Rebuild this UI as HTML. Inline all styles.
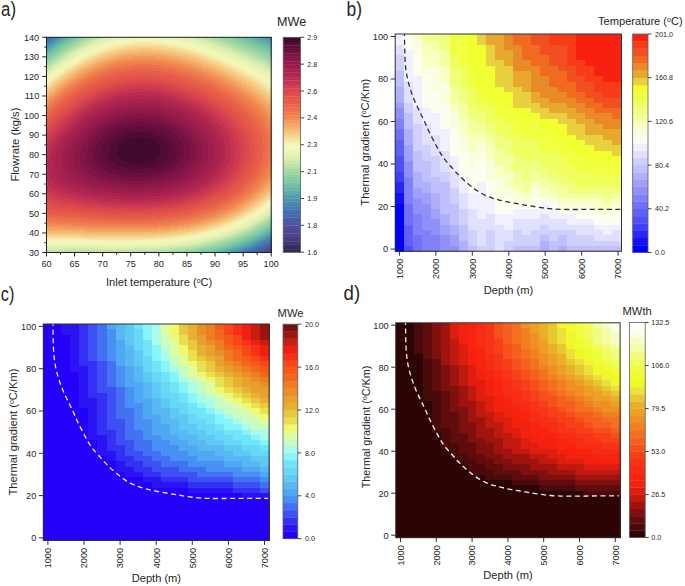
<!DOCTYPE html>
<html><head><meta charset="utf-8"><style>
html,body{margin:0;padding:0;background:#fff;width:685px;height:586px;overflow:hidden;}
</style></head><body>
<svg width="685" height="586" viewBox="0 0 685 586" style="position:absolute;left:0;top:0" font-family='"Liberation Sans", sans-serif' fill="#262626">
<rect x="0" y="0" width="685" height="586" fill="#ffffff"/>
<defs><clipPath id="clipB"><rect x="395.2" y="34.0" width="226.30" height="217.20"/></clipPath><clipPath id="clipC"><rect x="43.3" y="324.0" width="225.80" height="216.40"/></clipPath><clipPath id="clipD"><rect x="395.7" y="322.8" width="224.40" height="214.90"/></clipPath></defs>
<g shape-rendering="crispEdges"><path fill="#473b7e" d="M271.0 251.3h0.5v1.3h-0.5zM270.0 252.3h1.5v0.5h-1.5z"/>
<path fill="#4a4187" d="M270.0 250.3h1.5v1.3h-1.5zM268.0 251.3h3.3v1.3h-3.3zM267.0 252.3h3.3v0.5h-3.3z"/>
<path fill="#4c4690" d="M271.0 248.3h0.5v1.3h-0.5zM269.0 249.3h2.5v1.3h-2.5zM267.0 250.3h3.3v1.3h-3.3zM265.0 251.3h3.3v1.3h-3.3zM263.5 252.3h3.8v0.5h-3.8z"/>
<path fill="#4e4b98" d="M270.0 247.3h1.5v1.3h-1.5zM268.0 248.3h3.3v1.3h-3.3zM266.0 249.3h3.3v1.3h-3.3zM264.0 250.3h3.3v1.3h-3.3zM262.0 251.3h3.3v1.3h-3.3zM260.5 252.3h3.3v0.5h-3.3z"/>
<path fill="#5050a0" d="M271.0 245.3h0.5v1.3h-0.5zM269.0 246.3h2.5v1.3h-2.5zM267.0 247.3h3.3v1.3h-3.3zM265.0 248.3h3.3v1.3h-3.3zM263.0 249.3h3.3v1.3h-3.3zM260.5 250.3h3.8v1.3h-3.8zM258.5 251.3h3.8v1.3h-3.8zM257.0 252.3h3.8v0.5h-3.8z"/>
<path fill="#4c58a4" d="M270.0 244.3h1.5v1.3h-1.5zM268.0 245.3h3.3v1.3h-3.3zM266.0 246.3h3.3v1.3h-3.3zM264.0 247.3h3.3v1.3h-3.3zM261.5 248.3h3.8v1.3h-3.8zM259.5 249.3h3.8v1.3h-3.8zM257.5 250.3h3.3v1.3h-3.3zM255.0 251.3h3.8v1.3h-3.8zM253.5 252.3h3.8v0.5h-3.8z"/>
<path fill="#4860a8" d="M46.5 37.3h0.8v1.3h-0.8zM270.5 242.3h1.0v1.3h-1.0zM269.0 243.3h2.5v1.3h-2.5zM267.0 244.3h3.3v1.3h-3.3zM265.0 245.3h3.3v1.3h-3.3zM262.5 246.3h3.8v1.3h-3.8zM260.5 247.3h3.8v1.3h-3.8zM258.5 248.3h3.3v1.3h-3.3zM256.0 249.3h3.8v1.3h-3.8zM253.5 250.3h4.3v1.3h-4.3zM251.5 251.3h3.8v1.3h-3.8zM250.0 252.3h3.8v0.5h-3.8z"/>
<path fill="#4469ac" d="M47.0 37.3h2.8v1.3h-2.8zM46.5 38.3h2.3v1.3h-2.3zM46.5 39.3h0.8v1.3h-0.8zM269.5 241.3h2.0v1.3h-2.0zM267.5 242.3h3.3v1.3h-3.3zM265.5 243.3h3.8v1.3h-3.8zM263.5 244.3h3.8v1.3h-3.8zM261.5 245.3h3.8v1.3h-3.8zM259.5 246.3h3.3v1.3h-3.3zM257.0 247.3h3.8v1.3h-3.8zM255.0 248.3h3.8v1.3h-3.8zM252.5 249.3h3.8v1.3h-3.8zM250.0 250.3h3.8v1.3h-3.8zM247.5 251.3h4.3v1.3h-4.3zM246.0 252.3h4.3v0.5h-4.3z"/>
<path fill="#4071b0" d="M49.5 37.3h2.8v1.3h-2.8zM48.5 38.3h2.8v1.3h-2.8zM47.0 39.3h2.8v1.3h-2.8zM46.5 40.3h2.3v1.3h-2.3zM46.5 41.3h0.8v1.3h-0.8zM270.0 239.3h1.5v1.3h-1.5zM268.5 240.3h3.0v1.3h-3.0zM266.5 241.3h3.3v1.3h-3.3zM264.5 242.3h3.3v1.3h-3.3zM262.5 243.3h3.3v1.3h-3.3zM260.0 244.3h3.8v1.3h-3.8zM258.0 245.3h3.8v1.3h-3.8zM256.0 246.3h3.8v1.3h-3.8zM253.5 247.3h3.8v1.3h-3.8zM251.0 248.3h4.3v1.3h-4.3zM248.5 249.3h4.3v1.3h-4.3zM246.0 250.3h4.3v1.3h-4.3zM243.5 251.3h4.3v1.3h-4.3zM242.0 252.3h4.3v0.5h-4.3z"/>
<path fill="#447cb0" d="M52.0 37.3h3.3v1.3h-3.3zM51.0 38.3h2.8v1.3h-2.8zM49.5 39.3h2.8v1.3h-2.8zM48.5 40.3h2.8v1.3h-2.8zM47.0 41.3h2.8v1.3h-2.8zM46.5 42.3h2.3v1.3h-2.3zM46.5 43.3h0.8v1.3h-0.8zM270.5 237.3h1.0v1.3h-1.0zM269.0 238.3h2.5v1.3h-2.5zM267.0 239.3h3.3v1.3h-3.3zM265.0 240.3h3.8v1.3h-3.8zM263.0 241.3h3.8v1.3h-3.8zM261.0 242.3h3.8v1.3h-3.8zM259.0 243.3h3.8v1.3h-3.8zM256.5 244.3h3.8v1.3h-3.8zM254.5 245.3h3.8v1.3h-3.8zM252.0 246.3h4.3v1.3h-4.3zM250.0 247.3h3.8v1.3h-3.8zM247.5 248.3h3.8v1.3h-3.8zM244.5 249.3h4.3v1.3h-4.3zM242.0 250.3h4.3v1.3h-4.3zM239.0 251.3h4.8v1.3h-4.8zM237.5 252.3h4.8v0.5h-4.8z"/>
<path fill="#4787b0" d="M55.0 37.3h3.3v1.3h-3.3zM270.5 37.3h1.0v1.3h-1.0zM53.5 38.3h3.3v1.3h-3.3zM52.0 39.3h3.3v1.3h-3.3zM51.0 40.3h2.8v1.3h-2.8zM49.5 41.3h2.8v1.3h-2.8zM48.5 42.3h2.8v1.3h-2.8zM47.0 43.3h2.8v1.3h-2.8zM46.5 44.3h2.3v1.3h-2.3zM46.5 45.3h0.8v1.3h-0.8zM271.0 235.3h0.5v1.3h-0.5zM269.5 236.3h2.0v1.3h-2.0zM267.5 237.3h3.3v1.3h-3.3zM265.5 238.3h3.8v1.3h-3.8zM263.5 239.3h3.8v1.3h-3.8zM261.5 240.3h3.8v1.3h-3.8zM259.5 241.3h3.8v1.3h-3.8zM257.5 242.3h3.8v1.3h-3.8zM255.5 243.3h3.8v1.3h-3.8zM253.0 244.3h3.8v1.3h-3.8zM251.0 245.3h3.8v1.3h-3.8zM248.5 246.3h3.8v1.3h-3.8zM246.0 247.3h4.3v1.3h-4.3zM243.0 248.3h4.8v1.3h-4.8zM240.5 249.3h4.3v1.3h-4.3zM237.5 250.3h4.8v1.3h-4.8zM234.5 251.3h4.8v1.3h-4.8zM233.0 252.3h4.8v0.5h-4.8z"/>
<path fill="#4a92b0" d="M58.0 37.3h2.8v1.3h-2.8zM264.5 37.3h6.3v1.3h-6.3zM56.5 38.3h2.8v1.3h-2.8zM267.0 38.3h4.5v1.3h-4.5zM55.0 39.3h3.3v1.3h-3.3zM269.5 39.3h2.0v1.3h-2.0zM53.5 40.3h3.3v1.3h-3.3zM52.0 41.3h3.3v1.3h-3.3zM51.0 42.3h2.8v1.3h-2.8zM49.5 43.3h3.3v1.3h-3.3zM48.5 44.3h2.8v1.3h-2.8zM47.0 45.3h2.8v1.3h-2.8zM46.5 46.3h2.3v1.3h-2.3zM46.5 47.3h0.8v1.3h-0.8zM270.0 234.3h1.5v1.3h-1.5zM268.0 235.3h3.3v1.3h-3.3zM266.0 236.3h3.8v1.3h-3.8zM264.5 237.3h3.3v1.3h-3.3zM262.5 238.3h3.3v1.3h-3.3zM260.5 239.3h3.3v1.3h-3.3zM258.5 240.3h3.3v1.3h-3.3zM256.0 241.3h3.8v1.3h-3.8zM254.0 242.3h3.8v1.3h-3.8zM251.5 243.3h4.3v1.3h-4.3zM249.5 244.3h3.8v1.3h-3.8zM247.0 245.3h4.3v1.3h-4.3zM244.5 246.3h4.3v1.3h-4.3zM241.5 247.3h4.8v1.3h-4.8zM239.0 248.3h4.3v1.3h-4.3zM236.0 249.3h4.8v1.3h-4.8zM233.0 250.3h4.8v1.3h-4.8zM230.0 251.3h4.8v1.3h-4.8zM228.0 252.3h5.3v0.5h-5.3z"/>
<path fill="#519eae" d="M60.5 37.3h3.3v1.3h-3.3zM258.5 37.3h6.3v1.3h-6.3zM59.0 38.3h3.3v1.3h-3.3zM261.0 38.3h6.3v1.3h-6.3zM58.0 39.3h2.8v1.3h-2.8zM263.0 39.3h6.8v1.3h-6.8zM56.5 40.3h3.3v1.3h-3.3zM265.5 40.3h6.0v1.3h-6.0zM55.0 41.3h3.3v1.3h-3.3zM268.0 41.3h3.5v1.3h-3.5zM53.5 42.3h3.3v1.3h-3.3zM270.5 42.3h1.0v1.3h-1.0zM52.5 43.3h2.8v1.3h-2.8zM51.0 44.3h2.8v1.3h-2.8zM49.5 45.3h3.3v1.3h-3.3zM48.5 46.3h2.8v1.3h-2.8zM47.0 47.3h3.3v1.3h-3.3zM46.5 48.3h2.3v1.3h-2.3zM46.5 49.3h0.8v1.3h-0.8zM270.0 232.3h1.5v1.3h-1.5zM268.5 233.3h3.0v1.3h-3.0zM266.5 234.3h3.8v1.3h-3.8zM265.0 235.3h3.3v1.3h-3.3zM263.0 236.3h3.3v1.3h-3.3zM261.0 237.3h3.8v1.3h-3.8zM259.0 238.3h3.8v1.3h-3.8zM257.0 239.3h3.8v1.3h-3.8zM254.5 240.3h4.3v1.3h-4.3zM252.5 241.3h3.8v1.3h-3.8zM250.0 242.3h4.3v1.3h-4.3zM248.0 243.3h3.8v1.3h-3.8zM245.5 244.3h4.3v1.3h-4.3zM242.5 245.3h4.8v1.3h-4.8zM240.0 246.3h4.8v1.3h-4.8zM237.5 247.3h4.3v1.3h-4.3zM234.5 248.3h4.8v1.3h-4.8zM231.5 249.3h4.8v1.3h-4.8zM228.0 250.3h5.3v1.3h-5.3zM224.5 251.3h5.8v1.3h-5.8zM222.5 252.3h5.8v0.5h-5.8z"/>
<path fill="#5ba9ab" d="M63.5 37.3h3.8v1.3h-3.8zM252.0 37.3h6.8v1.3h-6.8zM62.0 38.3h3.8v1.3h-3.8zM254.5 38.3h6.8v1.3h-6.8zM60.5 39.3h3.8v1.3h-3.8zM257.0 39.3h6.3v1.3h-6.3zM59.5 40.3h3.3v1.3h-3.3zM259.5 40.3h6.3v1.3h-6.3zM58.0 41.3h3.3v1.3h-3.3zM262.0 41.3h6.3v1.3h-6.3zM56.5 42.3h3.3v1.3h-3.3zM264.5 42.3h6.3v1.3h-6.3zM55.0 43.3h3.3v1.3h-3.3zM267.0 43.3h4.5v1.3h-4.5zM53.5 44.3h3.3v1.3h-3.3zM269.0 44.3h2.5v1.3h-2.5zM52.5 45.3h2.8v1.3h-2.8zM51.0 46.3h3.3v1.3h-3.3zM50.0 47.3h2.8v1.3h-2.8zM48.5 48.3h2.8v1.3h-2.8zM47.0 49.3h3.3v1.3h-3.3zM46.5 50.3h2.3v1.3h-2.3zM46.5 51.3h1.3v1.3h-1.3zM270.5 230.3h1.0v1.3h-1.0zM269.0 231.3h2.5v1.3h-2.5zM267.0 232.3h3.3v1.3h-3.3zM265.0 233.3h3.8v1.3h-3.8zM263.5 234.3h3.3v1.3h-3.3zM261.5 235.3h3.8v1.3h-3.8zM259.5 236.3h3.8v1.3h-3.8zM257.5 237.3h3.8v1.3h-3.8zM255.5 238.3h3.8v1.3h-3.8zM253.0 239.3h4.3v1.3h-4.3zM251.0 240.3h3.8v1.3h-3.8zM248.5 241.3h4.3v1.3h-4.3zM246.0 242.3h4.3v1.3h-4.3zM243.5 243.3h4.8v1.3h-4.8zM241.0 244.3h4.8v1.3h-4.8zM238.5 245.3h4.3v1.3h-4.3zM235.5 246.3h4.8v1.3h-4.8zM232.5 247.3h5.3v1.3h-5.3zM229.5 248.3h5.3v1.3h-5.3zM226.0 249.3h5.8v1.3h-5.8zM223.0 250.3h5.3v1.3h-5.3zM219.0 251.3h5.8v1.3h-5.8zM216.5 252.3h6.3v0.5h-6.3z"/>
<path fill="#65b4a8" d="M67.0 37.3h3.3v1.3h-3.3zM246.0 37.3h6.3v1.3h-6.3zM65.5 38.3h3.3v1.3h-3.3zM248.5 38.3h6.3v1.3h-6.3zM64.0 39.3h3.3v1.3h-3.3zM251.0 39.3h6.3v1.3h-6.3zM62.5 40.3h3.3v1.3h-3.3zM253.5 40.3h6.3v1.3h-6.3zM61.0 41.3h3.3v1.3h-3.3zM256.0 41.3h6.3v1.3h-6.3zM59.5 42.3h3.3v1.3h-3.3zM258.5 42.3h6.3v1.3h-6.3zM58.0 43.3h3.3v1.3h-3.3zM260.5 43.3h6.8v1.3h-6.8zM56.5 44.3h3.3v1.3h-3.3zM263.0 44.3h6.3v1.3h-6.3zM55.0 45.3h3.3v1.3h-3.3zM265.5 45.3h6.0v1.3h-6.0zM54.0 46.3h2.8v1.3h-2.8zM267.5 46.3h4.0v1.3h-4.0zM52.5 47.3h3.3v1.3h-3.3zM270.0 47.3h1.5v1.3h-1.5zM51.0 48.3h3.3v1.3h-3.3zM50.0 49.3h2.8v1.3h-2.8zM48.5 50.3h3.3v1.3h-3.3zM47.5 51.3h2.8v1.3h-2.8zM46.5 52.3h2.8v1.3h-2.8zM46.5 53.3h1.3v1.3h-1.3zM270.5 228.3h1.0v1.3h-1.0zM269.0 229.3h2.5v1.3h-2.5zM267.5 230.3h3.3v1.3h-3.3zM265.5 231.3h3.8v1.3h-3.8zM263.5 232.3h3.8v1.3h-3.8zM262.0 233.3h3.3v1.3h-3.3zM260.0 234.3h3.8v1.3h-3.8zM258.0 235.3h3.8v1.3h-3.8zM256.0 236.3h3.8v1.3h-3.8zM253.5 237.3h4.3v1.3h-4.3zM251.5 238.3h4.3v1.3h-4.3zM249.5 239.3h3.8v1.3h-3.8zM247.0 240.3h4.3v1.3h-4.3zM244.5 241.3h4.3v1.3h-4.3zM242.0 242.3h4.3v1.3h-4.3zM239.5 243.3h4.3v1.3h-4.3zM236.5 244.3h4.8v1.3h-4.8zM234.0 245.3h4.8v1.3h-4.8zM231.0 246.3h4.8v1.3h-4.8zM227.5 247.3h5.3v1.3h-5.3zM224.5 248.3h5.3v1.3h-5.3zM220.5 249.3h5.8v1.3h-5.8zM217.0 250.3h6.3v1.3h-6.3zM213.0 251.3h6.3v1.3h-6.3zM210.0 252.3h6.8v0.5h-6.8z"/>
<path fill="#6fbfa4" d="M70.0 37.3h3.8v1.3h-3.8zM240.0 37.3h6.3v1.3h-6.3zM68.5 38.3h3.8v1.3h-3.8zM242.5 38.3h6.3v1.3h-6.3zM67.0 39.3h3.8v1.3h-3.8zM245.0 39.3h6.3v1.3h-6.3zM65.5 40.3h3.3v1.3h-3.3zM247.5 40.3h6.3v1.3h-6.3zM64.0 41.3h3.3v1.3h-3.3zM250.0 41.3h6.3v1.3h-6.3zM62.5 42.3h3.3v1.3h-3.3zM252.5 42.3h6.3v1.3h-6.3zM61.0 43.3h3.3v1.3h-3.3zM254.5 43.3h6.3v1.3h-6.3zM59.5 44.3h3.3v1.3h-3.3zM257.0 44.3h6.3v1.3h-6.3zM58.0 45.3h3.3v1.3h-3.3zM259.5 45.3h6.3v1.3h-6.3zM56.5 46.3h3.3v1.3h-3.3zM261.5 46.3h6.3v1.3h-6.3zM55.5 47.3h3.3v1.3h-3.3zM264.0 47.3h6.3v1.3h-6.3zM54.0 48.3h3.3v1.3h-3.3zM266.5 48.3h5.0v1.3h-5.0zM52.5 49.3h3.3v1.3h-3.3zM268.5 49.3h3.0v1.3h-3.0zM51.5 50.3h2.8v1.3h-2.8zM270.5 50.3h1.0v1.3h-1.0zM50.0 51.3h3.3v1.3h-3.3zM49.0 52.3h2.8v1.3h-2.8zM47.5 53.3h3.3v1.3h-3.3zM46.5 54.3h2.8v1.3h-2.8zM46.5 55.3h1.3v1.3h-1.3zM271.0 226.3h0.5v1.3h-0.5zM269.0 227.3h2.5v1.3h-2.5zM267.5 228.3h3.3v1.3h-3.3zM265.5 229.3h3.8v1.3h-3.8zM264.0 230.3h3.8v1.3h-3.8zM262.0 231.3h3.8v1.3h-3.8zM260.0 232.3h3.8v1.3h-3.8zM258.5 233.3h3.8v1.3h-3.8zM256.5 234.3h3.8v1.3h-3.8zM254.0 235.3h4.3v1.3h-4.3zM252.0 236.3h4.3v1.3h-4.3zM250.0 237.3h3.8v1.3h-3.8zM247.5 238.3h4.3v1.3h-4.3zM245.0 239.3h4.8v1.3h-4.8zM243.0 240.3h4.3v1.3h-4.3zM240.0 241.3h4.8v1.3h-4.8zM237.5 242.3h4.8v1.3h-4.8zM235.0 243.3h4.8v1.3h-4.8zM232.0 244.3h4.8v1.3h-4.8zM229.0 245.3h5.3v1.3h-5.3zM225.5 246.3h5.8v1.3h-5.8zM222.0 247.3h5.8v1.3h-5.8zM218.5 248.3h6.3v1.3h-6.3zM214.5 249.3h6.3v1.3h-6.3zM210.5 250.3h6.8v1.3h-6.8zM206.0 251.3h7.3v1.3h-7.3zM203.0 252.3h7.3v0.5h-7.3z"/>
<path fill="#7bc6a4" d="M73.5 37.3h4.3v1.3h-4.3zM233.5 37.3h6.8v1.3h-6.8zM72.0 38.3h3.8v1.3h-3.8zM236.0 38.3h6.8v1.3h-6.8zM70.5 39.3h3.8v1.3h-3.8zM238.5 39.3h6.8v1.3h-6.8zM68.5 40.3h3.8v1.3h-3.8zM241.0 40.3h6.8v1.3h-6.8zM67.0 41.3h3.8v1.3h-3.8zM243.5 41.3h6.8v1.3h-6.8zM65.5 42.3h3.8v1.3h-3.8zM246.0 42.3h6.8v1.3h-6.8zM64.0 43.3h3.8v1.3h-3.8zM248.5 43.3h6.3v1.3h-6.3zM62.5 44.3h3.8v1.3h-3.8zM251.0 44.3h6.3v1.3h-6.3zM61.0 45.3h3.8v1.3h-3.8zM253.5 45.3h6.3v1.3h-6.3zM59.5 46.3h3.8v1.3h-3.8zM255.5 46.3h6.3v1.3h-6.3zM58.5 47.3h3.3v1.3h-3.3zM258.0 47.3h6.3v1.3h-6.3zM57.0 48.3h3.3v1.3h-3.3zM260.5 48.3h6.3v1.3h-6.3zM55.5 49.3h3.3v1.3h-3.3zM262.5 49.3h6.3v1.3h-6.3zM54.0 50.3h3.3v1.3h-3.3zM265.0 50.3h5.8v1.3h-5.8zM53.0 51.3h3.3v1.3h-3.3zM267.0 51.3h4.5v1.3h-4.5zM51.5 52.3h3.3v1.3h-3.3zM269.0 52.3h2.5v1.3h-2.5zM50.5 53.3h2.8v1.3h-2.8zM49.0 54.3h3.3v1.3h-3.3zM47.5 55.3h3.3v1.3h-3.3zM46.5 56.3h2.8v1.3h-2.8zM46.5 57.3h1.8v1.3h-1.8zM271.0 224.3h0.5v1.3h-0.5zM269.0 225.3h2.5v1.3h-2.5zM267.5 226.3h3.8v1.3h-3.8zM266.0 227.3h3.3v1.3h-3.3zM264.0 228.3h3.8v1.3h-3.8zM262.5 229.3h3.3v1.3h-3.3zM260.5 230.3h3.8v1.3h-3.8zM258.5 231.3h3.8v1.3h-3.8zM256.5 232.3h3.8v1.3h-3.8zM254.5 233.3h4.3v1.3h-4.3zM252.5 234.3h4.3v1.3h-4.3zM250.5 235.3h3.8v1.3h-3.8zM248.0 236.3h4.3v1.3h-4.3zM246.0 237.3h4.3v1.3h-4.3zM243.5 238.3h4.3v1.3h-4.3zM241.0 239.3h4.3v1.3h-4.3zM238.5 240.3h4.8v1.3h-4.8zM235.5 241.3h4.8v1.3h-4.8zM233.0 242.3h4.8v1.3h-4.8zM230.0 243.3h5.3v1.3h-5.3zM227.0 244.3h5.3v1.3h-5.3zM223.5 245.3h5.8v1.3h-5.8zM220.0 246.3h5.8v1.3h-5.8zM216.5 247.3h5.8v1.3h-5.8zM212.0 248.3h6.8v1.3h-6.8zM208.0 249.3h6.8v1.3h-6.8zM203.0 250.3h7.8v1.3h-7.8zM198.0 251.3h8.3v1.3h-8.3zM194.5 252.3h8.8v0.5h-8.8z"/>
<path fill="#87cca4" d="M77.5 37.3h3.8v1.3h-3.8zM227.0 37.3h6.8v1.3h-6.8zM75.5 38.3h4.3v1.3h-4.3zM230.0 38.3h6.3v1.3h-6.3zM74.0 39.3h3.8v1.3h-3.8zM232.5 39.3h6.3v1.3h-6.3zM72.0 40.3h4.3v1.3h-4.3zM235.0 40.3h6.3v1.3h-6.3zM70.5 41.3h3.8v1.3h-3.8zM237.5 41.3h6.3v1.3h-6.3zM69.0 42.3h3.8v1.3h-3.8zM240.0 42.3h6.3v1.3h-6.3zM67.5 43.3h3.8v1.3h-3.8zM242.5 43.3h6.3v1.3h-6.3zM66.0 44.3h3.3v1.3h-3.3zM245.0 44.3h6.3v1.3h-6.3zM64.5 45.3h3.3v1.3h-3.3zM247.5 45.3h6.3v1.3h-6.3zM63.0 46.3h3.3v1.3h-3.3zM249.5 46.3h6.3v1.3h-6.3zM61.5 47.3h3.3v1.3h-3.3zM252.0 47.3h6.3v1.3h-6.3zM60.0 48.3h3.3v1.3h-3.3zM254.5 48.3h6.3v1.3h-6.3zM58.5 49.3h3.3v1.3h-3.3zM256.5 49.3h6.3v1.3h-6.3zM57.0 50.3h3.3v1.3h-3.3zM259.0 50.3h6.3v1.3h-6.3zM56.0 51.3h3.3v1.3h-3.3zM261.0 51.3h6.3v1.3h-6.3zM54.5 52.3h3.3v1.3h-3.3zM263.0 52.3h6.3v1.3h-6.3zM53.0 53.3h3.3v1.3h-3.3zM265.5 53.3h6.0v1.3h-6.0zM52.0 54.3h2.8v1.3h-2.8zM267.5 54.3h4.0v1.3h-4.0zM50.5 55.3h3.3v1.3h-3.3zM269.5 55.3h2.0v1.3h-2.0zM49.0 56.3h3.3v1.3h-3.3zM48.0 57.3h3.3v1.3h-3.3zM46.5 58.3h3.3v1.3h-3.3zM46.5 59.3h1.8v1.3h-1.8zM46.5 60.3h0.8v1.3h-0.8zM271.0 222.3h0.5v1.3h-0.5zM269.0 223.3h2.5v1.3h-2.5zM267.5 224.3h3.8v1.3h-3.8zM266.0 225.3h3.3v1.3h-3.3zM264.0 226.3h3.8v1.3h-3.8zM262.5 227.3h3.8v1.3h-3.8zM260.5 228.3h3.8v1.3h-3.8zM259.0 229.3h3.8v1.3h-3.8zM257.0 230.3h3.8v1.3h-3.8zM255.0 231.3h3.8v1.3h-3.8zM253.0 232.3h3.8v1.3h-3.8zM251.0 233.3h3.8v1.3h-3.8zM248.5 234.3h4.3v1.3h-4.3zM246.5 235.3h4.3v1.3h-4.3zM244.0 236.3h4.3v1.3h-4.3zM241.5 237.3h4.8v1.3h-4.8zM239.0 238.3h4.8v1.3h-4.8zM236.5 239.3h4.8v1.3h-4.8zM234.0 240.3h4.8v1.3h-4.8zM231.0 241.3h4.8v1.3h-4.8zM228.0 242.3h5.3v1.3h-5.3zM224.5 243.3h5.8v1.3h-5.8zM221.5 244.3h5.8v1.3h-5.8zM217.5 245.3h6.3v1.3h-6.3zM214.0 246.3h6.3v1.3h-6.3zM209.5 247.3h7.3v1.3h-7.3zM205.0 248.3h7.3v1.3h-7.3zM200.0 249.3h8.3v1.3h-8.3zM194.5 250.3h8.8v1.3h-8.8zM188.0 251.3h10.3v1.3h-10.3zM184.0 252.3h10.8v0.5h-10.8z"/>
<path fill="#94d2a4" d="M81.0 37.3h4.8v1.3h-4.8zM220.5 37.3h6.8v1.3h-6.8zM79.5 38.3h4.3v1.3h-4.3zM223.0 38.3h7.3v1.3h-7.3zM77.5 39.3h4.3v1.3h-4.3zM226.0 39.3h6.8v1.3h-6.8zM76.0 40.3h3.8v1.3h-3.8zM228.5 40.3h6.8v1.3h-6.8zM74.0 41.3h4.3v1.3h-4.3zM231.0 41.3h6.8v1.3h-6.8zM72.5 42.3h3.8v1.3h-3.8zM233.5 42.3h6.8v1.3h-6.8zM71.0 43.3h3.8v1.3h-3.8zM236.0 43.3h6.8v1.3h-6.8zM69.0 44.3h3.8v1.3h-3.8zM238.5 44.3h6.8v1.3h-6.8zM67.5 45.3h3.8v1.3h-3.8zM241.0 45.3h6.8v1.3h-6.8zM66.0 46.3h3.8v1.3h-3.8zM243.5 46.3h6.3v1.3h-6.3zM64.5 47.3h3.8v1.3h-3.8zM246.0 47.3h6.3v1.3h-6.3zM63.0 48.3h3.8v1.3h-3.8zM248.0 48.3h6.8v1.3h-6.8zM61.5 49.3h3.8v1.3h-3.8zM250.5 49.3h6.3v1.3h-6.3zM60.0 50.3h3.8v1.3h-3.8zM253.0 50.3h6.3v1.3h-6.3zM59.0 51.3h3.3v1.3h-3.3zM255.0 51.3h6.3v1.3h-6.3zM57.5 52.3h3.3v1.3h-3.3zM257.0 52.3h6.3v1.3h-6.3zM56.0 53.3h3.3v1.3h-3.3zM259.5 53.3h6.3v1.3h-6.3zM54.5 54.3h3.3v1.3h-3.3zM261.5 54.3h6.3v1.3h-6.3zM53.5 55.3h3.3v1.3h-3.3zM263.5 55.3h6.3v1.3h-6.3zM52.0 56.3h3.3v1.3h-3.3zM266.0 56.3h5.5v1.3h-5.5zM51.0 57.3h2.8v1.3h-2.8zM268.0 57.3h3.5v1.3h-3.5zM49.5 58.3h3.3v1.3h-3.3zM270.0 58.3h1.5v1.3h-1.5zM48.0 59.3h3.3v1.3h-3.3zM47.0 60.3h3.3v1.3h-3.3zM46.5 61.3h2.3v1.3h-2.3zM46.5 62.3h1.3v1.3h-1.3zM270.5 220.3h1.0v1.3h-1.0zM269.0 221.3h2.5v1.3h-2.5zM267.5 222.3h3.8v1.3h-3.8zM266.0 223.3h3.3v1.3h-3.3zM264.0 224.3h3.8v1.3h-3.8zM262.5 225.3h3.8v1.3h-3.8zM260.5 226.3h3.8v1.3h-3.8zM259.0 227.3h3.8v1.3h-3.8zM257.0 228.3h3.8v1.3h-3.8zM255.0 229.3h4.3v1.3h-4.3zM253.0 230.3h4.3v1.3h-4.3zM251.0 231.3h4.3v1.3h-4.3zM249.0 232.3h4.3v1.3h-4.3zM247.0 233.3h4.3v1.3h-4.3zM244.5 234.3h4.3v1.3h-4.3zM242.0 235.3h4.8v1.3h-4.8zM239.5 236.3h4.8v1.3h-4.8zM237.0 237.3h4.8v1.3h-4.8zM234.5 238.3h4.8v1.3h-4.8zM231.5 239.3h5.3v1.3h-5.3zM229.0 240.3h5.3v1.3h-5.3zM225.5 241.3h5.8v1.3h-5.8zM222.5 242.3h5.8v1.3h-5.8zM219.0 243.3h5.8v1.3h-5.8zM215.0 244.3h6.8v1.3h-6.8zM211.0 245.3h6.8v1.3h-6.8zM207.0 246.3h7.3v1.3h-7.3zM202.0 247.3h7.8v1.3h-7.8zM197.0 248.3h8.3v1.3h-8.3zM191.0 249.3h9.3v1.3h-9.3zM184.0 250.3h10.8v1.3h-10.8zM175.5 251.3h12.8v1.3h-12.8zM169.5 252.3h14.8v0.5h-14.8z"/>
<path fill="#a0d8a4" d="M85.5 37.3h4.8v1.3h-4.8zM213.5 37.3h7.3v1.3h-7.3zM83.5 38.3h4.3v1.3h-4.3zM216.5 38.3h6.8v1.3h-6.8zM81.5 39.3h4.3v1.3h-4.3zM219.0 39.3h7.3v1.3h-7.3zM79.5 40.3h4.3v1.3h-4.3zM222.0 40.3h6.8v1.3h-6.8zM78.0 41.3h4.3v1.3h-4.3zM224.5 41.3h6.8v1.3h-6.8zM76.0 42.3h4.3v1.3h-4.3zM227.5 42.3h6.3v1.3h-6.3zM74.5 43.3h3.8v1.3h-3.8zM230.0 43.3h6.3v1.3h-6.3zM72.5 44.3h4.3v1.3h-4.3zM232.5 44.3h6.3v1.3h-6.3zM71.0 45.3h3.8v1.3h-3.8zM235.0 45.3h6.3v1.3h-6.3zM69.5 46.3h3.8v1.3h-3.8zM237.5 46.3h6.3v1.3h-6.3zM68.0 47.3h3.8v1.3h-3.8zM239.5 47.3h6.8v1.3h-6.8zM66.5 48.3h3.8v1.3h-3.8zM242.0 48.3h6.3v1.3h-6.3zM65.0 49.3h3.8v1.3h-3.8zM244.5 49.3h6.3v1.3h-6.3zM63.5 50.3h3.3v1.3h-3.3zM246.5 50.3h6.8v1.3h-6.8zM62.0 51.3h3.3v1.3h-3.3zM249.0 51.3h6.3v1.3h-6.3zM60.5 52.3h3.8v1.3h-3.8zM251.0 52.3h6.3v1.3h-6.3zM59.0 53.3h3.8v1.3h-3.8zM253.5 53.3h6.3v1.3h-6.3zM57.5 54.3h3.8v1.3h-3.8zM255.5 54.3h6.3v1.3h-6.3zM56.5 55.3h3.3v1.3h-3.3zM258.0 55.3h5.8v1.3h-5.8zM55.0 56.3h3.3v1.3h-3.3zM260.0 56.3h6.3v1.3h-6.3zM53.5 57.3h3.3v1.3h-3.3zM262.0 57.3h6.3v1.3h-6.3zM52.5 58.3h3.3v1.3h-3.3zM264.0 58.3h6.3v1.3h-6.3zM51.0 59.3h3.3v1.3h-3.3zM266.0 59.3h5.5v1.3h-5.5zM50.0 60.3h3.3v1.3h-3.3zM268.0 60.3h3.5v1.3h-3.5zM48.5 61.3h3.3v1.3h-3.3zM270.0 61.3h1.5v1.3h-1.5zM47.5 62.3h2.8v1.3h-2.8zM46.5 63.3h2.8v1.3h-2.8zM46.5 64.3h1.3v1.3h-1.3zM270.5 218.3h1.0v1.3h-1.0zM269.0 219.3h2.5v1.3h-2.5zM267.5 220.3h3.3v1.3h-3.3zM265.5 221.3h3.8v1.3h-3.8zM264.0 222.3h3.8v1.3h-3.8zM262.5 223.3h3.8v1.3h-3.8zM260.5 224.3h3.8v1.3h-3.8zM259.0 225.3h3.8v1.3h-3.8zM257.0 226.3h3.8v1.3h-3.8zM255.0 227.3h4.3v1.3h-4.3zM253.5 228.3h3.8v1.3h-3.8zM251.5 229.3h3.8v1.3h-3.8zM249.0 230.3h4.3v1.3h-4.3zM247.0 231.3h4.3v1.3h-4.3zM245.0 232.3h4.3v1.3h-4.3zM242.5 233.3h4.8v1.3h-4.8zM240.0 234.3h4.8v1.3h-4.8zM237.5 235.3h4.8v1.3h-4.8zM235.0 236.3h4.8v1.3h-4.8zM232.5 237.3h4.8v1.3h-4.8zM229.5 238.3h5.3v1.3h-5.3zM226.5 239.3h5.3v1.3h-5.3zM223.5 240.3h5.8v1.3h-5.8zM220.0 241.3h5.8v1.3h-5.8zM216.5 242.3h6.3v1.3h-6.3zM212.5 243.3h6.8v1.3h-6.8zM208.5 244.3h6.8v1.3h-6.8zM204.0 245.3h7.3v1.3h-7.3zM199.0 246.3h8.3v1.3h-8.3zM193.5 247.3h8.8v1.3h-8.8zM187.0 248.3h10.3v1.3h-10.3zM179.5 249.3h11.8v1.3h-11.8zM170.0 250.3h14.3v1.3h-14.3zM156.5 251.3h19.3v1.3h-19.3zM143.0 252.3h26.8v0.5h-26.8z"/>
<path fill="#b0dea7" d="M90.0 37.3h5.3v1.3h-5.3zM206.0 37.3h7.8v1.3h-7.8zM87.5 38.3h5.3v1.3h-5.3zM209.5 38.3h7.3v1.3h-7.3zM85.5 39.3h5.3v1.3h-5.3zM212.5 39.3h6.8v1.3h-6.8zM83.5 40.3h4.8v1.3h-4.8zM215.0 40.3h7.3v1.3h-7.3zM82.0 41.3h4.3v1.3h-4.3zM218.0 41.3h6.8v1.3h-6.8zM80.0 42.3h4.3v1.3h-4.3zM220.5 42.3h7.3v1.3h-7.3zM78.0 43.3h4.3v1.3h-4.3zM223.5 43.3h6.8v1.3h-6.8zM76.5 44.3h4.3v1.3h-4.3zM226.0 44.3h6.8v1.3h-6.8zM74.5 45.3h4.3v1.3h-4.3zM228.5 45.3h6.8v1.3h-6.8zM73.0 46.3h4.3v1.3h-4.3zM231.0 46.3h6.8v1.3h-6.8zM71.5 47.3h3.8v1.3h-3.8zM233.5 47.3h6.3v1.3h-6.3zM70.0 48.3h3.8v1.3h-3.8zM236.0 48.3h6.3v1.3h-6.3zM68.5 49.3h3.8v1.3h-3.8zM238.0 49.3h6.8v1.3h-6.8zM66.5 50.3h3.8v1.3h-3.8zM240.5 50.3h6.3v1.3h-6.3zM65.0 51.3h3.8v1.3h-3.8zM243.0 51.3h6.3v1.3h-6.3zM64.0 52.3h3.3v1.3h-3.3zM245.0 52.3h6.3v1.3h-6.3zM62.5 53.3h3.3v1.3h-3.3zM247.5 53.3h6.3v1.3h-6.3zM61.0 54.3h3.3v1.3h-3.3zM249.5 54.3h6.3v1.3h-6.3zM59.5 55.3h3.3v1.3h-3.3zM252.0 55.3h6.3v1.3h-6.3zM58.0 56.3h3.8v1.3h-3.8zM254.0 56.3h6.3v1.3h-6.3zM56.5 57.3h3.8v1.3h-3.8zM256.0 57.3h6.3v1.3h-6.3zM55.5 58.3h3.3v1.3h-3.3zM258.0 58.3h6.3v1.3h-6.3zM54.0 59.3h3.3v1.3h-3.3zM260.0 59.3h6.3v1.3h-6.3zM53.0 60.3h3.3v1.3h-3.3zM262.5 60.3h5.8v1.3h-5.8zM51.5 61.3h3.3v1.3h-3.3zM264.5 61.3h5.8v1.3h-5.8zM50.0 62.3h3.3v1.3h-3.3zM266.0 62.3h5.5v1.3h-5.5zM49.0 63.3h3.3v1.3h-3.3zM268.0 63.3h3.5v1.3h-3.5zM47.5 64.3h3.3v1.3h-3.3zM270.0 64.3h1.5v1.3h-1.5zM46.5 65.3h3.3v1.3h-3.3zM46.5 66.3h1.8v1.3h-1.8zM46.5 67.3h0.8v1.3h-0.8zM270.0 216.3h1.5v1.3h-1.5zM268.5 217.3h3.0v1.3h-3.0zM267.0 218.3h3.8v1.3h-3.8zM265.5 219.3h3.8v1.3h-3.8zM264.0 220.3h3.8v1.3h-3.8zM262.5 221.3h3.3v1.3h-3.3zM260.5 222.3h3.8v1.3h-3.8zM259.0 223.3h3.8v1.3h-3.8zM257.0 224.3h3.8v1.3h-3.8zM255.0 225.3h4.3v1.3h-4.3zM253.5 226.3h3.8v1.3h-3.8zM251.5 227.3h3.8v1.3h-3.8zM249.5 228.3h4.3v1.3h-4.3zM247.0 229.3h4.8v1.3h-4.8zM245.0 230.3h4.3v1.3h-4.3zM243.0 231.3h4.3v1.3h-4.3zM240.5 232.3h4.8v1.3h-4.8zM238.0 233.3h4.8v1.3h-4.8zM235.5 234.3h4.8v1.3h-4.8zM233.0 235.3h4.8v1.3h-4.8zM230.0 236.3h5.3v1.3h-5.3zM227.5 237.3h5.3v1.3h-5.3zM224.0 238.3h5.8v1.3h-5.8zM221.0 239.3h5.8v1.3h-5.8zM217.5 240.3h6.3v1.3h-6.3zM214.0 241.3h6.3v1.3h-6.3zM210.0 242.3h6.8v1.3h-6.8zM205.5 243.3h7.3v1.3h-7.3zM201.0 244.3h7.8v1.3h-7.8zM195.5 245.3h8.8v1.3h-8.8zM189.5 246.3h9.8v1.3h-9.8zM182.5 247.3h11.3v1.3h-11.3zM174.0 248.3h13.3v1.3h-13.3zM162.5 249.3h17.3v1.3h-17.3zM143.0 250.3h27.3v1.3h-27.3zM47.0 251.3h109.8v1.3h-109.8zM46.5 252.3h96.8v0.5h-96.8z"/>
<path fill="#c1e4aa" d="M95.0 37.3h5.8v1.3h-5.8zM198.5 37.3h7.8v1.3h-7.8zM92.5 38.3h5.8v1.3h-5.8zM201.5 38.3h8.3v1.3h-8.3zM90.5 39.3h5.3v1.3h-5.3zM205.0 39.3h7.8v1.3h-7.8zM88.0 40.3h5.3v1.3h-5.3zM208.0 40.3h7.3v1.3h-7.3zM86.0 41.3h5.3v1.3h-5.3zM211.0 41.3h7.3v1.3h-7.3zM84.0 42.3h4.8v1.3h-4.8zM213.5 42.3h7.3v1.3h-7.3zM82.0 43.3h4.8v1.3h-4.8zM216.5 43.3h7.3v1.3h-7.3zM80.5 44.3h4.3v1.3h-4.3zM219.0 44.3h7.3v1.3h-7.3zM78.5 45.3h4.3v1.3h-4.3zM222.0 45.3h6.8v1.3h-6.8zM77.0 46.3h4.3v1.3h-4.3zM224.5 46.3h6.8v1.3h-6.8zM75.0 47.3h4.3v1.3h-4.3zM227.0 47.3h6.8v1.3h-6.8zM73.5 48.3h4.3v1.3h-4.3zM229.5 48.3h6.8v1.3h-6.8zM72.0 49.3h3.8v1.3h-3.8zM232.0 49.3h6.3v1.3h-6.3zM70.0 50.3h4.3v1.3h-4.3zM234.5 50.3h6.3v1.3h-6.3zM68.5 51.3h4.3v1.3h-4.3zM236.5 51.3h6.8v1.3h-6.8zM67.0 52.3h3.8v1.3h-3.8zM239.0 52.3h6.3v1.3h-6.3zM65.5 53.3h3.8v1.3h-3.8zM241.5 53.3h6.3v1.3h-6.3zM64.0 54.3h3.8v1.3h-3.8zM243.5 54.3h6.3v1.3h-6.3zM62.5 55.3h3.8v1.3h-3.8zM246.0 55.3h6.3v1.3h-6.3zM61.5 56.3h3.3v1.3h-3.3zM248.0 56.3h6.3v1.3h-6.3zM60.0 57.3h3.3v1.3h-3.3zM250.0 57.3h6.3v1.3h-6.3zM58.5 58.3h3.3v1.3h-3.3zM252.0 58.3h6.3v1.3h-6.3zM57.0 59.3h3.8v1.3h-3.8zM254.5 59.3h5.8v1.3h-5.8zM56.0 60.3h3.3v1.3h-3.3zM256.5 60.3h6.3v1.3h-6.3zM54.5 61.3h3.3v1.3h-3.3zM258.5 61.3h6.3v1.3h-6.3zM53.0 62.3h3.8v1.3h-3.8zM260.5 62.3h5.8v1.3h-5.8zM52.0 63.3h3.3v1.3h-3.3zM262.5 63.3h5.8v1.3h-5.8zM50.5 64.3h3.3v1.3h-3.3zM264.5 64.3h5.8v1.3h-5.8zM49.5 65.3h3.3v1.3h-3.3zM266.0 65.3h5.5v1.3h-5.5zM48.0 66.3h3.3v1.3h-3.3zM268.0 66.3h3.5v1.3h-3.5zM47.0 67.3h3.3v1.3h-3.3zM270.0 67.3h1.5v1.3h-1.5zM46.5 68.3h2.3v1.3h-2.3zM46.5 69.3h1.3v1.3h-1.3zM271.0 213.3h0.5v1.3h-0.5zM269.5 214.3h2.0v1.3h-2.0zM268.0 215.3h3.5v1.3h-3.5zM266.5 216.3h3.8v1.3h-3.8zM265.0 217.3h3.8v1.3h-3.8zM263.5 218.3h3.8v1.3h-3.8zM262.0 219.3h3.8v1.3h-3.8zM260.5 220.3h3.8v1.3h-3.8zM258.5 221.3h4.3v1.3h-4.3zM257.0 222.3h3.8v1.3h-3.8zM255.0 223.3h4.3v1.3h-4.3zM253.5 224.3h3.8v1.3h-3.8zM251.5 225.3h3.8v1.3h-3.8zM249.5 226.3h4.3v1.3h-4.3zM247.5 227.3h4.3v1.3h-4.3zM245.0 228.3h4.8v1.3h-4.8zM243.0 229.3h4.3v1.3h-4.3zM241.0 230.3h4.3v1.3h-4.3zM238.5 231.3h4.8v1.3h-4.8zM236.0 232.3h4.8v1.3h-4.8zM233.5 233.3h4.8v1.3h-4.8zM230.5 234.3h5.3v1.3h-5.3zM228.0 235.3h5.3v1.3h-5.3zM225.0 236.3h5.3v1.3h-5.3zM221.5 237.3h6.3v1.3h-6.3zM218.5 238.3h5.8v1.3h-5.8zM215.0 239.3h6.3v1.3h-6.3zM211.0 240.3h6.8v1.3h-6.8zM207.0 241.3h7.3v1.3h-7.3zM202.5 242.3h7.8v1.3h-7.8zM197.5 243.3h8.3v1.3h-8.3zM191.5 244.3h9.8v1.3h-9.8zM185.0 245.3h10.8v1.3h-10.8zM177.5 246.3h12.3v1.3h-12.3zM167.5 247.3h15.3v1.3h-15.3zM152.5 248.3h21.8v1.3h-21.8zM53.0 249.3h109.8v1.3h-109.8zM46.5 250.3h96.8v1.3h-96.8zM46.5 251.3h0.8v1.3h-0.8z"/>
<path fill="#d1eaad" d="M100.5 37.3h6.8v1.3h-6.8zM189.5 37.3h9.3v1.3h-9.3zM98.0 38.3h6.3v1.3h-6.3zM193.5 38.3h8.3v1.3h-8.3zM95.5 39.3h5.8v1.3h-5.8zM197.0 39.3h8.3v1.3h-8.3zM93.0 40.3h5.8v1.3h-5.8zM200.0 40.3h8.3v1.3h-8.3zM91.0 41.3h5.3v1.3h-5.3zM203.5 41.3h7.8v1.3h-7.8zM88.5 42.3h5.3v1.3h-5.3zM206.5 42.3h7.3v1.3h-7.3zM86.5 43.3h5.3v1.3h-5.3zM209.5 43.3h7.3v1.3h-7.3zM84.5 44.3h4.8v1.3h-4.8zM212.5 44.3h6.8v1.3h-6.8zM82.5 45.3h4.8v1.3h-4.8zM215.0 45.3h7.3v1.3h-7.3zM81.0 46.3h4.3v1.3h-4.3zM218.0 46.3h6.8v1.3h-6.8zM79.0 47.3h4.8v1.3h-4.8zM220.5 47.3h6.8v1.3h-6.8zM77.5 48.3h4.3v1.3h-4.3zM223.0 48.3h6.8v1.3h-6.8zM75.5 49.3h4.3v1.3h-4.3zM225.5 49.3h6.8v1.3h-6.8zM74.0 50.3h4.3v1.3h-4.3zM228.0 50.3h6.8v1.3h-6.8zM72.5 51.3h3.8v1.3h-3.8zM230.5 51.3h6.3v1.3h-6.3zM70.5 52.3h4.3v1.3h-4.3zM233.0 52.3h6.3v1.3h-6.3zM69.0 53.3h4.3v1.3h-4.3zM235.0 53.3h6.8v1.3h-6.8zM67.5 54.3h3.8v1.3h-3.8zM237.5 54.3h6.3v1.3h-6.3zM66.0 55.3h3.8v1.3h-3.8zM239.5 55.3h6.8v1.3h-6.8zM64.5 56.3h3.8v1.3h-3.8zM242.0 56.3h6.3v1.3h-6.3zM63.0 57.3h3.8v1.3h-3.8zM244.0 57.3h6.3v1.3h-6.3zM61.5 58.3h3.8v1.3h-3.8zM246.0 58.3h6.3v1.3h-6.3zM60.5 59.3h3.3v1.3h-3.3zM248.5 59.3h6.3v1.3h-6.3zM59.0 60.3h3.3v1.3h-3.3zM250.5 60.3h6.3v1.3h-6.3zM57.5 61.3h3.8v1.3h-3.8zM252.5 61.3h6.3v1.3h-6.3zM56.5 62.3h3.3v1.3h-3.3zM254.5 62.3h6.3v1.3h-6.3zM55.0 63.3h3.3v1.3h-3.3zM256.5 63.3h6.3v1.3h-6.3zM53.5 64.3h3.8v1.3h-3.8zM258.5 64.3h6.3v1.3h-6.3zM52.5 65.3h3.3v1.3h-3.3zM260.5 65.3h5.8v1.3h-5.8zM51.0 66.3h3.3v1.3h-3.3zM262.5 66.3h5.8v1.3h-5.8zM50.0 67.3h3.3v1.3h-3.3zM264.0 67.3h6.3v1.3h-6.3zM48.5 68.3h3.3v1.3h-3.3zM266.0 68.3h5.5v1.3h-5.5zM47.5 69.3h3.3v1.3h-3.3zM268.0 69.3h3.5v1.3h-3.5zM46.5 70.3h2.8v1.3h-2.8zM269.5 70.3h2.0v1.3h-2.0zM46.5 71.3h1.8v1.3h-1.8zM270.5 211.3h1.0v1.3h-1.0zM269.0 212.3h2.5v1.3h-2.5zM267.5 213.3h3.8v1.3h-3.8zM266.5 214.3h3.3v1.3h-3.3zM265.0 215.3h3.3v1.3h-3.3zM263.0 216.3h3.8v1.3h-3.8zM261.5 217.3h3.8v1.3h-3.8zM260.0 218.3h3.8v1.3h-3.8zM258.5 219.3h3.8v1.3h-3.8zM256.5 220.3h4.3v1.3h-4.3zM255.0 221.3h3.8v1.3h-3.8zM253.0 222.3h4.3v1.3h-4.3zM251.0 223.3h4.3v1.3h-4.3zM249.5 224.3h4.3v1.3h-4.3zM247.5 225.3h4.3v1.3h-4.3zM245.0 226.3h4.8v1.3h-4.8zM243.0 227.3h4.8v1.3h-4.8zM241.0 228.3h4.3v1.3h-4.3zM238.5 229.3h4.8v1.3h-4.8zM236.0 230.3h5.3v1.3h-5.3zM233.5 231.3h5.3v1.3h-5.3zM231.0 232.3h5.3v1.3h-5.3zM228.5 233.3h5.3v1.3h-5.3zM225.5 234.3h5.3v1.3h-5.3zM222.5 235.3h5.8v1.3h-5.8zM219.0 236.3h6.3v1.3h-6.3zM215.5 237.3h6.3v1.3h-6.3zM212.0 238.3h6.8v1.3h-6.8zM208.0 239.3h7.3v1.3h-7.3zM203.5 240.3h7.8v1.3h-7.8zM199.0 241.3h8.3v1.3h-8.3zM193.5 242.3h9.3v1.3h-9.3zM187.5 243.3h10.3v1.3h-10.3zM180.0 244.3h11.8v1.3h-11.8zM171.0 245.3h14.3v1.3h-14.3zM159.0 246.3h18.8v1.3h-18.8zM63.0 247.3h31.8v1.3h-31.8zM132.5 247.3h35.3v1.3h-35.3zM46.5 248.3h106.3v1.3h-106.3zM46.5 249.3h6.8v1.3h-6.8z"/>
<path fill="#e1f0b0" d="M107.0 37.3h8.3v1.3h-8.3zM179.5 37.3h10.3v1.3h-10.3zM104.0 38.3h7.3v1.3h-7.3zM184.0 38.3h9.8v1.3h-9.8zM101.0 39.3h7.3v1.3h-7.3zM188.0 39.3h9.3v1.3h-9.3zM98.5 40.3h6.3v1.3h-6.3zM192.0 40.3h8.3v1.3h-8.3zM96.0 41.3h6.3v1.3h-6.3zM195.5 41.3h8.3v1.3h-8.3zM93.5 42.3h5.8v1.3h-5.8zM198.5 42.3h8.3v1.3h-8.3zM91.5 43.3h5.3v1.3h-5.3zM202.0 43.3h7.8v1.3h-7.8zM89.0 44.3h5.8v1.3h-5.8zM205.0 44.3h7.8v1.3h-7.8zM87.0 45.3h5.3v1.3h-5.3zM208.0 45.3h7.3v1.3h-7.3zM85.0 46.3h5.3v1.3h-5.3zM210.5 46.3h7.8v1.3h-7.8zM83.5 47.3h4.8v1.3h-4.8zM213.5 47.3h7.3v1.3h-7.3zM81.5 48.3h4.8v1.3h-4.8zM216.0 48.3h7.3v1.3h-7.3zM79.5 49.3h4.8v1.3h-4.8zM219.0 49.3h6.8v1.3h-6.8zM78.0 50.3h4.3v1.3h-4.3zM221.5 50.3h6.8v1.3h-6.8zM76.0 51.3h4.3v1.3h-4.3zM224.0 51.3h6.8v1.3h-6.8zM74.5 52.3h4.3v1.3h-4.3zM226.5 52.3h6.8v1.3h-6.8zM73.0 53.3h3.8v1.3h-3.8zM228.5 53.3h6.8v1.3h-6.8zM71.0 54.3h4.3v1.3h-4.3zM231.0 54.3h6.8v1.3h-6.8zM69.5 55.3h4.3v1.3h-4.3zM233.5 55.3h6.3v1.3h-6.3zM68.0 56.3h4.3v1.3h-4.3zM235.5 56.3h6.8v1.3h-6.8zM66.5 57.3h3.8v1.3h-3.8zM238.0 57.3h6.3v1.3h-6.3zM65.0 58.3h3.8v1.3h-3.8zM240.0 58.3h6.3v1.3h-6.3zM63.5 59.3h3.8v1.3h-3.8zM242.5 59.3h6.3v1.3h-6.3zM62.0 60.3h3.8v1.3h-3.8zM244.5 60.3h6.3v1.3h-6.3zM61.0 61.3h3.3v1.3h-3.3zM246.5 61.3h6.3v1.3h-6.3zM59.5 62.3h3.8v1.3h-3.8zM248.5 62.3h6.3v1.3h-6.3zM58.0 63.3h3.8v1.3h-3.8zM250.5 63.3h6.3v1.3h-6.3zM57.0 64.3h3.3v1.3h-3.3zM252.5 64.3h6.3v1.3h-6.3zM55.5 65.3h3.3v1.3h-3.3zM254.5 65.3h6.3v1.3h-6.3zM54.0 66.3h3.8v1.3h-3.8zM256.5 66.3h6.3v1.3h-6.3zM53.0 67.3h3.3v1.3h-3.3zM258.5 67.3h5.8v1.3h-5.8zM51.5 68.3h3.3v1.3h-3.3zM260.5 68.3h5.8v1.3h-5.8zM50.5 69.3h3.3v1.3h-3.3zM262.0 69.3h6.3v1.3h-6.3zM49.0 70.3h3.3v1.3h-3.3zM264.0 70.3h5.8v1.3h-5.8zM48.0 71.3h3.3v1.3h-3.3zM266.0 71.3h5.5v1.3h-5.5zM46.5 72.3h3.3v1.3h-3.3zM267.5 72.3h4.0v1.3h-4.0zM46.5 73.3h2.3v1.3h-2.3zM269.5 73.3h2.0v1.3h-2.0zM46.5 74.3h0.8v1.3h-0.8zM271.0 74.3h0.5v1.3h-0.5zM271.0 208.3h0.5v1.3h-0.5zM270.0 209.3h1.5v1.3h-1.5zM268.5 210.3h3.0v1.3h-3.0zM267.0 211.3h3.8v1.3h-3.8zM265.5 212.3h3.8v1.3h-3.8zM264.5 213.3h3.3v1.3h-3.3zM263.0 214.3h3.8v1.3h-3.8zM261.0 215.3h4.3v1.3h-4.3zM259.5 216.3h3.8v1.3h-3.8zM258.0 217.3h3.8v1.3h-3.8zM256.5 218.3h3.8v1.3h-3.8zM254.5 219.3h4.3v1.3h-4.3zM253.0 220.3h3.8v1.3h-3.8zM251.0 221.3h4.3v1.3h-4.3zM249.0 222.3h4.3v1.3h-4.3zM247.0 223.3h4.3v1.3h-4.3zM245.0 224.3h4.8v1.3h-4.8zM243.0 225.3h4.8v1.3h-4.8zM241.0 226.3h4.3v1.3h-4.3zM238.5 227.3h4.8v1.3h-4.8zM236.5 228.3h4.8v1.3h-4.8zM234.0 229.3h4.8v1.3h-4.8zM231.5 230.3h4.8v1.3h-4.8zM228.5 231.3h5.3v1.3h-5.3zM226.0 232.3h5.3v1.3h-5.3zM223.0 233.3h5.8v1.3h-5.8zM219.5 234.3h6.3v1.3h-6.3zM216.5 235.3h6.3v1.3h-6.3zM212.5 236.3h6.8v1.3h-6.8zM209.0 237.3h6.8v1.3h-6.8zM204.5 238.3h7.8v1.3h-7.8zM200.0 239.3h8.3v1.3h-8.3zM195.0 240.3h8.8v1.3h-8.8zM189.0 241.3h10.3v1.3h-10.3zM182.5 242.3h11.3v1.3h-11.3zM174.5 243.3h13.3v1.3h-13.3zM163.5 244.3h16.8v1.3h-16.8zM145.5 245.3h25.8v1.3h-25.8zM46.5 246.3h112.8v1.3h-112.8zM46.5 247.3h16.8v1.3h-16.8zM94.5 247.3h38.3v1.3h-38.3z"/>
<path fill="#e7f2b4" d="M115.0 37.3h11.8v1.3h-11.8zM166.0 37.3h13.8v1.3h-13.8zM111.0 38.3h10.3v1.3h-10.3zM172.5 38.3h11.8v1.3h-11.8zM108.0 39.3h8.3v1.3h-8.3zM177.5 39.3h10.8v1.3h-10.8zM104.5 40.3h8.3v1.3h-8.3zM182.0 40.3h10.3v1.3h-10.3zM102.0 41.3h7.3v1.3h-7.3zM186.0 41.3h9.8v1.3h-9.8zM99.0 42.3h6.8v1.3h-6.8zM190.0 42.3h8.8v1.3h-8.8zM96.5 43.3h6.8v1.3h-6.8zM193.5 43.3h8.8v1.3h-8.8zM94.5 44.3h5.8v1.3h-5.8zM197.0 44.3h8.3v1.3h-8.3zM92.0 45.3h5.8v1.3h-5.8zM200.0 45.3h8.3v1.3h-8.3zM90.0 46.3h5.3v1.3h-5.3zM203.5 46.3h7.3v1.3h-7.3zM88.0 47.3h5.3v1.3h-5.3zM206.0 47.3h7.8v1.3h-7.8zM86.0 48.3h4.8v1.3h-4.8zM209.0 48.3h7.3v1.3h-7.3zM84.0 49.3h4.8v1.3h-4.8zM212.0 49.3h7.3v1.3h-7.3zM82.0 50.3h4.8v1.3h-4.8zM214.5 50.3h7.3v1.3h-7.3zM80.0 51.3h4.8v1.3h-4.8zM217.0 51.3h7.3v1.3h-7.3zM78.5 52.3h4.3v1.3h-4.3zM219.5 52.3h7.3v1.3h-7.3zM76.5 53.3h4.8v1.3h-4.8zM222.0 53.3h6.8v1.3h-6.8zM75.0 54.3h4.3v1.3h-4.3zM224.5 54.3h6.8v1.3h-6.8zM73.5 55.3h4.3v1.3h-4.3zM227.0 55.3h6.8v1.3h-6.8zM72.0 56.3h3.8v1.3h-3.8zM229.5 56.3h6.3v1.3h-6.3zM70.0 57.3h4.3v1.3h-4.3zM231.5 57.3h6.8v1.3h-6.8zM68.5 58.3h4.3v1.3h-4.3zM234.0 58.3h6.3v1.3h-6.3zM67.0 59.3h4.3v1.3h-4.3zM236.0 59.3h6.8v1.3h-6.8zM65.5 60.3h4.3v1.3h-4.3zM238.5 60.3h6.3v1.3h-6.3zM64.0 61.3h4.3v1.3h-4.3zM240.5 61.3h6.3v1.3h-6.3zM63.0 62.3h3.8v1.3h-3.8zM242.5 62.3h6.3v1.3h-6.3zM61.5 63.3h3.8v1.3h-3.8zM244.5 63.3h6.3v1.3h-6.3zM60.0 64.3h3.8v1.3h-3.8zM246.5 64.3h6.3v1.3h-6.3zM58.5 65.3h3.8v1.3h-3.8zM248.5 65.3h6.3v1.3h-6.3zM57.5 66.3h3.3v1.3h-3.3zM250.5 66.3h6.3v1.3h-6.3zM56.0 67.3h3.8v1.3h-3.8zM252.5 67.3h6.3v1.3h-6.3zM54.5 68.3h3.8v1.3h-3.8zM254.5 68.3h6.3v1.3h-6.3zM53.5 69.3h3.3v1.3h-3.3zM256.5 69.3h5.8v1.3h-5.8zM52.0 70.3h3.8v1.3h-3.8zM258.0 70.3h6.3v1.3h-6.3zM51.0 71.3h3.3v1.3h-3.3zM260.0 71.3h6.3v1.3h-6.3zM49.5 72.3h3.3v1.3h-3.3zM262.0 72.3h5.8v1.3h-5.8zM48.5 73.3h3.3v1.3h-3.3zM263.5 73.3h6.3v1.3h-6.3zM47.0 74.3h3.3v1.3h-3.3zM265.5 74.3h5.8v1.3h-5.8zM46.5 75.3h2.8v1.3h-2.8zM267.0 75.3h4.5v1.3h-4.5zM46.5 76.3h1.8v1.3h-1.8zM268.5 76.3h3.0v1.3h-3.0zM270.5 77.3h1.0v1.3h-1.0zM270.5 206.3h1.0v1.3h-1.0zM269.0 207.3h2.5v1.3h-2.5zM268.0 208.3h3.3v1.3h-3.3zM266.5 209.3h3.8v1.3h-3.8zM265.0 210.3h3.8v1.3h-3.8zM263.5 211.3h3.8v1.3h-3.8zM262.0 212.3h3.8v1.3h-3.8zM260.5 213.3h4.3v1.3h-4.3zM259.0 214.3h4.3v1.3h-4.3zM257.5 215.3h3.8v1.3h-3.8zM256.0 216.3h3.8v1.3h-3.8zM254.0 217.3h4.3v1.3h-4.3zM252.5 218.3h4.3v1.3h-4.3zM250.5 219.3h4.3v1.3h-4.3zM249.0 220.3h4.3v1.3h-4.3zM247.0 221.3h4.3v1.3h-4.3zM245.0 222.3h4.3v1.3h-4.3zM243.0 223.3h4.3v1.3h-4.3zM241.0 224.3h4.3v1.3h-4.3zM238.5 225.3h4.8v1.3h-4.8zM236.5 226.3h4.8v1.3h-4.8zM234.0 227.3h4.8v1.3h-4.8zM231.5 228.3h5.3v1.3h-5.3zM229.0 229.3h5.3v1.3h-5.3zM226.0 230.3h5.8v1.3h-5.8zM223.0 231.3h5.8v1.3h-5.8zM220.0 232.3h6.3v1.3h-6.3zM217.0 233.3h6.3v1.3h-6.3zM213.5 234.3h6.3v1.3h-6.3zM209.5 235.3h7.3v1.3h-7.3zM205.5 236.3h7.3v1.3h-7.3zM201.0 237.3h8.3v1.3h-8.3zM196.5 238.3h8.3v1.3h-8.3zM191.0 239.3h9.3v1.3h-9.3zM184.5 240.3h10.8v1.3h-10.8zM177.0 241.3h12.3v1.3h-12.3zM167.0 242.3h15.8v1.3h-15.8zM152.5 243.3h22.3v1.3h-22.3zM46.5 244.3h117.3v1.3h-117.3zM46.5 245.3h99.3v1.3h-99.3z"/>
<path fill="#edf5b7" d="M126.5 37.3h39.8v1.3h-39.8zM121.0 38.3h20.8v1.3h-20.8zM149.5 38.3h23.3v1.3h-23.3zM116.0 39.3h13.3v1.3h-13.3zM163.0 39.3h14.8v1.3h-14.8zM112.5 40.3h10.3v1.3h-10.3zM170.0 40.3h12.3v1.3h-12.3zM109.0 41.3h8.8v1.3h-8.8zM175.5 41.3h10.8v1.3h-10.8zM105.5 42.3h8.3v1.3h-8.3zM180.0 42.3h10.3v1.3h-10.3zM103.0 43.3h7.3v1.3h-7.3zM184.5 43.3h9.3v1.3h-9.3zM100.0 44.3h6.8v1.3h-6.8zM188.0 44.3h9.3v1.3h-9.3zM97.5 45.3h6.8v1.3h-6.8zM192.0 45.3h8.3v1.3h-8.3zM95.0 46.3h6.3v1.3h-6.3zM195.0 46.3h8.8v1.3h-8.8zM93.0 47.3h5.8v1.3h-5.8zM198.5 47.3h7.8v1.3h-7.8zM90.5 48.3h5.8v1.3h-5.8zM201.5 48.3h7.8v1.3h-7.8zM88.5 49.3h5.3v1.3h-5.3zM204.5 49.3h7.8v1.3h-7.8zM86.5 50.3h5.3v1.3h-5.3zM207.5 50.3h7.3v1.3h-7.3zM84.5 51.3h5.3v1.3h-5.3zM210.0 51.3h7.3v1.3h-7.3zM82.5 52.3h5.3v1.3h-5.3zM213.0 52.3h6.8v1.3h-6.8zM81.0 53.3h4.8v1.3h-4.8zM215.5 53.3h6.8v1.3h-6.8zM79.0 54.3h4.8v1.3h-4.8zM218.0 54.3h6.8v1.3h-6.8zM77.5 55.3h4.3v1.3h-4.3zM220.5 55.3h6.8v1.3h-6.8zM75.5 56.3h4.8v1.3h-4.8zM223.0 56.3h6.8v1.3h-6.8zM74.0 57.3h4.3v1.3h-4.3zM225.5 57.3h6.3v1.3h-6.3zM72.5 58.3h4.3v1.3h-4.3zM227.5 58.3h6.8v1.3h-6.8zM71.0 59.3h3.8v1.3h-3.8zM230.0 59.3h6.3v1.3h-6.3zM69.5 60.3h3.8v1.3h-3.8zM232.0 60.3h6.8v1.3h-6.8zM68.0 61.3h3.8v1.3h-3.8zM234.5 61.3h6.3v1.3h-6.3zM66.5 62.3h3.8v1.3h-3.8zM236.5 62.3h6.3v1.3h-6.3zM65.0 63.3h3.8v1.3h-3.8zM238.5 63.3h6.3v1.3h-6.3zM63.5 64.3h3.8v1.3h-3.8zM240.5 64.3h6.3v1.3h-6.3zM62.0 65.3h3.8v1.3h-3.8zM242.5 65.3h6.3v1.3h-6.3zM60.5 66.3h3.8v1.3h-3.8zM244.5 66.3h6.3v1.3h-6.3zM59.5 67.3h3.3v1.3h-3.3zM246.5 67.3h6.3v1.3h-6.3zM58.0 68.3h3.8v1.3h-3.8zM248.5 68.3h6.3v1.3h-6.3zM56.5 69.3h3.8v1.3h-3.8zM250.5 69.3h6.3v1.3h-6.3zM55.5 70.3h3.3v1.3h-3.3zM252.5 70.3h5.8v1.3h-5.8zM54.0 71.3h3.3v1.3h-3.3zM254.5 71.3h5.8v1.3h-5.8zM52.5 72.3h3.8v1.3h-3.8zM256.0 72.3h6.3v1.3h-6.3zM51.5 73.3h3.3v1.3h-3.3zM258.0 73.3h5.8v1.3h-5.8zM50.0 74.3h3.8v1.3h-3.8zM259.5 74.3h6.3v1.3h-6.3zM49.0 75.3h3.3v1.3h-3.3zM261.5 75.3h5.8v1.3h-5.8zM48.0 76.3h3.3v1.3h-3.3zM263.0 76.3h5.8v1.3h-5.8zM46.5 77.3h3.3v1.3h-3.3zM265.0 77.3h5.8v1.3h-5.8zM46.5 78.3h2.3v1.3h-2.3zM266.5 78.3h5.0v1.3h-5.0zM46.5 79.3h0.8v1.3h-0.8zM268.0 79.3h3.5v1.3h-3.5zM269.5 80.3h2.0v1.3h-2.0zM271.0 81.3h0.5v1.3h-0.5zM271.0 203.3h0.5v1.3h-0.5zM269.5 204.3h2.0v1.3h-2.0zM268.5 205.3h3.0v1.3h-3.0zM267.0 206.3h3.8v1.3h-3.8zM265.5 207.3h3.8v1.3h-3.8zM264.5 208.3h3.8v1.3h-3.8zM263.0 209.3h3.8v1.3h-3.8zM261.5 210.3h3.8v1.3h-3.8zM260.0 211.3h3.8v1.3h-3.8zM258.5 212.3h3.8v1.3h-3.8zM257.0 213.3h3.8v1.3h-3.8zM255.5 214.3h3.8v1.3h-3.8zM253.5 215.3h4.3v1.3h-4.3zM252.0 216.3h4.3v1.3h-4.3zM250.5 217.3h3.8v1.3h-3.8zM248.5 218.3h4.3v1.3h-4.3zM246.5 219.3h4.3v1.3h-4.3zM244.5 220.3h4.8v1.3h-4.8zM242.5 221.3h4.8v1.3h-4.8zM240.5 222.3h4.8v1.3h-4.8zM238.5 223.3h4.8v1.3h-4.8zM236.0 224.3h5.3v1.3h-5.3zM234.0 225.3h4.8v1.3h-4.8zM231.5 226.3h5.3v1.3h-5.3zM229.0 227.3h5.3v1.3h-5.3zM226.0 228.3h5.8v1.3h-5.8zM223.5 229.3h5.8v1.3h-5.8zM220.5 230.3h5.8v1.3h-5.8zM217.0 231.3h6.3v1.3h-6.3zM214.0 232.3h6.3v1.3h-6.3zM210.0 233.3h7.3v1.3h-7.3zM206.5 234.3h7.3v1.3h-7.3zM202.0 235.3h7.8v1.3h-7.8zM197.5 236.3h8.3v1.3h-8.3zM192.0 237.3h9.3v1.3h-9.3zM186.0 238.3h10.8v1.3h-10.8zM179.0 239.3h12.3v1.3h-12.3zM170.0 240.3h14.8v1.3h-14.8zM157.5 241.3h19.8v1.3h-19.8zM46.5 242.3h120.8v1.3h-120.8zM46.5 243.3h106.3v1.3h-106.3z"/>
<path fill="#f3f7ba" d="M141.5 38.3h8.3v1.3h-8.3zM129.0 39.3h34.3v1.3h-34.3zM122.5 40.3h47.8v1.3h-47.8zM117.5 41.3h14.8v1.3h-14.8zM159.0 41.3h16.8v1.3h-16.8zM113.5 42.3h11.3v1.3h-11.3zM167.0 42.3h13.3v1.3h-13.3zM110.0 43.3h9.8v1.3h-9.8zM173.0 43.3h11.8v1.3h-11.8zM106.5 44.3h8.8v1.3h-8.8zM178.0 44.3h10.3v1.3h-10.3zM104.0 45.3h7.8v1.3h-7.8zM182.0 45.3h10.3v1.3h-10.3zM101.0 46.3h7.3v1.3h-7.3zM186.0 46.3h9.3v1.3h-9.3zM98.5 47.3h6.8v1.3h-6.8zM190.0 47.3h8.8v1.3h-8.8zM96.0 48.3h6.3v1.3h-6.3zM193.5 48.3h8.3v1.3h-8.3zM93.5 49.3h6.3v1.3h-6.3zM196.5 49.3h8.3v1.3h-8.3zM91.5 50.3h5.8v1.3h-5.8zM199.5 50.3h8.3v1.3h-8.3zM89.5 51.3h5.3v1.3h-5.3zM202.5 51.3h7.8v1.3h-7.8zM87.5 52.3h5.3v1.3h-5.3zM205.5 52.3h7.8v1.3h-7.8zM85.5 53.3h4.8v1.3h-4.8zM208.5 53.3h7.3v1.3h-7.3zM83.5 54.3h4.8v1.3h-4.8zM211.0 54.3h7.3v1.3h-7.3zM81.5 55.3h4.8v1.3h-4.8zM213.5 55.3h7.3v1.3h-7.3zM80.0 56.3h4.3v1.3h-4.3zM216.0 56.3h7.3v1.3h-7.3zM78.0 57.3h4.8v1.3h-4.8zM218.5 57.3h7.3v1.3h-7.3zM76.5 58.3h4.3v1.3h-4.3zM221.0 58.3h6.8v1.3h-6.8zM74.5 59.3h4.8v1.3h-4.8zM223.5 59.3h6.8v1.3h-6.8zM73.0 60.3h4.3v1.3h-4.3zM225.5 60.3h6.8v1.3h-6.8zM71.5 61.3h4.3v1.3h-4.3zM228.0 61.3h6.8v1.3h-6.8zM70.0 62.3h4.3v1.3h-4.3zM230.0 62.3h6.8v1.3h-6.8zM68.5 63.3h3.8v1.3h-3.8zM232.5 63.3h6.3v1.3h-6.3zM67.0 64.3h3.8v1.3h-3.8zM234.5 64.3h6.3v1.3h-6.3zM65.5 65.3h3.8v1.3h-3.8zM236.5 65.3h6.3v1.3h-6.3zM64.0 66.3h3.8v1.3h-3.8zM238.5 66.3h6.3v1.3h-6.3zM62.5 67.3h3.8v1.3h-3.8zM240.5 67.3h6.3v1.3h-6.3zM61.5 68.3h3.8v1.3h-3.8zM242.5 68.3h6.3v1.3h-6.3zM60.0 69.3h3.8v1.3h-3.8zM244.5 69.3h6.3v1.3h-6.3zM58.5 70.3h3.8v1.3h-3.8zM246.5 70.3h6.3v1.3h-6.3zM57.0 71.3h3.8v1.3h-3.8zM248.5 71.3h6.3v1.3h-6.3zM56.0 72.3h3.8v1.3h-3.8zM250.5 72.3h5.8v1.3h-5.8zM54.5 73.3h3.8v1.3h-3.8zM252.0 73.3h6.3v1.3h-6.3zM53.5 74.3h3.3v1.3h-3.3zM254.0 74.3h5.8v1.3h-5.8zM52.0 75.3h3.8v1.3h-3.8zM255.5 75.3h6.3v1.3h-6.3zM51.0 76.3h3.3v1.3h-3.3zM257.5 76.3h5.8v1.3h-5.8zM49.5 77.3h3.8v1.3h-3.8zM259.0 77.3h6.3v1.3h-6.3zM48.5 78.3h3.3v1.3h-3.3zM261.0 78.3h5.8v1.3h-5.8zM47.0 79.3h3.8v1.3h-3.8zM262.5 79.3h5.8v1.3h-5.8zM46.5 80.3h2.8v1.3h-2.8zM264.0 80.3h5.8v1.3h-5.8zM46.5 81.3h1.8v1.3h-1.8zM265.5 81.3h5.8v1.3h-5.8zM267.0 82.3h4.5v1.3h-4.5zM268.5 83.3h3.0v1.3h-3.0zM270.0 84.3h1.5v1.3h-1.5zM271.0 200.3h0.5v1.3h-0.5zM270.0 201.3h1.5v1.3h-1.5zM268.5 202.3h3.0v1.3h-3.0zM267.5 203.3h3.8v1.3h-3.8zM266.0 204.3h3.8v1.3h-3.8zM265.0 205.3h3.8v1.3h-3.8zM263.5 206.3h3.8v1.3h-3.8zM262.0 207.3h3.8v1.3h-3.8zM260.5 208.3h4.3v1.3h-4.3zM259.5 209.3h3.8v1.3h-3.8zM258.0 210.3h3.8v1.3h-3.8zM256.5 211.3h3.8v1.3h-3.8zM254.5 212.3h4.3v1.3h-4.3zM253.0 213.3h4.3v1.3h-4.3zM251.5 214.3h4.3v1.3h-4.3zM249.5 215.3h4.3v1.3h-4.3zM248.0 216.3h4.3v1.3h-4.3zM246.0 217.3h4.8v1.3h-4.8zM244.0 218.3h4.8v1.3h-4.8zM242.5 219.3h4.3v1.3h-4.3zM240.0 220.3h4.8v1.3h-4.8zM238.0 221.3h4.8v1.3h-4.8zM236.0 222.3h4.8v1.3h-4.8zM233.5 223.3h5.3v1.3h-5.3zM231.0 224.3h5.3v1.3h-5.3zM228.5 225.3h5.8v1.3h-5.8zM226.0 226.3h5.8v1.3h-5.8zM223.5 227.3h5.8v1.3h-5.8zM220.5 228.3h5.8v1.3h-5.8zM217.5 229.3h6.3v1.3h-6.3zM214.0 230.3h6.8v1.3h-6.8zM210.5 231.3h6.8v1.3h-6.8zM207.0 232.3h7.3v1.3h-7.3zM202.5 233.3h7.8v1.3h-7.8zM198.0 234.3h8.8v1.3h-8.8zM193.0 235.3h9.3v1.3h-9.3zM187.5 236.3h10.3v1.3h-10.3zM180.5 237.3h11.8v1.3h-11.8zM172.5 238.3h13.8v1.3h-13.8zM161.0 239.3h18.3v1.3h-18.3zM46.5 240.3h51.3v1.3h-51.3zM141.0 240.3h29.3v1.3h-29.3zM46.5 241.3h111.3v1.3h-111.3z"/>
<path fill="#f6f1b3" d="M132.0 41.3h27.3v1.3h-27.3zM124.5 42.3h42.8v1.3h-42.8zM119.5 43.3h17.8v1.3h-17.8zM153.0 43.3h20.3v1.3h-20.3zM115.0 44.3h12.8v1.3h-12.8zM163.5 44.3h14.8v1.3h-14.8zM111.5 45.3h10.3v1.3h-10.3zM170.0 45.3h12.3v1.3h-12.3zM108.0 46.3h8.8v1.3h-8.8zM175.0 46.3h11.3v1.3h-11.3zM105.0 47.3h8.3v1.3h-8.3zM180.0 47.3h10.3v1.3h-10.3zM102.0 48.3h7.8v1.3h-7.8zM184.0 48.3h9.8v1.3h-9.8zM99.5 49.3h6.8v1.3h-6.8zM187.5 49.3h9.3v1.3h-9.3zM97.0 50.3h6.3v1.3h-6.3zM191.0 50.3h8.8v1.3h-8.8zM94.5 51.3h6.3v1.3h-6.3zM194.5 51.3h8.3v1.3h-8.3zM92.5 52.3h5.8v1.3h-5.8zM197.5 52.3h8.3v1.3h-8.3zM90.0 53.3h5.8v1.3h-5.8zM200.5 53.3h8.3v1.3h-8.3zM88.0 54.3h5.8v1.3h-5.8zM203.5 54.3h7.8v1.3h-7.8zM86.0 55.3h5.3v1.3h-5.3zM206.5 55.3h7.3v1.3h-7.3zM84.0 56.3h5.3v1.3h-5.3zM209.0 56.3h7.3v1.3h-7.3zM82.5 57.3h4.8v1.3h-4.8zM211.5 57.3h7.3v1.3h-7.3zM80.5 58.3h4.8v1.3h-4.8zM214.0 58.3h7.3v1.3h-7.3zM79.0 59.3h4.3v1.3h-4.3zM216.5 59.3h7.3v1.3h-7.3zM77.0 60.3h4.8v1.3h-4.8zM219.0 60.3h6.8v1.3h-6.8zM75.5 61.3h4.3v1.3h-4.3zM221.5 61.3h6.8v1.3h-6.8zM74.0 62.3h4.3v1.3h-4.3zM224.0 62.3h6.3v1.3h-6.3zM72.0 63.3h4.8v1.3h-4.8zM226.0 63.3h6.8v1.3h-6.8zM70.5 64.3h4.3v1.3h-4.3zM228.0 64.3h6.8v1.3h-6.8zM69.0 65.3h4.3v1.3h-4.3zM230.5 65.3h6.3v1.3h-6.3zM67.5 66.3h4.3v1.3h-4.3zM232.5 66.3h6.3v1.3h-6.3zM66.0 67.3h4.3v1.3h-4.3zM234.5 67.3h6.3v1.3h-6.3zM65.0 68.3h3.8v1.3h-3.8zM236.5 68.3h6.3v1.3h-6.3zM63.5 69.3h3.8v1.3h-3.8zM238.5 69.3h6.3v1.3h-6.3zM62.0 70.3h3.8v1.3h-3.8zM240.5 70.3h6.3v1.3h-6.3zM60.5 71.3h3.8v1.3h-3.8zM242.5 71.3h6.3v1.3h-6.3zM59.5 72.3h3.8v1.3h-3.8zM244.5 72.3h6.3v1.3h-6.3zM58.0 73.3h3.8v1.3h-3.8zM246.5 73.3h5.8v1.3h-5.8zM56.5 74.3h3.8v1.3h-3.8zM248.0 74.3h6.3v1.3h-6.3zM55.5 75.3h3.3v1.3h-3.3zM250.0 75.3h5.8v1.3h-5.8zM54.0 76.3h3.8v1.3h-3.8zM251.5 76.3h6.3v1.3h-6.3zM53.0 77.3h3.3v1.3h-3.3zM253.5 77.3h5.8v1.3h-5.8zM51.5 78.3h3.8v1.3h-3.8zM255.0 78.3h6.3v1.3h-6.3zM50.5 79.3h3.3v1.3h-3.3zM257.0 79.3h5.8v1.3h-5.8zM49.0 80.3h3.8v1.3h-3.8zM258.5 80.3h5.8v1.3h-5.8zM48.0 81.3h3.3v1.3h-3.3zM260.0 81.3h5.8v1.3h-5.8zM46.5 82.3h3.8v1.3h-3.8zM261.5 82.3h5.8v1.3h-5.8zM46.5 83.3h2.3v1.3h-2.3zM263.0 83.3h5.8v1.3h-5.8zM46.5 84.3h1.3v1.3h-1.3zM264.5 84.3h5.8v1.3h-5.8zM266.0 85.3h5.5v1.3h-5.5zM267.5 86.3h4.0v1.3h-4.0zM269.0 87.3h2.5v1.3h-2.5zM270.5 88.3h1.0v1.3h-1.0zM271.0 197.3h0.5v1.3h-0.5zM270.0 198.3h1.5v1.3h-1.5zM268.5 199.3h3.0v1.3h-3.0zM267.5 200.3h3.8v1.3h-3.8zM266.5 201.3h3.8v1.3h-3.8zM265.0 202.3h3.8v1.3h-3.8zM264.0 203.3h3.8v1.3h-3.8zM262.5 204.3h3.8v1.3h-3.8zM261.0 205.3h4.3v1.3h-4.3zM260.0 206.3h3.8v1.3h-3.8zM258.5 207.3h3.8v1.3h-3.8zM257.0 208.3h3.8v1.3h-3.8zM255.5 209.3h4.3v1.3h-4.3zM254.0 210.3h4.3v1.3h-4.3zM252.5 211.3h4.3v1.3h-4.3zM250.5 212.3h4.3v1.3h-4.3zM249.0 213.3h4.3v1.3h-4.3zM247.5 214.3h4.3v1.3h-4.3zM245.5 215.3h4.3v1.3h-4.3zM243.5 216.3h4.8v1.3h-4.8zM242.0 217.3h4.3v1.3h-4.3zM240.0 218.3h4.3v1.3h-4.3zM237.5 219.3h5.3v1.3h-5.3zM235.5 220.3h4.8v1.3h-4.8zM233.5 221.3h4.8v1.3h-4.8zM231.0 222.3h5.3v1.3h-5.3zM228.5 223.3h5.3v1.3h-5.3zM226.0 224.3h5.3v1.3h-5.3zM223.5 225.3h5.3v1.3h-5.3zM220.5 226.3h5.8v1.3h-5.8zM217.5 227.3h6.3v1.3h-6.3zM214.0 228.3h6.8v1.3h-6.8zM211.0 229.3h6.8v1.3h-6.8zM207.0 230.3h7.3v1.3h-7.3zM203.0 231.3h7.8v1.3h-7.8zM198.5 232.3h8.8v1.3h-8.8zM194.0 233.3h8.8v1.3h-8.8zM188.5 234.3h9.8v1.3h-9.8zM182.0 235.3h11.3v1.3h-11.3zM174.0 236.3h13.8v1.3h-13.8zM164.0 237.3h16.8v1.3h-16.8zM46.5 238.3h42.3v1.3h-42.3zM147.5 238.3h25.3v1.3h-25.3zM46.5 239.3h114.8v1.3h-114.8zM97.5 240.3h43.8v1.3h-43.8z"/>
<path fill="#f6e2a1" d="M137.0 43.3h16.3v1.3h-16.3zM127.5 44.3h36.3v1.3h-36.3zM121.5 45.3h48.8v1.3h-48.8zM116.5 46.3h14.8v1.3h-14.8zM159.0 46.3h16.3v1.3h-16.3zM113.0 47.3h11.3v1.3h-11.3zM166.5 47.3h13.8v1.3h-13.8zM109.5 48.3h9.3v1.3h-9.3zM172.5 48.3h11.8v1.3h-11.8zM106.0 49.3h8.8v1.3h-8.8zM177.5 49.3h10.3v1.3h-10.3zM103.0 50.3h8.3v1.3h-8.3zM181.5 50.3h9.8v1.3h-9.8zM100.5 51.3h7.3v1.3h-7.3zM185.5 51.3h9.3v1.3h-9.3zM98.0 52.3h6.8v1.3h-6.8zM189.0 52.3h8.8v1.3h-8.8zM95.5 53.3h6.8v1.3h-6.8zM192.5 53.3h8.3v1.3h-8.3zM93.5 54.3h5.8v1.3h-5.8zM195.5 54.3h8.3v1.3h-8.3zM91.0 55.3h5.8v1.3h-5.8zM198.5 55.3h8.3v1.3h-8.3zM89.0 56.3h5.8v1.3h-5.8zM201.5 56.3h7.8v1.3h-7.8zM87.0 57.3h5.3v1.3h-5.3zM204.5 57.3h7.3v1.3h-7.3zM85.0 58.3h5.3v1.3h-5.3zM207.0 58.3h7.3v1.3h-7.3zM83.0 59.3h5.3v1.3h-5.3zM209.5 59.3h7.3v1.3h-7.3zM81.5 60.3h4.8v1.3h-4.8zM212.0 60.3h7.3v1.3h-7.3zM79.5 61.3h4.8v1.3h-4.8zM214.5 61.3h7.3v1.3h-7.3zM78.0 62.3h4.8v1.3h-4.8zM217.0 62.3h7.3v1.3h-7.3zM76.5 63.3h4.3v1.3h-4.3zM219.5 63.3h6.8v1.3h-6.8zM74.5 64.3h4.8v1.3h-4.8zM221.5 64.3h6.8v1.3h-6.8zM73.0 65.3h4.3v1.3h-4.3zM224.0 65.3h6.8v1.3h-6.8zM71.5 66.3h4.3v1.3h-4.3zM226.0 66.3h6.8v1.3h-6.8zM70.0 67.3h4.3v1.3h-4.3zM228.5 67.3h6.3v1.3h-6.3zM68.5 68.3h4.3v1.3h-4.3zM230.5 68.3h6.3v1.3h-6.3zM67.0 69.3h4.3v1.3h-4.3zM232.5 69.3h6.3v1.3h-6.3zM65.5 70.3h4.3v1.3h-4.3zM234.5 70.3h6.3v1.3h-6.3zM64.0 71.3h4.3v1.3h-4.3zM236.5 71.3h6.3v1.3h-6.3zM63.0 72.3h3.8v1.3h-3.8zM238.5 72.3h6.3v1.3h-6.3zM61.5 73.3h3.8v1.3h-3.8zM240.5 73.3h6.3v1.3h-6.3zM60.0 74.3h3.8v1.3h-3.8zM242.0 74.3h6.3v1.3h-6.3zM58.5 75.3h3.8v1.3h-3.8zM244.0 75.3h6.3v1.3h-6.3zM57.5 76.3h3.8v1.3h-3.8zM246.0 76.3h5.8v1.3h-5.8zM56.0 77.3h3.8v1.3h-3.8zM247.5 77.3h6.3v1.3h-6.3zM55.0 78.3h3.8v1.3h-3.8zM249.5 78.3h5.8v1.3h-5.8zM53.5 79.3h3.8v1.3h-3.8zM251.0 79.3h6.3v1.3h-6.3zM52.5 80.3h3.3v1.3h-3.3zM253.0 80.3h5.8v1.3h-5.8zM51.0 81.3h3.8v1.3h-3.8zM254.5 81.3h5.8v1.3h-5.8zM50.0 82.3h3.3v1.3h-3.3zM256.0 82.3h5.8v1.3h-5.8zM48.5 83.3h3.8v1.3h-3.8zM257.5 83.3h5.8v1.3h-5.8zM47.5 84.3h3.3v1.3h-3.3zM259.0 84.3h5.8v1.3h-5.8zM46.5 85.3h3.3v1.3h-3.3zM260.5 85.3h5.8v1.3h-5.8zM46.5 86.3h2.3v1.3h-2.3zM262.0 86.3h5.8v1.3h-5.8zM46.5 87.3h0.8v1.3h-0.8zM263.5 87.3h5.8v1.3h-5.8zM265.0 88.3h5.8v1.3h-5.8zM266.5 89.3h5.0v1.3h-5.0zM268.0 90.3h3.5v1.3h-3.5zM269.0 91.3h2.5v1.3h-2.5zM270.5 92.3h1.0v1.3h-1.0zM270.5 194.3h1.0v1.3h-1.0zM269.5 195.3h2.0v1.3h-2.0zM268.5 196.3h3.0v1.3h-3.0zM267.5 197.3h3.8v1.3h-3.8zM266.5 198.3h3.8v1.3h-3.8zM265.0 199.3h3.8v1.3h-3.8zM264.0 200.3h3.8v1.3h-3.8zM262.5 201.3h4.3v1.3h-4.3zM261.5 202.3h3.8v1.3h-3.8zM260.0 203.3h4.3v1.3h-4.3zM259.0 204.3h3.8v1.3h-3.8zM257.5 205.3h3.8v1.3h-3.8zM256.0 206.3h4.3v1.3h-4.3zM254.5 207.3h4.3v1.3h-4.3zM253.0 208.3h4.3v1.3h-4.3zM251.5 209.3h4.3v1.3h-4.3zM250.0 210.3h4.3v1.3h-4.3zM248.5 211.3h4.3v1.3h-4.3zM246.5 212.3h4.3v1.3h-4.3zM245.0 213.3h4.3v1.3h-4.3zM243.0 214.3h4.8v1.3h-4.8zM241.0 215.3h4.8v1.3h-4.8zM239.0 216.3h4.8v1.3h-4.8zM237.0 217.3h5.3v1.3h-5.3zM235.0 218.3h5.3v1.3h-5.3zM233.0 219.3h4.8v1.3h-4.8zM230.5 220.3h5.3v1.3h-5.3zM228.0 221.3h5.8v1.3h-5.8zM225.5 222.3h5.8v1.3h-5.8zM223.0 223.3h5.8v1.3h-5.8zM220.0 224.3h6.3v1.3h-6.3zM217.5 225.3h6.3v1.3h-6.3zM214.0 226.3h6.8v1.3h-6.8zM211.0 227.3h6.8v1.3h-6.8zM207.0 228.3h7.3v1.3h-7.3zM203.5 229.3h7.8v1.3h-7.8zM199.0 230.3h8.3v1.3h-8.3zM194.5 231.3h8.8v1.3h-8.8zM189.0 232.3h9.8v1.3h-9.8zM183.0 233.3h11.3v1.3h-11.3zM175.5 234.3h13.3v1.3h-13.3zM166.0 235.3h16.3v1.3h-16.3zM46.5 236.3h37.8v1.3h-37.8zM151.5 236.3h22.8v1.3h-22.8zM46.5 237.3h117.8v1.3h-117.8zM88.5 238.3h59.3v1.3h-59.3z"/>
<path fill="#f6d490" d="M131.0 46.3h28.3v1.3h-28.3zM124.0 47.3h42.8v1.3h-42.8zM118.5 48.3h18.3v1.3h-18.3zM152.5 48.3h20.3v1.3h-20.3zM114.5 49.3h12.8v1.3h-12.8zM163.0 49.3h14.8v1.3h-14.8zM111.0 50.3h10.3v1.3h-10.3zM169.0 50.3h12.8v1.3h-12.8zM107.5 51.3h9.3v1.3h-9.3zM174.5 51.3h11.3v1.3h-11.3zM104.5 52.3h8.3v1.3h-8.3zM179.0 52.3h10.3v1.3h-10.3zM102.0 53.3h7.3v1.3h-7.3zM183.0 53.3h9.8v1.3h-9.8zM99.0 54.3h7.3v1.3h-7.3zM186.5 54.3h9.3v1.3h-9.3zM96.5 55.3h6.8v1.3h-6.8zM190.0 55.3h8.8v1.3h-8.8zM94.5 56.3h6.3v1.3h-6.3zM193.5 56.3h8.3v1.3h-8.3zM92.0 57.3h6.3v1.3h-6.3zM196.5 57.3h8.3v1.3h-8.3zM90.0 58.3h5.8v1.3h-5.8zM199.5 58.3h7.8v1.3h-7.8zM88.0 59.3h5.8v1.3h-5.8zM202.0 59.3h7.8v1.3h-7.8zM86.0 60.3h5.3v1.3h-5.3zM205.0 60.3h7.3v1.3h-7.3zM84.0 61.3h5.3v1.3h-5.3zM207.5 61.3h7.3v1.3h-7.3zM82.5 62.3h4.8v1.3h-4.8zM210.0 62.3h7.3v1.3h-7.3zM80.5 63.3h4.8v1.3h-4.8zM212.5 63.3h7.3v1.3h-7.3zM79.0 64.3h4.8v1.3h-4.8zM215.0 64.3h6.8v1.3h-6.8zM77.0 65.3h4.8v1.3h-4.8zM217.5 65.3h6.8v1.3h-6.8zM75.5 66.3h4.8v1.3h-4.8zM219.5 66.3h6.8v1.3h-6.8zM74.0 67.3h4.3v1.3h-4.3zM222.0 67.3h6.8v1.3h-6.8zM72.5 68.3h4.3v1.3h-4.3zM224.0 68.3h6.8v1.3h-6.8zM71.0 69.3h4.3v1.3h-4.3zM226.0 69.3h6.8v1.3h-6.8zM69.5 70.3h4.3v1.3h-4.3zM228.5 70.3h6.3v1.3h-6.3zM68.0 71.3h4.3v1.3h-4.3zM230.5 71.3h6.3v1.3h-6.3zM66.5 72.3h4.3v1.3h-4.3zM232.5 72.3h6.3v1.3h-6.3zM65.0 73.3h4.3v1.3h-4.3zM234.5 73.3h6.3v1.3h-6.3zM63.5 74.3h4.3v1.3h-4.3zM236.0 74.3h6.3v1.3h-6.3zM62.0 75.3h4.3v1.3h-4.3zM238.0 75.3h6.3v1.3h-6.3zM61.0 76.3h3.8v1.3h-3.8zM240.0 76.3h6.3v1.3h-6.3zM59.5 77.3h3.8v1.3h-3.8zM242.0 77.3h5.8v1.3h-5.8zM58.5 78.3h3.8v1.3h-3.8zM243.5 78.3h6.3v1.3h-6.3zM57.0 79.3h3.8v1.3h-3.8zM245.5 79.3h5.8v1.3h-5.8zM55.5 80.3h3.8v1.3h-3.8zM247.0 80.3h6.3v1.3h-6.3zM54.5 81.3h3.8v1.3h-3.8zM248.5 81.3h6.3v1.3h-6.3zM53.0 82.3h3.8v1.3h-3.8zM250.5 82.3h5.8v1.3h-5.8zM52.0 83.3h3.8v1.3h-3.8zM252.0 83.3h5.8v1.3h-5.8zM50.5 84.3h3.8v1.3h-3.8zM253.5 84.3h5.8v1.3h-5.8zM49.5 85.3h3.8v1.3h-3.8zM255.0 85.3h5.8v1.3h-5.8zM48.5 86.3h3.3v1.3h-3.3zM256.5 86.3h5.8v1.3h-5.8zM47.0 87.3h3.8v1.3h-3.8zM258.0 87.3h5.8v1.3h-5.8zM46.5 88.3h2.8v1.3h-2.8zM259.5 88.3h5.8v1.3h-5.8zM46.5 89.3h1.8v1.3h-1.8zM261.0 89.3h5.8v1.3h-5.8zM46.5 90.3h0.8v1.3h-0.8zM262.5 90.3h5.8v1.3h-5.8zM264.0 91.3h5.3v1.3h-5.3zM265.0 92.3h5.8v1.3h-5.8zM266.5 93.3h5.0v1.3h-5.0zM267.5 94.3h4.0v1.3h-4.0zM269.0 95.3h2.5v1.3h-2.5zM270.0 96.3h1.5v1.3h-1.5zM270.5 191.3h1.0v1.3h-1.0zM269.5 192.3h2.0v1.3h-2.0zM268.5 193.3h3.0v1.3h-3.0zM267.0 194.3h3.8v1.3h-3.8zM266.0 195.3h3.8v1.3h-3.8zM265.0 196.3h3.8v1.3h-3.8zM264.0 197.3h3.8v1.3h-3.8zM262.5 198.3h4.3v1.3h-4.3zM261.5 199.3h3.8v1.3h-3.8zM260.5 200.3h3.8v1.3h-3.8zM259.0 201.3h3.8v1.3h-3.8zM257.5 202.3h4.3v1.3h-4.3zM256.5 203.3h3.8v1.3h-3.8zM255.0 204.3h4.3v1.3h-4.3zM253.5 205.3h4.3v1.3h-4.3zM252.0 206.3h4.3v1.3h-4.3zM250.5 207.3h4.3v1.3h-4.3zM249.0 208.3h4.3v1.3h-4.3zM247.5 209.3h4.3v1.3h-4.3zM245.5 210.3h4.8v1.3h-4.8zM244.0 211.3h4.8v1.3h-4.8zM242.0 212.3h4.8v1.3h-4.8zM240.5 213.3h4.8v1.3h-4.8zM238.5 214.3h4.8v1.3h-4.8zM236.5 215.3h4.8v1.3h-4.8zM234.5 216.3h4.8v1.3h-4.8zM232.5 217.3h4.8v1.3h-4.8zM230.0 218.3h5.3v1.3h-5.3zM227.5 219.3h5.8v1.3h-5.8zM225.0 220.3h5.8v1.3h-5.8zM222.5 221.3h5.8v1.3h-5.8zM220.0 222.3h5.8v1.3h-5.8zM217.0 223.3h6.3v1.3h-6.3zM214.0 224.3h6.3v1.3h-6.3zM210.5 225.3h7.3v1.3h-7.3zM207.0 226.3h7.3v1.3h-7.3zM203.5 227.3h7.8v1.3h-7.8zM199.0 228.3h8.3v1.3h-8.3zM194.5 229.3h9.3v1.3h-9.3zM189.5 230.3h9.8v1.3h-9.8zM183.5 231.3h11.3v1.3h-11.3zM176.5 232.3h12.8v1.3h-12.8zM167.5 233.3h15.8v1.3h-15.8zM46.5 234.3h35.8v1.3h-35.8zM154.5 234.3h21.3v1.3h-21.3zM46.5 235.3h119.8v1.3h-119.8zM84.0 236.3h67.8v1.3h-67.8z"/>
<path fill="#f6c57e" d="M136.5 48.3h16.3v1.3h-16.3zM127.0 49.3h36.3v1.3h-36.3zM121.0 50.3h48.3v1.3h-48.3zM116.5 51.3h14.8v1.3h-14.8zM158.0 51.3h16.8v1.3h-16.8zM112.5 52.3h11.8v1.3h-11.8zM165.5 52.3h13.8v1.3h-13.8zM109.0 53.3h10.3v1.3h-10.3zM171.0 53.3h12.3v1.3h-12.3zM106.0 54.3h8.8v1.3h-8.8zM176.0 54.3h10.8v1.3h-10.8zM103.0 55.3h8.3v1.3h-8.3zM180.0 55.3h10.3v1.3h-10.3zM100.5 56.3h7.3v1.3h-7.3zM184.0 56.3h9.8v1.3h-9.8zM98.0 57.3h6.8v1.3h-6.8zM187.5 57.3h9.3v1.3h-9.3zM95.5 58.3h6.8v1.3h-6.8zM191.0 58.3h8.8v1.3h-8.8zM93.5 59.3h6.3v1.3h-6.3zM194.0 59.3h8.3v1.3h-8.3zM91.0 60.3h6.3v1.3h-6.3zM197.0 60.3h8.3v1.3h-8.3zM89.0 61.3h5.8v1.3h-5.8zM200.0 61.3h7.8v1.3h-7.8zM87.0 62.3h5.8v1.3h-5.8zM202.5 62.3h7.8v1.3h-7.8zM85.0 63.3h5.8v1.3h-5.8zM205.5 63.3h7.3v1.3h-7.3zM83.5 64.3h5.3v1.3h-5.3zM208.0 64.3h7.3v1.3h-7.3zM81.5 65.3h5.3v1.3h-5.3zM210.5 65.3h7.3v1.3h-7.3zM80.0 66.3h4.8v1.3h-4.8zM213.0 66.3h6.8v1.3h-6.8zM78.0 67.3h4.8v1.3h-4.8zM215.0 67.3h7.3v1.3h-7.3zM76.5 68.3h4.8v1.3h-4.8zM217.5 68.3h6.8v1.3h-6.8zM75.0 69.3h4.3v1.3h-4.3zM219.5 69.3h6.8v1.3h-6.8zM73.5 70.3h4.3v1.3h-4.3zM222.0 70.3h6.8v1.3h-6.8zM72.0 71.3h4.3v1.3h-4.3zM224.0 71.3h6.8v1.3h-6.8zM70.5 72.3h4.3v1.3h-4.3zM226.0 72.3h6.8v1.3h-6.8zM69.0 73.3h4.3v1.3h-4.3zM228.0 73.3h6.8v1.3h-6.8zM67.5 74.3h4.3v1.3h-4.3zM230.0 74.3h6.3v1.3h-6.3zM66.0 75.3h4.3v1.3h-4.3zM232.0 75.3h6.3v1.3h-6.3zM64.5 76.3h4.3v1.3h-4.3zM234.0 76.3h6.3v1.3h-6.3zM63.0 77.3h4.3v1.3h-4.3zM236.0 77.3h6.3v1.3h-6.3zM62.0 78.3h3.8v1.3h-3.8zM237.5 78.3h6.3v1.3h-6.3zM60.5 79.3h3.8v1.3h-3.8zM239.5 79.3h6.3v1.3h-6.3zM59.0 80.3h4.3v1.3h-4.3zM241.0 80.3h6.3v1.3h-6.3zM58.0 81.3h3.8v1.3h-3.8zM243.0 81.3h5.8v1.3h-5.8zM56.5 82.3h3.8v1.3h-3.8zM244.5 82.3h6.3v1.3h-6.3zM55.5 83.3h3.8v1.3h-3.8zM246.5 83.3h5.8v1.3h-5.8zM54.0 84.3h3.8v1.3h-3.8zM248.0 84.3h5.8v1.3h-5.8zM53.0 85.3h3.8v1.3h-3.8zM249.5 85.3h5.8v1.3h-5.8zM51.5 86.3h3.8v1.3h-3.8zM251.0 86.3h5.8v1.3h-5.8zM50.5 87.3h3.8v1.3h-3.8zM252.5 87.3h5.8v1.3h-5.8zM49.0 88.3h3.8v1.3h-3.8zM254.0 88.3h5.8v1.3h-5.8zM48.0 89.3h3.8v1.3h-3.8zM255.5 89.3h5.8v1.3h-5.8zM47.0 90.3h3.3v1.3h-3.3zM257.0 90.3h5.8v1.3h-5.8zM46.5 91.3h2.8v1.3h-2.8zM258.5 91.3h5.8v1.3h-5.8zM46.5 92.3h1.8v1.3h-1.8zM260.0 92.3h5.3v1.3h-5.3zM261.0 93.3h5.8v1.3h-5.8zM262.5 94.3h5.3v1.3h-5.3zM263.5 95.3h5.8v1.3h-5.8zM265.0 96.3h5.3v1.3h-5.3zM266.0 97.3h5.5v1.3h-5.5zM267.5 98.3h4.0v1.3h-4.0zM268.5 99.3h3.0v1.3h-3.0zM269.5 100.3h2.0v1.3h-2.0zM270.5 101.3h1.0v1.3h-1.0zM270.5 187.3h1.0v1.3h-1.0zM269.5 188.3h2.0v1.3h-2.0zM268.5 189.3h3.0v1.3h-3.0zM267.5 190.3h4.0v1.3h-4.0zM266.5 191.3h4.3v1.3h-4.3zM265.5 192.3h4.3v1.3h-4.3zM264.5 193.3h4.3v1.3h-4.3zM263.5 194.3h3.8v1.3h-3.8zM262.5 195.3h3.8v1.3h-3.8zM261.5 196.3h3.8v1.3h-3.8zM260.0 197.3h4.3v1.3h-4.3zM259.0 198.3h3.8v1.3h-3.8zM257.5 199.3h4.3v1.3h-4.3zM256.5 200.3h4.3v1.3h-4.3zM255.0 201.3h4.3v1.3h-4.3zM254.0 202.3h3.8v1.3h-3.8zM252.5 203.3h4.3v1.3h-4.3zM251.0 204.3h4.3v1.3h-4.3zM249.5 205.3h4.3v1.3h-4.3zM248.0 206.3h4.3v1.3h-4.3zM246.5 207.3h4.3v1.3h-4.3zM244.5 208.3h4.8v1.3h-4.8zM243.0 209.3h4.8v1.3h-4.8zM241.5 210.3h4.3v1.3h-4.3zM239.5 211.3h4.8v1.3h-4.8zM237.5 212.3h4.8v1.3h-4.8zM235.5 213.3h5.3v1.3h-5.3zM233.5 214.3h5.3v1.3h-5.3zM231.5 215.3h5.3v1.3h-5.3zM229.5 216.3h5.3v1.3h-5.3zM227.0 217.3h5.8v1.3h-5.8zM224.5 218.3h5.8v1.3h-5.8zM222.0 219.3h5.8v1.3h-5.8zM219.5 220.3h5.8v1.3h-5.8zM216.5 221.3h6.3v1.3h-6.3zM213.5 222.3h6.8v1.3h-6.8zM210.5 223.3h6.8v1.3h-6.8zM207.0 224.3h7.3v1.3h-7.3zM203.0 225.3h7.8v1.3h-7.8zM199.0 226.3h8.3v1.3h-8.3zM194.5 227.3h9.3v1.3h-9.3zM189.5 228.3h9.8v1.3h-9.8zM184.0 229.3h10.8v1.3h-10.8zM177.0 230.3h12.8v1.3h-12.8zM168.5 231.3h15.3v1.3h-15.3zM46.5 232.3h35.8v1.3h-35.8zM156.5 232.3h20.3v1.3h-20.3zM46.5 233.3h121.3v1.3h-121.3zM82.0 234.3h72.8v1.3h-72.8z"/>
<path fill="#f5b772" d="M131.0 51.3h27.3v1.3h-27.3zM124.0 52.3h41.8v1.3h-41.8zM119.0 53.3h19.8v1.3h-19.8zM149.5 53.3h21.8v1.3h-21.8zM114.5 54.3h13.3v1.3h-13.3zM161.0 54.3h15.3v1.3h-15.3zM111.0 55.3h10.8v1.3h-10.8zM167.5 55.3h12.8v1.3h-12.8zM107.5 56.3h9.8v1.3h-9.8zM173.0 56.3h11.3v1.3h-11.3zM104.5 57.3h8.8v1.3h-8.8zM177.5 57.3h10.3v1.3h-10.3zM102.0 58.3h7.8v1.3h-7.8zM181.5 58.3h9.8v1.3h-9.8zM99.5 59.3h7.3v1.3h-7.3zM185.0 59.3h9.3v1.3h-9.3zM97.0 60.3h6.8v1.3h-6.8zM188.5 60.3h8.8v1.3h-8.8zM94.5 61.3h6.8v1.3h-6.8zM191.5 61.3h8.8v1.3h-8.8zM92.5 62.3h6.3v1.3h-6.3zM194.5 62.3h8.3v1.3h-8.3zM90.5 63.3h5.8v1.3h-5.8zM197.5 63.3h8.3v1.3h-8.3zM88.5 64.3h5.8v1.3h-5.8zM200.5 64.3h7.8v1.3h-7.8zM86.5 65.3h5.3v1.3h-5.3zM203.0 65.3h7.8v1.3h-7.8zM84.5 66.3h5.3v1.3h-5.3zM205.5 66.3h7.8v1.3h-7.8zM82.5 67.3h5.3v1.3h-5.3zM208.0 67.3h7.3v1.3h-7.3zM81.0 68.3h4.8v1.3h-4.8zM210.5 68.3h7.3v1.3h-7.3zM79.0 69.3h5.3v1.3h-5.3zM213.0 69.3h6.8v1.3h-6.8zM77.5 70.3h4.8v1.3h-4.8zM215.0 70.3h7.3v1.3h-7.3zM76.0 71.3h4.8v1.3h-4.8zM217.5 71.3h6.8v1.3h-6.8zM74.5 72.3h4.3v1.3h-4.3zM219.5 72.3h6.8v1.3h-6.8zM73.0 73.3h4.3v1.3h-4.3zM221.5 73.3h6.8v1.3h-6.8zM71.5 74.3h4.3v1.3h-4.3zM223.5 74.3h6.8v1.3h-6.8zM70.0 75.3h4.3v1.3h-4.3zM225.5 75.3h6.8v1.3h-6.8zM68.5 76.3h4.3v1.3h-4.3zM227.5 76.3h6.8v1.3h-6.8zM67.0 77.3h4.3v1.3h-4.3zM229.5 77.3h6.8v1.3h-6.8zM65.5 78.3h4.3v1.3h-4.3zM231.5 78.3h6.3v1.3h-6.3zM64.0 79.3h4.3v1.3h-4.3zM233.5 79.3h6.3v1.3h-6.3zM63.0 80.3h3.8v1.3h-3.8zM235.5 80.3h5.8v1.3h-5.8zM61.5 81.3h3.8v1.3h-3.8zM237.0 81.3h6.3v1.3h-6.3zM60.0 82.3h4.3v1.3h-4.3zM239.0 82.3h5.8v1.3h-5.8zM59.0 83.3h3.8v1.3h-3.8zM240.5 83.3h6.3v1.3h-6.3zM57.5 84.3h3.8v1.3h-3.8zM242.0 84.3h6.3v1.3h-6.3zM56.5 85.3h3.8v1.3h-3.8zM244.0 85.3h5.8v1.3h-5.8zM55.0 86.3h3.8v1.3h-3.8zM245.5 86.3h5.8v1.3h-5.8zM54.0 87.3h3.8v1.3h-3.8zM247.0 87.3h5.8v1.3h-5.8zM52.5 88.3h3.8v1.3h-3.8zM248.5 88.3h5.8v1.3h-5.8zM51.5 89.3h3.8v1.3h-3.8zM250.0 89.3h5.8v1.3h-5.8zM50.0 90.3h3.8v1.3h-3.8zM251.5 90.3h5.8v1.3h-5.8zM49.0 91.3h3.8v1.3h-3.8zM253.0 91.3h5.8v1.3h-5.8zM48.0 92.3h3.3v1.3h-3.3zM254.5 92.3h5.8v1.3h-5.8zM46.5 93.3h3.8v1.3h-3.8zM255.5 93.3h5.8v1.3h-5.8zM46.5 94.3h2.8v1.3h-2.8zM257.0 94.3h5.8v1.3h-5.8zM46.5 95.3h1.3v1.3h-1.3zM258.5 95.3h5.3v1.3h-5.3zM259.5 96.3h5.8v1.3h-5.8zM261.0 97.3h5.3v1.3h-5.3zM262.0 98.3h5.8v1.3h-5.8zM263.5 99.3h5.3v1.3h-5.3zM264.5 100.3h5.3v1.3h-5.3zM265.5 101.3h5.3v1.3h-5.3zM266.5 102.3h5.0v1.3h-5.0zM267.5 103.3h4.0v1.3h-4.0zM268.5 104.3h3.0v1.3h-3.0zM269.5 105.3h2.0v1.3h-2.0zM270.5 106.3h1.0v1.3h-1.0zM271.0 182.3h0.5v1.3h-0.5zM270.5 183.3h1.0v1.3h-1.0zM269.5 184.3h2.0v1.3h-2.0zM268.5 185.3h3.0v1.3h-3.0zM268.0 186.3h3.5v1.3h-3.5zM267.0 187.3h3.8v1.3h-3.8zM266.0 188.3h3.8v1.3h-3.8zM265.0 189.3h3.8v1.3h-3.8zM264.0 190.3h3.8v1.3h-3.8zM263.0 191.3h3.8v1.3h-3.8zM262.0 192.3h3.8v1.3h-3.8zM261.0 193.3h3.8v1.3h-3.8zM260.0 194.3h3.8v1.3h-3.8zM258.5 195.3h4.3v1.3h-4.3zM257.5 196.3h4.3v1.3h-4.3zM256.5 197.3h3.8v1.3h-3.8zM255.0 198.3h4.3v1.3h-4.3zM254.0 199.3h3.8v1.3h-3.8zM252.5 200.3h4.3v1.3h-4.3zM251.0 201.3h4.3v1.3h-4.3zM249.5 202.3h4.8v1.3h-4.8zM248.5 203.3h4.3v1.3h-4.3zM247.0 204.3h4.3v1.3h-4.3zM245.0 205.3h4.8v1.3h-4.8zM243.5 206.3h4.8v1.3h-4.8zM242.0 207.3h4.8v1.3h-4.8zM240.5 208.3h4.3v1.3h-4.3zM238.5 209.3h4.8v1.3h-4.8zM236.5 210.3h5.3v1.3h-5.3zM235.0 211.3h4.8v1.3h-4.8zM233.0 212.3h4.8v1.3h-4.8zM230.5 213.3h5.3v1.3h-5.3zM228.5 214.3h5.3v1.3h-5.3zM226.5 215.3h5.3v1.3h-5.3zM224.0 216.3h5.8v1.3h-5.8zM221.5 217.3h5.8v1.3h-5.8zM219.0 218.3h5.8v1.3h-5.8zM216.0 219.3h6.3v1.3h-6.3zM213.0 220.3h6.8v1.3h-6.8zM210.0 221.3h6.8v1.3h-6.8zM206.5 222.3h7.3v1.3h-7.3zM203.0 223.3h7.8v1.3h-7.8zM199.0 224.3h8.3v1.3h-8.3zM194.5 225.3h8.8v1.3h-8.8zM189.5 226.3h9.8v1.3h-9.8zM184.0 227.3h10.8v1.3h-10.8zM177.5 228.3h12.3v1.3h-12.3zM169.0 229.3h15.3v1.3h-15.3zM46.5 230.3h37.3v1.3h-37.3zM157.5 230.3h19.8v1.3h-19.8zM46.5 231.3h122.3v1.3h-122.3zM82.0 232.3h74.8v1.3h-74.8z"/>
<path fill="#f3a867" d="M138.5 53.3h11.3v1.3h-11.3zM127.5 54.3h33.8v1.3h-33.8zM121.5 55.3h46.3v1.3h-46.3zM117.0 56.3h16.3v1.3h-16.3zM155.0 56.3h18.3v1.3h-18.3zM113.0 57.3h12.3v1.3h-12.3zM163.5 57.3h14.3v1.3h-14.3zM109.5 58.3h10.3v1.3h-10.3zM169.0 58.3h12.8v1.3h-12.8zM106.5 59.3h9.3v1.3h-9.3zM174.0 59.3h11.3v1.3h-11.3zM103.5 60.3h8.3v1.3h-8.3zM178.5 60.3h10.3v1.3h-10.3zM101.0 61.3h7.8v1.3h-7.8zM182.0 61.3h9.8v1.3h-9.8zM98.5 62.3h7.3v1.3h-7.3zM185.5 62.3h9.3v1.3h-9.3zM96.0 63.3h6.8v1.3h-6.8zM189.0 63.3h8.8v1.3h-8.8zM94.0 64.3h6.3v1.3h-6.3zM192.0 64.3h8.8v1.3h-8.8zM91.5 65.3h6.3v1.3h-6.3zM195.0 65.3h8.3v1.3h-8.3zM89.5 66.3h6.3v1.3h-6.3zM198.0 66.3h7.8v1.3h-7.8zM87.5 67.3h5.8v1.3h-5.8zM200.5 67.3h7.8v1.3h-7.8zM85.5 68.3h5.8v1.3h-5.8zM203.0 68.3h7.8v1.3h-7.8zM84.0 69.3h5.3v1.3h-5.3zM205.5 69.3h7.8v1.3h-7.8zM82.0 70.3h5.3v1.3h-5.3zM208.0 70.3h7.3v1.3h-7.3zM80.5 71.3h4.8v1.3h-4.8zM210.5 71.3h7.3v1.3h-7.3zM78.5 72.3h5.3v1.3h-5.3zM212.5 72.3h7.3v1.3h-7.3zM77.0 73.3h4.8v1.3h-4.8zM215.0 73.3h6.8v1.3h-6.8zM75.5 74.3h4.8v1.3h-4.8zM217.0 74.3h6.8v1.3h-6.8zM74.0 75.3h4.8v1.3h-4.8zM219.5 75.3h6.3v1.3h-6.3zM72.5 76.3h4.3v1.3h-4.3zM221.5 76.3h6.3v1.3h-6.3zM71.0 77.3h4.3v1.3h-4.3zM223.5 77.3h6.3v1.3h-6.3zM69.5 78.3h4.3v1.3h-4.3zM225.5 78.3h6.3v1.3h-6.3zM68.0 79.3h4.3v1.3h-4.3zM227.0 79.3h6.8v1.3h-6.8zM66.5 80.3h4.3v1.3h-4.3zM229.0 80.3h6.8v1.3h-6.8zM65.0 81.3h4.3v1.3h-4.3zM231.0 81.3h6.3v1.3h-6.3zM64.0 82.3h3.8v1.3h-3.8zM233.0 82.3h6.3v1.3h-6.3zM62.5 83.3h4.3v1.3h-4.3zM234.5 83.3h6.3v1.3h-6.3zM61.0 84.3h4.3v1.3h-4.3zM236.5 84.3h5.8v1.3h-5.8zM60.0 85.3h3.8v1.3h-3.8zM238.0 85.3h6.3v1.3h-6.3zM58.5 86.3h4.3v1.3h-4.3zM239.5 86.3h6.3v1.3h-6.3zM57.5 87.3h3.8v1.3h-3.8zM241.0 87.3h6.3v1.3h-6.3zM56.0 88.3h3.8v1.3h-3.8zM243.0 88.3h5.8v1.3h-5.8zM55.0 89.3h3.8v1.3h-3.8zM244.5 89.3h5.8v1.3h-5.8zM53.5 90.3h3.8v1.3h-3.8zM246.0 90.3h5.8v1.3h-5.8zM52.5 91.3h3.8v1.3h-3.8zM247.5 91.3h5.8v1.3h-5.8zM51.0 92.3h3.8v1.3h-3.8zM249.0 92.3h5.8v1.3h-5.8zM50.0 93.3h3.8v1.3h-3.8zM250.0 93.3h5.8v1.3h-5.8zM49.0 94.3h3.8v1.3h-3.8zM251.5 94.3h5.8v1.3h-5.8zM47.5 95.3h3.8v1.3h-3.8zM253.0 95.3h5.8v1.3h-5.8zM46.5 96.3h3.8v1.3h-3.8zM254.5 96.3h5.3v1.3h-5.3zM46.5 97.3h2.8v1.3h-2.8zM255.5 97.3h5.8v1.3h-5.8zM46.5 98.3h1.3v1.3h-1.3zM257.0 98.3h5.3v1.3h-5.3zM258.0 99.3h5.8v1.3h-5.8zM259.0 100.3h5.8v1.3h-5.8zM260.5 101.3h5.3v1.3h-5.3zM261.5 102.3h5.3v1.3h-5.3zM262.5 103.3h5.3v1.3h-5.3zM263.5 104.3h5.3v1.3h-5.3zM264.5 105.3h5.3v1.3h-5.3zM265.5 106.3h5.3v1.3h-5.3zM266.5 107.3h5.0v1.3h-5.0zM267.5 108.3h4.0v1.3h-4.0zM268.5 109.3h3.0v1.3h-3.0zM269.5 110.3h2.0v1.3h-2.0zM270.0 111.3h1.5v1.3h-1.5zM271.0 112.3h0.5v1.3h-0.5zM270.5 178.3h1.0v1.3h-1.0zM270.0 179.3h1.5v1.3h-1.5zM269.0 180.3h2.5v1.3h-2.5zM268.5 181.3h3.0v1.3h-3.0zM267.5 182.3h3.8v1.3h-3.8zM267.0 183.3h3.8v1.3h-3.8zM266.0 184.3h3.8v1.3h-3.8zM265.0 185.3h3.8v1.3h-3.8zM264.0 186.3h4.3v1.3h-4.3zM263.5 187.3h3.8v1.3h-3.8zM262.5 188.3h3.8v1.3h-3.8zM261.5 189.3h3.8v1.3h-3.8zM260.5 190.3h3.8v1.3h-3.8zM259.5 191.3h3.8v1.3h-3.8zM258.0 192.3h4.3v1.3h-4.3zM257.0 193.3h4.3v1.3h-4.3zM256.0 194.3h4.3v1.3h-4.3zM255.0 195.3h3.8v1.3h-3.8zM253.5 196.3h4.3v1.3h-4.3zM252.5 197.3h4.3v1.3h-4.3zM251.0 198.3h4.3v1.3h-4.3zM249.5 199.3h4.8v1.3h-4.8zM248.5 200.3h4.3v1.3h-4.3zM247.0 201.3h4.3v1.3h-4.3zM245.5 202.3h4.3v1.3h-4.3zM244.0 203.3h4.8v1.3h-4.8zM242.5 204.3h4.8v1.3h-4.8zM241.0 205.3h4.3v1.3h-4.3zM239.0 206.3h4.8v1.3h-4.8zM237.5 207.3h4.8v1.3h-4.8zM235.5 208.3h5.3v1.3h-5.3zM233.5 209.3h5.3v1.3h-5.3zM231.5 210.3h5.3v1.3h-5.3zM229.5 211.3h5.8v1.3h-5.8zM227.5 212.3h5.8v1.3h-5.8zM225.5 213.3h5.3v1.3h-5.3zM223.0 214.3h5.8v1.3h-5.8zM220.5 215.3h6.3v1.3h-6.3zM218.0 216.3h6.3v1.3h-6.3zM215.5 217.3h6.3v1.3h-6.3zM212.5 218.3h6.8v1.3h-6.8zM209.5 219.3h6.8v1.3h-6.8zM206.0 220.3h7.3v1.3h-7.3zM202.5 221.3h7.8v1.3h-7.8zM198.5 222.3h8.3v1.3h-8.3zM194.0 223.3h9.3v1.3h-9.3zM189.5 224.3h9.8v1.3h-9.8zM184.0 225.3h10.8v1.3h-10.8zM177.5 226.3h12.3v1.3h-12.3zM46.5 227.3h12.8v1.3h-12.8zM169.0 227.3h15.3v1.3h-15.3zM46.5 228.3h39.8v1.3h-39.8zM158.0 228.3h19.8v1.3h-19.8zM46.5 229.3h122.8v1.3h-122.8zM83.5 230.3h74.3v1.3h-74.3z"/>
<path fill="#f2995b" d="M133.0 56.3h22.3v1.3h-22.3zM125.0 57.3h38.8v1.3h-38.8zM119.5 58.3h49.8v1.3h-49.8zM115.5 59.3h14.8v1.3h-14.8zM157.5 59.3h16.8v1.3h-16.8zM111.5 60.3h11.8v1.3h-11.8zM165.0 60.3h13.8v1.3h-13.8zM108.5 61.3h9.8v1.3h-9.8zM170.5 61.3h11.8v1.3h-11.8zM105.5 62.3h8.8v1.3h-8.8zM175.0 62.3h10.8v1.3h-10.8zM102.5 63.3h8.3v1.3h-8.3zM179.0 63.3h10.3v1.3h-10.3zM100.0 64.3h7.8v1.3h-7.8zM182.5 64.3h9.8v1.3h-9.8zM97.5 65.3h7.3v1.3h-7.3zM186.0 65.3h9.3v1.3h-9.3zM95.5 66.3h6.8v1.3h-6.8zM189.5 66.3h8.8v1.3h-8.8zM93.0 67.3h6.8v1.3h-6.8zM192.5 67.3h8.3v1.3h-8.3zM91.0 68.3h6.3v1.3h-6.3zM195.0 68.3h8.3v1.3h-8.3zM89.0 69.3h5.8v1.3h-5.8zM198.0 69.3h7.8v1.3h-7.8zM87.0 70.3h5.8v1.3h-5.8zM200.5 70.3h7.8v1.3h-7.8zM85.0 71.3h5.8v1.3h-5.8zM203.0 71.3h7.8v1.3h-7.8zM83.5 72.3h5.3v1.3h-5.3zM205.5 72.3h7.3v1.3h-7.3zM81.5 73.3h5.3v1.3h-5.3zM208.0 73.3h7.3v1.3h-7.3zM80.0 74.3h5.3v1.3h-5.3zM210.0 74.3h7.3v1.3h-7.3zM78.5 75.3h4.8v1.3h-4.8zM212.5 75.3h7.3v1.3h-7.3zM76.5 76.3h5.3v1.3h-5.3zM214.5 76.3h7.3v1.3h-7.3zM75.0 77.3h4.8v1.3h-4.8zM217.0 77.3h6.8v1.3h-6.8zM73.5 78.3h4.8v1.3h-4.8zM219.0 78.3h6.8v1.3h-6.8zM72.0 79.3h4.8v1.3h-4.8zM221.0 79.3h6.3v1.3h-6.3zM70.5 80.3h4.8v1.3h-4.8zM223.0 80.3h6.3v1.3h-6.3zM69.0 81.3h4.8v1.3h-4.8zM224.5 81.3h6.8v1.3h-6.8zM67.5 82.3h4.8v1.3h-4.8zM226.5 82.3h6.8v1.3h-6.8zM66.5 83.3h4.3v1.3h-4.3zM228.5 83.3h6.3v1.3h-6.3zM65.0 84.3h4.3v1.3h-4.3zM230.0 84.3h6.8v1.3h-6.8zM63.5 85.3h4.3v1.3h-4.3zM232.0 85.3h6.3v1.3h-6.3zM62.5 86.3h3.8v1.3h-3.8zM233.5 86.3h6.3v1.3h-6.3zM61.0 87.3h4.3v1.3h-4.3zM235.5 87.3h5.8v1.3h-5.8zM59.5 88.3h4.3v1.3h-4.3zM237.0 88.3h6.3v1.3h-6.3zM58.5 89.3h3.8v1.3h-3.8zM238.5 89.3h6.3v1.3h-6.3zM57.0 90.3h4.3v1.3h-4.3zM240.0 90.3h6.3v1.3h-6.3zM56.0 91.3h3.8v1.3h-3.8zM241.5 91.3h6.3v1.3h-6.3zM54.5 92.3h4.3v1.3h-4.3zM243.0 92.3h6.3v1.3h-6.3zM53.5 93.3h3.8v1.3h-3.8zM244.5 93.3h5.8v1.3h-5.8zM52.5 94.3h3.8v1.3h-3.8zM246.0 94.3h5.8v1.3h-5.8zM51.0 95.3h3.8v1.3h-3.8zM247.5 95.3h5.8v1.3h-5.8zM50.0 96.3h3.8v1.3h-3.8zM249.0 96.3h5.8v1.3h-5.8zM49.0 97.3h3.8v1.3h-3.8zM250.0 97.3h5.8v1.3h-5.8zM47.5 98.3h3.8v1.3h-3.8zM251.5 98.3h5.8v1.3h-5.8zM46.5 99.3h3.8v1.3h-3.8zM252.5 99.3h5.8v1.3h-5.8zM46.5 100.3h2.8v1.3h-2.8zM254.0 100.3h5.3v1.3h-5.3zM46.5 101.3h1.8v1.3h-1.8zM255.0 101.3h5.8v1.3h-5.8zM256.5 102.3h5.3v1.3h-5.3zM257.5 103.3h5.3v1.3h-5.3zM258.5 104.3h5.3v1.3h-5.3zM259.5 105.3h5.3v1.3h-5.3zM260.5 106.3h5.3v1.3h-5.3zM261.5 107.3h5.3v1.3h-5.3zM262.5 108.3h5.3v1.3h-5.3zM263.5 109.3h5.3v1.3h-5.3zM264.5 110.3h5.3v1.3h-5.3zM265.5 111.3h4.8v1.3h-4.8zM266.0 112.3h5.3v1.3h-5.3zM267.0 113.3h4.5v1.3h-4.5zM268.0 114.3h3.5v1.3h-3.5zM268.5 115.3h3.0v1.3h-3.0zM269.5 116.3h2.0v1.3h-2.0zM270.0 117.3h1.5v1.3h-1.5zM270.5 118.3h1.0v1.3h-1.0zM271.0 172.3h0.5v1.3h-0.5zM270.5 173.3h1.0v1.3h-1.0zM269.5 174.3h2.0v1.3h-2.0zM269.0 175.3h2.5v1.3h-2.5zM268.5 176.3h3.0v1.3h-3.0zM267.5 177.3h4.0v1.3h-4.0zM267.0 178.3h3.8v1.3h-3.8zM266.5 179.3h3.8v1.3h-3.8zM265.5 180.3h3.8v1.3h-3.8zM264.5 181.3h4.3v1.3h-4.3zM264.0 182.3h3.8v1.3h-3.8zM263.0 183.3h4.3v1.3h-4.3zM262.0 184.3h4.3v1.3h-4.3zM261.5 185.3h3.8v1.3h-3.8zM260.5 186.3h3.8v1.3h-3.8zM259.5 187.3h4.3v1.3h-4.3zM258.5 188.3h4.3v1.3h-4.3zM257.5 189.3h4.3v1.3h-4.3zM256.5 190.3h4.3v1.3h-4.3zM255.5 191.3h4.3v1.3h-4.3zM254.0 192.3h4.3v1.3h-4.3zM253.0 193.3h4.3v1.3h-4.3zM252.0 194.3h4.3v1.3h-4.3zM250.5 195.3h4.8v1.3h-4.8zM249.5 196.3h4.3v1.3h-4.3zM248.0 197.3h4.8v1.3h-4.8zM247.0 198.3h4.3v1.3h-4.3zM245.5 199.3h4.3v1.3h-4.3zM244.0 200.3h4.8v1.3h-4.8zM242.5 201.3h4.8v1.3h-4.8zM241.0 202.3h4.8v1.3h-4.8zM239.5 203.3h4.8v1.3h-4.8zM238.0 204.3h4.8v1.3h-4.8zM236.0 205.3h5.3v1.3h-5.3zM234.5 206.3h4.8v1.3h-4.8zM232.5 207.3h5.3v1.3h-5.3zM230.5 208.3h5.3v1.3h-5.3zM228.5 209.3h5.3v1.3h-5.3zM226.5 210.3h5.3v1.3h-5.3zM224.5 211.3h5.3v1.3h-5.3zM222.0 212.3h5.8v1.3h-5.8zM219.5 213.3h6.3v1.3h-6.3zM217.0 214.3h6.3v1.3h-6.3zM214.5 215.3h6.3v1.3h-6.3zM211.5 216.3h6.8v1.3h-6.8zM208.5 217.3h7.3v1.3h-7.3zM205.0 218.3h7.8v1.3h-7.8zM201.5 219.3h8.3v1.3h-8.3zM197.5 220.3h8.8v1.3h-8.8zM193.5 221.3h9.3v1.3h-9.3zM188.5 222.3h10.3v1.3h-10.3zM183.5 223.3h10.8v1.3h-10.8zM177.0 224.3h12.8v1.3h-12.8zM46.5 225.3h20.3v1.3h-20.3zM169.0 225.3h15.3v1.3h-15.3zM46.5 226.3h42.8v1.3h-42.8zM158.0 226.3h19.8v1.3h-19.8zM59.0 227.3h110.3v1.3h-110.3zM86.0 228.3h72.3v1.3h-72.3z"/>
<path fill="#f08a50" d="M130.0 59.3h27.8v1.3h-27.8zM123.0 60.3h42.3v1.3h-42.3zM118.0 61.3h21.3v1.3h-21.3zM147.5 61.3h23.3v1.3h-23.3zM114.0 62.3h13.8v1.3h-13.8zM159.5 62.3h15.8v1.3h-15.8zM110.5 63.3h11.3v1.3h-11.3zM166.0 63.3h13.3v1.3h-13.3zM107.5 64.3h9.8v1.3h-9.8zM171.0 64.3h11.8v1.3h-11.8zM104.5 65.3h8.8v1.3h-8.8zM175.5 65.3h10.8v1.3h-10.8zM102.0 66.3h7.8v1.3h-7.8zM179.5 66.3h10.3v1.3h-10.3zM99.5 67.3h7.3v1.3h-7.3zM183.0 67.3h9.8v1.3h-9.8zM97.0 68.3h7.3v1.3h-7.3zM186.5 68.3h8.8v1.3h-8.8zM94.5 69.3h6.8v1.3h-6.8zM189.5 69.3h8.8v1.3h-8.8zM92.5 70.3h6.3v1.3h-6.3zM192.5 70.3h8.3v1.3h-8.3zM90.5 71.3h6.3v1.3h-6.3zM195.0 71.3h8.3v1.3h-8.3zM88.5 72.3h5.8v1.3h-5.8zM198.0 72.3h7.8v1.3h-7.8zM86.5 73.3h5.8v1.3h-5.8zM200.5 73.3h7.8v1.3h-7.8zM85.0 74.3h5.3v1.3h-5.3zM203.0 74.3h7.3v1.3h-7.3zM83.0 75.3h5.3v1.3h-5.3zM205.5 75.3h7.3v1.3h-7.3zM81.5 76.3h5.3v1.3h-5.3zM207.5 76.3h7.3v1.3h-7.3zM79.5 77.3h5.3v1.3h-5.3zM210.0 77.3h7.3v1.3h-7.3zM78.0 78.3h4.8v1.3h-4.8zM212.0 78.3h7.3v1.3h-7.3zM76.5 79.3h4.8v1.3h-4.8zM214.0 79.3h7.3v1.3h-7.3zM75.0 80.3h4.8v1.3h-4.8zM216.0 80.3h7.3v1.3h-7.3zM73.5 81.3h4.8v1.3h-4.8zM218.5 81.3h6.3v1.3h-6.3zM72.0 82.3h4.3v1.3h-4.3zM220.0 82.3h6.8v1.3h-6.8zM70.5 83.3h4.3v1.3h-4.3zM222.0 83.3h6.8v1.3h-6.8zM69.0 84.3h4.3v1.3h-4.3zM224.0 84.3h6.3v1.3h-6.3zM67.5 85.3h4.3v1.3h-4.3zM226.0 85.3h6.3v1.3h-6.3zM66.0 86.3h4.8v1.3h-4.8zM227.5 86.3h6.3v1.3h-6.3zM65.0 87.3h4.3v1.3h-4.3zM229.5 87.3h6.3v1.3h-6.3zM63.5 88.3h4.3v1.3h-4.3zM231.0 88.3h6.3v1.3h-6.3zM62.0 89.3h4.3v1.3h-4.3zM232.5 89.3h6.3v1.3h-6.3zM61.0 90.3h4.3v1.3h-4.3zM234.5 90.3h5.8v1.3h-5.8zM59.5 91.3h4.3v1.3h-4.3zM236.0 91.3h5.8v1.3h-5.8zM58.5 92.3h3.8v1.3h-3.8zM237.5 92.3h5.8v1.3h-5.8zM57.0 93.3h4.3v1.3h-4.3zM239.0 93.3h5.8v1.3h-5.8zM56.0 94.3h3.8v1.3h-3.8zM240.5 94.3h5.8v1.3h-5.8zM54.5 95.3h4.3v1.3h-4.3zM242.0 95.3h5.8v1.3h-5.8zM53.5 96.3h3.8v1.3h-3.8zM243.5 96.3h5.8v1.3h-5.8zM52.5 97.3h3.8v1.3h-3.8zM244.5 97.3h5.8v1.3h-5.8zM51.0 98.3h4.3v1.3h-4.3zM246.0 98.3h5.8v1.3h-5.8zM50.0 99.3h3.8v1.3h-3.8zM247.5 99.3h5.3v1.3h-5.3zM49.0 100.3h3.8v1.3h-3.8zM248.5 100.3h5.8v1.3h-5.8zM48.0 101.3h3.8v1.3h-3.8zM250.0 101.3h5.3v1.3h-5.3zM46.5 102.3h3.8v1.3h-3.8zM251.0 102.3h5.8v1.3h-5.8zM46.5 103.3h2.8v1.3h-2.8zM252.0 103.3h5.8v1.3h-5.8zM46.5 104.3h1.8v1.3h-1.8zM253.5 104.3h5.3v1.3h-5.3zM46.5 105.3h0.8v1.3h-0.8zM254.5 105.3h5.3v1.3h-5.3zM255.5 106.3h5.3v1.3h-5.3zM256.5 107.3h5.3v1.3h-5.3zM257.5 108.3h5.3v1.3h-5.3zM258.5 109.3h5.3v1.3h-5.3zM259.5 110.3h5.3v1.3h-5.3zM260.5 111.3h5.3v1.3h-5.3zM261.5 112.3h4.8v1.3h-4.8zM262.0 113.3h5.3v1.3h-5.3zM263.0 114.3h5.3v1.3h-5.3zM264.0 115.3h4.8v1.3h-4.8zM264.5 116.3h5.3v1.3h-5.3zM265.5 117.3h4.8v1.3h-4.8zM266.0 118.3h4.8v1.3h-4.8zM266.5 119.3h5.0v1.3h-5.0zM267.5 120.3h4.0v1.3h-4.0zM268.0 121.3h3.5v1.3h-3.5zM268.5 122.3h3.0v1.3h-3.0zM269.0 123.3h2.5v1.3h-2.5zM269.5 124.3h2.0v1.3h-2.0zM270.0 125.3h1.5v1.3h-1.5zM270.5 126.3h1.0v1.3h-1.0zM271.0 127.3h0.5v1.3h-0.5zM271.0 164.3h0.5v1.3h-0.5zM271.0 165.3h0.5v1.3h-0.5zM270.5 166.3h1.0v1.3h-1.0zM270.0 167.3h1.5v1.3h-1.5zM269.5 168.3h2.0v1.3h-2.0zM269.0 169.3h2.5v1.3h-2.5zM268.5 170.3h3.0v1.3h-3.0zM268.0 171.3h3.5v1.3h-3.5zM267.0 172.3h4.3v1.3h-4.3zM266.5 173.3h4.3v1.3h-4.3zM266.0 174.3h3.8v1.3h-3.8zM265.5 175.3h3.8v1.3h-3.8zM264.5 176.3h4.3v1.3h-4.3zM264.0 177.3h3.8v1.3h-3.8zM263.0 178.3h4.3v1.3h-4.3zM262.5 179.3h4.3v1.3h-4.3zM261.5 180.3h4.3v1.3h-4.3zM261.0 181.3h3.8v1.3h-3.8zM260.0 182.3h4.3v1.3h-4.3zM259.0 183.3h4.3v1.3h-4.3zM258.5 184.3h3.8v1.3h-3.8zM257.5 185.3h4.3v1.3h-4.3zM256.5 186.3h4.3v1.3h-4.3zM255.5 187.3h4.3v1.3h-4.3zM254.5 188.3h4.3v1.3h-4.3zM253.5 189.3h4.3v1.3h-4.3zM252.5 190.3h4.3v1.3h-4.3zM251.5 191.3h4.3v1.3h-4.3zM250.0 192.3h4.3v1.3h-4.3zM249.0 193.3h4.3v1.3h-4.3zM247.5 194.3h4.8v1.3h-4.8zM246.5 195.3h4.3v1.3h-4.3zM245.0 196.3h4.8v1.3h-4.8zM244.0 197.3h4.3v1.3h-4.3zM242.5 198.3h4.8v1.3h-4.8zM241.0 199.3h4.8v1.3h-4.8zM239.5 200.3h4.8v1.3h-4.8zM238.0 201.3h4.8v1.3h-4.8zM236.5 202.3h4.8v1.3h-4.8zM234.5 203.3h5.3v1.3h-5.3zM233.0 204.3h5.3v1.3h-5.3zM231.0 205.3h5.3v1.3h-5.3zM229.0 206.3h5.8v1.3h-5.8zM227.5 207.3h5.3v1.3h-5.3zM225.0 208.3h5.8v1.3h-5.8zM223.0 209.3h5.8v1.3h-5.8zM221.0 210.3h5.8v1.3h-5.8zM218.5 211.3h6.3v1.3h-6.3zM216.0 212.3h6.3v1.3h-6.3zM213.5 213.3h6.3v1.3h-6.3zM210.5 214.3h6.8v1.3h-6.8zM207.5 215.3h7.3v1.3h-7.3zM204.0 216.3h7.8v1.3h-7.8zM200.5 217.3h8.3v1.3h-8.3zM197.0 218.3h8.3v1.3h-8.3zM192.5 219.3h9.3v1.3h-9.3zM188.0 220.3h9.8v1.3h-9.8zM182.5 221.3h11.3v1.3h-11.3zM46.5 222.3h7.3v1.3h-7.3zM176.0 222.3h12.8v1.3h-12.8zM46.5 223.3h26.8v1.3h-26.8zM168.5 223.3h15.3v1.3h-15.3zM46.5 224.3h46.8v1.3h-46.8zM157.5 224.3h19.8v1.3h-19.8zM66.5 225.3h102.8v1.3h-102.8zM89.0 226.3h69.3v1.3h-69.3z"/>
<path fill="#ee7f4e" d="M139.0 61.3h8.8v1.3h-8.8zM127.5 62.3h32.3v1.3h-32.3zM121.5 63.3h44.8v1.3h-44.8zM117.0 64.3h18.3v1.3h-18.3zM151.5 64.3h19.8v1.3h-19.8zM113.0 65.3h13.3v1.3h-13.3zM161.0 65.3h14.8v1.3h-14.8zM109.5 66.3h11.3v1.3h-11.3zM167.0 66.3h12.8v1.3h-12.8zM106.5 67.3h9.8v1.3h-9.8zM171.5 67.3h11.8v1.3h-11.8zM104.0 68.3h8.8v1.3h-8.8zM176.0 68.3h10.8v1.3h-10.8zM101.0 69.3h8.3v1.3h-8.3zM179.5 69.3h10.3v1.3h-10.3zM98.5 70.3h7.8v1.3h-7.8zM183.0 70.3h9.8v1.3h-9.8zM96.5 71.3h6.8v1.3h-6.8zM186.5 71.3h8.8v1.3h-8.8zM94.0 72.3h6.8v1.3h-6.8zM189.5 72.3h8.8v1.3h-8.8zM92.0 73.3h6.8v1.3h-6.8zM192.5 73.3h8.3v1.3h-8.3zM90.0 74.3h6.3v1.3h-6.3zM195.0 74.3h8.3v1.3h-8.3zM88.0 75.3h6.3v1.3h-6.3zM197.5 75.3h8.3v1.3h-8.3zM86.5 76.3h5.8v1.3h-5.8zM200.0 76.3h7.8v1.3h-7.8zM84.5 77.3h5.8v1.3h-5.8zM202.5 77.3h7.8v1.3h-7.8zM82.5 78.3h5.8v1.3h-5.8zM205.0 78.3h7.3v1.3h-7.3zM81.0 79.3h5.3v1.3h-5.3zM207.0 79.3h7.3v1.3h-7.3zM79.5 80.3h5.3v1.3h-5.3zM209.5 80.3h6.8v1.3h-6.8zM78.0 81.3h4.8v1.3h-4.8zM211.5 81.3h7.3v1.3h-7.3zM76.0 82.3h5.3v1.3h-5.3zM213.5 82.3h6.8v1.3h-6.8zM74.5 83.3h4.8v1.3h-4.8zM215.5 83.3h6.8v1.3h-6.8zM73.0 84.3h4.8v1.3h-4.8zM217.5 84.3h6.8v1.3h-6.8zM71.5 85.3h4.8v1.3h-4.8zM219.5 85.3h6.8v1.3h-6.8zM70.5 86.3h4.3v1.3h-4.3zM221.5 86.3h6.3v1.3h-6.3zM69.0 87.3h4.3v1.3h-4.3zM223.0 87.3h6.8v1.3h-6.8zM67.5 88.3h4.3v1.3h-4.3zM225.0 88.3h6.3v1.3h-6.3zM66.0 89.3h4.8v1.3h-4.8zM226.5 89.3h6.3v1.3h-6.3zM65.0 90.3h4.3v1.3h-4.3zM228.5 90.3h6.3v1.3h-6.3zM63.5 91.3h4.3v1.3h-4.3zM230.0 91.3h6.3v1.3h-6.3zM62.0 92.3h4.3v1.3h-4.3zM231.5 92.3h6.3v1.3h-6.3zM61.0 93.3h4.3v1.3h-4.3zM233.0 93.3h6.3v1.3h-6.3zM59.5 94.3h4.3v1.3h-4.3zM234.5 94.3h6.3v1.3h-6.3zM58.5 95.3h4.3v1.3h-4.3zM236.0 95.3h6.3v1.3h-6.3zM57.0 96.3h4.3v1.3h-4.3zM237.5 96.3h6.3v1.3h-6.3zM56.0 97.3h4.3v1.3h-4.3zM239.0 97.3h5.8v1.3h-5.8zM55.0 98.3h3.8v1.3h-3.8zM240.5 98.3h5.8v1.3h-5.8zM53.5 99.3h4.3v1.3h-4.3zM242.0 99.3h5.8v1.3h-5.8zM52.5 100.3h3.8v1.3h-3.8zM243.0 100.3h5.8v1.3h-5.8zM51.5 101.3h3.8v1.3h-3.8zM244.5 101.3h5.8v1.3h-5.8zM50.0 102.3h4.3v1.3h-4.3zM245.5 102.3h5.8v1.3h-5.8zM49.0 103.3h3.8v1.3h-3.8zM247.0 103.3h5.3v1.3h-5.3zM48.0 104.3h3.8v1.3h-3.8zM248.0 104.3h5.8v1.3h-5.8zM47.0 105.3h3.8v1.3h-3.8zM249.0 105.3h5.8v1.3h-5.8zM46.5 106.3h3.3v1.3h-3.3zM250.5 106.3h5.3v1.3h-5.3zM46.5 107.3h1.8v1.3h-1.8zM251.5 107.3h5.3v1.3h-5.3zM46.5 108.3h0.8v1.3h-0.8zM252.5 108.3h5.3v1.3h-5.3zM253.5 109.3h5.3v1.3h-5.3zM254.5 110.3h5.3v1.3h-5.3zM255.5 111.3h5.3v1.3h-5.3zM256.5 112.3h5.3v1.3h-5.3zM257.0 113.3h5.3v1.3h-5.3zM258.0 114.3h5.3v1.3h-5.3zM259.0 115.3h5.3v1.3h-5.3zM259.5 116.3h5.3v1.3h-5.3zM260.5 117.3h5.3v1.3h-5.3zM261.5 118.3h4.8v1.3h-4.8zM262.0 119.3h4.8v1.3h-4.8zM262.5 120.3h5.3v1.3h-5.3zM263.5 121.3h4.8v1.3h-4.8zM264.0 122.3h4.8v1.3h-4.8zM264.5 123.3h4.8v1.3h-4.8zM265.0 124.3h4.8v1.3h-4.8zM265.5 125.3h4.8v1.3h-4.8zM266.0 126.3h4.8v1.3h-4.8zM266.5 127.3h4.8v1.3h-4.8zM267.0 128.3h4.5v1.3h-4.5zM267.5 129.3h4.0v1.3h-4.0zM268.0 130.3h3.5v1.3h-3.5zM268.5 131.3h3.0v1.3h-3.0zM268.5 132.3h3.0v1.3h-3.0zM269.0 133.3h2.5v1.3h-2.5zM269.5 134.3h2.0v1.3h-2.0zM269.5 135.3h2.0v1.3h-2.0zM270.0 136.3h1.5v1.3h-1.5zM270.0 137.3h1.5v1.3h-1.5zM270.5 138.3h1.0v1.3h-1.0zM270.5 139.3h1.0v1.3h-1.0zM270.5 140.3h1.0v1.3h-1.0zM270.5 141.3h1.0v1.3h-1.0zM271.0 142.3h0.5v1.3h-0.5zM271.0 143.3h0.5v1.3h-0.5zM271.0 144.3h0.5v1.3h-0.5zM271.0 145.3h0.5v1.3h-0.5zM271.0 146.3h0.5v1.3h-0.5zM271.0 147.3h0.5v1.3h-0.5zM271.0 148.3h0.5v1.3h-0.5zM271.0 149.3h0.5v1.3h-0.5zM271.0 150.3h0.5v1.3h-0.5zM270.5 151.3h1.0v1.3h-1.0zM270.5 152.3h1.0v1.3h-1.0zM270.5 153.3h1.0v1.3h-1.0zM270.5 154.3h1.0v1.3h-1.0zM270.0 155.3h1.5v1.3h-1.5zM270.0 156.3h1.5v1.3h-1.5zM269.5 157.3h2.0v1.3h-2.0zM269.5 158.3h2.0v1.3h-2.0zM269.0 159.3h2.5v1.3h-2.5zM269.0 160.3h2.5v1.3h-2.5zM268.5 161.3h3.0v1.3h-3.0zM268.0 162.3h3.5v1.3h-3.5zM267.5 163.3h4.0v1.3h-4.0zM267.5 164.3h3.8v1.3h-3.8zM267.0 165.3h4.3v1.3h-4.3zM266.5 166.3h4.3v1.3h-4.3zM266.0 167.3h4.3v1.3h-4.3zM265.5 168.3h4.3v1.3h-4.3zM265.0 169.3h4.3v1.3h-4.3zM264.5 170.3h4.3v1.3h-4.3zM264.0 171.3h4.3v1.3h-4.3zM263.5 172.3h3.8v1.3h-3.8zM262.5 173.3h4.3v1.3h-4.3zM262.0 174.3h4.3v1.3h-4.3zM261.5 175.3h4.3v1.3h-4.3zM261.0 176.3h3.8v1.3h-3.8zM260.0 177.3h4.3v1.3h-4.3zM259.5 178.3h3.8v1.3h-3.8zM258.5 179.3h4.3v1.3h-4.3zM258.0 180.3h3.8v1.3h-3.8zM257.0 181.3h4.3v1.3h-4.3zM256.0 182.3h4.3v1.3h-4.3zM255.0 183.3h4.3v1.3h-4.3zM254.5 184.3h4.3v1.3h-4.3zM253.5 185.3h4.3v1.3h-4.3zM252.5 186.3h4.3v1.3h-4.3zM251.5 187.3h4.3v1.3h-4.3zM250.5 188.3h4.3v1.3h-4.3zM249.5 189.3h4.3v1.3h-4.3zM248.0 190.3h4.8v1.3h-4.8zM247.0 191.3h4.8v1.3h-4.8zM246.0 192.3h4.3v1.3h-4.3zM244.5 193.3h4.8v1.3h-4.8zM243.5 194.3h4.3v1.3h-4.3zM242.0 195.3h4.8v1.3h-4.8zM240.5 196.3h4.8v1.3h-4.8zM239.5 197.3h4.8v1.3h-4.8zM238.0 198.3h4.8v1.3h-4.8zM236.5 199.3h4.8v1.3h-4.8zM234.5 200.3h5.3v1.3h-5.3zM233.0 201.3h5.3v1.3h-5.3zM231.5 202.3h5.3v1.3h-5.3zM229.5 203.3h5.3v1.3h-5.3zM227.5 204.3h5.8v1.3h-5.8zM226.0 205.3h5.3v1.3h-5.3zM224.0 206.3h5.3v1.3h-5.3zM221.5 207.3h6.3v1.3h-6.3zM219.5 208.3h5.8v1.3h-5.8zM217.0 209.3h6.3v1.3h-6.3zM214.5 210.3h6.8v1.3h-6.8zM212.0 211.3h6.8v1.3h-6.8zM209.0 212.3h7.3v1.3h-7.3zM206.0 213.3h7.8v1.3h-7.8zM203.0 214.3h7.8v1.3h-7.8zM199.5 215.3h8.3v1.3h-8.3zM196.0 216.3h8.3v1.3h-8.3zM191.5 217.3h9.3v1.3h-9.3zM187.0 218.3h10.3v1.3h-10.3zM181.5 219.3h11.3v1.3h-11.3zM46.5 220.3h15.8v1.3h-15.8zM175.0 220.3h13.3v1.3h-13.3zM46.5 221.3h32.3v1.3h-32.3zM167.0 221.3h15.8v1.3h-15.8zM53.5 222.3h44.3v1.3h-44.3zM156.0 222.3h20.3v1.3h-20.3zM73.0 223.3h95.8v1.3h-95.8zM93.0 224.3h64.8v1.3h-64.8z"/>
<path fill="#ec744c" d="M135.0 64.3h16.8v1.3h-16.8zM126.0 65.3h35.3v1.3h-35.3zM120.5 66.3h46.8v1.3h-46.8zM116.0 67.3h16.8v1.3h-16.8zM153.5 67.3h18.3v1.3h-18.3zM112.5 68.3h12.8v1.3h-12.8zM161.5 68.3h14.8v1.3h-14.8zM109.0 69.3h10.8v1.3h-10.8zM167.5 69.3h12.3v1.3h-12.3zM106.0 70.3h9.8v1.3h-9.8zM172.0 70.3h11.3v1.3h-11.3zM103.0 71.3h8.8v1.3h-8.8zM176.0 71.3h10.8v1.3h-10.8zM100.5 72.3h8.3v1.3h-8.3zM179.5 72.3h10.3v1.3h-10.3zM98.5 73.3h7.3v1.3h-7.3zM183.0 73.3h9.8v1.3h-9.8zM96.0 74.3h7.3v1.3h-7.3zM186.5 74.3h8.8v1.3h-8.8zM94.0 75.3h6.8v1.3h-6.8zM189.0 75.3h8.8v1.3h-8.8zM92.0 76.3h6.3v1.3h-6.3zM192.0 76.3h8.3v1.3h-8.3zM90.0 77.3h5.8v1.3h-5.8zM194.5 77.3h8.3v1.3h-8.3zM88.0 78.3h5.8v1.3h-5.8zM197.0 78.3h8.3v1.3h-8.3zM86.0 79.3h5.8v1.3h-5.8zM199.5 79.3h7.8v1.3h-7.8zM84.5 80.3h5.3v1.3h-5.3zM202.0 80.3h7.8v1.3h-7.8zM82.5 81.3h5.8v1.3h-5.8zM204.5 81.3h7.3v1.3h-7.3zM81.0 82.3h5.3v1.3h-5.3zM206.5 82.3h7.3v1.3h-7.3zM79.0 83.3h5.3v1.3h-5.3zM208.5 83.3h7.3v1.3h-7.3zM77.5 84.3h5.3v1.3h-5.3zM211.0 84.3h6.8v1.3h-6.8zM76.0 85.3h5.3v1.3h-5.3zM213.0 85.3h6.8v1.3h-6.8zM74.5 86.3h4.8v1.3h-4.8zM214.5 86.3h7.3v1.3h-7.3zM73.0 87.3h4.8v1.3h-4.8zM216.5 87.3h6.8v1.3h-6.8zM71.5 88.3h4.8v1.3h-4.8zM218.5 88.3h6.8v1.3h-6.8zM70.5 89.3h4.3v1.3h-4.3zM220.5 89.3h6.3v1.3h-6.3zM69.0 90.3h4.3v1.3h-4.3zM222.0 90.3h6.8v1.3h-6.8zM67.5 91.3h4.8v1.3h-4.8zM224.0 91.3h6.3v1.3h-6.3zM66.0 92.3h4.8v1.3h-4.8zM225.5 92.3h6.3v1.3h-6.3zM65.0 93.3h4.3v1.3h-4.3zM227.0 93.3h6.3v1.3h-6.3zM63.5 94.3h4.3v1.3h-4.3zM228.5 94.3h6.3v1.3h-6.3zM62.5 95.3h4.3v1.3h-4.3zM230.5 95.3h5.8v1.3h-5.8zM61.0 96.3h4.3v1.3h-4.3zM232.0 96.3h5.8v1.3h-5.8zM60.0 97.3h4.3v1.3h-4.3zM233.0 97.3h6.3v1.3h-6.3zM58.5 98.3h4.3v1.3h-4.3zM234.5 98.3h6.3v1.3h-6.3zM57.5 99.3h4.3v1.3h-4.3zM236.0 99.3h6.3v1.3h-6.3zM56.0 100.3h4.3v1.3h-4.3zM237.5 100.3h5.8v1.3h-5.8zM55.0 101.3h4.3v1.3h-4.3zM239.0 101.3h5.8v1.3h-5.8zM54.0 102.3h3.8v1.3h-3.8zM240.0 102.3h5.8v1.3h-5.8zM52.5 103.3h4.3v1.3h-4.3zM241.5 103.3h5.8v1.3h-5.8zM51.5 104.3h4.3v1.3h-4.3zM242.5 104.3h5.8v1.3h-5.8zM50.5 105.3h3.8v1.3h-3.8zM244.0 105.3h5.3v1.3h-5.3zM49.5 106.3h3.8v1.3h-3.8zM245.0 106.3h5.8v1.3h-5.8zM48.0 107.3h4.3v1.3h-4.3zM246.0 107.3h5.8v1.3h-5.8zM47.0 108.3h4.3v1.3h-4.3zM247.0 108.3h5.8v1.3h-5.8zM46.5 109.3h3.3v1.3h-3.3zM248.0 109.3h5.8v1.3h-5.8zM46.5 110.3h2.3v1.3h-2.3zM249.5 110.3h5.3v1.3h-5.3zM46.5 111.3h1.3v1.3h-1.3zM250.5 111.3h5.3v1.3h-5.3zM251.0 112.3h5.8v1.3h-5.8zM252.0 113.3h5.3v1.3h-5.3zM253.0 114.3h5.3v1.3h-5.3zM254.0 115.3h5.3v1.3h-5.3zM255.0 116.3h4.8v1.3h-4.8zM255.5 117.3h5.3v1.3h-5.3zM256.5 118.3h5.3v1.3h-5.3zM257.0 119.3h5.3v1.3h-5.3zM258.0 120.3h4.8v1.3h-4.8zM258.5 121.3h5.3v1.3h-5.3zM259.0 122.3h5.3v1.3h-5.3zM260.0 123.3h4.8v1.3h-4.8zM260.5 124.3h4.8v1.3h-4.8zM261.0 125.3h4.8v1.3h-4.8zM261.5 126.3h4.8v1.3h-4.8zM262.0 127.3h4.8v1.3h-4.8zM262.5 128.3h4.8v1.3h-4.8zM263.0 129.3h4.8v1.3h-4.8zM263.5 130.3h4.8v1.3h-4.8zM264.0 131.3h4.8v1.3h-4.8zM264.5 132.3h4.3v1.3h-4.3zM264.5 133.3h4.8v1.3h-4.8zM265.0 134.3h4.8v1.3h-4.8zM265.5 135.3h4.3v1.3h-4.3zM265.5 136.3h4.8v1.3h-4.8zM266.0 137.3h4.3v1.3h-4.3zM266.0 138.3h4.8v1.3h-4.8zM266.0 139.3h4.8v1.3h-4.8zM266.5 140.3h4.3v1.3h-4.3zM266.5 141.3h4.3v1.3h-4.3zM266.5 142.3h4.8v1.3h-4.8zM267.0 143.3h4.3v1.3h-4.3zM267.0 144.3h4.3v1.3h-4.3zM267.0 145.3h4.3v1.3h-4.3zM267.0 146.3h4.3v1.3h-4.3zM267.0 147.3h4.3v1.3h-4.3zM267.0 148.3h4.3v1.3h-4.3zM267.0 149.3h4.3v1.3h-4.3zM267.0 150.3h4.3v1.3h-4.3zM266.5 151.3h4.3v1.3h-4.3zM266.5 152.3h4.3v1.3h-4.3zM266.5 153.3h4.3v1.3h-4.3zM266.5 154.3h4.3v1.3h-4.3zM266.0 155.3h4.3v1.3h-4.3zM266.0 156.3h4.3v1.3h-4.3zM265.5 157.3h4.3v1.3h-4.3zM265.5 158.3h4.3v1.3h-4.3zM265.0 159.3h4.3v1.3h-4.3zM265.0 160.3h4.3v1.3h-4.3zM264.5 161.3h4.3v1.3h-4.3zM264.0 162.3h4.3v1.3h-4.3zM264.0 163.3h3.8v1.3h-3.8zM263.5 164.3h4.3v1.3h-4.3zM263.0 165.3h4.3v1.3h-4.3zM262.5 166.3h4.3v1.3h-4.3zM262.0 167.3h4.3v1.3h-4.3zM261.5 168.3h4.3v1.3h-4.3zM261.0 169.3h4.3v1.3h-4.3zM260.5 170.3h4.3v1.3h-4.3zM260.0 171.3h4.3v1.3h-4.3zM259.5 172.3h4.3v1.3h-4.3zM259.0 173.3h3.8v1.3h-3.8zM258.0 174.3h4.3v1.3h-4.3zM257.5 175.3h4.3v1.3h-4.3zM257.0 176.3h4.3v1.3h-4.3zM256.0 177.3h4.3v1.3h-4.3zM255.5 178.3h4.3v1.3h-4.3zM254.5 179.3h4.3v1.3h-4.3zM253.5 180.3h4.8v1.3h-4.8zM253.0 181.3h4.3v1.3h-4.3zM252.0 182.3h4.3v1.3h-4.3zM251.0 183.3h4.3v1.3h-4.3zM250.0 184.3h4.8v1.3h-4.8zM249.0 185.3h4.8v1.3h-4.8zM248.0 186.3h4.8v1.3h-4.8zM247.0 187.3h4.8v1.3h-4.8zM246.0 188.3h4.8v1.3h-4.8zM245.0 189.3h4.8v1.3h-4.8zM244.0 190.3h4.3v1.3h-4.3zM242.5 191.3h4.8v1.3h-4.8zM241.5 192.3h4.8v1.3h-4.8zM240.0 193.3h4.8v1.3h-4.8zM239.0 194.3h4.8v1.3h-4.8zM237.5 195.3h4.8v1.3h-4.8zM236.0 196.3h4.8v1.3h-4.8zM234.5 197.3h5.3v1.3h-5.3zM233.0 198.3h5.3v1.3h-5.3zM231.5 199.3h5.3v1.3h-5.3zM229.5 200.3h5.3v1.3h-5.3zM228.0 201.3h5.3v1.3h-5.3zM226.0 202.3h5.8v1.3h-5.8zM224.0 203.3h5.8v1.3h-5.8zM222.0 204.3h5.8v1.3h-5.8zM220.0 205.3h6.3v1.3h-6.3zM218.0 206.3h6.3v1.3h-6.3zM215.5 207.3h6.3v1.3h-6.3zM213.0 208.3h6.8v1.3h-6.8zM210.5 209.3h6.8v1.3h-6.8zM208.0 210.3h6.8v1.3h-6.8zM205.0 211.3h7.3v1.3h-7.3zM201.5 212.3h7.8v1.3h-7.8zM198.0 213.3h8.3v1.3h-8.3zM194.5 214.3h8.8v1.3h-8.8zM190.0 215.3h9.8v1.3h-9.8zM185.5 216.3h10.8v1.3h-10.8zM46.5 217.3h10.3v1.3h-10.3zM180.0 217.3h11.8v1.3h-11.8zM46.5 218.3h23.3v1.3h-23.3zM173.5 218.3h13.8v1.3h-13.8zM46.5 219.3h38.3v1.3h-38.3zM165.5 219.3h16.3v1.3h-16.3zM62.0 220.3h40.8v1.3h-40.8zM153.5 220.3h21.8v1.3h-21.8zM78.5 221.3h88.8v1.3h-88.8zM97.5 222.3h58.8v1.3h-58.8z"/>
<path fill="#ea6a4a" d="M132.5 67.3h21.3v1.3h-21.3zM125.0 68.3h36.8v1.3h-36.8zM119.5 69.3h48.3v1.3h-48.3zM115.5 70.3h15.8v1.3h-15.8zM154.0 70.3h18.3v1.3h-18.3zM111.5 71.3h12.8v1.3h-12.8zM162.0 71.3h14.3v1.3h-14.3zM108.5 72.3h10.8v1.3h-10.8zM167.5 72.3h12.3v1.3h-12.3zM105.5 73.3h9.8v1.3h-9.8zM172.0 73.3h11.3v1.3h-11.3zM103.0 74.3h8.8v1.3h-8.8zM176.0 74.3h10.8v1.3h-10.8zM100.5 75.3h7.8v1.3h-7.8zM179.5 75.3h9.8v1.3h-9.8zM98.0 76.3h7.8v1.3h-7.8zM183.0 76.3h9.3v1.3h-9.3zM95.5 77.3h7.3v1.3h-7.3zM186.0 77.3h8.8v1.3h-8.8zM93.5 78.3h6.8v1.3h-6.8zM189.0 78.3h8.3v1.3h-8.3zM91.5 79.3h6.8v1.3h-6.8zM191.5 79.3h8.3v1.3h-8.3zM89.5 80.3h6.3v1.3h-6.3zM194.0 80.3h8.3v1.3h-8.3zM88.0 81.3h5.8v1.3h-5.8zM196.5 81.3h8.3v1.3h-8.3zM86.0 82.3h5.8v1.3h-5.8zM199.0 82.3h7.8v1.3h-7.8zM84.0 83.3h5.8v1.3h-5.8zM201.5 83.3h7.3v1.3h-7.3zM82.5 84.3h5.8v1.3h-5.8zM203.5 84.3h7.8v1.3h-7.8zM81.0 85.3h5.3v1.3h-5.3zM206.0 85.3h7.3v1.3h-7.3zM79.0 86.3h5.8v1.3h-5.8zM208.0 86.3h6.8v1.3h-6.8zM77.5 87.3h5.3v1.3h-5.3zM210.0 87.3h6.8v1.3h-6.8zM76.0 88.3h5.3v1.3h-5.3zM212.0 88.3h6.8v1.3h-6.8zM74.5 89.3h5.3v1.3h-5.3zM213.5 89.3h7.3v1.3h-7.3zM73.0 90.3h5.3v1.3h-5.3zM215.5 90.3h6.8v1.3h-6.8zM72.0 91.3h4.8v1.3h-4.8zM217.5 91.3h6.8v1.3h-6.8zM70.5 92.3h4.8v1.3h-4.8zM219.0 92.3h6.8v1.3h-6.8zM69.0 93.3h4.8v1.3h-4.8zM221.0 93.3h6.3v1.3h-6.3zM67.5 94.3h4.8v1.3h-4.8zM222.5 94.3h6.3v1.3h-6.3zM66.5 95.3h4.3v1.3h-4.3zM224.0 95.3h6.8v1.3h-6.8zM65.0 96.3h4.8v1.3h-4.8zM226.0 96.3h6.3v1.3h-6.3zM64.0 97.3h4.3v1.3h-4.3zM227.5 97.3h5.8v1.3h-5.8zM62.5 98.3h4.3v1.3h-4.3zM229.0 98.3h5.8v1.3h-5.8zM61.5 99.3h4.3v1.3h-4.3zM230.5 99.3h5.8v1.3h-5.8zM60.0 100.3h4.3v1.3h-4.3zM231.5 100.3h6.3v1.3h-6.3zM59.0 101.3h4.3v1.3h-4.3zM233.0 101.3h6.3v1.3h-6.3zM57.5 102.3h4.3v1.3h-4.3zM234.5 102.3h5.8v1.3h-5.8zM56.5 103.3h4.3v1.3h-4.3zM235.5 103.3h6.3v1.3h-6.3zM55.5 104.3h3.8v1.3h-3.8zM237.0 104.3h5.8v1.3h-5.8zM54.0 105.3h4.3v1.3h-4.3zM238.5 105.3h5.8v1.3h-5.8zM53.0 106.3h4.3v1.3h-4.3zM239.5 106.3h5.8v1.3h-5.8zM52.0 107.3h3.8v1.3h-3.8zM240.5 107.3h5.8v1.3h-5.8zM51.0 108.3h3.8v1.3h-3.8zM242.0 108.3h5.3v1.3h-5.3zM49.5 109.3h4.3v1.3h-4.3zM243.0 109.3h5.3v1.3h-5.3zM48.5 110.3h4.3v1.3h-4.3zM244.0 110.3h5.8v1.3h-5.8zM47.5 111.3h4.3v1.3h-4.3zM245.0 111.3h5.8v1.3h-5.8zM46.5 112.3h3.8v1.3h-3.8zM246.0 112.3h5.3v1.3h-5.3zM46.5 113.3h2.8v1.3h-2.8zM247.0 113.3h5.3v1.3h-5.3zM46.5 114.3h1.8v1.3h-1.8zM248.0 114.3h5.3v1.3h-5.3zM46.5 115.3h0.8v1.3h-0.8zM249.0 115.3h5.3v1.3h-5.3zM249.5 116.3h5.8v1.3h-5.8zM250.5 117.3h5.3v1.3h-5.3zM251.5 118.3h5.3v1.3h-5.3zM252.0 119.3h5.3v1.3h-5.3zM253.0 120.3h5.3v1.3h-5.3zM253.5 121.3h5.3v1.3h-5.3zM254.5 122.3h4.8v1.3h-4.8zM255.0 123.3h5.3v1.3h-5.3zM255.5 124.3h5.3v1.3h-5.3zM256.5 125.3h4.8v1.3h-4.8zM257.0 126.3h4.8v1.3h-4.8zM257.5 127.3h4.8v1.3h-4.8zM258.0 128.3h4.8v1.3h-4.8zM258.5 129.3h4.8v1.3h-4.8zM259.0 130.3h4.8v1.3h-4.8zM259.5 131.3h4.8v1.3h-4.8zM259.5 132.3h5.3v1.3h-5.3zM260.0 133.3h4.8v1.3h-4.8zM260.5 134.3h4.8v1.3h-4.8zM261.0 135.3h4.8v1.3h-4.8zM261.0 136.3h4.8v1.3h-4.8zM261.5 137.3h4.8v1.3h-4.8zM261.5 138.3h4.8v1.3h-4.8zM262.0 139.3h4.3v1.3h-4.3zM262.0 140.3h4.8v1.3h-4.8zM262.0 141.3h4.8v1.3h-4.8zM262.5 142.3h4.3v1.3h-4.3zM262.5 143.3h4.8v1.3h-4.8zM262.5 144.3h4.8v1.3h-4.8zM262.5 145.3h4.8v1.3h-4.8zM262.5 146.3h4.8v1.3h-4.8zM262.5 147.3h4.8v1.3h-4.8zM262.5 148.3h4.8v1.3h-4.8zM262.5 149.3h4.8v1.3h-4.8zM262.5 150.3h4.8v1.3h-4.8zM262.5 151.3h4.3v1.3h-4.3zM262.5 152.3h4.3v1.3h-4.3zM262.5 153.3h4.3v1.3h-4.3zM262.0 154.3h4.8v1.3h-4.8zM262.0 155.3h4.3v1.3h-4.3zM262.0 156.3h4.3v1.3h-4.3zM261.5 157.3h4.3v1.3h-4.3zM261.5 158.3h4.3v1.3h-4.3zM261.0 159.3h4.3v1.3h-4.3zM261.0 160.3h4.3v1.3h-4.3zM260.5 161.3h4.3v1.3h-4.3zM260.0 162.3h4.3v1.3h-4.3zM260.0 163.3h4.3v1.3h-4.3zM259.5 164.3h4.3v1.3h-4.3zM259.0 165.3h4.3v1.3h-4.3zM258.5 166.3h4.3v1.3h-4.3zM258.0 167.3h4.3v1.3h-4.3zM257.5 168.3h4.3v1.3h-4.3zM257.0 169.3h4.3v1.3h-4.3zM256.5 170.3h4.3v1.3h-4.3zM256.0 171.3h4.3v1.3h-4.3zM255.5 172.3h4.3v1.3h-4.3zM254.5 173.3h4.8v1.3h-4.8zM254.0 174.3h4.3v1.3h-4.3zM253.5 175.3h4.3v1.3h-4.3zM252.5 176.3h4.8v1.3h-4.8zM252.0 177.3h4.3v1.3h-4.3zM251.0 178.3h4.8v1.3h-4.8zM250.5 179.3h4.3v1.3h-4.3zM249.5 180.3h4.3v1.3h-4.3zM248.5 181.3h4.8v1.3h-4.8zM248.0 182.3h4.3v1.3h-4.3zM247.0 183.3h4.3v1.3h-4.3zM246.0 184.3h4.3v1.3h-4.3zM245.0 185.3h4.3v1.3h-4.3zM244.0 186.3h4.3v1.3h-4.3zM243.0 187.3h4.3v1.3h-4.3zM241.5 188.3h4.8v1.3h-4.8zM240.5 189.3h4.8v1.3h-4.8zM239.5 190.3h4.8v1.3h-4.8zM238.0 191.3h4.8v1.3h-4.8zM236.5 192.3h5.3v1.3h-5.3zM235.5 193.3h4.8v1.3h-4.8zM234.0 194.3h5.3v1.3h-5.3zM232.5 195.3h5.3v1.3h-5.3zM231.0 196.3h5.3v1.3h-5.3zM229.5 197.3h5.3v1.3h-5.3zM228.0 198.3h5.3v1.3h-5.3zM226.0 199.3h5.8v1.3h-5.8zM224.5 200.3h5.3v1.3h-5.3zM222.5 201.3h5.8v1.3h-5.8zM220.5 202.3h5.8v1.3h-5.8zM218.5 203.3h5.8v1.3h-5.8zM216.0 204.3h6.3v1.3h-6.3zM214.0 205.3h6.3v1.3h-6.3zM211.5 206.3h6.8v1.3h-6.8zM209.0 207.3h6.8v1.3h-6.8zM206.0 208.3h7.3v1.3h-7.3zM203.0 209.3h7.8v1.3h-7.8zM200.0 210.3h8.3v1.3h-8.3zM196.5 211.3h8.8v1.3h-8.8zM193.0 212.3h8.8v1.3h-8.8zM188.5 213.3h9.8v1.3h-9.8zM46.5 214.3h7.3v1.3h-7.3zM184.0 214.3h10.8v1.3h-10.8zM46.5 215.3h18.3v1.3h-18.3zM178.5 215.3h11.8v1.3h-11.8zM46.5 216.3h30.3v1.3h-30.3zM172.0 216.3h13.8v1.3h-13.8zM56.5 217.3h33.8v1.3h-33.8zM163.5 217.3h16.8v1.3h-16.8zM69.5 218.3h39.3v1.3h-39.3zM150.5 218.3h23.3v1.3h-23.3zM84.5 219.3h81.3v1.3h-81.3zM102.5 220.3h51.3v1.3h-51.3z"/>
<path fill="#e85f48" d="M131.0 70.3h23.3v1.3h-23.3zM124.0 71.3h38.3v1.3h-38.3zM119.0 72.3h48.8v1.3h-48.8zM115.0 73.3h15.8v1.3h-15.8zM154.5 73.3h17.8v1.3h-17.8zM111.5 74.3h12.3v1.3h-12.3zM162.0 74.3h14.3v1.3h-14.3zM108.0 75.3h10.8v1.3h-10.8zM167.0 75.3h12.8v1.3h-12.8zM105.5 76.3h9.3v1.3h-9.3zM171.5 76.3h11.8v1.3h-11.8zM102.5 77.3h8.8v1.3h-8.8zM175.5 77.3h10.8v1.3h-10.8zM100.0 78.3h8.3v1.3h-8.3zM179.0 78.3h10.3v1.3h-10.3zM98.0 79.3h7.3v1.3h-7.3zM182.5 79.3h9.3v1.3h-9.3zM95.5 80.3h7.3v1.3h-7.3zM185.5 80.3h8.8v1.3h-8.8zM93.5 81.3h6.8v1.3h-6.8zM188.0 81.3h8.8v1.3h-8.8zM91.5 82.3h6.8v1.3h-6.8zM191.0 82.3h8.3v1.3h-8.3zM89.5 83.3h6.3v1.3h-6.3zM193.5 83.3h8.3v1.3h-8.3zM88.0 84.3h5.8v1.3h-5.8zM196.0 84.3h7.8v1.3h-7.8zM86.0 85.3h5.8v1.3h-5.8zM198.0 85.3h8.3v1.3h-8.3zM84.5 86.3h5.8v1.3h-5.8zM200.5 86.3h7.8v1.3h-7.8zM82.5 87.3h5.8v1.3h-5.8zM202.5 87.3h7.8v1.3h-7.8zM81.0 88.3h5.3v1.3h-5.3zM205.0 88.3h7.3v1.3h-7.3zM79.5 89.3h5.3v1.3h-5.3zM207.0 89.3h6.8v1.3h-6.8zM78.0 90.3h5.3v1.3h-5.3zM209.0 90.3h6.8v1.3h-6.8zM76.5 91.3h4.8v1.3h-4.8zM210.5 91.3h7.3v1.3h-7.3zM75.0 92.3h4.8v1.3h-4.8zM212.5 92.3h6.8v1.3h-6.8zM73.5 93.3h4.8v1.3h-4.8zM214.5 93.3h6.8v1.3h-6.8zM72.0 94.3h4.8v1.3h-4.8zM216.0 94.3h6.8v1.3h-6.8zM70.5 95.3h4.8v1.3h-4.8zM218.0 95.3h6.3v1.3h-6.3zM69.5 96.3h4.3v1.3h-4.3zM219.5 96.3h6.8v1.3h-6.8zM68.0 97.3h4.8v1.3h-4.8zM221.0 97.3h6.8v1.3h-6.8zM66.5 98.3h4.8v1.3h-4.8zM222.5 98.3h6.8v1.3h-6.8zM65.5 99.3h4.3v1.3h-4.3zM224.0 99.3h6.8v1.3h-6.8zM64.0 100.3h4.8v1.3h-4.8zM225.5 100.3h6.3v1.3h-6.3zM63.0 101.3h4.3v1.3h-4.3zM227.0 101.3h6.3v1.3h-6.3zM61.5 102.3h4.8v1.3h-4.8zM228.5 102.3h6.3v1.3h-6.3zM60.5 103.3h4.3v1.3h-4.3zM230.0 103.3h5.8v1.3h-5.8zM59.0 104.3h4.8v1.3h-4.8zM231.5 104.3h5.8v1.3h-5.8zM58.0 105.3h4.3v1.3h-4.3zM232.5 105.3h6.3v1.3h-6.3zM57.0 106.3h4.3v1.3h-4.3zM234.0 106.3h5.8v1.3h-5.8zM55.5 107.3h4.3v1.3h-4.3zM235.0 107.3h5.8v1.3h-5.8zM54.5 108.3h4.3v1.3h-4.3zM236.5 108.3h5.8v1.3h-5.8zM53.5 109.3h4.3v1.3h-4.3zM237.5 109.3h5.8v1.3h-5.8zM52.5 110.3h4.3v1.3h-4.3zM238.5 110.3h5.8v1.3h-5.8zM51.5 111.3h3.8v1.3h-3.8zM239.5 111.3h5.8v1.3h-5.8zM50.0 112.3h4.3v1.3h-4.3zM240.5 112.3h5.8v1.3h-5.8zM49.0 113.3h4.3v1.3h-4.3zM241.5 113.3h5.8v1.3h-5.8zM48.0 114.3h4.3v1.3h-4.3zM242.5 114.3h5.8v1.3h-5.8zM47.0 115.3h4.3v1.3h-4.3zM243.5 115.3h5.8v1.3h-5.8zM46.5 116.3h3.8v1.3h-3.8zM244.5 116.3h5.3v1.3h-5.3zM46.5 117.3h2.8v1.3h-2.8zM245.5 117.3h5.3v1.3h-5.3zM46.5 118.3h1.8v1.3h-1.8zM246.5 118.3h5.3v1.3h-5.3zM46.5 119.3h0.8v1.3h-0.8zM247.0 119.3h5.3v1.3h-5.3zM248.0 120.3h5.3v1.3h-5.3zM248.5 121.3h5.3v1.3h-5.3zM249.5 122.3h5.3v1.3h-5.3zM250.0 123.3h5.3v1.3h-5.3zM251.0 124.3h4.8v1.3h-4.8zM251.5 125.3h5.3v1.3h-5.3zM252.0 126.3h5.3v1.3h-5.3zM252.5 127.3h5.3v1.3h-5.3zM253.0 128.3h5.3v1.3h-5.3zM253.5 129.3h5.3v1.3h-5.3zM254.0 130.3h5.3v1.3h-5.3zM254.5 131.3h5.3v1.3h-5.3zM255.0 132.3h4.8v1.3h-4.8zM255.5 133.3h4.8v1.3h-4.8zM256.0 134.3h4.8v1.3h-4.8zM256.5 135.3h4.8v1.3h-4.8zM256.5 136.3h4.8v1.3h-4.8zM257.0 137.3h4.8v1.3h-4.8zM257.0 138.3h4.8v1.3h-4.8zM257.5 139.3h4.8v1.3h-4.8zM257.5 140.3h4.8v1.3h-4.8zM258.0 141.3h4.3v1.3h-4.3zM258.0 142.3h4.8v1.3h-4.8zM258.0 143.3h4.8v1.3h-4.8zM258.5 144.3h4.3v1.3h-4.3zM258.5 145.3h4.3v1.3h-4.3zM258.5 146.3h4.3v1.3h-4.3zM258.5 147.3h4.3v1.3h-4.3zM258.5 148.3h4.3v1.3h-4.3zM258.5 149.3h4.3v1.3h-4.3zM258.5 150.3h4.3v1.3h-4.3zM258.5 151.3h4.3v1.3h-4.3zM258.5 152.3h4.3v1.3h-4.3zM258.0 153.3h4.8v1.3h-4.8zM258.0 154.3h4.3v1.3h-4.3zM258.0 155.3h4.3v1.3h-4.3zM257.5 156.3h4.8v1.3h-4.8zM257.5 157.3h4.3v1.3h-4.3zM257.0 158.3h4.8v1.3h-4.8zM257.0 159.3h4.3v1.3h-4.3zM256.5 160.3h4.8v1.3h-4.8zM256.5 161.3h4.3v1.3h-4.3zM256.0 162.3h4.3v1.3h-4.3zM255.5 163.3h4.8v1.3h-4.8zM255.0 164.3h4.8v1.3h-4.8zM255.0 165.3h4.3v1.3h-4.3zM254.5 166.3h4.3v1.3h-4.3zM254.0 167.3h4.3v1.3h-4.3zM253.5 168.3h4.3v1.3h-4.3zM253.0 169.3h4.3v1.3h-4.3zM252.5 170.3h4.3v1.3h-4.3zM251.5 171.3h4.8v1.3h-4.8zM251.0 172.3h4.8v1.3h-4.8zM250.5 173.3h4.3v1.3h-4.3zM250.0 174.3h4.3v1.3h-4.3zM249.0 175.3h4.8v1.3h-4.8zM248.5 176.3h4.3v1.3h-4.3zM247.5 177.3h4.8v1.3h-4.8zM247.0 178.3h4.3v1.3h-4.3zM246.0 179.3h4.8v1.3h-4.8zM245.0 180.3h4.8v1.3h-4.8zM244.5 181.3h4.3v1.3h-4.3zM243.5 182.3h4.8v1.3h-4.8zM242.5 183.3h4.8v1.3h-4.8zM241.5 184.3h4.8v1.3h-4.8zM240.5 185.3h4.8v1.3h-4.8zM239.5 186.3h4.8v1.3h-4.8zM238.0 187.3h5.3v1.3h-5.3zM237.0 188.3h4.8v1.3h-4.8zM236.0 189.3h4.8v1.3h-4.8zM234.5 190.3h5.3v1.3h-5.3zM233.0 191.3h5.3v1.3h-5.3zM232.0 192.3h4.8v1.3h-4.8zM230.5 193.3h5.3v1.3h-5.3zM229.0 194.3h5.3v1.3h-5.3zM227.5 195.3h5.3v1.3h-5.3zM225.5 196.3h5.8v1.3h-5.8zM224.0 197.3h5.8v1.3h-5.8zM222.5 198.3h5.8v1.3h-5.8zM220.5 199.3h5.8v1.3h-5.8zM218.5 200.3h6.3v1.3h-6.3zM216.5 201.3h6.3v1.3h-6.3zM214.5 202.3h6.3v1.3h-6.3zM212.0 203.3h6.8v1.3h-6.8zM209.5 204.3h6.8v1.3h-6.8zM207.0 205.3h7.3v1.3h-7.3zM204.5 206.3h7.3v1.3h-7.3zM201.5 207.3h7.8v1.3h-7.8zM198.0 208.3h8.3v1.3h-8.3zM195.0 209.3h8.3v1.3h-8.3zM191.0 210.3h9.3v1.3h-9.3zM46.5 211.3h6.8v1.3h-6.8zM186.5 211.3h10.3v1.3h-10.3zM46.5 212.3h15.8v1.3h-15.8zM182.0 212.3h11.3v1.3h-11.3zM46.5 213.3h25.8v1.3h-25.8zM176.5 213.3h12.3v1.3h-12.3zM53.5 214.3h29.8v1.3h-29.8zM169.5 214.3h14.8v1.3h-14.8zM64.5 215.3h32.3v1.3h-32.3zM160.5 215.3h18.3v1.3h-18.3zM76.5 216.3h40.3v1.3h-40.3zM145.0 216.3h27.3v1.3h-27.3zM90.0 217.3h73.8v1.3h-73.8zM108.5 218.3h42.3v1.3h-42.3z"/>
<path fill="#e55948" d="M130.5 73.3h24.3v1.3h-24.3zM123.5 74.3h38.8v1.3h-38.8zM118.5 75.3h48.8v1.3h-48.8zM114.5 76.3h16.3v1.3h-16.3zM154.0 76.3h17.8v1.3h-17.8zM111.0 77.3h12.8v1.3h-12.8zM161.5 77.3h14.3v1.3h-14.3zM108.0 78.3h10.8v1.3h-10.8zM166.5 78.3h12.8v1.3h-12.8zM105.0 79.3h9.8v1.3h-9.8zM171.0 79.3h11.8v1.3h-11.8zM102.5 80.3h9.3v1.3h-9.3zM175.0 80.3h10.8v1.3h-10.8zM100.0 81.3h8.3v1.3h-8.3zM178.5 81.3h9.8v1.3h-9.8zM98.0 82.3h7.8v1.3h-7.8zM181.5 82.3h9.8v1.3h-9.8zM95.5 83.3h7.8v1.3h-7.8zM184.5 83.3h9.3v1.3h-9.3zM93.5 84.3h7.3v1.3h-7.3zM187.5 84.3h8.8v1.3h-8.8zM91.5 85.3h6.8v1.3h-6.8zM190.0 85.3h8.3v1.3h-8.3zM90.0 86.3h6.3v1.3h-6.3zM192.5 86.3h8.3v1.3h-8.3zM88.0 87.3h6.3v1.3h-6.3zM195.0 87.3h7.8v1.3h-7.8zM86.0 88.3h6.3v1.3h-6.3zM197.5 88.3h7.8v1.3h-7.8zM84.5 89.3h5.8v1.3h-5.8zM199.5 89.3h7.8v1.3h-7.8zM83.0 90.3h5.3v1.3h-5.3zM201.5 90.3h7.8v1.3h-7.8zM81.0 91.3h5.8v1.3h-5.8zM203.5 91.3h7.3v1.3h-7.3zM79.5 92.3h5.8v1.3h-5.8zM205.5 92.3h7.3v1.3h-7.3zM78.0 93.3h5.3v1.3h-5.3zM207.5 93.3h7.3v1.3h-7.3zM76.5 94.3h5.3v1.3h-5.3zM209.5 94.3h6.8v1.3h-6.8zM75.0 95.3h5.3v1.3h-5.3zM211.5 95.3h6.8v1.3h-6.8zM73.5 96.3h5.3v1.3h-5.3zM213.0 96.3h6.8v1.3h-6.8zM72.5 97.3h4.8v1.3h-4.8zM214.5 97.3h6.8v1.3h-6.8zM71.0 98.3h4.8v1.3h-4.8zM216.5 98.3h6.3v1.3h-6.3zM69.5 99.3h4.8v1.3h-4.8zM218.0 99.3h6.3v1.3h-6.3zM68.5 100.3h4.8v1.3h-4.8zM219.5 100.3h6.3v1.3h-6.3zM67.0 101.3h4.8v1.3h-4.8zM221.0 101.3h6.3v1.3h-6.3zM66.0 102.3h4.3v1.3h-4.3zM222.5 102.3h6.3v1.3h-6.3zM64.5 103.3h4.8v1.3h-4.8zM224.0 103.3h6.3v1.3h-6.3zM63.5 104.3h4.3v1.3h-4.3zM225.5 104.3h6.3v1.3h-6.3zM62.0 105.3h4.8v1.3h-4.8zM227.0 105.3h5.8v1.3h-5.8zM61.0 106.3h4.3v1.3h-4.3zM228.0 106.3h6.3v1.3h-6.3zM59.5 107.3h4.8v1.3h-4.8zM229.5 107.3h5.8v1.3h-5.8zM58.5 108.3h4.3v1.3h-4.3zM230.5 108.3h6.3v1.3h-6.3zM57.5 109.3h4.3v1.3h-4.3zM232.0 109.3h5.8v1.3h-5.8zM56.5 110.3h4.3v1.3h-4.3zM233.0 110.3h5.8v1.3h-5.8zM55.0 111.3h4.8v1.3h-4.8zM234.0 111.3h5.8v1.3h-5.8zM54.0 112.3h4.3v1.3h-4.3zM235.0 112.3h5.8v1.3h-5.8zM53.0 113.3h4.3v1.3h-4.3zM236.5 113.3h5.3v1.3h-5.3zM52.0 114.3h4.3v1.3h-4.3zM237.5 114.3h5.3v1.3h-5.3zM51.0 115.3h4.3v1.3h-4.3zM238.5 115.3h5.3v1.3h-5.3zM50.0 116.3h4.3v1.3h-4.3zM239.5 116.3h5.3v1.3h-5.3zM49.0 117.3h4.3v1.3h-4.3zM240.0 117.3h5.8v1.3h-5.8zM48.0 118.3h4.3v1.3h-4.3zM241.0 118.3h5.8v1.3h-5.8zM47.0 119.3h3.8v1.3h-3.8zM242.0 119.3h5.3v1.3h-5.3zM46.5 120.3h3.3v1.3h-3.3zM243.0 120.3h5.3v1.3h-5.3zM46.5 121.3h2.3v1.3h-2.3zM243.5 121.3h5.3v1.3h-5.3zM46.5 122.3h1.3v1.3h-1.3zM244.5 122.3h5.3v1.3h-5.3zM46.5 123.3h0.8v1.3h-0.8zM245.0 123.3h5.3v1.3h-5.3zM246.0 124.3h5.3v1.3h-5.3zM246.5 125.3h5.3v1.3h-5.3zM247.0 126.3h5.3v1.3h-5.3zM248.0 127.3h4.8v1.3h-4.8zM248.5 128.3h4.8v1.3h-4.8zM249.0 129.3h4.8v1.3h-4.8zM249.5 130.3h4.8v1.3h-4.8zM250.0 131.3h4.8v1.3h-4.8zM250.5 132.3h4.8v1.3h-4.8zM251.0 133.3h4.8v1.3h-4.8zM251.5 134.3h4.8v1.3h-4.8zM251.5 135.3h5.3v1.3h-5.3zM252.0 136.3h4.8v1.3h-4.8zM252.5 137.3h4.8v1.3h-4.8zM252.5 138.3h4.8v1.3h-4.8zM253.0 139.3h4.8v1.3h-4.8zM253.0 140.3h4.8v1.3h-4.8zM253.5 141.3h4.8v1.3h-4.8zM253.5 142.3h4.8v1.3h-4.8zM253.5 143.3h4.8v1.3h-4.8zM254.0 144.3h4.8v1.3h-4.8zM254.0 145.3h4.8v1.3h-4.8zM254.0 146.3h4.8v1.3h-4.8zM254.0 147.3h4.8v1.3h-4.8zM254.0 148.3h4.8v1.3h-4.8zM254.0 149.3h4.8v1.3h-4.8zM254.0 150.3h4.8v1.3h-4.8zM254.0 151.3h4.8v1.3h-4.8zM254.0 152.3h4.8v1.3h-4.8zM254.0 153.3h4.3v1.3h-4.3zM253.5 154.3h4.8v1.3h-4.8zM253.5 155.3h4.8v1.3h-4.8zM253.5 156.3h4.3v1.3h-4.3zM253.0 157.3h4.8v1.3h-4.8zM253.0 158.3h4.3v1.3h-4.3zM252.5 159.3h4.8v1.3h-4.8zM252.5 160.3h4.3v1.3h-4.3zM252.0 161.3h4.8v1.3h-4.8zM251.5 162.3h4.8v1.3h-4.8zM251.5 163.3h4.3v1.3h-4.3zM251.0 164.3h4.3v1.3h-4.3zM250.5 165.3h4.8v1.3h-4.8zM250.0 166.3h4.8v1.3h-4.8zM249.5 167.3h4.8v1.3h-4.8zM249.0 168.3h4.8v1.3h-4.8zM248.5 169.3h4.8v1.3h-4.8zM248.0 170.3h4.8v1.3h-4.8zM247.5 171.3h4.3v1.3h-4.3zM247.0 172.3h4.3v1.3h-4.3zM246.0 173.3h4.8v1.3h-4.8zM245.5 174.3h4.8v1.3h-4.8zM245.0 175.3h4.3v1.3h-4.3zM244.0 176.3h4.8v1.3h-4.8zM243.0 177.3h4.8v1.3h-4.8zM242.5 178.3h4.8v1.3h-4.8zM241.5 179.3h4.8v1.3h-4.8zM240.5 180.3h4.8v1.3h-4.8zM239.5 181.3h5.3v1.3h-5.3zM239.0 182.3h4.8v1.3h-4.8zM238.0 183.3h4.8v1.3h-4.8zM236.5 184.3h5.3v1.3h-5.3zM235.5 185.3h5.3v1.3h-5.3zM234.5 186.3h5.3v1.3h-5.3zM233.5 187.3h4.8v1.3h-4.8zM232.0 188.3h5.3v1.3h-5.3zM231.0 189.3h5.3v1.3h-5.3zM229.5 190.3h5.3v1.3h-5.3zM228.0 191.3h5.3v1.3h-5.3zM226.5 192.3h5.8v1.3h-5.8zM225.0 193.3h5.8v1.3h-5.8zM223.5 194.3h5.8v1.3h-5.8zM222.0 195.3h5.8v1.3h-5.8zM220.0 196.3h5.8v1.3h-5.8zM218.5 197.3h5.8v1.3h-5.8zM216.5 198.3h6.3v1.3h-6.3zM214.5 199.3h6.3v1.3h-6.3zM212.0 200.3h6.8v1.3h-6.8zM210.0 201.3h6.8v1.3h-6.8zM207.5 202.3h7.3v1.3h-7.3zM205.0 203.3h7.3v1.3h-7.3zM202.5 204.3h7.3v1.3h-7.3zM199.5 205.3h7.8v1.3h-7.8zM196.0 206.3h8.8v1.3h-8.8zM46.5 207.3h1.3v1.3h-1.3zM192.5 207.3h9.3v1.3h-9.3zM46.5 208.3h7.8v1.3h-7.8zM189.0 208.3h9.3v1.3h-9.3zM46.5 209.3h15.3v1.3h-15.3zM184.5 209.3h10.8v1.3h-10.8zM46.5 210.3h23.3v1.3h-23.3zM179.5 210.3h11.8v1.3h-11.8zM53.0 211.3h26.3v1.3h-26.3zM174.0 211.3h12.8v1.3h-12.8zM62.0 212.3h27.8v1.3h-27.8zM166.5 212.3h15.8v1.3h-15.8zM72.0 213.3h31.8v1.3h-31.8zM157.0 213.3h19.8v1.3h-19.8zM83.0 214.3h86.8v1.3h-86.8zM96.5 215.3h64.3v1.3h-64.3zM116.5 216.3h28.8v1.3h-28.8z"/>
<path fill="#e15348" d="M130.5 76.3h23.8v1.3h-23.8zM123.5 77.3h38.3v1.3h-38.3zM118.5 78.3h48.3v1.3h-48.3zM114.5 79.3h16.8v1.3h-16.8zM153.0 79.3h18.3v1.3h-18.3zM111.5 80.3h12.8v1.3h-12.8zM160.5 80.3h14.8v1.3h-14.8zM108.0 81.3h11.3v1.3h-11.3zM166.0 81.3h12.8v1.3h-12.8zM105.5 82.3h9.8v1.3h-9.8zM170.0 82.3h11.8v1.3h-11.8zM103.0 83.3h8.8v1.3h-8.8zM174.0 83.3h10.8v1.3h-10.8zM100.5 84.3h8.3v1.3h-8.3zM177.5 84.3h10.3v1.3h-10.3zM98.0 85.3h7.8v1.3h-7.8zM180.5 85.3h9.8v1.3h-9.8zM96.0 86.3h7.3v1.3h-7.3zM183.5 86.3h9.3v1.3h-9.3zM94.0 87.3h6.8v1.3h-6.8zM186.5 87.3h8.8v1.3h-8.8zM92.0 88.3h6.8v1.3h-6.8zM189.0 88.3h8.8v1.3h-8.8zM90.0 89.3h6.8v1.3h-6.8zM191.5 89.3h8.3v1.3h-8.3zM88.0 90.3h6.8v1.3h-6.8zM194.0 90.3h7.8v1.3h-7.8zM86.5 91.3h6.3v1.3h-6.3zM196.0 91.3h7.8v1.3h-7.8zM85.0 92.3h5.8v1.3h-5.8zM198.0 92.3h7.8v1.3h-7.8zM83.0 93.3h5.8v1.3h-5.8zM200.5 93.3h7.3v1.3h-7.3zM81.5 94.3h5.8v1.3h-5.8zM202.5 94.3h7.3v1.3h-7.3zM80.0 95.3h5.8v1.3h-5.8zM204.5 95.3h7.3v1.3h-7.3zM78.5 96.3h5.3v1.3h-5.3zM206.0 96.3h7.3v1.3h-7.3zM77.0 97.3h5.3v1.3h-5.3zM208.0 97.3h6.8v1.3h-6.8zM75.5 98.3h5.3v1.3h-5.3zM210.0 98.3h6.8v1.3h-6.8zM74.0 99.3h5.3v1.3h-5.3zM211.5 99.3h6.8v1.3h-6.8zM73.0 100.3h4.8v1.3h-4.8zM213.0 100.3h6.8v1.3h-6.8zM71.5 101.3h4.8v1.3h-4.8zM214.5 101.3h6.8v1.3h-6.8zM70.0 102.3h5.3v1.3h-5.3zM216.5 102.3h6.3v1.3h-6.3zM69.0 103.3h4.8v1.3h-4.8zM218.0 103.3h6.3v1.3h-6.3zM67.5 104.3h4.8v1.3h-4.8zM219.5 104.3h6.3v1.3h-6.3zM66.5 105.3h4.8v1.3h-4.8zM220.5 105.3h6.8v1.3h-6.8zM65.0 106.3h4.8v1.3h-4.8zM222.0 106.3h6.3v1.3h-6.3zM64.0 107.3h4.8v1.3h-4.8zM223.5 107.3h6.3v1.3h-6.3zM62.5 108.3h4.8v1.3h-4.8zM225.0 108.3h5.8v1.3h-5.8zM61.5 109.3h4.8v1.3h-4.8zM226.0 109.3h6.3v1.3h-6.3zM60.5 110.3h4.3v1.3h-4.3zM227.5 110.3h5.8v1.3h-5.8zM59.5 111.3h4.3v1.3h-4.3zM228.5 111.3h5.8v1.3h-5.8zM58.0 112.3h4.8v1.3h-4.8zM229.5 112.3h5.8v1.3h-5.8zM57.0 113.3h4.8v1.3h-4.8zM230.5 113.3h6.3v1.3h-6.3zM56.0 114.3h4.3v1.3h-4.3zM232.0 114.3h5.8v1.3h-5.8zM55.0 115.3h4.3v1.3h-4.3zM233.0 115.3h5.8v1.3h-5.8zM54.0 116.3h4.3v1.3h-4.3zM234.0 116.3h5.8v1.3h-5.8zM53.0 117.3h4.3v1.3h-4.3zM235.0 117.3h5.3v1.3h-5.3zM52.0 118.3h4.3v1.3h-4.3zM236.0 118.3h5.3v1.3h-5.3zM50.5 119.3h4.8v1.3h-4.8zM236.5 119.3h5.8v1.3h-5.8zM49.5 120.3h4.8v1.3h-4.8zM237.5 120.3h5.8v1.3h-5.8zM48.5 121.3h4.8v1.3h-4.8zM238.5 121.3h5.3v1.3h-5.3zM47.5 122.3h4.8v1.3h-4.8zM239.0 122.3h5.8v1.3h-5.8zM47.0 123.3h4.3v1.3h-4.3zM240.0 123.3h5.3v1.3h-5.3zM46.5 124.3h3.8v1.3h-3.8zM240.5 124.3h5.8v1.3h-5.8zM46.5 125.3h2.8v1.3h-2.8zM241.5 125.3h5.3v1.3h-5.3zM46.5 126.3h1.8v1.3h-1.8zM242.0 126.3h5.3v1.3h-5.3zM46.5 127.3h0.8v1.3h-0.8zM243.0 127.3h5.3v1.3h-5.3zM243.5 128.3h5.3v1.3h-5.3zM244.0 129.3h5.3v1.3h-5.3zM244.5 130.3h5.3v1.3h-5.3zM245.0 131.3h5.3v1.3h-5.3zM245.5 132.3h5.3v1.3h-5.3zM246.0 133.3h5.3v1.3h-5.3zM246.5 134.3h5.3v1.3h-5.3zM247.0 135.3h4.8v1.3h-4.8zM247.5 136.3h4.8v1.3h-4.8zM247.5 137.3h5.3v1.3h-5.3zM248.0 138.3h4.8v1.3h-4.8zM248.0 139.3h5.3v1.3h-5.3zM248.5 140.3h4.8v1.3h-4.8zM248.5 141.3h5.3v1.3h-5.3zM249.0 142.3h4.8v1.3h-4.8zM249.0 143.3h4.8v1.3h-4.8zM249.5 144.3h4.8v1.3h-4.8zM249.5 145.3h4.8v1.3h-4.8zM249.5 146.3h4.8v1.3h-4.8zM249.5 147.3h4.8v1.3h-4.8zM249.5 148.3h4.8v1.3h-4.8zM249.5 149.3h4.8v1.3h-4.8zM249.5 150.3h4.8v1.3h-4.8zM249.5 151.3h4.8v1.3h-4.8zM249.5 152.3h4.8v1.3h-4.8zM249.5 153.3h4.8v1.3h-4.8zM249.5 154.3h4.3v1.3h-4.3zM249.0 155.3h4.8v1.3h-4.8zM249.0 156.3h4.8v1.3h-4.8zM249.0 157.3h4.3v1.3h-4.3zM248.5 158.3h4.8v1.3h-4.8zM248.5 159.3h4.3v1.3h-4.3zM248.0 160.3h4.8v1.3h-4.8zM247.5 161.3h4.8v1.3h-4.8zM247.5 162.3h4.3v1.3h-4.3zM247.0 163.3h4.8v1.3h-4.8zM246.5 164.3h4.8v1.3h-4.8zM246.0 165.3h4.8v1.3h-4.8zM245.5 166.3h4.8v1.3h-4.8zM245.0 167.3h4.8v1.3h-4.8zM244.5 168.3h4.8v1.3h-4.8zM244.0 169.3h4.8v1.3h-4.8zM243.5 170.3h4.8v1.3h-4.8zM243.0 171.3h4.8v1.3h-4.8zM242.5 172.3h4.8v1.3h-4.8zM241.5 173.3h4.8v1.3h-4.8zM241.0 174.3h4.8v1.3h-4.8zM240.0 175.3h5.3v1.3h-5.3zM239.5 176.3h4.8v1.3h-4.8zM238.5 177.3h4.8v1.3h-4.8zM238.0 178.3h4.8v1.3h-4.8zM237.0 179.3h4.8v1.3h-4.8zM236.0 180.3h4.8v1.3h-4.8zM235.0 181.3h4.8v1.3h-4.8zM234.0 182.3h5.3v1.3h-5.3zM233.0 183.3h5.3v1.3h-5.3zM232.0 184.3h4.8v1.3h-4.8zM230.5 185.3h5.3v1.3h-5.3zM229.5 186.3h5.3v1.3h-5.3zM228.0 187.3h5.8v1.3h-5.8zM227.0 188.3h5.3v1.3h-5.3zM225.5 189.3h5.8v1.3h-5.8zM224.0 190.3h5.8v1.3h-5.8zM222.5 191.3h5.8v1.3h-5.8zM221.0 192.3h5.8v1.3h-5.8zM219.5 193.3h5.8v1.3h-5.8zM217.5 194.3h6.3v1.3h-6.3zM216.0 195.3h6.3v1.3h-6.3zM214.0 196.3h6.3v1.3h-6.3zM212.0 197.3h6.8v1.3h-6.8zM210.0 198.3h6.8v1.3h-6.8zM207.5 199.3h7.3v1.3h-7.3zM205.0 200.3h7.3v1.3h-7.3zM202.5 201.3h7.8v1.3h-7.8zM200.0 202.3h7.8v1.3h-7.8zM197.0 203.3h8.3v1.3h-8.3zM46.5 204.3h4.3v1.3h-4.3zM194.0 204.3h8.8v1.3h-8.8zM46.5 205.3h9.8v1.3h-9.8zM190.5 205.3h9.3v1.3h-9.3zM46.5 206.3h15.8v1.3h-15.8zM186.5 206.3h9.8v1.3h-9.8zM47.5 207.3h21.8v1.3h-21.8zM182.0 207.3h10.8v1.3h-10.8zM54.0 208.3h22.8v1.3h-22.8zM177.0 208.3h12.3v1.3h-12.3zM61.5 209.3h24.3v1.3h-24.3zM171.0 209.3h13.8v1.3h-13.8zM69.5 210.3h27.3v1.3h-27.3zM163.0 210.3h16.8v1.3h-16.8zM79.0 211.3h32.8v1.3h-32.8zM151.5 211.3h22.8v1.3h-22.8zM89.5 212.3h77.3v1.3h-77.3zM103.5 213.3h53.8v1.3h-53.8z"/>
<path fill="#dc4c4a" d="M131.0 79.3h22.3v1.3h-22.3zM124.0 80.3h36.8v1.3h-36.8zM119.0 81.3h47.3v1.3h-47.3zM115.0 82.3h17.3v1.3h-17.3zM151.5 82.3h18.8v1.3h-18.8zM111.5 83.3h13.3v1.3h-13.3zM159.5 83.3h14.8v1.3h-14.8zM108.5 84.3h11.3v1.3h-11.3zM164.5 84.3h13.3v1.3h-13.3zM105.5 85.3h10.3v1.3h-10.3zM169.0 85.3h11.8v1.3h-11.8zM103.0 86.3h9.3v1.3h-9.3zM173.0 86.3h10.8v1.3h-10.8zM100.5 87.3h8.8v1.3h-8.8zM176.5 87.3h10.3v1.3h-10.3zM98.5 88.3h8.3v1.3h-8.3zM179.5 88.3h9.8v1.3h-9.8zM96.5 89.3h7.3v1.3h-7.3zM182.5 89.3h9.3v1.3h-9.3zM94.5 90.3h7.3v1.3h-7.3zM185.0 90.3h9.3v1.3h-9.3zM92.5 91.3h6.8v1.3h-6.8zM187.5 91.3h8.8v1.3h-8.8zM90.5 92.3h6.8v1.3h-6.8zM190.0 92.3h8.3v1.3h-8.3zM88.5 93.3h6.8v1.3h-6.8zM192.5 93.3h8.3v1.3h-8.3zM87.0 94.3h6.3v1.3h-6.3zM194.5 94.3h8.3v1.3h-8.3zM85.5 95.3h5.8v1.3h-5.8zM197.0 95.3h7.8v1.3h-7.8zM83.5 96.3h6.3v1.3h-6.3zM199.0 96.3h7.3v1.3h-7.3zM82.0 97.3h5.8v1.3h-5.8zM201.0 97.3h7.3v1.3h-7.3zM80.5 98.3h5.8v1.3h-5.8zM203.0 98.3h7.3v1.3h-7.3zM79.0 99.3h5.8v1.3h-5.8zM204.5 99.3h7.3v1.3h-7.3zM77.5 100.3h5.8v1.3h-5.8zM206.5 100.3h6.8v1.3h-6.8zM76.0 101.3h5.8v1.3h-5.8zM208.0 101.3h6.8v1.3h-6.8zM75.0 102.3h5.3v1.3h-5.3zM209.5 102.3h7.3v1.3h-7.3zM73.5 103.3h5.3v1.3h-5.3zM211.5 103.3h6.8v1.3h-6.8zM72.0 104.3h5.3v1.3h-5.3zM213.0 104.3h6.8v1.3h-6.8zM71.0 105.3h4.8v1.3h-4.8zM214.5 105.3h6.3v1.3h-6.3zM69.5 106.3h5.3v1.3h-5.3zM216.0 106.3h6.3v1.3h-6.3zM68.5 107.3h4.8v1.3h-4.8zM217.5 107.3h6.3v1.3h-6.3zM67.0 108.3h4.8v1.3h-4.8zM218.5 108.3h6.8v1.3h-6.8zM66.0 109.3h4.8v1.3h-4.8zM220.0 109.3h6.3v1.3h-6.3zM64.5 110.3h4.8v1.3h-4.8zM221.5 110.3h6.3v1.3h-6.3zM63.5 111.3h4.8v1.3h-4.8zM222.5 111.3h6.3v1.3h-6.3zM62.5 112.3h4.8v1.3h-4.8zM224.0 112.3h5.8v1.3h-5.8zM61.5 113.3h4.3v1.3h-4.3zM225.0 113.3h5.8v1.3h-5.8zM60.0 114.3h4.8v1.3h-4.8zM226.0 114.3h6.3v1.3h-6.3zM59.0 115.3h4.8v1.3h-4.8zM227.0 115.3h6.3v1.3h-6.3zM58.0 116.3h4.8v1.3h-4.8zM228.5 116.3h5.8v1.3h-5.8zM57.0 117.3h4.3v1.3h-4.3zM229.5 117.3h5.8v1.3h-5.8zM56.0 118.3h4.3v1.3h-4.3zM230.5 118.3h5.8v1.3h-5.8zM55.0 119.3h4.3v1.3h-4.3zM231.0 119.3h5.8v1.3h-5.8zM54.0 120.3h4.3v1.3h-4.3zM232.0 120.3h5.8v1.3h-5.8zM53.0 121.3h4.3v1.3h-4.3zM233.0 121.3h5.8v1.3h-5.8zM52.0 122.3h4.3v1.3h-4.3zM234.0 122.3h5.3v1.3h-5.3zM51.0 123.3h4.3v1.3h-4.3zM234.5 123.3h5.8v1.3h-5.8zM50.0 124.3h4.3v1.3h-4.3zM235.5 124.3h5.3v1.3h-5.3zM49.0 125.3h4.3v1.3h-4.3zM236.0 125.3h5.8v1.3h-5.8zM48.0 126.3h4.3v1.3h-4.3zM237.0 126.3h5.3v1.3h-5.3zM47.0 127.3h4.3v1.3h-4.3zM237.5 127.3h5.8v1.3h-5.8zM46.5 128.3h3.8v1.3h-3.8zM238.5 128.3h5.3v1.3h-5.3zM46.5 129.3h3.3v1.3h-3.3zM239.0 129.3h5.3v1.3h-5.3zM46.5 130.3h2.3v1.3h-2.3zM239.5 130.3h5.3v1.3h-5.3zM46.5 131.3h1.3v1.3h-1.3zM240.0 131.3h5.3v1.3h-5.3zM240.5 132.3h5.3v1.3h-5.3zM241.0 133.3h5.3v1.3h-5.3zM241.5 134.3h5.3v1.3h-5.3zM242.0 135.3h5.3v1.3h-5.3zM242.5 136.3h5.3v1.3h-5.3zM243.0 137.3h4.8v1.3h-4.8zM243.0 138.3h5.3v1.3h-5.3zM243.5 139.3h4.8v1.3h-4.8zM243.5 140.3h5.3v1.3h-5.3zM244.0 141.3h4.8v1.3h-4.8zM244.0 142.3h5.3v1.3h-5.3zM244.5 143.3h4.8v1.3h-4.8zM244.5 144.3h5.3v1.3h-5.3zM244.5 145.3h5.3v1.3h-5.3zM245.0 146.3h4.8v1.3h-4.8zM245.0 147.3h4.8v1.3h-4.8zM245.0 148.3h4.8v1.3h-4.8zM245.0 149.3h4.8v1.3h-4.8zM245.0 150.3h4.8v1.3h-4.8zM245.0 151.3h4.8v1.3h-4.8zM245.0 152.3h4.8v1.3h-4.8zM245.0 153.3h4.8v1.3h-4.8zM245.0 154.3h4.8v1.3h-4.8zM244.5 155.3h4.8v1.3h-4.8zM244.5 156.3h4.8v1.3h-4.8zM244.0 157.3h5.3v1.3h-5.3zM244.0 158.3h4.8v1.3h-4.8zM244.0 159.3h4.8v1.3h-4.8zM243.5 160.3h4.8v1.3h-4.8zM243.0 161.3h4.8v1.3h-4.8zM243.0 162.3h4.8v1.3h-4.8zM242.5 163.3h4.8v1.3h-4.8zM242.0 164.3h4.8v1.3h-4.8zM241.5 165.3h4.8v1.3h-4.8zM241.0 166.3h4.8v1.3h-4.8zM240.5 167.3h4.8v1.3h-4.8zM240.0 168.3h4.8v1.3h-4.8zM239.5 169.3h4.8v1.3h-4.8zM239.0 170.3h4.8v1.3h-4.8zM238.5 171.3h4.8v1.3h-4.8zM237.5 172.3h5.3v1.3h-5.3zM237.0 173.3h4.8v1.3h-4.8zM236.0 174.3h5.3v1.3h-5.3zM235.5 175.3h4.8v1.3h-4.8zM234.5 176.3h5.3v1.3h-5.3zM234.0 177.3h4.8v1.3h-4.8zM233.0 178.3h5.3v1.3h-5.3zM232.0 179.3h5.3v1.3h-5.3zM231.0 180.3h5.3v1.3h-5.3zM230.0 181.3h5.3v1.3h-5.3zM229.0 182.3h5.3v1.3h-5.3zM228.0 183.3h5.3v1.3h-5.3zM226.5 184.3h5.8v1.3h-5.8zM225.5 185.3h5.3v1.3h-5.3zM224.0 186.3h5.8v1.3h-5.8zM223.0 187.3h5.3v1.3h-5.3zM221.5 188.3h5.8v1.3h-5.8zM220.0 189.3h5.8v1.3h-5.8zM218.5 190.3h5.8v1.3h-5.8zM217.0 191.3h5.8v1.3h-5.8zM215.0 192.3h6.3v1.3h-6.3zM213.5 193.3h6.3v1.3h-6.3zM211.5 194.3h6.3v1.3h-6.3zM209.5 195.3h6.8v1.3h-6.8zM207.5 196.3h6.8v1.3h-6.8zM205.0 197.3h7.3v1.3h-7.3zM202.5 198.3h7.8v1.3h-7.8zM200.0 199.3h7.8v1.3h-7.8zM46.5 200.3h3.3v1.3h-3.3zM197.5 200.3h7.8v1.3h-7.8zM46.5 201.3h7.3v1.3h-7.3zM194.5 201.3h8.3v1.3h-8.3zM46.5 202.3h12.3v1.3h-12.3zM191.0 202.3h9.3v1.3h-9.3zM46.5 203.3h17.3v1.3h-17.3zM187.5 203.3h9.8v1.3h-9.8zM50.5 204.3h19.3v1.3h-19.3zM183.5 204.3h10.8v1.3h-10.8zM56.0 205.3h20.3v1.3h-20.3zM179.0 205.3h11.8v1.3h-11.8zM62.0 206.3h22.3v1.3h-22.3zM173.5 206.3h13.3v1.3h-13.3zM69.0 207.3h24.3v1.3h-24.3zM167.0 207.3h15.3v1.3h-15.3zM76.5 208.3h28.3v1.3h-28.3zM158.5 208.3h18.8v1.3h-18.8zM85.5 209.3h38.8v1.3h-38.8zM141.5 209.3h29.8v1.3h-29.8zM96.5 210.3h66.8v1.3h-66.8zM111.5 211.3h40.3v1.3h-40.3z"/>
<path fill="#d6434d" d="M132.0 82.3h19.8v1.3h-19.8zM124.5 83.3h35.3v1.3h-35.3zM119.5 84.3h45.3v1.3h-45.3zM115.5 85.3h19.3v1.3h-19.3zM148.5 85.3h20.8v1.3h-20.8zM112.0 86.3h14.3v1.3h-14.3zM157.5 86.3h15.8v1.3h-15.8zM109.0 87.3h11.8v1.3h-11.8zM163.0 87.3h13.8v1.3h-13.8zM106.5 88.3h10.3v1.3h-10.3zM167.5 88.3h12.3v1.3h-12.3zM103.5 89.3h9.8v1.3h-9.8zM171.5 89.3h11.3v1.3h-11.3zM101.5 90.3h8.8v1.3h-8.8zM175.0 90.3h10.3v1.3h-10.3zM99.0 91.3h8.3v1.3h-8.3zM178.0 91.3h9.8v1.3h-9.8zM97.0 92.3h7.8v1.3h-7.8zM181.0 92.3h9.3v1.3h-9.3zM95.0 93.3h7.3v1.3h-7.3zM183.5 93.3h9.3v1.3h-9.3zM93.0 94.3h7.3v1.3h-7.3zM186.0 94.3h8.8v1.3h-8.8zM91.0 95.3h6.8v1.3h-6.8zM188.5 95.3h8.8v1.3h-8.8zM89.5 96.3h6.3v1.3h-6.3zM191.0 96.3h8.3v1.3h-8.3zM87.5 97.3h6.3v1.3h-6.3zM193.0 97.3h8.3v1.3h-8.3zM86.0 98.3h6.3v1.3h-6.3zM195.0 98.3h8.3v1.3h-8.3zM84.5 99.3h5.8v1.3h-5.8zM197.0 99.3h7.8v1.3h-7.8zM83.0 100.3h5.8v1.3h-5.8zM199.0 100.3h7.8v1.3h-7.8zM81.5 101.3h5.8v1.3h-5.8zM201.0 101.3h7.3v1.3h-7.3zM80.0 102.3h5.3v1.3h-5.3zM203.0 102.3h6.8v1.3h-6.8zM78.5 103.3h5.3v1.3h-5.3zM204.5 103.3h7.3v1.3h-7.3zM77.0 104.3h5.3v1.3h-5.3zM206.0 104.3h7.3v1.3h-7.3zM75.5 105.3h5.3v1.3h-5.3zM208.0 105.3h6.8v1.3h-6.8zM74.5 106.3h5.3v1.3h-5.3zM209.5 106.3h6.8v1.3h-6.8zM73.0 107.3h5.3v1.3h-5.3zM211.0 107.3h6.8v1.3h-6.8zM71.5 108.3h5.3v1.3h-5.3zM212.5 108.3h6.3v1.3h-6.3zM70.5 109.3h4.8v1.3h-4.8zM214.0 109.3h6.3v1.3h-6.3zM69.0 110.3h5.3v1.3h-5.3zM215.0 110.3h6.8v1.3h-6.8zM68.0 111.3h4.8v1.3h-4.8zM216.5 111.3h6.3v1.3h-6.3zM67.0 112.3h4.8v1.3h-4.8zM217.5 112.3h6.8v1.3h-6.8zM65.5 113.3h5.3v1.3h-5.3zM219.0 113.3h6.3v1.3h-6.3zM64.5 114.3h4.8v1.3h-4.8zM220.0 114.3h6.3v1.3h-6.3zM63.5 115.3h4.8v1.3h-4.8zM221.5 115.3h5.8v1.3h-5.8zM62.5 116.3h4.8v1.3h-4.8zM222.5 116.3h6.3v1.3h-6.3zM61.0 117.3h4.8v1.3h-4.8zM223.5 117.3h6.3v1.3h-6.3zM60.0 118.3h4.8v1.3h-4.8zM224.5 118.3h6.3v1.3h-6.3zM59.0 119.3h4.8v1.3h-4.8zM225.5 119.3h5.8v1.3h-5.8zM58.0 120.3h4.8v1.3h-4.8zM226.5 120.3h5.8v1.3h-5.8zM57.0 121.3h4.8v1.3h-4.8zM227.5 121.3h5.8v1.3h-5.8zM56.0 122.3h4.8v1.3h-4.8zM228.5 122.3h5.8v1.3h-5.8zM55.0 123.3h4.8v1.3h-4.8zM229.5 123.3h5.3v1.3h-5.3zM54.0 124.3h4.8v1.3h-4.8zM230.0 124.3h5.8v1.3h-5.8zM53.0 125.3h4.8v1.3h-4.8zM231.0 125.3h5.3v1.3h-5.3zM52.0 126.3h4.8v1.3h-4.8zM231.5 126.3h5.8v1.3h-5.8zM51.0 127.3h4.8v1.3h-4.8zM232.5 127.3h5.3v1.3h-5.3zM50.0 128.3h4.8v1.3h-4.8zM233.0 128.3h5.8v1.3h-5.8zM49.5 129.3h4.3v1.3h-4.3zM233.5 129.3h5.8v1.3h-5.8zM48.5 130.3h4.3v1.3h-4.3zM234.5 130.3h5.3v1.3h-5.3zM47.5 131.3h4.8v1.3h-4.8zM235.0 131.3h5.3v1.3h-5.3zM46.5 132.3h4.8v1.3h-4.8zM235.5 132.3h5.3v1.3h-5.3zM46.5 133.3h3.8v1.3h-3.8zM236.0 133.3h5.3v1.3h-5.3zM46.5 134.3h2.8v1.3h-2.8zM236.5 134.3h5.3v1.3h-5.3zM46.5 135.3h2.3v1.3h-2.3zM237.0 135.3h5.3v1.3h-5.3zM46.5 136.3h1.3v1.3h-1.3zM237.5 136.3h5.3v1.3h-5.3zM238.0 137.3h5.3v1.3h-5.3zM238.0 138.3h5.3v1.3h-5.3zM238.5 139.3h5.3v1.3h-5.3zM239.0 140.3h4.8v1.3h-4.8zM239.0 141.3h5.3v1.3h-5.3zM239.5 142.3h4.8v1.3h-4.8zM239.5 143.3h5.3v1.3h-5.3zM240.0 144.3h4.8v1.3h-4.8zM240.0 145.3h4.8v1.3h-4.8zM240.0 146.3h5.3v1.3h-5.3zM240.0 147.3h5.3v1.3h-5.3zM240.5 148.3h4.8v1.3h-4.8zM240.5 149.3h4.8v1.3h-4.8zM240.5 150.3h4.8v1.3h-4.8zM240.5 151.3h4.8v1.3h-4.8zM240.5 152.3h4.8v1.3h-4.8zM240.0 153.3h5.3v1.3h-5.3zM240.0 154.3h5.3v1.3h-5.3zM240.0 155.3h4.8v1.3h-4.8zM240.0 156.3h4.8v1.3h-4.8zM239.5 157.3h4.8v1.3h-4.8zM239.5 158.3h4.8v1.3h-4.8zM239.0 159.3h5.3v1.3h-5.3zM239.0 160.3h4.8v1.3h-4.8zM238.5 161.3h4.8v1.3h-4.8zM238.0 162.3h5.3v1.3h-5.3zM238.0 163.3h4.8v1.3h-4.8zM237.5 164.3h4.8v1.3h-4.8zM237.0 165.3h4.8v1.3h-4.8zM236.5 166.3h4.8v1.3h-4.8zM236.0 167.3h4.8v1.3h-4.8zM235.5 168.3h4.8v1.3h-4.8zM235.0 169.3h4.8v1.3h-4.8zM234.0 170.3h5.3v1.3h-5.3zM233.5 171.3h5.3v1.3h-5.3zM233.0 172.3h4.8v1.3h-4.8zM232.0 173.3h5.3v1.3h-5.3zM231.5 174.3h4.8v1.3h-4.8zM230.5 175.3h5.3v1.3h-5.3zM229.5 176.3h5.3v1.3h-5.3zM229.0 177.3h5.3v1.3h-5.3zM228.0 178.3h5.3v1.3h-5.3zM227.0 179.3h5.3v1.3h-5.3zM226.0 180.3h5.3v1.3h-5.3zM225.0 181.3h5.3v1.3h-5.3zM223.5 182.3h5.8v1.3h-5.8zM222.5 183.3h5.8v1.3h-5.8zM221.0 184.3h5.8v1.3h-5.8zM220.0 185.3h5.8v1.3h-5.8zM218.5 186.3h5.8v1.3h-5.8zM217.0 187.3h6.3v1.3h-6.3zM215.5 188.3h6.3v1.3h-6.3zM214.0 189.3h6.3v1.3h-6.3zM212.5 190.3h6.3v1.3h-6.3zM210.5 191.3h6.8v1.3h-6.8zM208.5 192.3h6.8v1.3h-6.8zM206.5 193.3h7.3v1.3h-7.3zM204.5 194.3h7.3v1.3h-7.3zM46.5 195.3h1.3v1.3h-1.3zM202.5 195.3h7.3v1.3h-7.3zM46.5 196.3h4.3v1.3h-4.3zM200.0 196.3h7.8v1.3h-7.8zM46.5 197.3h7.3v1.3h-7.3zM197.5 197.3h7.8v1.3h-7.8zM46.5 198.3h10.8v1.3h-10.8zM194.5 198.3h8.3v1.3h-8.3zM46.5 199.3h15.3v1.3h-15.3zM191.5 199.3h8.8v1.3h-8.8zM49.5 200.3h16.8v1.3h-16.8zM188.0 200.3h9.8v1.3h-9.8zM53.5 201.3h17.8v1.3h-17.8zM184.5 201.3h10.3v1.3h-10.3zM58.5 202.3h18.3v1.3h-18.3zM180.5 202.3h10.8v1.3h-10.8zM63.5 203.3h20.3v1.3h-20.3zM175.5 203.3h12.3v1.3h-12.3zM69.5 204.3h21.8v1.3h-21.8zM169.5 204.3h14.3v1.3h-14.3zM76.0 205.3h24.8v1.3h-24.8zM162.5 205.3h16.8v1.3h-16.8zM84.0 206.3h30.3v1.3h-30.3zM151.5 206.3h22.3v1.3h-22.3zM93.0 207.3h74.3v1.3h-74.3zM104.5 208.3h54.3v1.3h-54.3zM124.0 209.3h17.8v1.3h-17.8z"/>
<path fill="#ce3b50" d="M134.5 85.3h14.3v1.3h-14.3zM126.0 86.3h31.8v1.3h-31.8zM120.5 87.3h42.8v1.3h-42.8zM116.5 88.3h51.3v1.3h-51.3zM113.0 89.3h15.3v1.3h-15.3zM155.0 89.3h16.8v1.3h-16.8zM110.0 90.3h12.3v1.3h-12.3zM161.0 90.3h14.3v1.3h-14.3zM107.0 91.3h10.8v1.3h-10.8zM166.0 91.3h12.3v1.3h-12.3zM104.5 92.3h9.8v1.3h-9.8zM169.5 92.3h11.8v1.3h-11.8zM102.0 93.3h9.3v1.3h-9.3zM173.0 93.3h10.8v1.3h-10.8zM100.0 94.3h8.3v1.3h-8.3zM176.5 94.3h9.8v1.3h-9.8zM97.5 95.3h8.3v1.3h-8.3zM179.5 95.3h9.3v1.3h-9.3zM95.5 96.3h7.8v1.3h-7.8zM182.0 96.3h9.3v1.3h-9.3zM93.5 97.3h7.8v1.3h-7.8zM184.5 97.3h8.8v1.3h-8.8zM92.0 98.3h6.8v1.3h-6.8zM187.0 98.3h8.3v1.3h-8.3zM90.0 99.3h6.8v1.3h-6.8zM189.0 99.3h8.3v1.3h-8.3zM88.5 100.3h6.3v1.3h-6.3zM191.5 100.3h7.8v1.3h-7.8zM87.0 101.3h6.3v1.3h-6.3zM193.5 101.3h7.8v1.3h-7.8zM85.0 102.3h6.3v1.3h-6.3zM195.5 102.3h7.8v1.3h-7.8zM83.5 103.3h6.3v1.3h-6.3zM197.0 103.3h7.8v1.3h-7.8zM82.0 104.3h6.3v1.3h-6.3zM199.0 104.3h7.3v1.3h-7.3zM80.5 105.3h5.8v1.3h-5.8zM201.0 105.3h7.3v1.3h-7.3zM79.5 106.3h5.3v1.3h-5.3zM202.5 106.3h7.3v1.3h-7.3zM78.0 107.3h5.3v1.3h-5.3zM204.0 107.3h7.3v1.3h-7.3zM76.5 108.3h5.8v1.3h-5.8zM205.5 108.3h7.3v1.3h-7.3zM75.0 109.3h5.8v1.3h-5.8zM207.0 109.3h7.3v1.3h-7.3zM74.0 110.3h5.3v1.3h-5.3zM208.5 110.3h6.8v1.3h-6.8zM72.5 111.3h5.3v1.3h-5.3zM210.0 111.3h6.8v1.3h-6.8zM71.5 112.3h5.3v1.3h-5.3zM211.5 112.3h6.3v1.3h-6.3zM70.5 113.3h4.8v1.3h-4.8zM213.0 113.3h6.3v1.3h-6.3zM69.0 114.3h5.3v1.3h-5.3zM214.0 114.3h6.3v1.3h-6.3zM68.0 115.3h4.8v1.3h-4.8zM215.5 115.3h6.3v1.3h-6.3zM67.0 116.3h4.8v1.3h-4.8zM216.5 116.3h6.3v1.3h-6.3zM65.5 117.3h5.3v1.3h-5.3zM217.5 117.3h6.3v1.3h-6.3zM64.5 118.3h4.8v1.3h-4.8zM218.5 118.3h6.3v1.3h-6.3zM63.5 119.3h4.8v1.3h-4.8zM220.0 119.3h5.8v1.3h-5.8zM62.5 120.3h4.8v1.3h-4.8zM221.0 120.3h5.8v1.3h-5.8zM61.5 121.3h4.8v1.3h-4.8zM222.0 121.3h5.8v1.3h-5.8zM60.5 122.3h4.8v1.3h-4.8zM222.5 122.3h6.3v1.3h-6.3zM59.5 123.3h4.8v1.3h-4.8zM223.5 123.3h6.3v1.3h-6.3zM58.5 124.3h4.8v1.3h-4.8zM224.5 124.3h5.8v1.3h-5.8zM57.5 125.3h4.8v1.3h-4.8zM225.5 125.3h5.8v1.3h-5.8zM56.5 126.3h4.8v1.3h-4.8zM226.0 126.3h5.8v1.3h-5.8zM55.5 127.3h4.8v1.3h-4.8zM227.0 127.3h5.8v1.3h-5.8zM54.5 128.3h4.8v1.3h-4.8zM227.5 128.3h5.8v1.3h-5.8zM53.5 129.3h4.8v1.3h-4.8zM228.5 129.3h5.3v1.3h-5.3zM52.5 130.3h4.8v1.3h-4.8zM229.0 130.3h5.8v1.3h-5.8zM52.0 131.3h4.8v1.3h-4.8zM229.5 131.3h5.8v1.3h-5.8zM51.0 132.3h4.8v1.3h-4.8zM230.0 132.3h5.8v1.3h-5.8zM50.0 133.3h4.8v1.3h-4.8zM231.0 133.3h5.3v1.3h-5.3zM49.0 134.3h4.8v1.3h-4.8zM231.5 134.3h5.3v1.3h-5.3zM48.5 135.3h4.8v1.3h-4.8zM232.0 135.3h5.3v1.3h-5.3zM47.5 136.3h4.8v1.3h-4.8zM232.5 136.3h5.3v1.3h-5.3zM46.5 137.3h4.8v1.3h-4.8zM232.5 137.3h5.8v1.3h-5.8zM46.5 138.3h4.3v1.3h-4.3zM233.0 138.3h5.3v1.3h-5.3zM46.5 139.3h3.3v1.3h-3.3zM233.5 139.3h5.3v1.3h-5.3zM46.5 140.3h2.8v1.3h-2.8zM234.0 140.3h5.3v1.3h-5.3zM46.5 141.3h1.8v1.3h-1.8zM234.0 141.3h5.3v1.3h-5.3zM46.5 142.3h1.3v1.3h-1.3zM234.5 142.3h5.3v1.3h-5.3zM234.5 143.3h5.3v1.3h-5.3zM235.0 144.3h5.3v1.3h-5.3zM235.0 145.3h5.3v1.3h-5.3zM235.0 146.3h5.3v1.3h-5.3zM235.5 147.3h4.8v1.3h-4.8zM235.5 148.3h5.3v1.3h-5.3zM235.5 149.3h5.3v1.3h-5.3zM235.5 150.3h5.3v1.3h-5.3zM235.5 151.3h5.3v1.3h-5.3zM235.5 152.3h5.3v1.3h-5.3zM235.5 153.3h4.8v1.3h-4.8zM235.0 154.3h5.3v1.3h-5.3zM235.0 155.3h5.3v1.3h-5.3zM235.0 156.3h5.3v1.3h-5.3zM235.0 157.3h4.8v1.3h-4.8zM234.5 158.3h5.3v1.3h-5.3zM234.5 159.3h4.8v1.3h-4.8zM234.0 160.3h5.3v1.3h-5.3zM233.5 161.3h5.3v1.3h-5.3zM233.5 162.3h4.8v1.3h-4.8zM233.0 163.3h5.3v1.3h-5.3zM232.5 164.3h5.3v1.3h-5.3zM232.0 165.3h5.3v1.3h-5.3zM231.5 166.3h5.3v1.3h-5.3zM231.0 167.3h5.3v1.3h-5.3zM230.5 168.3h5.3v1.3h-5.3zM230.0 169.3h5.3v1.3h-5.3zM229.0 170.3h5.3v1.3h-5.3zM228.5 171.3h5.3v1.3h-5.3zM228.0 172.3h5.3v1.3h-5.3zM227.0 173.3h5.3v1.3h-5.3zM226.0 174.3h5.8v1.3h-5.8zM225.5 175.3h5.3v1.3h-5.3zM224.5 176.3h5.3v1.3h-5.3zM223.5 177.3h5.8v1.3h-5.8zM222.5 178.3h5.8v1.3h-5.8zM221.5 179.3h5.8v1.3h-5.8zM220.5 180.3h5.8v1.3h-5.8zM219.0 181.3h6.3v1.3h-6.3zM218.0 182.3h5.8v1.3h-5.8zM216.5 183.3h6.3v1.3h-6.3zM215.5 184.3h5.8v1.3h-5.8zM214.0 185.3h6.3v1.3h-6.3zM212.5 186.3h6.3v1.3h-6.3zM211.0 187.3h6.3v1.3h-6.3zM209.0 188.3h6.8v1.3h-6.8zM207.5 189.3h6.8v1.3h-6.8zM46.5 190.3h1.8v1.3h-1.8zM205.5 190.3h7.3v1.3h-7.3zM46.5 191.3h3.8v1.3h-3.8zM203.5 191.3h7.3v1.3h-7.3zM46.5 192.3h6.3v1.3h-6.3zM201.5 192.3h7.3v1.3h-7.3zM46.5 193.3h8.8v1.3h-8.8zM199.0 193.3h7.8v1.3h-7.8zM46.5 194.3h11.8v1.3h-11.8zM196.5 194.3h8.3v1.3h-8.3zM47.5 195.3h13.8v1.3h-13.8zM194.0 195.3h8.8v1.3h-8.8zM50.5 196.3h14.3v1.3h-14.3zM191.5 196.3h8.8v1.3h-8.8zM53.5 197.3h15.3v1.3h-15.3zM188.0 197.3h9.8v1.3h-9.8zM57.0 198.3h16.3v1.3h-16.3zM184.5 198.3h10.3v1.3h-10.3zM61.5 199.3h16.8v1.3h-16.8zM181.0 199.3h10.8v1.3h-10.8zM66.0 200.3h18.3v1.3h-18.3zM176.5 200.3h11.8v1.3h-11.8zM71.0 201.3h19.8v1.3h-19.8zM171.5 201.3h13.3v1.3h-13.3zM76.5 202.3h22.8v1.3h-22.8zM165.0 202.3h15.8v1.3h-15.8zM83.5 203.3h26.3v1.3h-26.3zM156.5 203.3h19.3v1.3h-19.3zM91.0 204.3h78.8v1.3h-78.8zM100.5 205.3h62.3v1.3h-62.3zM114.0 206.3h37.8v1.3h-37.8z"/>
<path fill="#c43450" d="M128.0 89.3h27.3v1.3h-27.3zM122.0 90.3h39.3v1.3h-39.3zM117.5 91.3h48.8v1.3h-48.8zM114.0 92.3h17.3v1.3h-17.3zM151.5 92.3h18.3v1.3h-18.3zM111.0 93.3h13.3v1.3h-13.3zM158.5 93.3h14.8v1.3h-14.8zM108.0 94.3h11.8v1.3h-11.8zM163.5 94.3h13.3v1.3h-13.3zM105.5 95.3h10.3v1.3h-10.3zM167.5 95.3h12.3v1.3h-12.3zM103.0 96.3h9.8v1.3h-9.8zM171.0 96.3h11.3v1.3h-11.3zM101.0 97.3h8.8v1.3h-8.8zM174.5 97.3h10.3v1.3h-10.3zM98.5 98.3h8.3v1.3h-8.3zM177.5 98.3h9.8v1.3h-9.8zM96.5 99.3h8.3v1.3h-8.3zM180.0 99.3h9.3v1.3h-9.3zM94.5 100.3h7.8v1.3h-7.8zM182.5 100.3h9.3v1.3h-9.3zM93.0 101.3h7.3v1.3h-7.3zM185.0 101.3h8.8v1.3h-8.8zM91.0 102.3h7.3v1.3h-7.3zM187.0 102.3h8.8v1.3h-8.8zM89.5 103.3h6.8v1.3h-6.8zM189.5 103.3h7.8v1.3h-7.8zM88.0 104.3h6.3v1.3h-6.3zM191.5 104.3h7.8v1.3h-7.8zM86.0 105.3h6.8v1.3h-6.8zM193.0 105.3h8.3v1.3h-8.3zM84.5 106.3h6.3v1.3h-6.3zM195.0 106.3h7.8v1.3h-7.8zM83.0 107.3h6.3v1.3h-6.3zM197.0 107.3h7.3v1.3h-7.3zM82.0 108.3h5.8v1.3h-5.8zM198.5 108.3h7.3v1.3h-7.3zM80.5 109.3h5.8v1.3h-5.8zM200.0 109.3h7.3v1.3h-7.3zM79.0 110.3h5.8v1.3h-5.8zM202.0 110.3h6.8v1.3h-6.8zM77.5 111.3h5.8v1.3h-5.8zM203.5 111.3h6.8v1.3h-6.8zM76.5 112.3h5.3v1.3h-5.3zM205.0 112.3h6.8v1.3h-6.8zM75.0 113.3h5.8v1.3h-5.8zM206.0 113.3h7.3v1.3h-7.3zM74.0 114.3h5.3v1.3h-5.3zM207.5 114.3h6.8v1.3h-6.8zM72.5 115.3h5.8v1.3h-5.8zM209.0 115.3h6.8v1.3h-6.8zM71.5 116.3h5.3v1.3h-5.3zM210.0 116.3h6.8v1.3h-6.8zM70.5 117.3h5.3v1.3h-5.3zM211.5 117.3h6.3v1.3h-6.3zM69.0 118.3h5.3v1.3h-5.3zM212.5 118.3h6.3v1.3h-6.3zM68.0 119.3h5.3v1.3h-5.3zM213.5 119.3h6.8v1.3h-6.8zM67.0 120.3h5.3v1.3h-5.3zM215.0 120.3h6.3v1.3h-6.3zM66.0 121.3h5.3v1.3h-5.3zM216.0 121.3h6.3v1.3h-6.3zM65.0 122.3h4.8v1.3h-4.8zM217.0 122.3h5.8v1.3h-5.8zM64.0 123.3h4.8v1.3h-4.8zM218.0 123.3h5.8v1.3h-5.8zM63.0 124.3h4.8v1.3h-4.8zM218.5 124.3h6.3v1.3h-6.3zM62.0 125.3h4.8v1.3h-4.8zM219.5 125.3h6.3v1.3h-6.3zM61.0 126.3h4.8v1.3h-4.8zM220.5 126.3h5.8v1.3h-5.8zM60.0 127.3h4.8v1.3h-4.8zM221.5 127.3h5.8v1.3h-5.8zM59.0 128.3h4.8v1.3h-4.8zM222.0 128.3h5.8v1.3h-5.8zM58.0 129.3h4.8v1.3h-4.8zM223.0 129.3h5.8v1.3h-5.8zM57.0 130.3h5.3v1.3h-5.3zM223.5 130.3h5.8v1.3h-5.8zM56.5 131.3h4.8v1.3h-4.8zM224.0 131.3h5.8v1.3h-5.8zM55.5 132.3h4.8v1.3h-4.8zM225.0 132.3h5.3v1.3h-5.3zM54.5 133.3h4.8v1.3h-4.8zM225.5 133.3h5.8v1.3h-5.8zM53.5 134.3h5.3v1.3h-5.3zM226.0 134.3h5.8v1.3h-5.8zM53.0 135.3h4.8v1.3h-4.8zM226.5 135.3h5.8v1.3h-5.8zM52.0 136.3h4.8v1.3h-4.8zM227.0 136.3h5.8v1.3h-5.8zM51.0 137.3h5.3v1.3h-5.3zM227.5 137.3h5.3v1.3h-5.3zM50.5 138.3h4.8v1.3h-4.8zM228.0 138.3h5.3v1.3h-5.3zM49.5 139.3h5.3v1.3h-5.3zM228.5 139.3h5.3v1.3h-5.3zM49.0 140.3h4.8v1.3h-4.8zM228.5 140.3h5.8v1.3h-5.8zM48.0 141.3h5.3v1.3h-5.3zM229.0 141.3h5.3v1.3h-5.3zM47.5 142.3h4.8v1.3h-4.8zM229.5 142.3h5.3v1.3h-5.3zM46.5 143.3h5.3v1.3h-5.3zM229.5 143.3h5.3v1.3h-5.3zM46.5 144.3h4.8v1.3h-4.8zM229.5 144.3h5.8v1.3h-5.8zM46.5 145.3h3.8v1.3h-3.8zM230.0 145.3h5.3v1.3h-5.3zM46.5 146.3h3.3v1.3h-3.3zM230.0 146.3h5.3v1.3h-5.3zM46.5 147.3h2.8v1.3h-2.8zM230.0 147.3h5.8v1.3h-5.8zM46.5 148.3h2.3v1.3h-2.3zM230.5 148.3h5.3v1.3h-5.3zM46.5 149.3h1.3v1.3h-1.3zM230.5 149.3h5.3v1.3h-5.3zM46.5 150.3h0.8v1.3h-0.8zM230.5 150.3h5.3v1.3h-5.3zM230.5 151.3h5.3v1.3h-5.3zM230.5 152.3h5.3v1.3h-5.3zM230.5 153.3h5.3v1.3h-5.3zM230.5 154.3h4.8v1.3h-4.8zM230.0 155.3h5.3v1.3h-5.3zM230.0 156.3h5.3v1.3h-5.3zM230.0 157.3h5.3v1.3h-5.3zM229.5 158.3h5.3v1.3h-5.3zM229.5 159.3h5.3v1.3h-5.3zM229.0 160.3h5.3v1.3h-5.3zM228.5 161.3h5.3v1.3h-5.3zM228.5 162.3h5.3v1.3h-5.3zM228.0 163.3h5.3v1.3h-5.3zM227.5 164.3h5.3v1.3h-5.3zM227.0 165.3h5.3v1.3h-5.3zM226.5 166.3h5.3v1.3h-5.3zM226.0 167.3h5.3v1.3h-5.3zM225.5 168.3h5.3v1.3h-5.3zM224.5 169.3h5.8v1.3h-5.8zM224.0 170.3h5.3v1.3h-5.3zM223.0 171.3h5.8v1.3h-5.8zM222.5 172.3h5.8v1.3h-5.8zM221.5 173.3h5.8v1.3h-5.8zM221.0 174.3h5.3v1.3h-5.3zM220.0 175.3h5.8v1.3h-5.8zM219.0 176.3h5.8v1.3h-5.8zM218.0 177.3h5.8v1.3h-5.8zM217.0 178.3h5.8v1.3h-5.8zM215.5 179.3h6.3v1.3h-6.3zM214.5 180.3h6.3v1.3h-6.3zM213.5 181.3h5.8v1.3h-5.8zM212.0 182.3h6.3v1.3h-6.3zM46.5 183.3h1.3v1.3h-1.3zM210.5 183.3h6.3v1.3h-6.3zM46.5 184.3h2.8v1.3h-2.8zM209.0 184.3h6.8v1.3h-6.8zM46.5 185.3h3.8v1.3h-3.8zM207.5 185.3h6.8v1.3h-6.8zM46.5 186.3h5.3v1.3h-5.3zM206.0 186.3h6.8v1.3h-6.8zM46.5 187.3h7.3v1.3h-7.3zM204.0 187.3h7.3v1.3h-7.3zM46.5 188.3h8.8v1.3h-8.8zM202.0 188.3h7.3v1.3h-7.3zM46.5 189.3h10.8v1.3h-10.8zM200.0 189.3h7.8v1.3h-7.8zM48.0 190.3h11.8v1.3h-11.8zM198.0 190.3h7.8v1.3h-7.8zM50.0 191.3h12.3v1.3h-12.3zM196.0 191.3h7.8v1.3h-7.8zM52.5 192.3h12.8v1.3h-12.8zM193.5 192.3h8.3v1.3h-8.3zM55.0 193.3h13.3v1.3h-13.3zM190.5 193.3h8.8v1.3h-8.8zM58.0 194.3h13.8v1.3h-13.8zM187.5 194.3h9.3v1.3h-9.3zM61.0 195.3h15.3v1.3h-15.3zM184.5 195.3h9.8v1.3h-9.8zM64.5 196.3h16.3v1.3h-16.3zM181.0 196.3h10.8v1.3h-10.8zM68.5 197.3h17.3v1.3h-17.3zM177.0 197.3h11.3v1.3h-11.3zM73.0 198.3h18.8v1.3h-18.8zM172.0 198.3h12.8v1.3h-12.8zM78.0 199.3h20.8v1.3h-20.8zM166.5 199.3h14.8v1.3h-14.8zM84.0 200.3h24.3v1.3h-24.3zM159.0 200.3h17.8v1.3h-17.8zM90.5 201.3h31.8v1.3h-31.8zM146.0 201.3h25.8v1.3h-25.8zM99.0 202.3h66.3v1.3h-66.3zM109.5 203.3h47.3v1.3h-47.3z"/>
<path fill="#ba2d50" d="M131.0 92.3h20.8v1.3h-20.8zM124.0 93.3h34.8v1.3h-34.8zM119.5 94.3h44.3v1.3h-44.3zM115.5 95.3h21.8v1.3h-21.8zM145.0 95.3h22.8v1.3h-22.8zM112.5 96.3h14.8v1.3h-14.8zM155.0 96.3h16.3v1.3h-16.3zM109.5 97.3h12.3v1.3h-12.3zM160.5 97.3h14.3v1.3h-14.3zM106.5 98.3h11.3v1.3h-11.3zM165.0 98.3h12.8v1.3h-12.8zM104.5 99.3h9.8v1.3h-9.8zM169.0 99.3h11.3v1.3h-11.3zM102.0 100.3h9.3v1.3h-9.3zM172.0 100.3h10.8v1.3h-10.8zM100.0 101.3h8.8v1.3h-8.8zM175.0 101.3h10.3v1.3h-10.3zM98.0 102.3h8.3v1.3h-8.3zM177.5 102.3h9.8v1.3h-9.8zM96.0 103.3h7.8v1.3h-7.8zM180.5 103.3h9.3v1.3h-9.3zM94.0 104.3h7.8v1.3h-7.8zM182.5 104.3h9.3v1.3h-9.3zM92.5 105.3h7.3v1.3h-7.3zM185.0 105.3h8.3v1.3h-8.3zM90.5 106.3h7.3v1.3h-7.3zM187.0 106.3h8.3v1.3h-8.3zM89.0 107.3h6.8v1.3h-6.8zM189.0 107.3h8.3v1.3h-8.3zM87.5 108.3h6.8v1.3h-6.8zM191.0 108.3h7.8v1.3h-7.8zM86.0 109.3h6.3v1.3h-6.3zM192.5 109.3h7.8v1.3h-7.8zM84.5 110.3h6.3v1.3h-6.3zM194.5 110.3h7.8v1.3h-7.8zM83.0 111.3h6.3v1.3h-6.3zM196.0 111.3h7.8v1.3h-7.8zM81.5 112.3h6.3v1.3h-6.3zM197.5 112.3h7.8v1.3h-7.8zM80.5 113.3h5.8v1.3h-5.8zM199.5 113.3h6.8v1.3h-6.8zM79.0 114.3h5.8v1.3h-5.8zM201.0 114.3h6.8v1.3h-6.8zM78.0 115.3h5.8v1.3h-5.8zM202.0 115.3h7.3v1.3h-7.3zM76.5 116.3h5.8v1.3h-5.8zM203.5 116.3h6.8v1.3h-6.8zM75.5 117.3h5.3v1.3h-5.3zM205.0 117.3h6.8v1.3h-6.8zM74.0 118.3h5.8v1.3h-5.8zM206.0 118.3h6.8v1.3h-6.8zM73.0 119.3h5.3v1.3h-5.3zM207.5 119.3h6.3v1.3h-6.3zM72.0 120.3h5.3v1.3h-5.3zM208.5 120.3h6.8v1.3h-6.8zM71.0 121.3h5.3v1.3h-5.3zM209.5 121.3h6.8v1.3h-6.8zM69.5 122.3h5.8v1.3h-5.8zM210.5 122.3h6.8v1.3h-6.8zM68.5 123.3h5.3v1.3h-5.3zM211.5 123.3h6.8v1.3h-6.8zM67.5 124.3h5.3v1.3h-5.3zM212.5 124.3h6.3v1.3h-6.3zM66.5 125.3h5.3v1.3h-5.3zM213.5 125.3h6.3v1.3h-6.3zM65.5 126.3h5.3v1.3h-5.3zM214.5 126.3h6.3v1.3h-6.3zM64.5 127.3h5.3v1.3h-5.3zM215.5 127.3h6.3v1.3h-6.3zM63.5 128.3h5.3v1.3h-5.3zM216.5 128.3h5.8v1.3h-5.8zM62.5 129.3h5.3v1.3h-5.3zM217.0 129.3h6.3v1.3h-6.3zM62.0 130.3h4.8v1.3h-4.8zM218.0 130.3h5.8v1.3h-5.8zM61.0 131.3h5.3v1.3h-5.3zM218.5 131.3h5.8v1.3h-5.8zM60.0 132.3h5.3v1.3h-5.3zM219.0 132.3h6.3v1.3h-6.3zM59.0 133.3h5.3v1.3h-5.3zM220.0 133.3h5.8v1.3h-5.8zM58.5 134.3h4.8v1.3h-4.8zM220.5 134.3h5.8v1.3h-5.8zM57.5 135.3h5.3v1.3h-5.3zM221.0 135.3h5.8v1.3h-5.8zM56.5 136.3h5.3v1.3h-5.3zM221.5 136.3h5.8v1.3h-5.8zM56.0 137.3h4.8v1.3h-4.8zM222.0 137.3h5.8v1.3h-5.8zM55.0 138.3h5.3v1.3h-5.3zM222.5 138.3h5.8v1.3h-5.8zM54.5 139.3h4.8v1.3h-4.8zM223.0 139.3h5.8v1.3h-5.8zM53.5 140.3h5.3v1.3h-5.3zM223.5 140.3h5.3v1.3h-5.3zM53.0 141.3h5.3v1.3h-5.3zM223.5 141.3h5.8v1.3h-5.8zM52.0 142.3h5.3v1.3h-5.3zM224.0 142.3h5.8v1.3h-5.8zM51.5 143.3h5.3v1.3h-5.3zM224.0 143.3h5.8v1.3h-5.8zM51.0 144.3h5.3v1.3h-5.3zM224.5 144.3h5.3v1.3h-5.3zM50.0 145.3h5.3v1.3h-5.3zM224.5 145.3h5.8v1.3h-5.8zM49.5 146.3h5.3v1.3h-5.3zM225.0 146.3h5.3v1.3h-5.3zM49.0 147.3h5.3v1.3h-5.3zM225.0 147.3h5.3v1.3h-5.3zM48.5 148.3h5.3v1.3h-5.3zM225.0 148.3h5.8v1.3h-5.8zM47.5 149.3h5.8v1.3h-5.8zM225.0 149.3h5.8v1.3h-5.8zM47.0 150.3h5.8v1.3h-5.8zM225.0 150.3h5.8v1.3h-5.8zM46.5 151.3h5.3v1.3h-5.3zM225.5 151.3h5.3v1.3h-5.3zM46.5 152.3h5.3v1.3h-5.3zM225.0 152.3h5.8v1.3h-5.8zM46.5 153.3h4.8v1.3h-4.8zM225.0 153.3h5.8v1.3h-5.8zM46.5 154.3h4.3v1.3h-4.3zM225.0 154.3h5.8v1.3h-5.8zM46.5 155.3h3.8v1.3h-3.8zM225.0 155.3h5.3v1.3h-5.3zM46.5 156.3h3.3v1.3h-3.3zM225.0 156.3h5.3v1.3h-5.3zM46.5 157.3h2.8v1.3h-2.8zM224.5 157.3h5.8v1.3h-5.8zM46.5 158.3h2.8v1.3h-2.8zM224.5 158.3h5.3v1.3h-5.3zM46.5 159.3h2.3v1.3h-2.3zM224.0 159.3h5.8v1.3h-5.8zM46.5 160.3h2.3v1.3h-2.3zM224.0 160.3h5.3v1.3h-5.3zM46.5 161.3h1.8v1.3h-1.8zM223.5 161.3h5.3v1.3h-5.3zM46.5 162.3h1.8v1.3h-1.8zM223.0 162.3h5.8v1.3h-5.8zM46.5 163.3h1.3v1.3h-1.3zM222.5 163.3h5.8v1.3h-5.8zM46.5 164.3h1.3v1.3h-1.3zM222.0 164.3h5.8v1.3h-5.8zM46.5 165.3h1.3v1.3h-1.3zM221.5 165.3h5.8v1.3h-5.8zM46.5 166.3h1.3v1.3h-1.3zM221.0 166.3h5.8v1.3h-5.8zM46.5 167.3h1.3v1.3h-1.3zM220.5 167.3h5.8v1.3h-5.8zM46.5 168.3h1.3v1.3h-1.3zM220.0 168.3h5.8v1.3h-5.8zM46.5 169.3h1.3v1.3h-1.3zM219.0 169.3h5.8v1.3h-5.8zM46.5 170.3h1.8v1.3h-1.8zM218.5 170.3h5.8v1.3h-5.8zM46.5 171.3h1.8v1.3h-1.8zM217.5 171.3h5.8v1.3h-5.8zM46.5 172.3h2.3v1.3h-2.3zM217.0 172.3h5.8v1.3h-5.8zM46.5 173.3h2.3v1.3h-2.3zM216.0 173.3h5.8v1.3h-5.8zM46.5 174.3h2.8v1.3h-2.8zM215.0 174.3h6.3v1.3h-6.3zM46.5 175.3h3.3v1.3h-3.3zM214.0 175.3h6.3v1.3h-6.3zM46.5 176.3h3.8v1.3h-3.8zM213.0 176.3h6.3v1.3h-6.3zM46.5 177.3h4.8v1.3h-4.8zM212.0 177.3h6.3v1.3h-6.3zM46.5 178.3h5.3v1.3h-5.3zM211.0 178.3h6.3v1.3h-6.3zM46.5 179.3h6.3v1.3h-6.3zM209.5 179.3h6.3v1.3h-6.3zM46.5 180.3h7.3v1.3h-7.3zM208.5 180.3h6.3v1.3h-6.3zM46.5 181.3h8.3v1.3h-8.3zM207.0 181.3h6.8v1.3h-6.8zM46.5 182.3h9.3v1.3h-9.3zM205.5 182.3h6.8v1.3h-6.8zM47.5 183.3h9.8v1.3h-9.8zM204.0 183.3h6.8v1.3h-6.8zM49.0 184.3h9.8v1.3h-9.8zM202.0 184.3h7.3v1.3h-7.3zM50.0 185.3h10.3v1.3h-10.3zM200.5 185.3h7.3v1.3h-7.3zM51.5 186.3h10.8v1.3h-10.8zM198.5 186.3h7.8v1.3h-7.8zM53.5 187.3h10.8v1.3h-10.8zM196.5 187.3h7.8v1.3h-7.8zM55.0 188.3h11.8v1.3h-11.8zM194.5 188.3h7.8v1.3h-7.8zM57.0 189.3h12.3v1.3h-12.3zM192.0 189.3h8.3v1.3h-8.3zM59.5 190.3h12.8v1.3h-12.8zM189.5 190.3h8.8v1.3h-8.8zM62.0 191.3h13.8v1.3h-13.8zM186.5 191.3h9.8v1.3h-9.8zM65.0 192.3h14.3v1.3h-14.3zM183.5 192.3h10.3v1.3h-10.3zM68.0 193.3h15.3v1.3h-15.3zM180.5 193.3h10.3v1.3h-10.3zM71.5 194.3h16.3v1.3h-16.3zM176.5 194.3h11.3v1.3h-11.3zM76.0 195.3h17.3v1.3h-17.3zM172.0 195.3h12.8v1.3h-12.8zM80.5 196.3h19.3v1.3h-19.3zM166.5 196.3h14.8v1.3h-14.8zM85.5 197.3h22.3v1.3h-22.3zM160.0 197.3h17.3v1.3h-17.3zM91.5 198.3h28.3v1.3h-28.3zM149.5 198.3h22.8v1.3h-22.8zM98.5 199.3h68.3v1.3h-68.3zM108.0 200.3h51.3v1.3h-51.3zM122.0 201.3h24.3v1.3h-24.3z"/>
<path fill="#b12650" d="M137.0 95.3h8.3v1.3h-8.3zM127.0 96.3h28.3v1.3h-28.3zM121.5 97.3h39.3v1.3h-39.3zM117.5 98.3h47.8v1.3h-47.8zM114.0 99.3h17.8v1.3h-17.8zM150.0 99.3h19.3v1.3h-19.3zM111.0 100.3h13.8v1.3h-13.8zM157.0 100.3h15.3v1.3h-15.3zM108.5 101.3h11.8v1.3h-11.8zM162.0 101.3h13.3v1.3h-13.3zM106.0 102.3h10.8v1.3h-10.8zM166.0 102.3h11.8v1.3h-11.8zM103.5 103.3h9.8v1.3h-9.8zM169.5 103.3h11.3v1.3h-11.3zM101.5 104.3h9.3v1.3h-9.3zM172.5 104.3h10.3v1.3h-10.3zM99.5 105.3h8.3v1.3h-8.3zM175.0 105.3h10.3v1.3h-10.3zM97.5 106.3h8.3v1.3h-8.3zM177.5 106.3h9.8v1.3h-9.8zM95.5 107.3h7.8v1.3h-7.8zM180.0 107.3h9.3v1.3h-9.3zM94.0 108.3h7.3v1.3h-7.3zM182.5 108.3h8.8v1.3h-8.8zM92.0 109.3h7.3v1.3h-7.3zM184.5 109.3h8.3v1.3h-8.3zM90.5 110.3h7.3v1.3h-7.3zM186.5 110.3h8.3v1.3h-8.3zM89.0 111.3h6.8v1.3h-6.8zM188.5 111.3h7.8v1.3h-7.8zM87.5 112.3h6.8v1.3h-6.8zM190.0 112.3h7.8v1.3h-7.8zM86.0 113.3h6.8v1.3h-6.8zM192.0 113.3h7.8v1.3h-7.8zM84.5 114.3h6.8v1.3h-6.8zM193.5 114.3h7.8v1.3h-7.8zM83.5 115.3h6.3v1.3h-6.3zM195.0 115.3h7.3v1.3h-7.3zM82.0 116.3h6.3v1.3h-6.3zM196.5 116.3h7.3v1.3h-7.3zM80.5 117.3h6.3v1.3h-6.3zM198.0 117.3h7.3v1.3h-7.3zM79.5 118.3h5.8v1.3h-5.8zM199.5 118.3h6.8v1.3h-6.8zM78.0 119.3h6.3v1.3h-6.3zM200.5 119.3h7.3v1.3h-7.3zM77.0 120.3h5.8v1.3h-5.8zM202.0 120.3h6.8v1.3h-6.8zM76.0 121.3h5.8v1.3h-5.8zM203.0 121.3h6.8v1.3h-6.8zM75.0 122.3h5.3v1.3h-5.3zM204.0 122.3h6.8v1.3h-6.8zM73.5 123.3h5.8v1.3h-5.8zM205.5 123.3h6.3v1.3h-6.3zM72.5 124.3h5.8v1.3h-5.8zM206.5 124.3h6.3v1.3h-6.3zM71.5 125.3h5.8v1.3h-5.8zM207.5 125.3h6.3v1.3h-6.3zM70.5 126.3h5.8v1.3h-5.8zM208.5 126.3h6.3v1.3h-6.3zM69.5 127.3h5.8v1.3h-5.8zM209.5 127.3h6.3v1.3h-6.3zM68.5 128.3h5.8v1.3h-5.8zM210.0 128.3h6.8v1.3h-6.8zM67.5 129.3h5.8v1.3h-5.8zM211.0 129.3h6.3v1.3h-6.3zM66.5 130.3h5.8v1.3h-5.8zM212.0 130.3h6.3v1.3h-6.3zM66.0 131.3h5.3v1.3h-5.3zM212.5 131.3h6.3v1.3h-6.3zM65.0 132.3h5.3v1.3h-5.3zM213.5 132.3h5.8v1.3h-5.8zM64.0 133.3h5.3v1.3h-5.3zM214.0 133.3h6.3v1.3h-6.3zM63.0 134.3h5.8v1.3h-5.8zM214.5 134.3h6.3v1.3h-6.3zM62.5 135.3h5.3v1.3h-5.3zM215.0 135.3h6.3v1.3h-6.3zM61.5 136.3h5.3v1.3h-5.3zM216.0 136.3h5.8v1.3h-5.8zM60.5 137.3h5.8v1.3h-5.8zM216.5 137.3h5.8v1.3h-5.8zM60.0 138.3h5.3v1.3h-5.3zM217.0 138.3h5.8v1.3h-5.8zM59.0 139.3h5.8v1.3h-5.8zM217.5 139.3h5.8v1.3h-5.8zM58.5 140.3h5.3v1.3h-5.3zM217.5 140.3h6.3v1.3h-6.3zM58.0 141.3h5.3v1.3h-5.3zM218.0 141.3h5.8v1.3h-5.8zM57.0 142.3h5.3v1.3h-5.3zM218.5 142.3h5.8v1.3h-5.8zM56.5 143.3h5.3v1.3h-5.3zM218.5 143.3h5.8v1.3h-5.8zM56.0 144.3h5.3v1.3h-5.3zM219.0 144.3h5.8v1.3h-5.8zM55.0 145.3h5.8v1.3h-5.8zM219.0 145.3h5.8v1.3h-5.8zM54.5 146.3h5.3v1.3h-5.3zM219.5 146.3h5.8v1.3h-5.8zM54.0 147.3h5.3v1.3h-5.3zM219.5 147.3h5.8v1.3h-5.8zM53.5 148.3h5.3v1.3h-5.3zM219.5 148.3h5.8v1.3h-5.8zM53.0 149.3h5.3v1.3h-5.3zM220.0 149.3h5.3v1.3h-5.3zM52.5 150.3h5.3v1.3h-5.3zM220.0 150.3h5.3v1.3h-5.3zM51.5 151.3h5.8v1.3h-5.8zM220.0 151.3h5.8v1.3h-5.8zM51.5 152.3h5.3v1.3h-5.3zM220.0 152.3h5.3v1.3h-5.3zM51.0 153.3h5.8v1.3h-5.8zM220.0 153.3h5.3v1.3h-5.3zM50.5 154.3h5.8v1.3h-5.8zM219.5 154.3h5.8v1.3h-5.8zM50.0 155.3h5.8v1.3h-5.8zM219.5 155.3h5.8v1.3h-5.8zM49.5 156.3h5.8v1.3h-5.8zM219.5 156.3h5.8v1.3h-5.8zM49.0 157.3h6.3v1.3h-6.3zM219.0 157.3h5.8v1.3h-5.8zM49.0 158.3h5.8v1.3h-5.8zM219.0 158.3h5.8v1.3h-5.8zM48.5 159.3h6.3v1.3h-6.3zM218.5 159.3h5.8v1.3h-5.8zM48.5 160.3h6.3v1.3h-6.3zM218.5 160.3h5.8v1.3h-5.8zM48.0 161.3h6.3v1.3h-6.3zM218.0 161.3h5.8v1.3h-5.8zM48.0 162.3h6.3v1.3h-6.3zM217.5 162.3h5.8v1.3h-5.8zM47.5 163.3h6.8v1.3h-6.8zM217.0 163.3h5.8v1.3h-5.8zM47.5 164.3h6.8v1.3h-6.8zM216.5 164.3h5.8v1.3h-5.8zM47.5 165.3h6.8v1.3h-6.8zM216.0 165.3h5.8v1.3h-5.8zM47.5 166.3h6.8v1.3h-6.8zM215.5 166.3h5.8v1.3h-5.8zM47.5 167.3h6.8v1.3h-6.8zM215.0 167.3h5.8v1.3h-5.8zM47.5 168.3h7.3v1.3h-7.3zM214.0 168.3h6.3v1.3h-6.3zM47.5 169.3h7.3v1.3h-7.3zM213.5 169.3h5.8v1.3h-5.8zM48.0 170.3h7.3v1.3h-7.3zM212.5 170.3h6.3v1.3h-6.3zM48.0 171.3h7.3v1.3h-7.3zM212.0 171.3h5.8v1.3h-5.8zM48.5 172.3h7.3v1.3h-7.3zM211.0 172.3h6.3v1.3h-6.3zM48.5 173.3h7.8v1.3h-7.8zM210.0 173.3h6.3v1.3h-6.3zM49.0 174.3h7.8v1.3h-7.8zM209.0 174.3h6.3v1.3h-6.3zM49.5 175.3h8.3v1.3h-8.3zM208.0 175.3h6.3v1.3h-6.3zM50.0 176.3h8.3v1.3h-8.3zM207.0 176.3h6.3v1.3h-6.3zM51.0 177.3h8.3v1.3h-8.3zM205.5 177.3h6.8v1.3h-6.8zM51.5 178.3h8.8v1.3h-8.8zM204.5 178.3h6.8v1.3h-6.8zM52.5 179.3h8.8v1.3h-8.8zM203.0 179.3h6.8v1.3h-6.8zM53.5 180.3h9.3v1.3h-9.3zM201.5 180.3h7.3v1.3h-7.3zM54.5 181.3h9.8v1.3h-9.8zM200.0 181.3h7.3v1.3h-7.3zM55.5 182.3h10.3v1.3h-10.3zM198.0 182.3h7.8v1.3h-7.8zM57.0 183.3h10.3v1.3h-10.3zM196.5 183.3h7.8v1.3h-7.8zM58.5 184.3h10.8v1.3h-10.8zM194.5 184.3h7.8v1.3h-7.8zM60.0 185.3h11.3v1.3h-11.3zM192.5 185.3h8.3v1.3h-8.3zM62.0 186.3h11.8v1.3h-11.8zM190.0 186.3h8.8v1.3h-8.8zM64.0 187.3h12.3v1.3h-12.3zM188.0 187.3h8.8v1.3h-8.8zM66.5 188.3h12.8v1.3h-12.8zM185.0 188.3h9.8v1.3h-9.8zM69.0 189.3h13.8v1.3h-13.8zM182.5 189.3h9.8v1.3h-9.8zM72.0 190.3h14.8v1.3h-14.8zM179.0 190.3h10.8v1.3h-10.8zM75.5 191.3h15.3v1.3h-15.3zM175.5 191.3h11.3v1.3h-11.3zM79.0 192.3h16.8v1.3h-16.8zM171.0 192.3h12.8v1.3h-12.8zM83.0 193.3h18.8v1.3h-18.8zM166.0 193.3h14.8v1.3h-14.8zM87.5 194.3h21.8v1.3h-21.8zM159.5 194.3h17.3v1.3h-17.3zM93.0 195.3h26.8v1.3h-26.8zM150.0 195.3h22.3v1.3h-22.3zM99.5 196.3h67.3v1.3h-67.3zM107.5 197.3h52.8v1.3h-52.8zM119.5 198.3h30.3v1.3h-30.3z"/>
<path fill="#a8224e" d="M131.5 99.3h18.8v1.3h-18.8zM124.5 100.3h32.8v1.3h-32.8zM120.0 101.3h42.3v1.3h-42.3zM116.5 102.3h49.8v1.3h-49.8zM113.0 103.3h16.3v1.3h-16.3zM152.0 103.3h17.8v1.3h-17.8zM110.5 104.3h13.3v1.3h-13.3zM158.0 104.3h14.8v1.3h-14.8zM107.5 105.3h11.8v1.3h-11.8zM162.5 105.3h12.8v1.3h-12.8zM105.5 106.3h10.3v1.3h-10.3zM166.0 106.3h11.8v1.3h-11.8zM103.0 107.3h9.8v1.3h-9.8zM169.5 107.3h10.8v1.3h-10.8zM101.0 108.3h9.3v1.3h-9.3zM172.0 108.3h10.8v1.3h-10.8zM99.0 109.3h8.8v1.3h-8.8zM175.0 109.3h9.8v1.3h-9.8zM97.5 110.3h8.3v1.3h-8.3zM177.0 110.3h9.8v1.3h-9.8zM95.5 111.3h7.8v1.3h-7.8zM179.5 111.3h9.3v1.3h-9.3zM94.0 112.3h7.8v1.3h-7.8zM181.5 112.3h8.8v1.3h-8.8zM92.5 113.3h7.3v1.3h-7.3zM183.5 113.3h8.8v1.3h-8.8zM91.0 114.3h6.8v1.3h-6.8zM185.5 114.3h8.3v1.3h-8.3zM89.5 115.3h6.8v1.3h-6.8zM187.0 115.3h8.3v1.3h-8.3zM88.0 116.3h6.8v1.3h-6.8zM189.0 116.3h7.8v1.3h-7.8zM86.5 117.3h6.8v1.3h-6.8zM190.5 117.3h7.8v1.3h-7.8zM85.0 118.3h6.8v1.3h-6.8zM192.0 118.3h7.8v1.3h-7.8zM84.0 119.3h6.3v1.3h-6.3zM193.5 119.3h7.3v1.3h-7.3zM82.5 120.3h6.3v1.3h-6.3zM195.0 120.3h7.3v1.3h-7.3zM81.5 121.3h6.3v1.3h-6.3zM196.0 121.3h7.3v1.3h-7.3zM80.0 122.3h6.3v1.3h-6.3zM197.5 122.3h6.8v1.3h-6.8zM79.0 123.3h6.3v1.3h-6.3zM198.5 123.3h7.3v1.3h-7.3zM78.0 124.3h5.8v1.3h-5.8zM199.5 124.3h7.3v1.3h-7.3zM77.0 125.3h5.8v1.3h-5.8zM201.0 125.3h6.8v1.3h-6.8zM76.0 126.3h5.8v1.3h-5.8zM202.0 126.3h6.8v1.3h-6.8zM75.0 127.3h5.8v1.3h-5.8zM203.0 127.3h6.8v1.3h-6.8zM74.0 128.3h5.3v1.3h-5.3zM204.0 128.3h6.3v1.3h-6.3zM73.0 129.3h5.3v1.3h-5.3zM205.0 129.3h6.3v1.3h-6.3zM72.0 130.3h5.3v1.3h-5.3zM205.5 130.3h6.8v1.3h-6.8zM71.0 131.3h5.8v1.3h-5.8zM206.5 131.3h6.3v1.3h-6.3zM70.0 132.3h5.8v1.3h-5.8zM207.0 132.3h6.8v1.3h-6.8zM69.0 133.3h5.8v1.3h-5.8zM208.0 133.3h6.3v1.3h-6.3zM68.5 134.3h5.3v1.3h-5.3zM208.5 134.3h6.3v1.3h-6.3zM67.5 135.3h5.3v1.3h-5.3zM209.5 135.3h5.8v1.3h-5.8zM66.5 136.3h5.8v1.3h-5.8zM210.0 136.3h6.3v1.3h-6.3zM66.0 137.3h5.3v1.3h-5.3zM210.5 137.3h6.3v1.3h-6.3zM65.0 138.3h5.8v1.3h-5.8zM211.0 138.3h6.3v1.3h-6.3zM64.5 139.3h5.3v1.3h-5.3zM211.5 139.3h6.3v1.3h-6.3zM63.5 140.3h5.8v1.3h-5.8zM212.0 140.3h5.8v1.3h-5.8zM63.0 141.3h5.3v1.3h-5.3zM212.5 141.3h5.8v1.3h-5.8zM62.0 142.3h5.8v1.3h-5.8zM212.5 142.3h6.3v1.3h-6.3zM61.5 143.3h5.8v1.3h-5.8zM213.0 143.3h5.8v1.3h-5.8zM61.0 144.3h5.8v1.3h-5.8zM213.5 144.3h5.8v1.3h-5.8zM60.5 145.3h5.3v1.3h-5.3zM213.5 145.3h5.8v1.3h-5.8zM59.5 146.3h5.8v1.3h-5.8zM214.0 146.3h5.8v1.3h-5.8zM59.0 147.3h5.8v1.3h-5.8zM214.0 147.3h5.8v1.3h-5.8zM58.5 148.3h5.8v1.3h-5.8zM214.0 148.3h5.8v1.3h-5.8zM58.0 149.3h5.8v1.3h-5.8zM214.0 149.3h6.3v1.3h-6.3zM57.5 150.3h5.8v1.3h-5.8zM214.0 150.3h6.3v1.3h-6.3zM57.0 151.3h5.8v1.3h-5.8zM214.0 151.3h6.3v1.3h-6.3zM56.5 152.3h6.3v1.3h-6.3zM214.0 152.3h6.3v1.3h-6.3zM56.5 153.3h5.8v1.3h-5.8zM214.0 153.3h6.3v1.3h-6.3zM56.0 154.3h5.8v1.3h-5.8zM214.0 154.3h5.8v1.3h-5.8zM55.5 155.3h6.3v1.3h-6.3zM214.0 155.3h5.8v1.3h-5.8zM55.0 156.3h6.3v1.3h-6.3zM213.5 156.3h6.3v1.3h-6.3zM55.0 157.3h6.3v1.3h-6.3zM213.5 157.3h5.8v1.3h-5.8zM54.5 158.3h6.3v1.3h-6.3zM213.5 158.3h5.8v1.3h-5.8zM54.5 159.3h6.3v1.3h-6.3zM213.0 159.3h5.8v1.3h-5.8zM54.5 160.3h6.3v1.3h-6.3zM212.5 160.3h6.3v1.3h-6.3zM54.0 161.3h6.8v1.3h-6.8zM212.0 161.3h6.3v1.3h-6.3zM54.0 162.3h6.8v1.3h-6.8zM212.0 162.3h5.8v1.3h-5.8zM54.0 163.3h6.8v1.3h-6.8zM211.5 163.3h5.8v1.3h-5.8zM54.0 164.3h6.8v1.3h-6.8zM211.0 164.3h5.8v1.3h-5.8zM54.0 165.3h6.8v1.3h-6.8zM210.0 165.3h6.3v1.3h-6.3zM54.0 166.3h7.3v1.3h-7.3zM209.5 166.3h6.3v1.3h-6.3zM54.0 167.3h7.3v1.3h-7.3zM209.0 167.3h6.3v1.3h-6.3zM54.5 168.3h7.3v1.3h-7.3zM208.0 168.3h6.3v1.3h-6.3zM54.5 169.3h7.8v1.3h-7.8zM207.5 169.3h6.3v1.3h-6.3zM55.0 170.3h7.3v1.3h-7.3zM206.5 170.3h6.3v1.3h-6.3zM55.0 171.3h8.3v1.3h-8.3zM205.5 171.3h6.8v1.3h-6.8zM55.5 172.3h8.3v1.3h-8.3zM204.5 172.3h6.8v1.3h-6.8zM56.0 173.3h8.3v1.3h-8.3zM203.5 173.3h6.8v1.3h-6.8zM56.5 174.3h8.8v1.3h-8.8zM202.5 174.3h6.8v1.3h-6.8zM57.5 175.3h8.8v1.3h-8.8zM201.0 175.3h7.3v1.3h-7.3zM58.0 176.3h9.3v1.3h-9.3zM200.0 176.3h7.3v1.3h-7.3zM59.0 177.3h9.3v1.3h-9.3zM198.5 177.3h7.3v1.3h-7.3zM60.0 178.3h9.8v1.3h-9.8zM197.0 178.3h7.8v1.3h-7.8zM61.0 179.3h9.8v1.3h-9.8zM195.5 179.3h7.8v1.3h-7.8zM62.5 180.3h10.3v1.3h-10.3zM194.0 180.3h7.8v1.3h-7.8zM64.0 181.3h10.3v1.3h-10.3zM192.0 181.3h8.3v1.3h-8.3zM65.5 182.3h10.8v1.3h-10.8zM190.0 182.3h8.3v1.3h-8.3zM67.0 183.3h11.3v1.3h-11.3zM188.0 183.3h8.8v1.3h-8.8zM69.0 184.3h11.8v1.3h-11.8zM185.5 184.3h9.3v1.3h-9.3zM71.0 185.3h12.8v1.3h-12.8zM183.0 185.3h9.8v1.3h-9.8zM73.5 186.3h13.3v1.3h-13.3zM180.5 186.3h9.8v1.3h-9.8zM76.0 187.3h14.3v1.3h-14.3zM177.5 187.3h10.8v1.3h-10.8zM79.0 188.3h15.3v1.3h-15.3zM174.0 188.3h11.3v1.3h-11.3zM82.5 189.3h16.3v1.3h-16.3zM169.5 189.3h13.3v1.3h-13.3zM86.5 190.3h18.3v1.3h-18.3zM165.0 190.3h14.3v1.3h-14.3zM90.5 191.3h21.3v1.3h-21.3zM158.5 191.3h17.3v1.3h-17.3zM95.5 192.3h26.8v1.3h-26.8zM149.0 192.3h22.3v1.3h-22.3zM101.5 193.3h64.8v1.3h-64.8zM109.0 194.3h50.8v1.3h-50.8zM119.5 195.3h30.8v1.3h-30.8z"/>
<path fill="#9f1e4d" d="M129.0 103.3h23.3v1.3h-23.3zM123.5 104.3h34.8v1.3h-34.8zM119.0 105.3h43.8v1.3h-43.8zM115.5 106.3h50.8v1.3h-50.8zM112.5 107.3h15.3v1.3h-15.3zM153.0 107.3h16.8v1.3h-16.8zM110.0 108.3h12.8v1.3h-12.8zM158.5 108.3h13.8v1.3h-13.8zM107.5 109.3h11.3v1.3h-11.3zM162.5 109.3h12.8v1.3h-12.8zM105.5 110.3h10.3v1.3h-10.3zM166.0 110.3h11.3v1.3h-11.3zM103.0 111.3h9.8v1.3h-9.8zM169.0 111.3h10.8v1.3h-10.8zM101.5 112.3h8.8v1.3h-8.8zM171.5 112.3h10.3v1.3h-10.3zM99.5 113.3h8.8v1.3h-8.8zM174.0 113.3h9.8v1.3h-9.8zM97.5 114.3h8.3v1.3h-8.3zM176.5 114.3h9.3v1.3h-9.3zM96.0 115.3h7.8v1.3h-7.8zM178.5 115.3h8.8v1.3h-8.8zM94.5 116.3h7.3v1.3h-7.3zM180.5 116.3h8.8v1.3h-8.8zM93.0 117.3h7.3v1.3h-7.3zM182.0 117.3h8.8v1.3h-8.8zM91.5 118.3h7.3v1.3h-7.3zM184.0 118.3h8.3v1.3h-8.3zM90.0 119.3h6.8v1.3h-6.8zM185.5 119.3h8.3v1.3h-8.3zM88.5 120.3h6.8v1.3h-6.8zM187.0 120.3h8.3v1.3h-8.3zM87.5 121.3h6.3v1.3h-6.3zM188.5 121.3h7.8v1.3h-7.8zM86.0 122.3h6.8v1.3h-6.8zM190.0 122.3h7.8v1.3h-7.8zM85.0 123.3h6.3v1.3h-6.3zM191.5 123.3h7.3v1.3h-7.3zM83.5 124.3h6.3v1.3h-6.3zM192.5 124.3h7.3v1.3h-7.3zM82.5 125.3h6.3v1.3h-6.3zM194.0 125.3h7.3v1.3h-7.3zM81.5 126.3h6.3v1.3h-6.3zM195.0 126.3h7.3v1.3h-7.3zM80.5 127.3h5.8v1.3h-5.8zM196.0 127.3h7.3v1.3h-7.3zM79.0 128.3h6.3v1.3h-6.3zM197.0 128.3h7.3v1.3h-7.3zM78.0 129.3h6.3v1.3h-6.3zM198.0 129.3h7.3v1.3h-7.3zM77.0 130.3h6.3v1.3h-6.3zM199.0 130.3h6.8v1.3h-6.8zM76.5 131.3h5.8v1.3h-5.8zM200.0 131.3h6.8v1.3h-6.8zM75.5 132.3h5.8v1.3h-5.8zM201.0 132.3h6.3v1.3h-6.3zM74.5 133.3h5.8v1.3h-5.8zM201.5 133.3h6.8v1.3h-6.8zM73.5 134.3h5.8v1.3h-5.8zM202.5 134.3h6.3v1.3h-6.3zM72.5 135.3h6.3v1.3h-6.3zM203.0 135.3h6.8v1.3h-6.8zM72.0 136.3h5.8v1.3h-5.8zM204.0 136.3h6.3v1.3h-6.3zM71.0 137.3h5.8v1.3h-5.8zM204.5 137.3h6.3v1.3h-6.3zM70.5 138.3h5.8v1.3h-5.8zM205.0 138.3h6.3v1.3h-6.3zM69.5 139.3h5.8v1.3h-5.8zM205.5 139.3h6.3v1.3h-6.3zM69.0 140.3h5.8v1.3h-5.8zM206.0 140.3h6.3v1.3h-6.3zM68.0 141.3h5.8v1.3h-5.8zM206.5 141.3h6.3v1.3h-6.3zM67.5 142.3h5.8v1.3h-5.8zM207.0 142.3h5.8v1.3h-5.8zM67.0 143.3h5.8v1.3h-5.8zM207.0 143.3h6.3v1.3h-6.3zM66.5 144.3h5.8v1.3h-5.8zM207.5 144.3h6.3v1.3h-6.3zM65.5 145.3h6.3v1.3h-6.3zM207.5 145.3h6.3v1.3h-6.3zM65.0 146.3h5.8v1.3h-5.8zM208.0 146.3h6.3v1.3h-6.3zM64.5 147.3h5.8v1.3h-5.8zM208.0 147.3h6.3v1.3h-6.3zM64.0 148.3h6.3v1.3h-6.3zM208.5 148.3h5.8v1.3h-5.8zM63.5 149.3h6.3v1.3h-6.3zM208.5 149.3h5.8v1.3h-5.8zM63.0 150.3h6.3v1.3h-6.3zM208.5 150.3h5.8v1.3h-5.8zM62.5 151.3h6.3v1.3h-6.3zM208.5 151.3h5.8v1.3h-5.8zM62.5 152.3h5.8v1.3h-5.8zM208.5 152.3h5.8v1.3h-5.8zM62.0 153.3h6.3v1.3h-6.3zM208.5 153.3h5.8v1.3h-5.8zM61.5 154.3h6.3v1.3h-6.3zM208.5 154.3h5.8v1.3h-5.8zM61.5 155.3h6.3v1.3h-6.3zM208.0 155.3h6.3v1.3h-6.3zM61.0 156.3h6.3v1.3h-6.3zM208.0 156.3h5.8v1.3h-5.8zM61.0 157.3h6.3v1.3h-6.3zM207.5 157.3h6.3v1.3h-6.3zM60.5 158.3h6.8v1.3h-6.8zM207.5 158.3h6.3v1.3h-6.3zM60.5 159.3h6.8v1.3h-6.8zM207.0 159.3h6.3v1.3h-6.3zM60.5 160.3h6.8v1.3h-6.8zM206.5 160.3h6.3v1.3h-6.3zM60.5 161.3h6.8v1.3h-6.8zM206.5 161.3h5.8v1.3h-5.8zM60.5 162.3h6.8v1.3h-6.8zM206.0 162.3h6.3v1.3h-6.3zM60.5 163.3h6.8v1.3h-6.8zM205.5 163.3h6.3v1.3h-6.3zM60.5 164.3h7.3v1.3h-7.3zM204.5 164.3h6.8v1.3h-6.8zM60.5 165.3h7.3v1.3h-7.3zM204.0 165.3h6.3v1.3h-6.3zM61.0 166.3h7.3v1.3h-7.3zM203.5 166.3h6.3v1.3h-6.3zM61.0 167.3h7.8v1.3h-7.8zM202.5 167.3h6.8v1.3h-6.8zM61.5 168.3h7.8v1.3h-7.8zM202.0 168.3h6.3v1.3h-6.3zM62.0 169.3h7.8v1.3h-7.8zM201.0 169.3h6.8v1.3h-6.8zM62.0 170.3h8.3v1.3h-8.3zM200.0 170.3h6.8v1.3h-6.8zM63.0 171.3h7.8v1.3h-7.8zM199.0 171.3h6.8v1.3h-6.8zM63.5 172.3h8.3v1.3h-8.3zM198.0 172.3h6.8v1.3h-6.8zM64.0 173.3h8.8v1.3h-8.8zM196.5 173.3h7.3v1.3h-7.3zM65.0 174.3h8.8v1.3h-8.8zM195.5 174.3h7.3v1.3h-7.3zM66.0 175.3h8.8v1.3h-8.8zM194.0 175.3h7.3v1.3h-7.3zM67.0 176.3h9.3v1.3h-9.3zM192.5 176.3h7.8v1.3h-7.8zM68.0 177.3h9.8v1.3h-9.8zM191.0 177.3h7.8v1.3h-7.8zM69.5 178.3h9.8v1.3h-9.8zM189.0 178.3h8.3v1.3h-8.3zM70.5 179.3h10.8v1.3h-10.8zM187.5 179.3h8.3v1.3h-8.3zM72.5 180.3h10.8v1.3h-10.8zM185.5 180.3h8.8v1.3h-8.8zM74.0 181.3h11.8v1.3h-11.8zM183.0 181.3h9.3v1.3h-9.3zM76.0 182.3h12.3v1.3h-12.3zM180.5 182.3h9.8v1.3h-9.8zM78.0 183.3h12.8v1.3h-12.8zM178.0 183.3h10.3v1.3h-10.3zM80.5 184.3h13.8v1.3h-13.8zM175.0 184.3h10.8v1.3h-10.8zM83.5 185.3h14.8v1.3h-14.8zM171.5 185.3h11.8v1.3h-11.8zM86.5 186.3h15.8v1.3h-15.8zM167.5 186.3h13.3v1.3h-13.3zM90.0 187.3h17.8v1.3h-17.8zM163.0 187.3h14.8v1.3h-14.8zM94.0 188.3h20.8v1.3h-20.8zM156.5 188.3h17.8v1.3h-17.8zM98.5 189.3h27.3v1.3h-27.3zM146.5 189.3h23.3v1.3h-23.3zM104.5 190.3h60.8v1.3h-60.8zM111.5 191.3h47.3v1.3h-47.3zM122.0 192.3h27.3v1.3h-27.3z"/>
<path fill="#951b4b" d="M127.5 107.3h25.8v1.3h-25.8zM122.5 108.3h36.3v1.3h-36.3zM118.5 109.3h44.3v1.3h-44.3zM115.5 110.3h19.8v1.3h-19.8zM145.0 110.3h21.3v1.3h-21.3zM112.5 111.3h14.8v1.3h-14.8zM153.5 111.3h15.8v1.3h-15.8zM110.0 112.3h12.3v1.3h-12.3zM158.5 112.3h13.3v1.3h-13.3zM108.0 113.3h10.8v1.3h-10.8zM162.0 113.3h12.3v1.3h-12.3zM105.5 114.3h10.3v1.3h-10.3zM165.5 114.3h11.3v1.3h-11.3zM103.5 115.3h9.8v1.3h-9.8zM168.0 115.3h10.8v1.3h-10.8zM101.5 116.3h9.3v1.3h-9.3zM170.5 116.3h10.3v1.3h-10.3zM100.0 117.3h8.3v1.3h-8.3zM173.0 117.3h9.3v1.3h-9.3zM98.5 118.3h7.8v1.3h-7.8zM175.0 118.3h9.3v1.3h-9.3zM96.5 119.3h8.3v1.3h-8.3zM177.0 119.3h8.8v1.3h-8.8zM95.0 120.3h7.8v1.3h-7.8zM179.0 120.3h8.3v1.3h-8.3zM93.5 121.3h7.8v1.3h-7.8zM180.5 121.3h8.3v1.3h-8.3zM92.5 122.3h6.8v1.3h-6.8zM182.5 122.3h7.8v1.3h-7.8zM91.0 123.3h6.8v1.3h-6.8zM184.0 123.3h7.8v1.3h-7.8zM89.5 124.3h7.3v1.3h-7.3zM185.5 124.3h7.3v1.3h-7.3zM88.5 125.3h6.8v1.3h-6.8zM186.5 125.3h7.8v1.3h-7.8zM87.5 126.3h6.3v1.3h-6.3zM188.0 126.3h7.3v1.3h-7.3zM86.0 127.3h6.8v1.3h-6.8zM189.0 127.3h7.3v1.3h-7.3zM85.0 128.3h6.3v1.3h-6.3zM190.5 128.3h6.8v1.3h-6.8zM84.0 129.3h6.3v1.3h-6.3zM191.5 129.3h6.8v1.3h-6.8zM83.0 130.3h6.3v1.3h-6.3zM192.5 130.3h6.8v1.3h-6.8zM82.0 131.3h6.3v1.3h-6.3zM193.5 131.3h6.8v1.3h-6.8zM81.0 132.3h6.3v1.3h-6.3zM194.5 132.3h6.8v1.3h-6.8zM80.0 133.3h6.3v1.3h-6.3zM195.0 133.3h6.8v1.3h-6.8zM79.0 134.3h6.3v1.3h-6.3zM196.0 134.3h6.8v1.3h-6.8zM78.5 135.3h5.8v1.3h-5.8zM197.0 135.3h6.3v1.3h-6.3zM77.5 136.3h5.8v1.3h-5.8zM197.5 136.3h6.8v1.3h-6.8zM76.5 137.3h6.3v1.3h-6.3zM198.0 137.3h6.8v1.3h-6.8zM76.0 138.3h5.8v1.3h-5.8zM199.0 138.3h6.3v1.3h-6.3zM75.0 139.3h6.3v1.3h-6.3zM199.5 139.3h6.3v1.3h-6.3zM74.5 140.3h5.8v1.3h-5.8zM200.0 140.3h6.3v1.3h-6.3zM73.5 141.3h6.3v1.3h-6.3zM200.5 141.3h6.3v1.3h-6.3zM73.0 142.3h5.8v1.3h-5.8zM200.5 142.3h6.8v1.3h-6.8zM72.5 143.3h5.8v1.3h-5.8zM201.0 143.3h6.3v1.3h-6.3zM72.0 144.3h5.8v1.3h-5.8zM201.5 144.3h6.3v1.3h-6.3zM71.5 145.3h5.8v1.3h-5.8zM202.0 145.3h5.8v1.3h-5.8zM70.5 146.3h6.3v1.3h-6.3zM202.0 146.3h6.3v1.3h-6.3zM70.0 147.3h6.3v1.3h-6.3zM202.0 147.3h6.3v1.3h-6.3zM70.0 148.3h5.8v1.3h-5.8zM202.5 148.3h6.3v1.3h-6.3zM69.5 149.3h5.8v1.3h-5.8zM202.5 149.3h6.3v1.3h-6.3zM69.0 150.3h6.3v1.3h-6.3zM202.5 150.3h6.3v1.3h-6.3zM68.5 151.3h6.3v1.3h-6.3zM202.5 151.3h6.3v1.3h-6.3zM68.0 152.3h6.3v1.3h-6.3zM202.5 152.3h6.3v1.3h-6.3zM68.0 153.3h6.3v1.3h-6.3zM202.5 153.3h6.3v1.3h-6.3zM67.5 154.3h6.3v1.3h-6.3zM202.5 154.3h6.3v1.3h-6.3zM67.5 155.3h6.3v1.3h-6.3zM202.0 155.3h6.3v1.3h-6.3zM67.0 156.3h6.8v1.3h-6.8zM202.0 156.3h6.3v1.3h-6.3zM67.0 157.3h6.8v1.3h-6.8zM201.5 157.3h6.3v1.3h-6.3zM67.0 158.3h6.8v1.3h-6.8zM201.5 158.3h6.3v1.3h-6.3zM67.0 159.3h6.8v1.3h-6.8zM201.0 159.3h6.3v1.3h-6.3zM67.0 160.3h6.8v1.3h-6.8zM200.5 160.3h6.3v1.3h-6.3zM67.0 161.3h6.8v1.3h-6.8zM200.0 161.3h6.8v1.3h-6.8zM67.0 162.3h6.8v1.3h-6.8zM199.5 162.3h6.8v1.3h-6.8zM67.0 163.3h7.3v1.3h-7.3zM199.0 163.3h6.8v1.3h-6.8zM67.5 164.3h7.3v1.3h-7.3zM198.5 164.3h6.3v1.3h-6.3zM67.5 165.3h7.3v1.3h-7.3zM197.5 165.3h6.8v1.3h-6.8zM68.0 166.3h7.3v1.3h-7.3zM197.0 166.3h6.8v1.3h-6.8zM68.5 167.3h7.3v1.3h-7.3zM196.0 167.3h6.8v1.3h-6.8zM69.0 168.3h7.8v1.3h-7.8zM195.0 168.3h7.3v1.3h-7.3zM69.5 169.3h7.8v1.3h-7.8zM194.0 169.3h7.3v1.3h-7.3zM70.0 170.3h8.3v1.3h-8.3zM193.0 170.3h7.3v1.3h-7.3zM70.5 171.3h8.8v1.3h-8.8zM192.0 171.3h7.3v1.3h-7.3zM71.5 172.3h8.8v1.3h-8.8zM190.5 172.3h7.8v1.3h-7.8zM72.5 173.3h8.8v1.3h-8.8zM189.0 173.3h7.8v1.3h-7.8zM73.5 174.3h9.3v1.3h-9.3zM187.5 174.3h8.3v1.3h-8.3zM74.5 175.3h9.8v1.3h-9.8zM186.0 175.3h8.3v1.3h-8.3zM76.0 176.3h10.3v1.3h-10.3zM184.5 176.3h8.3v1.3h-8.3zM77.5 177.3h10.3v1.3h-10.3zM182.5 177.3h8.8v1.3h-8.8zM79.0 178.3h11.3v1.3h-11.3zM180.5 178.3h8.8v1.3h-8.8zM81.0 179.3h11.8v1.3h-11.8zM178.0 179.3h9.8v1.3h-9.8zM83.0 180.3h12.3v1.3h-12.3zM175.5 180.3h10.3v1.3h-10.3zM85.5 181.3h12.8v1.3h-12.8zM172.5 181.3h10.8v1.3h-10.8zM88.0 182.3h13.8v1.3h-13.8zM169.0 182.3h11.8v1.3h-11.8zM90.5 183.3h15.8v1.3h-15.8zM165.0 183.3h13.3v1.3h-13.3zM94.0 184.3h17.3v1.3h-17.3zM160.5 184.3h14.8v1.3h-14.8zM98.0 185.3h20.3v1.3h-20.3zM154.0 185.3h17.8v1.3h-17.8zM102.0 186.3h29.8v1.3h-29.8zM141.0 186.3h26.8v1.3h-26.8zM107.5 187.3h55.8v1.3h-55.8zM114.5 188.3h42.3v1.3h-42.3zM125.5 189.3h21.3v1.3h-21.3z"/>
<path fill="#8a1848" d="M135.0 110.3h10.3v1.3h-10.3zM127.0 111.3h26.8v1.3h-26.8zM122.0 112.3h36.8v1.3h-36.8zM118.5 113.3h43.8v1.3h-43.8zM115.5 114.3h18.8v1.3h-18.8zM146.0 114.3h19.8v1.3h-19.8zM113.0 115.3h13.8v1.3h-13.8zM153.5 115.3h14.8v1.3h-14.8zM110.5 116.3h12.3v1.3h-12.3zM158.0 116.3h12.8v1.3h-12.8zM108.0 117.3h11.3v1.3h-11.3zM161.5 117.3h11.8v1.3h-11.8zM106.0 118.3h10.3v1.3h-10.3zM164.5 118.3h10.8v1.3h-10.8zM104.5 119.3h9.3v1.3h-9.3zM167.0 119.3h10.3v1.3h-10.3zM102.5 120.3h8.8v1.3h-8.8zM169.5 120.3h9.8v1.3h-9.8zM101.0 121.3h8.3v1.3h-8.3zM171.5 121.3h9.3v1.3h-9.3zM99.0 122.3h8.3v1.3h-8.3zM173.5 122.3h9.3v1.3h-9.3zM97.5 123.3h7.8v1.3h-7.8zM175.5 123.3h8.8v1.3h-8.8zM96.5 124.3h7.3v1.3h-7.3zM177.0 124.3h8.8v1.3h-8.8zM95.0 125.3h7.3v1.3h-7.3zM179.0 125.3h7.8v1.3h-7.8zM93.5 126.3h7.3v1.3h-7.3zM180.5 126.3h7.8v1.3h-7.8zM92.5 127.3h6.8v1.3h-6.8zM181.5 127.3h7.8v1.3h-7.8zM91.0 128.3h6.8v1.3h-6.8zM183.0 128.3h7.8v1.3h-7.8zM90.0 129.3h6.8v1.3h-6.8zM184.0 129.3h7.8v1.3h-7.8zM89.0 130.3h6.8v1.3h-6.8zM185.5 130.3h7.3v1.3h-7.3zM88.0 131.3h6.3v1.3h-6.3zM186.5 131.3h7.3v1.3h-7.3zM87.0 132.3h6.3v1.3h-6.3zM187.5 132.3h7.3v1.3h-7.3zM86.0 133.3h6.3v1.3h-6.3zM188.5 133.3h6.8v1.3h-6.8zM85.0 134.3h6.3v1.3h-6.3zM189.5 134.3h6.8v1.3h-6.8zM84.0 135.3h6.3v1.3h-6.3zM190.0 135.3h7.3v1.3h-7.3zM83.0 136.3h6.3v1.3h-6.3zM191.0 136.3h6.8v1.3h-6.8zM82.5 137.3h6.3v1.3h-6.3zM191.5 137.3h6.8v1.3h-6.8zM81.5 138.3h6.3v1.3h-6.3zM192.5 138.3h6.8v1.3h-6.8zM81.0 139.3h5.8v1.3h-5.8zM193.0 139.3h6.8v1.3h-6.8zM80.0 140.3h6.3v1.3h-6.3zM193.5 140.3h6.8v1.3h-6.8zM79.5 141.3h5.8v1.3h-5.8zM194.0 141.3h6.8v1.3h-6.8zM78.5 142.3h6.3v1.3h-6.3zM194.5 142.3h6.3v1.3h-6.3zM78.0 143.3h6.3v1.3h-6.3zM195.0 143.3h6.3v1.3h-6.3zM77.5 144.3h6.3v1.3h-6.3zM195.5 144.3h6.3v1.3h-6.3zM77.0 145.3h6.3v1.3h-6.3zM195.5 145.3h6.8v1.3h-6.8zM76.5 146.3h6.3v1.3h-6.3zM196.0 146.3h6.3v1.3h-6.3zM76.0 147.3h6.3v1.3h-6.3zM196.0 147.3h6.3v1.3h-6.3zM75.5 148.3h6.3v1.3h-6.3zM196.5 148.3h6.3v1.3h-6.3zM75.0 149.3h6.3v1.3h-6.3zM196.5 149.3h6.3v1.3h-6.3zM75.0 150.3h6.3v1.3h-6.3zM196.5 150.3h6.3v1.3h-6.3zM74.5 151.3h6.3v1.3h-6.3zM196.5 151.3h6.3v1.3h-6.3zM74.0 152.3h6.3v1.3h-6.3zM196.5 152.3h6.3v1.3h-6.3zM74.0 153.3h6.3v1.3h-6.3zM196.5 153.3h6.3v1.3h-6.3zM73.5 154.3h6.8v1.3h-6.8zM196.5 154.3h6.3v1.3h-6.3zM73.5 155.3h6.8v1.3h-6.8zM196.0 155.3h6.3v1.3h-6.3zM73.5 156.3h6.3v1.3h-6.3zM196.0 156.3h6.3v1.3h-6.3zM73.5 157.3h6.3v1.3h-6.3zM195.5 157.3h6.3v1.3h-6.3zM73.5 158.3h6.8v1.3h-6.8zM195.0 158.3h6.8v1.3h-6.8zM73.5 159.3h6.8v1.3h-6.8zM195.0 159.3h6.3v1.3h-6.3zM73.5 160.3h6.8v1.3h-6.8zM194.5 160.3h6.3v1.3h-6.3zM73.5 161.3h7.3v1.3h-7.3zM193.5 161.3h6.8v1.3h-6.8zM73.5 162.3h7.3v1.3h-7.3zM193.0 162.3h6.8v1.3h-6.8zM74.0 163.3h7.3v1.3h-7.3zM192.5 163.3h6.8v1.3h-6.8zM74.5 164.3h7.3v1.3h-7.3zM191.5 164.3h7.3v1.3h-7.3zM74.5 165.3h7.8v1.3h-7.8zM191.0 165.3h6.8v1.3h-6.8zM75.0 166.3h8.3v1.3h-8.3zM190.0 166.3h7.3v1.3h-7.3zM75.5 167.3h8.3v1.3h-8.3zM189.0 167.3h7.3v1.3h-7.3zM76.5 168.3h8.3v1.3h-8.3zM188.0 168.3h7.3v1.3h-7.3zM77.0 169.3h8.8v1.3h-8.8zM187.0 169.3h7.3v1.3h-7.3zM78.0 170.3h8.8v1.3h-8.8zM185.5 170.3h7.8v1.3h-7.8zM79.0 171.3h8.8v1.3h-8.8zM184.0 171.3h8.3v1.3h-8.3zM80.0 172.3h9.3v1.3h-9.3zM182.5 172.3h8.3v1.3h-8.3zM81.0 173.3h9.8v1.3h-9.8zM181.0 173.3h8.3v1.3h-8.3zM82.5 174.3h10.3v1.3h-10.3zM179.0 174.3h8.8v1.3h-8.8zM84.0 175.3h10.8v1.3h-10.8zM177.0 175.3h9.3v1.3h-9.3zM86.0 176.3h11.3v1.3h-11.3zM175.0 176.3h9.8v1.3h-9.8zM87.5 177.3h12.3v1.3h-12.3zM172.5 177.3h10.3v1.3h-10.3zM90.0 178.3h12.8v1.3h-12.8zM169.5 178.3h11.3v1.3h-11.3zM92.5 179.3h13.8v1.3h-13.8zM166.0 179.3h12.3v1.3h-12.3zM95.0 180.3h15.3v1.3h-15.3zM162.5 180.3h13.3v1.3h-13.3zM98.0 181.3h17.3v1.3h-17.3zM157.5 181.3h15.3v1.3h-15.3zM101.5 182.3h21.3v1.3h-21.3zM150.5 182.3h18.8v1.3h-18.8zM106.0 183.3h59.3v1.3h-59.3zM111.0 184.3h49.8v1.3h-49.8zM118.0 185.3h36.3v1.3h-36.3zM131.5 186.3h9.8v1.3h-9.8z"/>
<path fill="#801545" d="M134.0 114.3h12.3v1.3h-12.3zM126.5 115.3h27.3v1.3h-27.3zM122.5 116.3h35.8v1.3h-35.8zM119.0 117.3h42.8v1.3h-42.8zM116.0 118.3h18.3v1.3h-18.3zM145.5 118.3h19.3v1.3h-19.3zM113.5 119.3h13.8v1.3h-13.8zM152.5 119.3h14.8v1.3h-14.8zM111.0 120.3h12.3v1.3h-12.3zM157.0 120.3h12.8v1.3h-12.8zM109.0 121.3h10.8v1.3h-10.8zM160.5 121.3h11.3v1.3h-11.3zM107.0 122.3h9.8v1.3h-9.8zM163.0 122.3h10.8v1.3h-10.8zM105.0 123.3h9.8v1.3h-9.8zM165.5 123.3h10.3v1.3h-10.3zM103.5 124.3h8.8v1.3h-8.8zM168.0 124.3h9.3v1.3h-9.3zM102.0 125.3h8.3v1.3h-8.3zM170.0 125.3h9.3v1.3h-9.3zM100.5 126.3h8.3v1.3h-8.3zM171.5 126.3h9.3v1.3h-9.3zM99.0 127.3h7.8v1.3h-7.8zM173.5 127.3h8.3v1.3h-8.3zM97.5 128.3h7.8v1.3h-7.8zM175.0 128.3h8.3v1.3h-8.3zM96.5 129.3h7.3v1.3h-7.3zM176.5 129.3h7.8v1.3h-7.8zM95.5 130.3h6.8v1.3h-6.8zM178.0 130.3h7.8v1.3h-7.8zM94.0 131.3h7.3v1.3h-7.3zM179.0 131.3h7.8v1.3h-7.8zM93.0 132.3h6.8v1.3h-6.8zM180.5 132.3h7.3v1.3h-7.3zM92.0 133.3h6.8v1.3h-6.8zM181.5 133.3h7.3v1.3h-7.3zM91.0 134.3h6.8v1.3h-6.8zM182.5 134.3h7.3v1.3h-7.3zM90.0 135.3h6.8v1.3h-6.8zM183.5 135.3h6.8v1.3h-6.8zM89.0 136.3h6.8v1.3h-6.8zM184.0 136.3h7.3v1.3h-7.3zM88.5 137.3h6.3v1.3h-6.3zM185.0 137.3h6.8v1.3h-6.8zM87.5 138.3h6.3v1.3h-6.3zM186.0 138.3h6.8v1.3h-6.8zM86.5 139.3h6.8v1.3h-6.8zM186.5 139.3h6.8v1.3h-6.8zM86.0 140.3h6.3v1.3h-6.3zM187.0 140.3h6.8v1.3h-6.8zM85.0 141.3h6.8v1.3h-6.8zM187.5 141.3h6.8v1.3h-6.8zM84.5 142.3h6.3v1.3h-6.3zM188.0 142.3h6.8v1.3h-6.8zM84.0 143.3h6.3v1.3h-6.3zM188.5 143.3h6.8v1.3h-6.8zM83.5 144.3h6.3v1.3h-6.3zM189.0 144.3h6.8v1.3h-6.8zM83.0 145.3h6.3v1.3h-6.3zM189.5 145.3h6.3v1.3h-6.3zM82.5 146.3h6.3v1.3h-6.3zM189.5 146.3h6.8v1.3h-6.8zM82.0 147.3h6.3v1.3h-6.3zM190.0 147.3h6.3v1.3h-6.3zM81.5 148.3h6.3v1.3h-6.3zM190.0 148.3h6.8v1.3h-6.8zM81.0 149.3h6.8v1.3h-6.8zM190.0 149.3h6.8v1.3h-6.8zM81.0 150.3h6.3v1.3h-6.3zM190.0 150.3h6.8v1.3h-6.8zM80.5 151.3h6.3v1.3h-6.3zM190.0 151.3h6.8v1.3h-6.8zM80.0 152.3h6.8v1.3h-6.8zM190.0 152.3h6.8v1.3h-6.8zM80.0 153.3h6.8v1.3h-6.8zM190.0 153.3h6.8v1.3h-6.8zM80.0 154.3h6.8v1.3h-6.8zM190.0 154.3h6.8v1.3h-6.8zM80.0 155.3h6.8v1.3h-6.8zM189.5 155.3h6.8v1.3h-6.8zM79.5 156.3h7.3v1.3h-7.3zM189.5 156.3h6.8v1.3h-6.8zM79.5 157.3h7.3v1.3h-7.3zM189.0 157.3h6.8v1.3h-6.8zM80.0 158.3h6.8v1.3h-6.8zM188.5 158.3h6.8v1.3h-6.8zM80.0 159.3h7.3v1.3h-7.3zM188.0 159.3h7.3v1.3h-7.3zM80.0 160.3h7.3v1.3h-7.3zM187.5 160.3h7.3v1.3h-7.3zM80.5 161.3h7.3v1.3h-7.3zM187.0 161.3h6.8v1.3h-6.8zM80.5 162.3h7.8v1.3h-7.8zM186.5 162.3h6.8v1.3h-6.8zM81.0 163.3h7.8v1.3h-7.8zM185.5 163.3h7.3v1.3h-7.3zM81.5 164.3h7.8v1.3h-7.8zM184.5 164.3h7.3v1.3h-7.3zM82.0 165.3h8.3v1.3h-8.3zM183.5 165.3h7.8v1.3h-7.8zM83.0 166.3h8.3v1.3h-8.3zM182.5 166.3h7.8v1.3h-7.8zM83.5 167.3h8.8v1.3h-8.8zM181.5 167.3h7.8v1.3h-7.8zM84.5 168.3h8.8v1.3h-8.8zM180.0 168.3h8.3v1.3h-8.3zM85.5 169.3h9.3v1.3h-9.3zM179.0 169.3h8.3v1.3h-8.3zM86.5 170.3h9.8v1.3h-9.8zM177.0 170.3h8.8v1.3h-8.8zM87.5 171.3h10.3v1.3h-10.3zM175.5 171.3h8.8v1.3h-8.8zM89.0 172.3h10.8v1.3h-10.8zM173.5 172.3h9.3v1.3h-9.3zM90.5 173.3h11.3v1.3h-11.3zM171.5 173.3h9.8v1.3h-9.8zM92.5 174.3h11.8v1.3h-11.8zM169.0 174.3h10.3v1.3h-10.3zM94.5 175.3h12.8v1.3h-12.8zM166.0 175.3h11.3v1.3h-11.3zM97.0 176.3h13.8v1.3h-13.8zM163.0 176.3h12.3v1.3h-12.3zM99.5 177.3h15.3v1.3h-15.3zM159.0 177.3h13.8v1.3h-13.8zM102.5 178.3h17.8v1.3h-17.8zM153.5 178.3h16.3v1.3h-16.3zM106.0 179.3h23.8v1.3h-23.8zM144.5 179.3h21.8v1.3h-21.8zM110.0 180.3h52.8v1.3h-52.8zM115.0 181.3h42.8v1.3h-42.8zM122.5 182.3h28.3v1.3h-28.3z"/>
<path fill="#751242" d="M134.0 118.3h11.8v1.3h-11.8zM127.0 119.3h25.8v1.3h-25.8zM123.0 120.3h34.3v1.3h-34.3zM119.5 121.3h41.3v1.3h-41.3zM116.5 122.3h19.8v1.3h-19.8zM143.0 122.3h20.3v1.3h-20.3zM114.5 123.3h14.3v1.3h-14.3zM151.0 123.3h14.8v1.3h-14.8zM112.0 124.3h12.3v1.3h-12.3zM155.0 124.3h13.3v1.3h-13.3zM110.0 125.3h11.3v1.3h-11.3zM158.5 125.3h11.8v1.3h-11.8zM108.5 126.3h9.8v1.3h-9.8zM161.0 126.3h10.8v1.3h-10.8zM106.5 127.3h9.8v1.3h-9.8zM163.5 127.3h10.3v1.3h-10.3zM105.0 128.3h8.8v1.3h-8.8zM165.5 128.3h9.8v1.3h-9.8zM103.5 129.3h8.8v1.3h-8.8zM167.5 129.3h9.3v1.3h-9.3zM102.0 130.3h8.3v1.3h-8.3zM169.5 130.3h8.8v1.3h-8.8zM101.0 131.3h7.8v1.3h-7.8zM171.0 131.3h8.3v1.3h-8.3zM99.5 132.3h7.8v1.3h-7.8zM172.0 132.3h8.8v1.3h-8.8zM98.5 133.3h7.8v1.3h-7.8zM173.5 133.3h8.3v1.3h-8.3zM97.5 134.3h7.3v1.3h-7.3zM175.0 134.3h7.8v1.3h-7.8zM96.5 135.3h7.3v1.3h-7.3zM176.0 135.3h7.8v1.3h-7.8zM95.5 136.3h7.3v1.3h-7.3zM177.0 136.3h7.3v1.3h-7.3zM94.5 137.3h7.3v1.3h-7.3zM178.0 137.3h7.3v1.3h-7.3zM93.5 138.3h7.3v1.3h-7.3zM178.5 138.3h7.8v1.3h-7.8zM93.0 139.3h6.8v1.3h-6.8zM179.5 139.3h7.3v1.3h-7.3zM92.0 140.3h6.8v1.3h-6.8zM180.0 140.3h7.3v1.3h-7.3zM91.5 141.3h6.8v1.3h-6.8zM181.0 141.3h6.8v1.3h-6.8zM90.5 142.3h6.8v1.3h-6.8zM181.5 142.3h6.8v1.3h-6.8zM90.0 143.3h6.8v1.3h-6.8zM182.0 143.3h6.8v1.3h-6.8zM89.5 144.3h6.8v1.3h-6.8zM182.5 144.3h6.8v1.3h-6.8zM89.0 145.3h6.8v1.3h-6.8zM182.5 145.3h7.3v1.3h-7.3zM88.5 146.3h6.8v1.3h-6.8zM183.0 146.3h6.8v1.3h-6.8zM88.0 147.3h6.8v1.3h-6.8zM183.5 147.3h6.8v1.3h-6.8zM87.5 148.3h6.8v1.3h-6.8zM183.5 148.3h6.8v1.3h-6.8zM87.5 149.3h6.8v1.3h-6.8zM183.5 149.3h6.8v1.3h-6.8zM87.0 150.3h6.8v1.3h-6.8zM183.5 150.3h6.8v1.3h-6.8zM86.5 151.3h7.3v1.3h-7.3zM183.5 151.3h6.8v1.3h-6.8zM86.5 152.3h6.8v1.3h-6.8zM183.5 152.3h6.8v1.3h-6.8zM86.5 153.3h6.8v1.3h-6.8zM183.5 153.3h6.8v1.3h-6.8zM86.5 154.3h6.8v1.3h-6.8zM183.5 154.3h6.8v1.3h-6.8zM86.5 155.3h6.8v1.3h-6.8zM183.0 155.3h6.8v1.3h-6.8zM86.5 156.3h7.3v1.3h-7.3zM182.5 156.3h7.3v1.3h-7.3zM86.5 157.3h7.3v1.3h-7.3zM182.0 157.3h7.3v1.3h-7.3zM86.5 158.3h7.8v1.3h-7.8zM181.5 158.3h7.3v1.3h-7.3zM87.0 159.3h7.3v1.3h-7.3zM181.0 159.3h7.3v1.3h-7.3zM87.0 160.3h7.8v1.3h-7.8zM180.5 160.3h7.3v1.3h-7.3zM87.5 161.3h7.8v1.3h-7.8zM180.0 161.3h7.3v1.3h-7.3zM88.0 162.3h8.3v1.3h-8.3zM179.0 162.3h7.8v1.3h-7.8zM88.5 163.3h8.3v1.3h-8.3zM178.0 163.3h7.8v1.3h-7.8zM89.0 164.3h8.8v1.3h-8.8zM177.0 164.3h7.8v1.3h-7.8zM90.0 165.3h8.8v1.3h-8.8zM175.5 165.3h8.3v1.3h-8.3zM91.0 166.3h9.3v1.3h-9.3zM174.5 166.3h8.3v1.3h-8.3zM92.0 167.3h9.3v1.3h-9.3zM173.0 167.3h8.8v1.3h-8.8zM93.0 168.3h10.3v1.3h-10.3zM171.5 168.3h8.8v1.3h-8.8zM94.5 169.3h10.3v1.3h-10.3zM169.5 169.3h9.8v1.3h-9.8zM96.0 170.3h10.8v1.3h-10.8zM167.5 170.3h9.8v1.3h-9.8zM97.5 171.3h11.8v1.3h-11.8zM165.0 171.3h10.8v1.3h-10.8zM99.5 172.3h12.8v1.3h-12.8zM162.0 172.3h11.8v1.3h-11.8zM101.5 173.3h14.3v1.3h-14.3zM158.5 173.3h13.3v1.3h-13.3zM104.0 174.3h16.3v1.3h-16.3zM154.0 174.3h15.3v1.3h-15.3zM107.0 175.3h19.8v1.3h-19.8zM147.5 175.3h18.8v1.3h-18.8zM110.5 176.3h52.8v1.3h-52.8zM114.5 177.3h44.8v1.3h-44.8zM120.0 178.3h33.8v1.3h-33.8zM129.5 179.3h15.3v1.3h-15.3z"/>
<path fill="#690f3f" d="M136.0 122.3h7.3v1.3h-7.3zM128.5 123.3h22.8v1.3h-22.8zM124.0 124.3h31.3v1.3h-31.3zM121.0 125.3h37.8v1.3h-37.8zM118.0 126.3h43.3v1.3h-43.3zM116.0 127.3h15.3v1.3h-15.3zM148.0 127.3h15.8v1.3h-15.8zM113.5 128.3h13.3v1.3h-13.3zM152.5 128.3h13.3v1.3h-13.3zM112.0 129.3h11.3v1.3h-11.3zM156.0 129.3h11.8v1.3h-11.8zM110.0 130.3h10.8v1.3h-10.8zM158.5 130.3h11.3v1.3h-11.3zM108.5 131.3h9.8v1.3h-9.8zM161.0 131.3h10.3v1.3h-10.3zM107.0 132.3h9.3v1.3h-9.3zM163.0 132.3h9.3v1.3h-9.3zM106.0 133.3h8.8v1.3h-8.8zM164.5 133.3h9.3v1.3h-9.3zM104.5 134.3h8.8v1.3h-8.8zM166.0 134.3h9.3v1.3h-9.3zM103.5 135.3h8.3v1.3h-8.3zM167.5 135.3h8.8v1.3h-8.8zM102.5 136.3h7.8v1.3h-7.8zM168.5 136.3h8.8v1.3h-8.8zM101.5 137.3h7.8v1.3h-7.8zM170.0 137.3h8.3v1.3h-8.3zM100.5 138.3h7.3v1.3h-7.3zM171.0 138.3h7.8v1.3h-7.8zM99.5 139.3h7.3v1.3h-7.3zM172.0 139.3h7.8v1.3h-7.8zM98.5 140.3h7.3v1.3h-7.3zM172.5 140.3h7.8v1.3h-7.8zM98.0 141.3h7.3v1.3h-7.3zM173.5 141.3h7.8v1.3h-7.8zM97.0 142.3h7.3v1.3h-7.3zM174.0 142.3h7.8v1.3h-7.8zM96.5 143.3h7.3v1.3h-7.3zM174.5 143.3h7.8v1.3h-7.8zM96.0 144.3h7.3v1.3h-7.3zM175.0 144.3h7.8v1.3h-7.8zM95.5 145.3h6.8v1.3h-6.8zM175.5 145.3h7.3v1.3h-7.3zM95.0 146.3h6.8v1.3h-6.8zM176.0 146.3h7.3v1.3h-7.3zM94.5 147.3h7.3v1.3h-7.3zM176.5 147.3h7.3v1.3h-7.3zM94.0 148.3h7.3v1.3h-7.3zM176.5 148.3h7.3v1.3h-7.3zM94.0 149.3h6.8v1.3h-6.8zM176.5 149.3h7.3v1.3h-7.3zM93.5 150.3h7.3v1.3h-7.3zM176.5 150.3h7.3v1.3h-7.3zM93.5 151.3h7.3v1.3h-7.3zM176.5 151.3h7.3v1.3h-7.3zM93.0 152.3h7.3v1.3h-7.3zM176.5 152.3h7.3v1.3h-7.3zM93.0 153.3h7.8v1.3h-7.8zM176.5 153.3h7.3v1.3h-7.3zM93.0 154.3h7.8v1.3h-7.8zM176.0 154.3h7.8v1.3h-7.8zM93.0 155.3h7.8v1.3h-7.8zM176.0 155.3h7.3v1.3h-7.3zM93.5 156.3h7.8v1.3h-7.8zM175.5 156.3h7.3v1.3h-7.3zM93.5 157.3h7.8v1.3h-7.8zM175.0 157.3h7.3v1.3h-7.3zM94.0 158.3h7.8v1.3h-7.8zM174.0 158.3h7.8v1.3h-7.8zM94.0 159.3h8.3v1.3h-8.3zM173.5 159.3h7.8v1.3h-7.8zM94.5 160.3h8.8v1.3h-8.8zM172.5 160.3h8.3v1.3h-8.3zM95.0 161.3h8.8v1.3h-8.8zM171.5 161.3h8.8v1.3h-8.8zM96.0 162.3h8.8v1.3h-8.8zM170.5 162.3h8.8v1.3h-8.8zM96.5 163.3h9.3v1.3h-9.3zM169.5 163.3h8.8v1.3h-8.8zM97.5 164.3h9.8v1.3h-9.8zM168.0 164.3h9.3v1.3h-9.3zM98.5 165.3h10.3v1.3h-10.3zM166.5 165.3h9.3v1.3h-9.3zM100.0 166.3h10.8v1.3h-10.8zM164.5 166.3h10.3v1.3h-10.3zM101.0 167.3h11.8v1.3h-11.8zM162.5 167.3h10.8v1.3h-10.8zM103.0 168.3h12.3v1.3h-12.3zM160.0 168.3h11.8v1.3h-11.8zM104.5 169.3h13.8v1.3h-13.8zM157.0 169.3h12.8v1.3h-12.8zM106.5 170.3h15.3v1.3h-15.3zM153.0 170.3h14.8v1.3h-14.8zM109.0 171.3h18.8v1.3h-18.8zM147.5 171.3h17.8v1.3h-17.8zM112.0 172.3h50.3v1.3h-50.3zM115.5 173.3h43.3v1.3h-43.3zM120.0 174.3h34.3v1.3h-34.3zM126.5 175.3h21.3v1.3h-21.3z"/>
<path fill="#5d0d39" d="M131.0 127.3h17.3v1.3h-17.3zM126.5 128.3h26.3v1.3h-26.3zM123.0 129.3h33.3v1.3h-33.3zM120.5 130.3h38.3v1.3h-38.3zM118.0 131.3h43.3v1.3h-43.3zM116.0 132.3h14.8v1.3h-14.8zM148.0 132.3h15.3v1.3h-15.3zM114.5 133.3h12.3v1.3h-12.3zM152.0 133.3h12.8v1.3h-12.8zM113.0 134.3h10.8v1.3h-10.8zM154.5 134.3h11.8v1.3h-11.8zM111.5 135.3h10.3v1.3h-10.3zM157.0 135.3h10.8v1.3h-10.8zM110.0 136.3h9.8v1.3h-9.8zM159.0 136.3h9.8v1.3h-9.8zM109.0 137.3h9.3v1.3h-9.3zM160.5 137.3h9.8v1.3h-9.8zM107.5 138.3h9.3v1.3h-9.3zM162.0 138.3h9.3v1.3h-9.3zM106.5 139.3h8.8v1.3h-8.8zM163.0 139.3h9.3v1.3h-9.3zM105.5 140.3h8.8v1.3h-8.8zM164.0 140.3h8.8v1.3h-8.8zM105.0 141.3h8.3v1.3h-8.3zM165.0 141.3h8.8v1.3h-8.8zM104.0 142.3h8.3v1.3h-8.3zM166.0 142.3h8.3v1.3h-8.3zM103.5 143.3h7.8v1.3h-7.8zM166.5 143.3h8.3v1.3h-8.3zM103.0 144.3h7.8v1.3h-7.8zM167.5 144.3h7.8v1.3h-7.8zM102.0 145.3h8.3v1.3h-8.3zM168.0 145.3h7.8v1.3h-7.8zM101.5 146.3h8.3v1.3h-8.3zM168.5 146.3h7.8v1.3h-7.8zM101.5 147.3h7.8v1.3h-7.8zM168.5 147.3h8.3v1.3h-8.3zM101.0 148.3h7.8v1.3h-7.8zM169.0 148.3h7.8v1.3h-7.8zM100.5 149.3h8.3v1.3h-8.3zM169.0 149.3h7.8v1.3h-7.8zM100.5 150.3h7.8v1.3h-7.8zM169.0 150.3h7.8v1.3h-7.8zM100.5 151.3h7.8v1.3h-7.8zM169.0 151.3h7.8v1.3h-7.8zM100.0 152.3h8.3v1.3h-8.3zM169.0 152.3h7.8v1.3h-7.8zM100.5 153.3h7.8v1.3h-7.8zM168.5 153.3h8.3v1.3h-8.3zM100.5 154.3h8.3v1.3h-8.3zM168.0 154.3h8.3v1.3h-8.3zM100.5 155.3h8.3v1.3h-8.3zM168.0 155.3h8.3v1.3h-8.3zM101.0 156.3h8.3v1.3h-8.3zM167.0 156.3h8.8v1.3h-8.8zM101.0 157.3h8.8v1.3h-8.8zM166.5 157.3h8.8v1.3h-8.8zM101.5 158.3h9.3v1.3h-9.3zM165.5 158.3h8.8v1.3h-8.8zM102.0 159.3h9.8v1.3h-9.8zM164.5 159.3h9.3v1.3h-9.3zM103.0 160.3h9.8v1.3h-9.8zM163.5 160.3h9.3v1.3h-9.3zM103.5 161.3h10.3v1.3h-10.3zM162.0 161.3h9.8v1.3h-9.8zM104.5 162.3h10.8v1.3h-10.8zM160.5 162.3h10.3v1.3h-10.3zM105.5 163.3h11.8v1.3h-11.8zM158.5 163.3h11.3v1.3h-11.3zM107.0 164.3h12.3v1.3h-12.3zM156.5 164.3h11.8v1.3h-11.8zM108.5 165.3h13.8v1.3h-13.8zM153.5 165.3h13.3v1.3h-13.3zM110.5 166.3h15.3v1.3h-15.3zM150.0 166.3h14.8v1.3h-14.8zM112.5 167.3h19.8v1.3h-19.8zM143.5 167.3h19.3v1.3h-19.3zM115.0 168.3h45.3v1.3h-45.3zM118.0 169.3h39.3v1.3h-39.3zM121.5 170.3h31.8v1.3h-31.8zM127.5 171.3h20.3v1.3h-20.3z"/>
<path fill="#4f0b33" d="M130.5 132.3h17.8v1.3h-17.8zM126.5 133.3h25.8v1.3h-25.8zM123.5 134.3h31.3v1.3h-31.3zM121.5 135.3h35.8v1.3h-35.8zM119.5 136.3h39.8v1.3h-39.8zM118.0 137.3h15.8v1.3h-15.8zM144.5 137.3h16.3v1.3h-16.3zM116.5 138.3h13.3v1.3h-13.3zM148.5 138.3h13.8v1.3h-13.8zM115.0 139.3h12.3v1.3h-12.3zM151.0 139.3h12.3v1.3h-12.3zM114.0 140.3h11.3v1.3h-11.3zM153.0 140.3h11.3v1.3h-11.3zM113.0 141.3h10.3v1.3h-10.3zM154.5 141.3h10.8v1.3h-10.8zM112.0 142.3h10.3v1.3h-10.3zM156.0 142.3h10.3v1.3h-10.3zM111.0 143.3h9.8v1.3h-9.8zM157.0 143.3h9.8v1.3h-9.8zM110.5 144.3h9.8v1.3h-9.8zM158.0 144.3h9.8v1.3h-9.8zM110.0 145.3h9.3v1.3h-9.3zM158.5 145.3h9.8v1.3h-9.8zM109.5 146.3h9.3v1.3h-9.3zM159.0 146.3h9.8v1.3h-9.8zM109.0 147.3h9.3v1.3h-9.3zM159.5 147.3h9.3v1.3h-9.3zM108.5 148.3h9.3v1.3h-9.3zM160.0 148.3h9.3v1.3h-9.3zM108.5 149.3h8.8v1.3h-8.8zM160.0 149.3h9.3v1.3h-9.3zM108.0 150.3h9.3v1.3h-9.3zM160.0 150.3h9.3v1.3h-9.3zM108.0 151.3h9.3v1.3h-9.3zM160.0 151.3h9.3v1.3h-9.3zM108.0 152.3h9.3v1.3h-9.3zM159.5 152.3h9.8v1.3h-9.8zM108.0 153.3h9.8v1.3h-9.8zM159.5 153.3h9.3v1.3h-9.3zM108.5 154.3h9.8v1.3h-9.8zM159.0 154.3h9.3v1.3h-9.3zM108.5 155.3h10.3v1.3h-10.3zM158.0 155.3h10.3v1.3h-10.3zM109.0 156.3h10.8v1.3h-10.8zM157.0 156.3h10.3v1.3h-10.3zM109.5 157.3h11.3v1.3h-11.3zM156.0 157.3h10.8v1.3h-10.8zM110.5 158.3h11.3v1.3h-11.3zM154.5 158.3h11.3v1.3h-11.3zM111.5 159.3h12.3v1.3h-12.3zM153.0 159.3h11.8v1.3h-11.8zM112.5 160.3h13.3v1.3h-13.3zM150.5 160.3h13.3v1.3h-13.3zM113.5 161.3h15.3v1.3h-15.3zM147.5 161.3h14.8v1.3h-14.8zM115.0 162.3h19.8v1.3h-19.8zM141.5 162.3h19.3v1.3h-19.3zM117.0 163.3h41.8v1.3h-41.8zM119.0 164.3h37.8v1.3h-37.8zM122.0 165.3h31.8v1.3h-31.8zM125.5 166.3h24.8v1.3h-24.8zM132.0 167.3h11.8v1.3h-11.8z"/>
<path fill="#41092c" d="M133.5 137.3h11.3v1.3h-11.3zM129.5 138.3h19.3v1.3h-19.3zM127.0 139.3h24.3v1.3h-24.3zM125.0 140.3h28.3v1.3h-28.3zM123.0 141.3h31.8v1.3h-31.8zM122.0 142.3h34.3v1.3h-34.3zM120.5 143.3h36.8v1.3h-36.8zM120.0 144.3h38.3v1.3h-38.3zM119.0 145.3h39.8v1.3h-39.8zM118.5 146.3h40.8v1.3h-40.8zM118.0 147.3h41.8v1.3h-41.8zM117.5 148.3h42.8v1.3h-42.8zM117.0 149.3h43.3v1.3h-43.3zM117.0 150.3h43.3v1.3h-43.3zM117.0 151.3h43.3v1.3h-43.3zM117.0 152.3h42.8v1.3h-42.8zM117.5 153.3h42.3v1.3h-42.3zM118.0 154.3h41.3v1.3h-41.3zM118.5 155.3h39.8v1.3h-39.8zM119.5 156.3h37.8v1.3h-37.8zM120.5 157.3h35.8v1.3h-35.8zM121.5 158.3h33.3v1.3h-33.3zM123.5 159.3h29.8v1.3h-29.8zM125.5 160.3h25.3v1.3h-25.3zM128.5 161.3h19.3v1.3h-19.3zM134.5 162.3h7.3v1.3h-7.3z"/></g>
<rect x="46.5" y="37.3" width="224.70" height="215.20" fill="none" stroke="#202020" stroke-width="1"/>
<line x1="46.50" y1="252.50" x2="46.50" y2="256.50" stroke="#202020" stroke-width="1"/>
<text x="46.50" y="266.90" font-size="9.1" text-anchor="middle">60</text>
<line x1="60.54" y1="252.50" x2="60.54" y2="254.80" stroke="#202020" stroke-width="1"/>
<line x1="74.59" y1="252.50" x2="74.59" y2="256.50" stroke="#202020" stroke-width="1"/>
<text x="74.59" y="266.90" font-size="9.1" text-anchor="middle">65</text>
<line x1="88.63" y1="252.50" x2="88.63" y2="254.80" stroke="#202020" stroke-width="1"/>
<line x1="102.67" y1="252.50" x2="102.67" y2="256.50" stroke="#202020" stroke-width="1"/>
<text x="102.67" y="266.90" font-size="9.1" text-anchor="middle">70</text>
<line x1="116.72" y1="252.50" x2="116.72" y2="254.80" stroke="#202020" stroke-width="1"/>
<line x1="130.76" y1="252.50" x2="130.76" y2="256.50" stroke="#202020" stroke-width="1"/>
<text x="130.76" y="266.90" font-size="9.1" text-anchor="middle">75</text>
<line x1="144.81" y1="252.50" x2="144.81" y2="254.80" stroke="#202020" stroke-width="1"/>
<line x1="158.85" y1="252.50" x2="158.85" y2="256.50" stroke="#202020" stroke-width="1"/>
<text x="158.85" y="266.90" font-size="9.1" text-anchor="middle">80</text>
<line x1="172.89" y1="252.50" x2="172.89" y2="254.80" stroke="#202020" stroke-width="1"/>
<line x1="186.94" y1="252.50" x2="186.94" y2="256.50" stroke="#202020" stroke-width="1"/>
<text x="186.94" y="266.90" font-size="9.1" text-anchor="middle">85</text>
<line x1="200.98" y1="252.50" x2="200.98" y2="254.80" stroke="#202020" stroke-width="1"/>
<line x1="215.02" y1="252.50" x2="215.02" y2="256.50" stroke="#202020" stroke-width="1"/>
<text x="215.02" y="266.90" font-size="9.1" text-anchor="middle">90</text>
<line x1="229.07" y1="252.50" x2="229.07" y2="254.80" stroke="#202020" stroke-width="1"/>
<line x1="243.11" y1="252.50" x2="243.11" y2="256.50" stroke="#202020" stroke-width="1"/>
<text x="243.11" y="266.90" font-size="9.1" text-anchor="middle">95</text>
<line x1="257.16" y1="252.50" x2="257.16" y2="254.80" stroke="#202020" stroke-width="1"/>
<line x1="271.20" y1="252.50" x2="271.20" y2="256.50" stroke="#202020" stroke-width="1"/>
<text x="271.20" y="266.90" font-size="9.1" text-anchor="middle">100</text>
<line x1="42.30" y1="252.50" x2="46.50" y2="252.50" stroke="#202020" stroke-width="1"/>
<text x="39.20" y="255.80" font-size="9.1" text-anchor="end">30</text>
<line x1="44.30" y1="242.72" x2="46.50" y2="242.72" stroke="#202020" stroke-width="1"/>
<line x1="42.30" y1="232.94" x2="46.50" y2="232.94" stroke="#202020" stroke-width="1"/>
<text x="39.20" y="236.24" font-size="9.1" text-anchor="end">40</text>
<line x1="44.30" y1="223.15" x2="46.50" y2="223.15" stroke="#202020" stroke-width="1"/>
<line x1="42.30" y1="213.37" x2="46.50" y2="213.37" stroke="#202020" stroke-width="1"/>
<text x="39.20" y="216.67" font-size="9.1" text-anchor="end">50</text>
<line x1="44.30" y1="203.59" x2="46.50" y2="203.59" stroke="#202020" stroke-width="1"/>
<line x1="42.30" y1="193.81" x2="46.50" y2="193.81" stroke="#202020" stroke-width="1"/>
<text x="39.20" y="197.11" font-size="9.1" text-anchor="end">60</text>
<line x1="44.30" y1="184.03" x2="46.50" y2="184.03" stroke="#202020" stroke-width="1"/>
<line x1="42.30" y1="174.25" x2="46.50" y2="174.25" stroke="#202020" stroke-width="1"/>
<text x="39.20" y="177.55" font-size="9.1" text-anchor="end">70</text>
<line x1="44.30" y1="164.46" x2="46.50" y2="164.46" stroke="#202020" stroke-width="1"/>
<line x1="42.30" y1="154.68" x2="46.50" y2="154.68" stroke="#202020" stroke-width="1"/>
<text x="39.20" y="157.98" font-size="9.1" text-anchor="end">80</text>
<line x1="44.30" y1="144.90" x2="46.50" y2="144.90" stroke="#202020" stroke-width="1"/>
<line x1="42.30" y1="135.12" x2="46.50" y2="135.12" stroke="#202020" stroke-width="1"/>
<text x="39.20" y="138.42" font-size="9.1" text-anchor="end">90</text>
<line x1="44.30" y1="125.34" x2="46.50" y2="125.34" stroke="#202020" stroke-width="1"/>
<line x1="42.30" y1="115.55" x2="46.50" y2="115.55" stroke="#202020" stroke-width="1"/>
<text x="39.20" y="118.85" font-size="9.1" text-anchor="end">100</text>
<line x1="44.30" y1="105.77" x2="46.50" y2="105.77" stroke="#202020" stroke-width="1"/>
<line x1="42.30" y1="95.99" x2="46.50" y2="95.99" stroke="#202020" stroke-width="1"/>
<text x="39.20" y="99.29" font-size="9.1" text-anchor="end">110</text>
<line x1="44.30" y1="86.21" x2="46.50" y2="86.21" stroke="#202020" stroke-width="1"/>
<line x1="42.30" y1="76.43" x2="46.50" y2="76.43" stroke="#202020" stroke-width="1"/>
<text x="39.20" y="79.73" font-size="9.1" text-anchor="end">120</text>
<line x1="44.30" y1="66.65" x2="46.50" y2="66.65" stroke="#202020" stroke-width="1"/>
<line x1="42.30" y1="56.86" x2="46.50" y2="56.86" stroke="#202020" stroke-width="1"/>
<text x="39.20" y="60.16" font-size="9.1" text-anchor="end">130</text>
<line x1="44.30" y1="47.08" x2="46.50" y2="47.08" stroke="#202020" stroke-width="1"/>
<line x1="42.30" y1="37.30" x2="46.50" y2="37.30" stroke="#202020" stroke-width="1"/>
<text x="39.20" y="40.60" font-size="9.1" text-anchor="end">140</text>
<text x="106.00" y="285.90" font-size="11.1" text-anchor="start">Inlet temperature (<tspan font-size="0.62em" dy="-0.42em">o</tspan><tspan dy="0.26em">C</tspan>)</text>
<text x="19.00" y="144.60" font-size="11.2" text-anchor="middle" transform="rotate(-90 19.0 144.6)">Flowrate (kg/s)</text>
<rect x="283.2" y="249.51" width="17.40" height="2.99" fill="#2d1f4e"/>
<rect x="283.2" y="246.83" width="17.40" height="2.99" fill="#33265a"/>
<rect x="283.2" y="244.14" width="17.40" height="2.99" fill="#3a2d65"/>
<rect x="283.2" y="241.45" width="17.40" height="2.99" fill="#403371"/>
<rect x="283.2" y="238.77" width="17.40" height="2.99" fill="#463a7c"/>
<rect x="283.2" y="236.08" width="17.40" height="2.99" fill="#493f84"/>
<rect x="283.2" y="233.40" width="17.40" height="2.99" fill="#4b438a"/>
<rect x="283.2" y="230.71" width="17.40" height="2.99" fill="#4c4691"/>
<rect x="283.2" y="228.02" width="17.40" height="2.99" fill="#4e4a97"/>
<rect x="283.2" y="225.34" width="17.40" height="2.99" fill="#4f4e9d"/>
<rect x="283.2" y="222.65" width="17.40" height="2.99" fill="#4e53a2"/>
<rect x="283.2" y="219.96" width="17.40" height="2.99" fill="#4b59a5"/>
<rect x="283.2" y="217.28" width="17.40" height="2.99" fill="#485fa8"/>
<rect x="283.2" y="214.59" width="17.40" height="2.99" fill="#4566ab"/>
<rect x="283.2" y="211.91" width="17.40" height="2.99" fill="#426cae"/>
<rect x="283.2" y="209.22" width="17.40" height="2.99" fill="#4173b0"/>
<rect x="283.2" y="206.53" width="17.40" height="2.99" fill="#437bb0"/>
<rect x="283.2" y="203.85" width="17.40" height="2.99" fill="#4683b0"/>
<rect x="283.2" y="201.16" width="17.40" height="2.99" fill="#488cb0"/>
<rect x="283.2" y="198.47" width="17.40" height="2.99" fill="#4b94b0"/>
<rect x="283.2" y="195.79" width="17.40" height="2.99" fill="#509caf"/>
<rect x="283.2" y="193.10" width="17.40" height="2.99" fill="#57a4ac"/>
<rect x="283.2" y="190.42" width="17.40" height="2.99" fill="#5fadaa"/>
<rect x="283.2" y="187.73" width="17.40" height="2.99" fill="#66b5a7"/>
<rect x="283.2" y="185.04" width="17.40" height="2.99" fill="#6ebea5"/>
<rect x="283.2" y="182.36" width="17.40" height="2.99" fill="#76c3a4"/>
<rect x="283.2" y="179.67" width="17.40" height="2.99" fill="#80c8a4"/>
<rect x="283.2" y="176.99" width="17.40" height="2.99" fill="#89cca4"/>
<rect x="283.2" y="174.30" width="17.40" height="2.99" fill="#92d1a4"/>
<rect x="283.2" y="171.61" width="17.40" height="2.99" fill="#9bd6a4"/>
<rect x="283.2" y="168.93" width="17.40" height="2.99" fill="#a6daa5"/>
<rect x="283.2" y="166.24" width="17.40" height="2.99" fill="#b2dfa7"/>
<rect x="283.2" y="163.55" width="17.40" height="2.99" fill="#bfe4aa"/>
<rect x="283.2" y="160.87" width="17.40" height="2.99" fill="#cbe8ac"/>
<rect x="283.2" y="158.18" width="17.40" height="2.99" fill="#d7edae"/>
<rect x="283.2" y="155.50" width="17.40" height="2.99" fill="#e1f0b1"/>
<rect x="283.2" y="152.81" width="17.40" height="2.99" fill="#e6f2b3"/>
<rect x="283.2" y="150.12" width="17.40" height="2.99" fill="#ebf4b6"/>
<rect x="283.2" y="147.44" width="17.40" height="2.99" fill="#eff6b8"/>
<rect x="283.2" y="144.75" width="17.40" height="2.99" fill="#f4f7bb"/>
<rect x="283.2" y="142.06" width="17.40" height="2.99" fill="#f6f3b5"/>
<rect x="283.2" y="139.38" width="17.40" height="2.99" fill="#f6e8a8"/>
<rect x="283.2" y="136.69" width="17.40" height="2.99" fill="#f6dd9b"/>
<rect x="283.2" y="134.00" width="17.40" height="2.99" fill="#f6d28d"/>
<rect x="283.2" y="131.32" width="17.40" height="2.99" fill="#f6c780"/>
<rect x="283.2" y="128.63" width="17.40" height="2.99" fill="#f5bc76"/>
<rect x="283.2" y="125.95" width="17.40" height="2.99" fill="#f4b16e"/>
<rect x="283.2" y="123.26" width="17.40" height="2.99" fill="#f3a665"/>
<rect x="283.2" y="120.57" width="17.40" height="2.99" fill="#f29b5d"/>
<rect x="283.2" y="117.89" width="17.40" height="2.99" fill="#f19054"/>
<rect x="283.2" y="115.20" width="17.40" height="2.99" fill="#ef864f"/>
<rect x="283.2" y="112.51" width="17.40" height="2.99" fill="#ee7e4e"/>
<rect x="283.2" y="109.83" width="17.40" height="2.99" fill="#ec764c"/>
<rect x="283.2" y="107.14" width="17.40" height="2.99" fill="#eb6e4b"/>
<rect x="283.2" y="104.46" width="17.40" height="2.99" fill="#e96649"/>
<rect x="283.2" y="101.77" width="17.40" height="2.99" fill="#e75f48"/>
<rect x="283.2" y="99.08" width="17.40" height="2.99" fill="#e55a48"/>
<rect x="283.2" y="96.40" width="17.40" height="2.99" fill="#e35548"/>
<rect x="283.2" y="93.71" width="17.40" height="2.99" fill="#e05148"/>
<rect x="283.2" y="91.03" width="17.40" height="2.99" fill="#dc4a4a"/>
<rect x="283.2" y="88.34" width="17.40" height="2.99" fill="#d6444d"/>
<rect x="283.2" y="85.65" width="17.40" height="2.99" fill="#d13e4f"/>
<rect x="283.2" y="82.97" width="17.40" height="2.99" fill="#ca3850"/>
<rect x="283.2" y="80.28" width="17.40" height="2.99" fill="#c33350"/>
<rect x="283.2" y="77.59" width="17.40" height="2.99" fill="#bc2d50"/>
<rect x="283.2" y="74.91" width="17.40" height="2.99" fill="#b42850"/>
<rect x="283.2" y="72.22" width="17.40" height="2.99" fill="#ad254f"/>
<rect x="283.2" y="69.53" width="17.40" height="2.99" fill="#a7224e"/>
<rect x="283.2" y="66.85" width="17.40" height="2.99" fill="#a01f4d"/>
<rect x="283.2" y="64.16" width="17.40" height="2.99" fill="#991c4c"/>
<rect x="283.2" y="61.48" width="17.40" height="2.99" fill="#911a4a"/>
<rect x="283.2" y="58.79" width="17.40" height="2.99" fill="#891747"/>
<rect x="283.2" y="56.10" width="17.40" height="2.99" fill="#811545"/>
<rect x="283.2" y="53.42" width="17.40" height="2.99" fill="#791343"/>
<rect x="283.2" y="50.73" width="17.40" height="2.99" fill="#701141"/>
<rect x="283.2" y="48.05" width="17.40" height="2.99" fill="#680f3e"/>
<rect x="283.2" y="45.36" width="17.40" height="2.99" fill="#5e0d3a"/>
<rect x="283.2" y="42.67" width="17.40" height="2.99" fill="#540b35"/>
<rect x="283.2" y="39.99" width="17.40" height="2.99" fill="#4a0a30"/>
<rect x="283.2" y="37.30" width="17.40" height="2.99" fill="#3f092b"/>
<rect x="283.2" y="37.3" width="17.40" height="214.90" fill="none" stroke="#606060" stroke-width="0.8"/>
<line x1="300.60" y1="37.30" x2="304.10" y2="37.30" stroke="#303030" stroke-width="0.9"/>
<text x="307.30" y="39.90" font-size="7.1" text-anchor="start">2.9</text>
<line x1="300.60" y1="64.16" x2="304.10" y2="64.16" stroke="#303030" stroke-width="0.9"/>
<text x="307.30" y="66.76" font-size="7.1" text-anchor="start">2.8</text>
<line x1="300.60" y1="91.02" x2="304.10" y2="91.02" stroke="#303030" stroke-width="0.9"/>
<text x="307.30" y="93.62" font-size="7.1" text-anchor="start">2.6</text>
<line x1="300.60" y1="117.89" x2="304.10" y2="117.89" stroke="#303030" stroke-width="0.9"/>
<text x="307.30" y="120.49" font-size="7.1" text-anchor="start">2.4</text>
<line x1="300.60" y1="144.75" x2="304.10" y2="144.75" stroke="#303030" stroke-width="0.9"/>
<text x="307.30" y="147.35" font-size="7.1" text-anchor="start">2.3</text>
<line x1="300.60" y1="171.61" x2="304.10" y2="171.61" stroke="#303030" stroke-width="0.9"/>
<text x="307.30" y="174.21" font-size="7.1" text-anchor="start">2.1</text>
<line x1="300.60" y1="198.47" x2="304.10" y2="198.47" stroke="#303030" stroke-width="0.9"/>
<text x="307.30" y="201.07" font-size="7.1" text-anchor="start">1.9</text>
<line x1="300.60" y1="225.34" x2="304.10" y2="225.34" stroke="#303030" stroke-width="0.9"/>
<text x="307.30" y="227.94" font-size="7.1" text-anchor="start">1.8</text>
<line x1="300.60" y1="252.20" x2="304.10" y2="252.20" stroke="#303030" stroke-width="0.9"/>
<text x="307.30" y="254.80" font-size="7.1" text-anchor="start">1.6</text>
<text x="277.00" y="26.30" font-size="12.6" text-anchor="start">MWe</text>
<text x="1.00" y="16.30" font-size="19.5" text-anchor="start" textLength="15" lengthAdjust="spacingAndGlyphs">a)</text>
<g shape-rendering="crispEdges"><rect x="395.20" y="34.00" width="9.45" height="5.70" fill="#f0f0ff"/>
<rect x="404.25" y="34.00" width="9.45" height="5.70" fill="#fcfff0"/>
<rect x="413.30" y="34.00" width="9.45" height="5.70" fill="#f8ffc0"/>
<rect x="422.36" y="34.00" width="9.45" height="5.70" fill="#f4ffa0"/>
<rect x="431.41" y="34.00" width="18.50" height="5.70" fill="#f0ff80"/>
<rect x="449.51" y="34.00" width="18.50" height="5.70" fill="#f0ff40"/>
<rect x="467.62" y="34.00" width="9.45" height="5.70" fill="#f0ff30"/>
<rect x="476.67" y="34.00" width="9.45" height="5.70" fill="#e8d040"/>
<rect x="485.72" y="34.00" width="18.50" height="5.70" fill="#e8a830"/>
<rect x="503.82" y="34.00" width="9.45" height="5.70" fill="#e88a28"/>
<rect x="512.88" y="34.00" width="18.50" height="5.70" fill="#f06a20"/>
<rect x="530.98" y="34.00" width="18.50" height="5.70" fill="#f05020"/>
<rect x="549.08" y="34.00" width="27.56" height="5.70" fill="#f83c18"/>
<rect x="576.24" y="34.00" width="45.66" height="5.70" fill="#f82010"/>
<rect x="395.20" y="39.30" width="9.45" height="5.70" fill="#f0f0ff"/>
<rect x="404.25" y="39.30" width="9.45" height="5.70" fill="#fcfff0"/>
<rect x="413.30" y="39.30" width="9.45" height="5.70" fill="#fafee0"/>
<rect x="422.36" y="39.30" width="18.50" height="5.70" fill="#f4ffa0"/>
<rect x="440.46" y="39.30" width="9.45" height="5.70" fill="#f0ff80"/>
<rect x="449.51" y="39.30" width="18.50" height="5.70" fill="#f0ff40"/>
<rect x="467.62" y="39.30" width="9.45" height="5.70" fill="#f0ff30"/>
<rect x="476.67" y="39.30" width="9.45" height="5.70" fill="#e8d040"/>
<rect x="485.72" y="39.30" width="18.50" height="5.70" fill="#e8a830"/>
<rect x="503.82" y="39.30" width="9.45" height="5.70" fill="#e88a28"/>
<rect x="512.88" y="39.30" width="18.50" height="5.70" fill="#f06a20"/>
<rect x="530.98" y="39.30" width="18.50" height="5.70" fill="#f05020"/>
<rect x="549.08" y="39.30" width="27.56" height="5.70" fill="#f83c18"/>
<rect x="576.24" y="39.30" width="45.66" height="5.70" fill="#f82010"/>
<rect x="395.20" y="44.60" width="9.45" height="5.70" fill="#e0e0ff"/>
<rect x="404.25" y="44.60" width="9.45" height="5.70" fill="#fcfff0"/>
<rect x="413.30" y="44.60" width="9.45" height="5.70" fill="#fafee0"/>
<rect x="422.36" y="44.60" width="9.45" height="5.70" fill="#f8ffc0"/>
<rect x="431.41" y="44.60" width="9.45" height="5.70" fill="#f4ffa0"/>
<rect x="440.46" y="44.60" width="9.45" height="5.70" fill="#f0ff80"/>
<rect x="449.51" y="44.60" width="18.50" height="5.70" fill="#f0ff40"/>
<rect x="467.62" y="44.60" width="18.50" height="5.70" fill="#f0ff30"/>
<rect x="485.72" y="44.60" width="9.45" height="5.70" fill="#e8d040"/>
<rect x="494.77" y="44.60" width="9.45" height="5.70" fill="#e8a830"/>
<rect x="503.82" y="44.60" width="18.50" height="5.70" fill="#e88a28"/>
<rect x="521.93" y="44.60" width="18.50" height="5.70" fill="#f06a20"/>
<rect x="540.03" y="44.60" width="27.56" height="5.70" fill="#f05020"/>
<rect x="567.19" y="44.60" width="9.45" height="5.70" fill="#f83c18"/>
<rect x="576.24" y="44.60" width="45.66" height="5.70" fill="#f82010"/>
<rect x="395.20" y="49.89" width="9.45" height="5.70" fill="#e0e0ff"/>
<rect x="404.25" y="49.89" width="9.45" height="5.70" fill="#f0f0ff"/>
<rect x="413.30" y="49.89" width="9.45" height="5.70" fill="#fafee0"/>
<rect x="422.36" y="49.89" width="18.50" height="5.70" fill="#f8ffc0"/>
<rect x="440.46" y="49.89" width="9.45" height="5.70" fill="#f4ffa0"/>
<rect x="449.51" y="49.89" width="18.50" height="5.70" fill="#f0ff40"/>
<rect x="467.62" y="49.89" width="18.50" height="5.70" fill="#f0ff30"/>
<rect x="485.72" y="49.89" width="9.45" height="5.70" fill="#e8d040"/>
<rect x="494.77" y="49.89" width="18.50" height="5.70" fill="#e8a830"/>
<rect x="512.88" y="49.89" width="9.45" height="5.70" fill="#e88a28"/>
<rect x="521.93" y="49.89" width="18.50" height="5.70" fill="#f06a20"/>
<rect x="540.03" y="49.89" width="27.56" height="5.70" fill="#f05020"/>
<rect x="567.19" y="49.89" width="9.45" height="5.70" fill="#f83c18"/>
<rect x="576.24" y="49.89" width="45.66" height="5.70" fill="#f82010"/>
<rect x="395.20" y="55.19" width="9.45" height="5.70" fill="#d0d0fc"/>
<rect x="404.25" y="55.19" width="9.45" height="5.70" fill="#f0f0ff"/>
<rect x="413.30" y="55.19" width="9.45" height="5.70" fill="#fcfff0"/>
<rect x="422.36" y="55.19" width="18.50" height="5.70" fill="#f8ffc0"/>
<rect x="440.46" y="55.19" width="9.45" height="5.70" fill="#f4ffa0"/>
<rect x="449.51" y="55.19" width="9.45" height="5.70" fill="#f0ff60"/>
<rect x="458.56" y="55.19" width="9.45" height="5.70" fill="#f0ff40"/>
<rect x="467.62" y="55.19" width="18.50" height="5.70" fill="#f0ff30"/>
<rect x="485.72" y="55.19" width="9.45" height="5.70" fill="#e8d040"/>
<rect x="494.77" y="55.19" width="18.50" height="5.70" fill="#e8a830"/>
<rect x="512.88" y="55.19" width="9.45" height="5.70" fill="#e88a28"/>
<rect x="521.93" y="55.19" width="27.56" height="5.70" fill="#f06a20"/>
<rect x="549.08" y="55.19" width="18.50" height="5.70" fill="#f05020"/>
<rect x="567.19" y="55.19" width="9.45" height="5.70" fill="#f83c18"/>
<rect x="576.24" y="55.19" width="45.66" height="5.70" fill="#f82010"/>
<rect x="395.20" y="60.49" width="9.45" height="5.70" fill="#d0d0fc"/>
<rect x="404.25" y="60.49" width="9.45" height="5.70" fill="#f0f0ff"/>
<rect x="413.30" y="60.49" width="9.45" height="5.70" fill="#fcfff0"/>
<rect x="422.36" y="60.49" width="18.50" height="5.70" fill="#f8ffc0"/>
<rect x="440.46" y="60.49" width="9.45" height="5.70" fill="#f4ffa0"/>
<rect x="449.51" y="60.49" width="9.45" height="5.70" fill="#f0ff60"/>
<rect x="458.56" y="60.49" width="9.45" height="5.70" fill="#f0ff40"/>
<rect x="467.62" y="60.49" width="18.50" height="5.70" fill="#f0ff30"/>
<rect x="485.72" y="60.49" width="18.50" height="5.70" fill="#e8d040"/>
<rect x="503.82" y="60.49" width="9.45" height="5.70" fill="#e8a830"/>
<rect x="512.88" y="60.49" width="18.50" height="5.70" fill="#e88a28"/>
<rect x="530.98" y="60.49" width="18.50" height="5.70" fill="#f06a20"/>
<rect x="549.08" y="60.49" width="18.50" height="5.70" fill="#f05020"/>
<rect x="567.19" y="60.49" width="18.50" height="5.70" fill="#f83c18"/>
<rect x="585.29" y="60.49" width="36.61" height="5.70" fill="#f82010"/>
<rect x="395.20" y="65.79" width="9.45" height="5.70" fill="#d0d0fc"/>
<rect x="404.25" y="65.79" width="9.45" height="5.70" fill="#f0f0ff"/>
<rect x="413.30" y="65.79" width="9.45" height="5.70" fill="#fcfff0"/>
<rect x="422.36" y="65.79" width="18.50" height="5.70" fill="#fafee0"/>
<rect x="440.46" y="65.79" width="9.45" height="5.70" fill="#f8ffc0"/>
<rect x="449.51" y="65.79" width="18.50" height="5.70" fill="#f0ff60"/>
<rect x="467.62" y="65.79" width="27.56" height="5.70" fill="#f0ff30"/>
<rect x="494.77" y="65.79" width="18.50" height="5.70" fill="#e8d040"/>
<rect x="512.88" y="65.79" width="27.56" height="5.70" fill="#e88a28"/>
<rect x="540.03" y="65.79" width="18.50" height="5.70" fill="#f06a20"/>
<rect x="558.14" y="65.79" width="18.50" height="5.70" fill="#f05020"/>
<rect x="576.24" y="65.79" width="18.50" height="5.70" fill="#f83c18"/>
<rect x="594.34" y="65.79" width="27.56" height="5.70" fill="#f82010"/>
<rect x="395.20" y="71.08" width="9.45" height="5.70" fill="#c0c0fc"/>
<rect x="404.25" y="71.08" width="9.45" height="5.70" fill="#f0f0ff"/>
<rect x="413.30" y="71.08" width="9.45" height="5.70" fill="#fcfff0"/>
<rect x="422.36" y="71.08" width="18.50" height="5.70" fill="#fafee0"/>
<rect x="440.46" y="71.08" width="9.45" height="5.70" fill="#f8ffc0"/>
<rect x="449.51" y="71.08" width="9.45" height="5.70" fill="#f0ff80"/>
<rect x="458.56" y="71.08" width="9.45" height="5.70" fill="#f0ff60"/>
<rect x="467.62" y="71.08" width="9.45" height="5.70" fill="#f0ff40"/>
<rect x="476.67" y="71.08" width="18.50" height="5.70" fill="#f0ff30"/>
<rect x="494.77" y="71.08" width="18.50" height="5.70" fill="#e8d040"/>
<rect x="512.88" y="71.08" width="18.50" height="5.70" fill="#e8a830"/>
<rect x="530.98" y="71.08" width="9.45" height="5.70" fill="#e88a28"/>
<rect x="540.03" y="71.08" width="27.56" height="5.70" fill="#f06a20"/>
<rect x="567.19" y="71.08" width="9.45" height="5.70" fill="#f05020"/>
<rect x="576.24" y="71.08" width="18.50" height="5.70" fill="#f83c18"/>
<rect x="594.34" y="71.08" width="27.56" height="5.70" fill="#f82010"/>
<rect x="395.20" y="76.38" width="9.45" height="5.70" fill="#c0c0fc"/>
<rect x="404.25" y="76.38" width="18.50" height="5.70" fill="#f0f0ff"/>
<rect x="422.36" y="76.38" width="9.45" height="5.70" fill="#fcfff0"/>
<rect x="431.41" y="76.38" width="9.45" height="5.70" fill="#fafee0"/>
<rect x="440.46" y="76.38" width="9.45" height="5.70" fill="#f8ffc0"/>
<rect x="449.51" y="76.38" width="9.45" height="5.70" fill="#f0ff80"/>
<rect x="458.56" y="76.38" width="9.45" height="5.70" fill="#f0ff60"/>
<rect x="467.62" y="76.38" width="9.45" height="5.70" fill="#f0ff40"/>
<rect x="476.67" y="76.38" width="18.50" height="5.70" fill="#f0ff30"/>
<rect x="494.77" y="76.38" width="18.50" height="5.70" fill="#e8d040"/>
<rect x="512.88" y="76.38" width="18.50" height="5.70" fill="#e8a830"/>
<rect x="530.98" y="76.38" width="18.50" height="5.70" fill="#e88a28"/>
<rect x="549.08" y="76.38" width="18.50" height="5.70" fill="#f06a20"/>
<rect x="567.19" y="76.38" width="18.50" height="5.70" fill="#f05020"/>
<rect x="585.29" y="76.38" width="18.50" height="5.70" fill="#f83c18"/>
<rect x="603.40" y="76.38" width="18.50" height="5.70" fill="#f82010"/>
<rect x="395.20" y="81.68" width="9.45" height="5.70" fill="#c0c0fc"/>
<rect x="404.25" y="81.68" width="9.45" height="5.70" fill="#e0e0ff"/>
<rect x="413.30" y="81.68" width="9.45" height="5.70" fill="#f0f0ff"/>
<rect x="422.36" y="81.68" width="9.45" height="5.70" fill="#fcfff0"/>
<rect x="431.41" y="81.68" width="18.50" height="5.70" fill="#fafee0"/>
<rect x="449.51" y="81.68" width="9.45" height="5.70" fill="#f0ff80"/>
<rect x="458.56" y="81.68" width="9.45" height="5.70" fill="#f0ff60"/>
<rect x="467.62" y="81.68" width="9.45" height="5.70" fill="#f0ff40"/>
<rect x="476.67" y="81.68" width="18.50" height="5.70" fill="#f0ff30"/>
<rect x="494.77" y="81.68" width="18.50" height="5.70" fill="#e8d040"/>
<rect x="512.88" y="81.68" width="18.50" height="5.70" fill="#e8a830"/>
<rect x="530.98" y="81.68" width="18.50" height="5.70" fill="#e88a28"/>
<rect x="549.08" y="81.68" width="27.56" height="5.70" fill="#f06a20"/>
<rect x="576.24" y="81.68" width="18.50" height="5.70" fill="#f05020"/>
<rect x="594.34" y="81.68" width="27.56" height="5.70" fill="#f83c18"/>
<rect x="395.20" y="86.98" width="9.45" height="5.70" fill="#b0b0fa"/>
<rect x="404.25" y="86.98" width="9.45" height="5.70" fill="#e0e0ff"/>
<rect x="413.30" y="86.98" width="9.45" height="5.70" fill="#f0f0ff"/>
<rect x="422.36" y="86.98" width="9.45" height="5.70" fill="#fcfff0"/>
<rect x="431.41" y="86.98" width="18.50" height="5.70" fill="#fafee0"/>
<rect x="449.51" y="86.98" width="9.45" height="5.70" fill="#f4ffa0"/>
<rect x="458.56" y="86.98" width="9.45" height="5.70" fill="#f0ff80"/>
<rect x="467.62" y="86.98" width="9.45" height="5.70" fill="#f0ff60"/>
<rect x="476.67" y="86.98" width="27.56" height="5.70" fill="#f0ff30"/>
<rect x="503.82" y="86.98" width="18.50" height="5.70" fill="#e8d040"/>
<rect x="521.93" y="86.98" width="9.45" height="5.70" fill="#e8a830"/>
<rect x="530.98" y="86.98" width="27.56" height="5.70" fill="#e88a28"/>
<rect x="558.14" y="86.98" width="18.50" height="5.70" fill="#f06a20"/>
<rect x="576.24" y="86.98" width="18.50" height="5.70" fill="#f05020"/>
<rect x="594.34" y="86.98" width="27.56" height="5.70" fill="#f83c18"/>
<rect x="395.20" y="92.27" width="9.45" height="5.70" fill="#b0b0fa"/>
<rect x="404.25" y="92.27" width="9.45" height="5.70" fill="#e0e0ff"/>
<rect x="413.30" y="92.27" width="9.45" height="5.70" fill="#f0f0ff"/>
<rect x="422.36" y="92.27" width="18.50" height="5.70" fill="#fcfff0"/>
<rect x="440.46" y="92.27" width="9.45" height="5.70" fill="#fafee0"/>
<rect x="449.51" y="92.27" width="9.45" height="5.70" fill="#f4ffa0"/>
<rect x="458.56" y="92.27" width="9.45" height="5.70" fill="#f0ff80"/>
<rect x="467.62" y="92.27" width="9.45" height="5.70" fill="#f0ff60"/>
<rect x="476.67" y="92.27" width="9.45" height="5.70" fill="#f0ff40"/>
<rect x="485.72" y="92.27" width="27.56" height="5.70" fill="#f0ff30"/>
<rect x="512.88" y="92.27" width="18.50" height="5.70" fill="#e8d040"/>
<rect x="530.98" y="92.27" width="9.45" height="5.70" fill="#e8a830"/>
<rect x="540.03" y="92.27" width="27.56" height="5.70" fill="#e88a28"/>
<rect x="567.19" y="92.27" width="18.50" height="5.70" fill="#f06a20"/>
<rect x="585.29" y="92.27" width="18.50" height="5.70" fill="#f05020"/>
<rect x="603.40" y="92.27" width="18.50" height="5.70" fill="#f83c18"/>
<rect x="395.20" y="97.57" width="9.45" height="5.70" fill="#b0b0fa"/>
<rect x="404.25" y="97.57" width="9.45" height="5.70" fill="#e0e0ff"/>
<rect x="413.30" y="97.57" width="9.45" height="5.70" fill="#f0f0ff"/>
<rect x="422.36" y="97.57" width="18.50" height="5.70" fill="#fcfff0"/>
<rect x="440.46" y="97.57" width="9.45" height="5.70" fill="#fafee0"/>
<rect x="449.51" y="97.57" width="9.45" height="5.70" fill="#f4ffa0"/>
<rect x="458.56" y="97.57" width="9.45" height="5.70" fill="#f0ff80"/>
<rect x="467.62" y="97.57" width="9.45" height="5.70" fill="#f0ff60"/>
<rect x="476.67" y="97.57" width="18.50" height="5.70" fill="#f0ff40"/>
<rect x="494.77" y="97.57" width="18.50" height="5.70" fill="#f0ff30"/>
<rect x="512.88" y="97.57" width="18.50" height="5.70" fill="#e8d040"/>
<rect x="530.98" y="97.57" width="18.50" height="5.70" fill="#e8a830"/>
<rect x="549.08" y="97.57" width="27.56" height="5.70" fill="#e88a28"/>
<rect x="576.24" y="97.57" width="18.50" height="5.70" fill="#f06a20"/>
<rect x="594.34" y="97.57" width="27.56" height="5.70" fill="#f05020"/>
<rect x="395.20" y="102.87" width="9.45" height="5.70" fill="#a0a0f8"/>
<rect x="404.25" y="102.87" width="9.45" height="5.70" fill="#d0d0fc"/>
<rect x="413.30" y="102.87" width="9.45" height="5.70" fill="#f0f0ff"/>
<rect x="422.36" y="102.87" width="27.56" height="5.70" fill="#fcfff0"/>
<rect x="449.51" y="102.87" width="9.45" height="5.70" fill="#f8ffc0"/>
<rect x="458.56" y="102.87" width="9.45" height="5.70" fill="#f4ffa0"/>
<rect x="467.62" y="102.87" width="18.50" height="5.70" fill="#f0ff60"/>
<rect x="485.72" y="102.87" width="18.50" height="5.70" fill="#f0ff40"/>
<rect x="503.82" y="102.87" width="9.45" height="5.70" fill="#f0ff30"/>
<rect x="512.88" y="102.87" width="27.56" height="5.70" fill="#e8d040"/>
<rect x="540.03" y="102.87" width="27.56" height="5.70" fill="#e8a830"/>
<rect x="567.19" y="102.87" width="18.50" height="5.70" fill="#e88a28"/>
<rect x="585.29" y="102.87" width="18.50" height="5.70" fill="#f06a20"/>
<rect x="603.40" y="102.87" width="18.50" height="5.70" fill="#f05020"/>
<rect x="395.20" y="108.17" width="9.45" height="5.70" fill="#9090f8"/>
<rect x="404.25" y="108.17" width="9.45" height="5.70" fill="#d0d0fc"/>
<rect x="413.30" y="108.17" width="9.45" height="5.70" fill="#e0e0ff"/>
<rect x="422.36" y="108.17" width="9.45" height="5.70" fill="#f0f0ff"/>
<rect x="431.41" y="108.17" width="18.50" height="5.70" fill="#fcfff0"/>
<rect x="449.51" y="108.17" width="9.45" height="5.70" fill="#f8ffc0"/>
<rect x="458.56" y="108.17" width="9.45" height="5.70" fill="#f4ffa0"/>
<rect x="467.62" y="108.17" width="9.45" height="5.70" fill="#f0ff80"/>
<rect x="476.67" y="108.17" width="18.50" height="5.70" fill="#f0ff60"/>
<rect x="494.77" y="108.17" width="18.50" height="5.70" fill="#f0ff40"/>
<rect x="512.88" y="108.17" width="18.50" height="5.70" fill="#f0ff30"/>
<rect x="530.98" y="108.17" width="18.50" height="5.70" fill="#e8d040"/>
<rect x="549.08" y="108.17" width="27.56" height="5.70" fill="#e8a830"/>
<rect x="576.24" y="108.17" width="18.50" height="5.70" fill="#e88a28"/>
<rect x="594.34" y="108.17" width="27.56" height="5.70" fill="#f06a20"/>
<rect x="395.20" y="113.46" width="9.45" height="5.70" fill="#9090f8"/>
<rect x="404.25" y="113.46" width="9.45" height="5.70" fill="#c0c0fc"/>
<rect x="413.30" y="113.46" width="9.45" height="5.70" fill="#e0e0ff"/>
<rect x="422.36" y="113.46" width="18.50" height="5.70" fill="#f0f0ff"/>
<rect x="440.46" y="113.46" width="9.45" height="5.70" fill="#fcfff0"/>
<rect x="449.51" y="113.46" width="9.45" height="5.70" fill="#fafee0"/>
<rect x="458.56" y="113.46" width="9.45" height="5.70" fill="#f4ffa0"/>
<rect x="467.62" y="113.46" width="18.50" height="5.70" fill="#f0ff80"/>
<rect x="485.72" y="113.46" width="9.45" height="5.70" fill="#f0ff60"/>
<rect x="494.77" y="113.46" width="18.50" height="5.70" fill="#f0ff40"/>
<rect x="512.88" y="113.46" width="27.56" height="5.70" fill="#f0ff30"/>
<rect x="540.03" y="113.46" width="27.56" height="5.70" fill="#e8d040"/>
<rect x="567.19" y="113.46" width="18.50" height="5.70" fill="#e8a830"/>
<rect x="585.29" y="113.46" width="27.56" height="5.70" fill="#e88a28"/>
<rect x="612.45" y="113.46" width="9.45" height="5.70" fill="#f06a20"/>
<rect x="395.20" y="118.76" width="9.45" height="5.70" fill="#8080f8"/>
<rect x="404.25" y="118.76" width="9.45" height="5.70" fill="#c0c0fc"/>
<rect x="413.30" y="118.76" width="9.45" height="5.70" fill="#e0e0ff"/>
<rect x="422.36" y="118.76" width="18.50" height="5.70" fill="#f0f0ff"/>
<rect x="440.46" y="118.76" width="9.45" height="5.70" fill="#fcfff0"/>
<rect x="449.51" y="118.76" width="9.45" height="5.70" fill="#fafee0"/>
<rect x="458.56" y="118.76" width="9.45" height="5.70" fill="#f8ffc0"/>
<rect x="467.62" y="118.76" width="9.45" height="5.70" fill="#f4ffa0"/>
<rect x="476.67" y="118.76" width="9.45" height="5.70" fill="#f0ff80"/>
<rect x="485.72" y="118.76" width="18.50" height="5.70" fill="#f0ff60"/>
<rect x="503.82" y="118.76" width="18.50" height="5.70" fill="#f0ff40"/>
<rect x="521.93" y="118.76" width="9.45" height="5.70" fill="#f0ff30"/>
<rect x="530.98" y="118.76" width="9.45" height="5.70" fill="#f0ff40"/>
<rect x="540.03" y="118.76" width="18.50" height="5.70" fill="#f0ff30"/>
<rect x="558.14" y="118.76" width="18.50" height="5.70" fill="#e8d040"/>
<rect x="576.24" y="118.76" width="18.50" height="5.70" fill="#e8a830"/>
<rect x="594.34" y="118.76" width="27.56" height="5.70" fill="#e88a28"/>
<rect x="395.20" y="124.06" width="9.45" height="5.70" fill="#8080f8"/>
<rect x="404.25" y="124.06" width="9.45" height="5.70" fill="#c0c0fc"/>
<rect x="413.30" y="124.06" width="9.45" height="5.70" fill="#d0d0fc"/>
<rect x="422.36" y="124.06" width="9.45" height="5.70" fill="#e0e0ff"/>
<rect x="431.41" y="124.06" width="9.45" height="5.70" fill="#f0f0ff"/>
<rect x="440.46" y="124.06" width="9.45" height="5.70" fill="#fcfff0"/>
<rect x="449.51" y="124.06" width="9.45" height="5.70" fill="#fafee0"/>
<rect x="458.56" y="124.06" width="9.45" height="5.70" fill="#f8ffc0"/>
<rect x="467.62" y="124.06" width="18.50" height="5.70" fill="#f4ffa0"/>
<rect x="485.72" y="124.06" width="9.45" height="5.70" fill="#f0ff80"/>
<rect x="494.77" y="124.06" width="18.50" height="5.70" fill="#f0ff60"/>
<rect x="512.88" y="124.06" width="27.56" height="5.70" fill="#f0ff40"/>
<rect x="540.03" y="124.06" width="27.56" height="5.70" fill="#f0ff30"/>
<rect x="567.19" y="124.06" width="18.50" height="5.70" fill="#e8d040"/>
<rect x="585.29" y="124.06" width="18.50" height="5.70" fill="#e8a830"/>
<rect x="603.40" y="124.06" width="18.50" height="5.70" fill="#e88a28"/>
<rect x="395.20" y="129.36" width="9.45" height="5.70" fill="#7070f8"/>
<rect x="404.25" y="129.36" width="9.45" height="5.70" fill="#b0b0fa"/>
<rect x="413.30" y="129.36" width="9.45" height="5.70" fill="#d0d0fc"/>
<rect x="422.36" y="129.36" width="9.45" height="5.70" fill="#e0e0ff"/>
<rect x="431.41" y="129.36" width="18.50" height="5.70" fill="#f0f0ff"/>
<rect x="449.51" y="129.36" width="9.45" height="5.70" fill="#fcfff0"/>
<rect x="458.56" y="129.36" width="9.45" height="5.70" fill="#f8ffc0"/>
<rect x="467.62" y="129.36" width="18.50" height="5.70" fill="#f4ffa0"/>
<rect x="485.72" y="129.36" width="9.45" height="5.70" fill="#f0ff80"/>
<rect x="494.77" y="129.36" width="18.50" height="5.70" fill="#f0ff60"/>
<rect x="512.88" y="129.36" width="36.61" height="5.70" fill="#f0ff40"/>
<rect x="549.08" y="129.36" width="18.50" height="5.70" fill="#f0ff30"/>
<rect x="567.19" y="129.36" width="18.50" height="5.70" fill="#e8d040"/>
<rect x="585.29" y="129.36" width="36.61" height="5.70" fill="#e8a830"/>
<rect x="395.20" y="134.65" width="9.45" height="5.70" fill="#7070f8"/>
<rect x="404.25" y="134.65" width="9.45" height="5.70" fill="#b0b0fa"/>
<rect x="413.30" y="134.65" width="9.45" height="5.70" fill="#d0d0fc"/>
<rect x="422.36" y="134.65" width="18.50" height="5.70" fill="#e0e0ff"/>
<rect x="440.46" y="134.65" width="9.45" height="5.70" fill="#f0f0ff"/>
<rect x="449.51" y="134.65" width="9.45" height="5.70" fill="#fcfff0"/>
<rect x="458.56" y="134.65" width="9.45" height="5.70" fill="#fafee0"/>
<rect x="467.62" y="134.65" width="18.50" height="5.70" fill="#f8ffc0"/>
<rect x="485.72" y="134.65" width="9.45" height="5.70" fill="#f4ffa0"/>
<rect x="494.77" y="134.65" width="9.45" height="5.70" fill="#f0ff80"/>
<rect x="503.82" y="134.65" width="18.50" height="5.70" fill="#f0ff60"/>
<rect x="521.93" y="134.65" width="36.61" height="5.70" fill="#f0ff40"/>
<rect x="558.14" y="134.65" width="18.50" height="5.70" fill="#f0ff30"/>
<rect x="576.24" y="134.65" width="27.56" height="5.70" fill="#e8d040"/>
<rect x="603.40" y="134.65" width="18.50" height="5.70" fill="#e8a830"/>
<rect x="395.20" y="139.95" width="9.45" height="5.70" fill="#6060f8"/>
<rect x="404.25" y="139.95" width="9.45" height="5.70" fill="#b0b0fa"/>
<rect x="413.30" y="139.95" width="9.45" height="5.70" fill="#d0d0fc"/>
<rect x="422.36" y="139.95" width="18.50" height="5.70" fill="#e0e0ff"/>
<rect x="440.46" y="139.95" width="9.45" height="5.70" fill="#f0f0ff"/>
<rect x="449.51" y="139.95" width="9.45" height="5.70" fill="#fcfff0"/>
<rect x="458.56" y="139.95" width="9.45" height="5.70" fill="#fafee0"/>
<rect x="467.62" y="139.95" width="18.50" height="5.70" fill="#f8ffc0"/>
<rect x="485.72" y="139.95" width="9.45" height="5.70" fill="#f4ffa0"/>
<rect x="494.77" y="139.95" width="18.50" height="5.70" fill="#f0ff80"/>
<rect x="512.88" y="139.95" width="27.56" height="5.70" fill="#f0ff60"/>
<rect x="540.03" y="139.95" width="27.56" height="5.70" fill="#f0ff40"/>
<rect x="567.19" y="139.95" width="18.50" height="5.70" fill="#f0ff30"/>
<rect x="585.29" y="139.95" width="27.56" height="5.70" fill="#e8d040"/>
<rect x="612.45" y="139.95" width="9.45" height="5.70" fill="#e8a830"/>
<rect x="395.20" y="145.25" width="9.45" height="5.70" fill="#6060f8"/>
<rect x="404.25" y="145.25" width="9.45" height="5.70" fill="#a0a0f8"/>
<rect x="413.30" y="145.25" width="18.50" height="5.70" fill="#d0d0fc"/>
<rect x="431.41" y="145.25" width="9.45" height="5.70" fill="#e0e0ff"/>
<rect x="440.46" y="145.25" width="9.45" height="5.70" fill="#f0f0ff"/>
<rect x="449.51" y="145.25" width="9.45" height="5.70" fill="#fcfff0"/>
<rect x="458.56" y="145.25" width="9.45" height="5.70" fill="#fafee0"/>
<rect x="467.62" y="145.25" width="9.45" height="5.70" fill="#f8ffc0"/>
<rect x="476.67" y="145.25" width="9.45" height="5.70" fill="#fafee0"/>
<rect x="485.72" y="145.25" width="9.45" height="5.70" fill="#f8ffc0"/>
<rect x="494.77" y="145.25" width="18.50" height="5.70" fill="#f0ff80"/>
<rect x="512.88" y="145.25" width="27.56" height="5.70" fill="#f0ff60"/>
<rect x="540.03" y="145.25" width="27.56" height="5.70" fill="#f0ff40"/>
<rect x="567.19" y="145.25" width="27.56" height="5.70" fill="#f0ff30"/>
<rect x="594.34" y="145.25" width="27.56" height="5.70" fill="#e8d040"/>
<rect x="395.20" y="150.55" width="9.45" height="5.70" fill="#6060f8"/>
<rect x="404.25" y="150.55" width="9.45" height="5.70" fill="#a0a0f8"/>
<rect x="413.30" y="150.55" width="9.45" height="5.70" fill="#c0c0fc"/>
<rect x="422.36" y="150.55" width="9.45" height="5.70" fill="#d0d0fc"/>
<rect x="431.41" y="150.55" width="18.50" height="5.70" fill="#e0e0ff"/>
<rect x="449.51" y="150.55" width="18.50" height="5.70" fill="#fcfff0"/>
<rect x="467.62" y="150.55" width="18.50" height="5.70" fill="#fafee0"/>
<rect x="485.72" y="150.55" width="9.45" height="5.70" fill="#f8ffc0"/>
<rect x="494.77" y="150.55" width="9.45" height="5.70" fill="#f4ffa0"/>
<rect x="503.82" y="150.55" width="9.45" height="5.70" fill="#f0ff80"/>
<rect x="512.88" y="150.55" width="45.66" height="5.70" fill="#f0ff60"/>
<rect x="558.14" y="150.55" width="18.50" height="5.70" fill="#f0ff40"/>
<rect x="576.24" y="150.55" width="36.61" height="5.70" fill="#f0ff30"/>
<rect x="612.45" y="150.55" width="9.45" height="5.70" fill="#e8d040"/>
<rect x="395.20" y="155.84" width="9.45" height="5.70" fill="#5050f8"/>
<rect x="404.25" y="155.84" width="9.45" height="5.70" fill="#a0a0f8"/>
<rect x="413.30" y="155.84" width="9.45" height="5.70" fill="#c0c0fc"/>
<rect x="422.36" y="155.84" width="18.50" height="5.70" fill="#d0d0fc"/>
<rect x="440.46" y="155.84" width="9.45" height="5.70" fill="#e0e0ff"/>
<rect x="449.51" y="155.84" width="9.45" height="5.70" fill="#f0f0ff"/>
<rect x="458.56" y="155.84" width="9.45" height="5.70" fill="#fcfff0"/>
<rect x="467.62" y="155.84" width="18.50" height="5.70" fill="#fafee0"/>
<rect x="485.72" y="155.84" width="9.45" height="5.70" fill="#f8ffc0"/>
<rect x="494.77" y="155.84" width="18.50" height="5.70" fill="#f4ffa0"/>
<rect x="512.88" y="155.84" width="9.45" height="5.70" fill="#f0ff80"/>
<rect x="521.93" y="155.84" width="45.66" height="5.70" fill="#f0ff60"/>
<rect x="567.19" y="155.84" width="18.50" height="5.70" fill="#f0ff40"/>
<rect x="585.29" y="155.84" width="36.61" height="5.70" fill="#f0ff30"/>
<rect x="395.20" y="161.14" width="9.45" height="5.70" fill="#5050f8"/>
<rect x="404.25" y="161.14" width="9.45" height="5.70" fill="#9090f8"/>
<rect x="413.30" y="161.14" width="18.50" height="5.70" fill="#c0c0fc"/>
<rect x="431.41" y="161.14" width="9.45" height="5.70" fill="#d0d0fc"/>
<rect x="440.46" y="161.14" width="9.45" height="5.70" fill="#e0e0ff"/>
<rect x="449.51" y="161.14" width="9.45" height="5.70" fill="#f0f0ff"/>
<rect x="458.56" y="161.14" width="9.45" height="5.70" fill="#fcfff0"/>
<rect x="467.62" y="161.14" width="9.45" height="5.70" fill="#fafee0"/>
<rect x="476.67" y="161.14" width="9.45" height="5.70" fill="#fcfff0"/>
<rect x="485.72" y="161.14" width="9.45" height="5.70" fill="#fafee0"/>
<rect x="494.77" y="161.14" width="18.50" height="5.70" fill="#f4ffa0"/>
<rect x="512.88" y="161.14" width="27.56" height="5.70" fill="#f0ff80"/>
<rect x="540.03" y="161.14" width="27.56" height="5.70" fill="#f0ff60"/>
<rect x="567.19" y="161.14" width="45.66" height="5.70" fill="#f0ff40"/>
<rect x="612.45" y="161.14" width="9.45" height="5.70" fill="#f0ff30"/>
<rect x="395.20" y="166.44" width="9.45" height="5.70" fill="#5050f8"/>
<rect x="404.25" y="166.44" width="9.45" height="5.70" fill="#9090f8"/>
<rect x="413.30" y="166.44" width="18.50" height="5.70" fill="#c0c0fc"/>
<rect x="431.41" y="166.44" width="9.45" height="5.70" fill="#d0d0fc"/>
<rect x="440.46" y="166.44" width="9.45" height="5.70" fill="#e0e0ff"/>
<rect x="449.51" y="166.44" width="9.45" height="5.70" fill="#f0f0ff"/>
<rect x="458.56" y="166.44" width="27.56" height="5.70" fill="#fcfff0"/>
<rect x="485.72" y="166.44" width="9.45" height="5.70" fill="#fafee0"/>
<rect x="494.77" y="166.44" width="9.45" height="5.70" fill="#f8ffc0"/>
<rect x="503.82" y="166.44" width="9.45" height="5.70" fill="#f4ffa0"/>
<rect x="512.88" y="166.44" width="36.61" height="5.70" fill="#f0ff80"/>
<rect x="549.08" y="166.44" width="27.56" height="5.70" fill="#f0ff60"/>
<rect x="576.24" y="166.44" width="45.66" height="5.70" fill="#f0ff40"/>
<rect x="395.20" y="171.74" width="9.45" height="5.70" fill="#4040f8"/>
<rect x="404.25" y="171.74" width="9.45" height="5.70" fill="#9090f8"/>
<rect x="413.30" y="171.74" width="9.45" height="5.70" fill="#b0b0fa"/>
<rect x="422.36" y="171.74" width="9.45" height="5.70" fill="#c0c0fc"/>
<rect x="431.41" y="171.74" width="18.50" height="5.70" fill="#d0d0fc"/>
<rect x="449.51" y="171.74" width="9.45" height="5.70" fill="#e0e0ff"/>
<rect x="458.56" y="171.74" width="27.56" height="5.70" fill="#fcfff0"/>
<rect x="485.72" y="171.74" width="9.45" height="5.70" fill="#fafee0"/>
<rect x="494.77" y="171.74" width="18.50" height="5.70" fill="#f8ffc0"/>
<rect x="512.88" y="171.74" width="9.45" height="5.70" fill="#f4ffa0"/>
<rect x="521.93" y="171.74" width="9.45" height="5.70" fill="#f0ff80"/>
<rect x="530.98" y="171.74" width="9.45" height="5.70" fill="#f4ffa0"/>
<rect x="540.03" y="171.74" width="18.50" height="5.70" fill="#f0ff80"/>
<rect x="558.14" y="171.74" width="36.61" height="5.70" fill="#f0ff60"/>
<rect x="594.34" y="171.74" width="27.56" height="5.70" fill="#f0ff40"/>
<rect x="395.20" y="177.03" width="9.45" height="5.70" fill="#4040f8"/>
<rect x="404.25" y="177.03" width="9.45" height="5.70" fill="#8080f8"/>
<rect x="413.30" y="177.03" width="9.45" height="5.70" fill="#b0b0fa"/>
<rect x="422.36" y="177.03" width="18.50" height="5.70" fill="#c0c0fc"/>
<rect x="440.46" y="177.03" width="9.45" height="5.70" fill="#d0d0fc"/>
<rect x="449.51" y="177.03" width="9.45" height="5.70" fill="#e0e0ff"/>
<rect x="458.56" y="177.03" width="9.45" height="5.70" fill="#f0f0ff"/>
<rect x="467.62" y="177.03" width="18.50" height="5.70" fill="#fcfff0"/>
<rect x="485.72" y="177.03" width="18.50" height="5.70" fill="#fafee0"/>
<rect x="503.82" y="177.03" width="9.45" height="5.70" fill="#f8ffc0"/>
<rect x="512.88" y="177.03" width="9.45" height="5.70" fill="#f4ffa0"/>
<rect x="521.93" y="177.03" width="9.45" height="5.70" fill="#f0ff80"/>
<rect x="530.98" y="177.03" width="18.50" height="5.70" fill="#f4ffa0"/>
<rect x="549.08" y="177.03" width="18.50" height="5.70" fill="#f0ff80"/>
<rect x="567.19" y="177.03" width="54.71" height="5.70" fill="#f0ff60"/>
<rect x="395.20" y="182.33" width="9.45" height="5.70" fill="#2828f8"/>
<rect x="404.25" y="182.33" width="9.45" height="5.70" fill="#8080f8"/>
<rect x="413.30" y="182.33" width="18.50" height="5.70" fill="#b0b0fa"/>
<rect x="431.41" y="182.33" width="18.50" height="5.70" fill="#c0c0fc"/>
<rect x="449.51" y="182.33" width="9.45" height="5.70" fill="#e0e0ff"/>
<rect x="458.56" y="182.33" width="9.45" height="5.70" fill="#f0f0ff"/>
<rect x="467.62" y="182.33" width="9.45" height="5.70" fill="#fcfff0"/>
<rect x="476.67" y="182.33" width="9.45" height="5.70" fill="#f0f0ff"/>
<rect x="485.72" y="182.33" width="9.45" height="5.70" fill="#fcfff0"/>
<rect x="494.77" y="182.33" width="9.45" height="5.70" fill="#fafee0"/>
<rect x="503.82" y="182.33" width="9.45" height="5.70" fill="#f8ffc0"/>
<rect x="512.88" y="182.33" width="18.50" height="5.70" fill="#f4ffa0"/>
<rect x="530.98" y="182.33" width="9.45" height="5.70" fill="#f8ffc0"/>
<rect x="540.03" y="182.33" width="18.50" height="5.70" fill="#f4ffa0"/>
<rect x="558.14" y="182.33" width="18.50" height="5.70" fill="#f0ff80"/>
<rect x="576.24" y="182.33" width="45.66" height="5.70" fill="#f0ff60"/>
<rect x="395.20" y="187.63" width="9.45" height="5.70" fill="#2828f8"/>
<rect x="404.25" y="187.63" width="9.45" height="5.70" fill="#8080f8"/>
<rect x="413.30" y="187.63" width="9.45" height="5.70" fill="#a0a0f8"/>
<rect x="422.36" y="187.63" width="9.45" height="5.70" fill="#b0b0fa"/>
<rect x="431.41" y="187.63" width="18.50" height="5.70" fill="#c0c0fc"/>
<rect x="449.51" y="187.63" width="9.45" height="5.70" fill="#d0d0fc"/>
<rect x="458.56" y="187.63" width="9.45" height="5.70" fill="#f0f0ff"/>
<rect x="467.62" y="187.63" width="9.45" height="5.70" fill="#fcfff0"/>
<rect x="476.67" y="187.63" width="9.45" height="5.70" fill="#f0f0ff"/>
<rect x="485.72" y="187.63" width="9.45" height="5.70" fill="#fcfff0"/>
<rect x="494.77" y="187.63" width="18.50" height="5.70" fill="#fafee0"/>
<rect x="512.88" y="187.63" width="9.45" height="5.70" fill="#f8ffc0"/>
<rect x="521.93" y="187.63" width="9.45" height="5.70" fill="#f4ffa0"/>
<rect x="530.98" y="187.63" width="9.45" height="5.70" fill="#fafee0"/>
<rect x="540.03" y="187.63" width="9.45" height="5.70" fill="#f8ffc0"/>
<rect x="549.08" y="187.63" width="18.50" height="5.70" fill="#f4ffa0"/>
<rect x="567.19" y="187.63" width="54.71" height="5.70" fill="#f0ff80"/>
<rect x="395.20" y="192.93" width="9.45" height="5.70" fill="#1010fa"/>
<rect x="404.25" y="192.93" width="9.45" height="5.70" fill="#8080f8"/>
<rect x="413.30" y="192.93" width="18.50" height="5.70" fill="#a0a0f8"/>
<rect x="431.41" y="192.93" width="9.45" height="5.70" fill="#b0b0fa"/>
<rect x="440.46" y="192.93" width="9.45" height="5.70" fill="#c0c0fc"/>
<rect x="449.51" y="192.93" width="9.45" height="5.70" fill="#d0d0fc"/>
<rect x="458.56" y="192.93" width="9.45" height="5.70" fill="#e0e0ff"/>
<rect x="467.62" y="192.93" width="18.50" height="5.70" fill="#f0f0ff"/>
<rect x="485.72" y="192.93" width="18.50" height="5.70" fill="#fcfff0"/>
<rect x="503.82" y="192.93" width="18.50" height="5.70" fill="#fafee0"/>
<rect x="521.93" y="192.93" width="9.45" height="5.70" fill="#f8ffc0"/>
<rect x="530.98" y="192.93" width="9.45" height="5.70" fill="#fafee0"/>
<rect x="540.03" y="192.93" width="18.50" height="5.70" fill="#f8ffc0"/>
<rect x="558.14" y="192.93" width="45.66" height="5.70" fill="#f4ffa0"/>
<rect x="603.40" y="192.93" width="9.45" height="5.70" fill="#f0ff80"/>
<rect x="612.45" y="192.93" width="9.45" height="5.70" fill="#f4ffa0"/>
<rect x="395.20" y="198.22" width="9.45" height="5.70" fill="#1010fa"/>
<rect x="404.25" y="198.22" width="9.45" height="5.70" fill="#8080f8"/>
<rect x="413.30" y="198.22" width="9.45" height="5.70" fill="#9090f8"/>
<rect x="422.36" y="198.22" width="9.45" height="5.70" fill="#a0a0f8"/>
<rect x="431.41" y="198.22" width="9.45" height="5.70" fill="#b0b0fa"/>
<rect x="440.46" y="198.22" width="9.45" height="5.70" fill="#c0c0fc"/>
<rect x="449.51" y="198.22" width="9.45" height="5.70" fill="#d0d0fc"/>
<rect x="458.56" y="198.22" width="9.45" height="5.70" fill="#e0e0ff"/>
<rect x="467.62" y="198.22" width="27.56" height="5.70" fill="#f0f0ff"/>
<rect x="494.77" y="198.22" width="18.50" height="5.70" fill="#fcfff0"/>
<rect x="512.88" y="198.22" width="18.50" height="5.70" fill="#fafee0"/>
<rect x="530.98" y="198.22" width="18.50" height="5.70" fill="#fcfff0"/>
<rect x="549.08" y="198.22" width="9.45" height="5.70" fill="#fafee0"/>
<rect x="558.14" y="198.22" width="45.66" height="5.70" fill="#f8ffc0"/>
<rect x="603.40" y="198.22" width="9.45" height="5.70" fill="#f4ffa0"/>
<rect x="612.45" y="198.22" width="9.45" height="5.70" fill="#f8ffc0"/>
<rect x="395.20" y="203.52" width="9.45" height="5.70" fill="#0000ff"/>
<rect x="404.25" y="203.52" width="9.45" height="5.70" fill="#7070f8"/>
<rect x="413.30" y="203.52" width="18.50" height="5.70" fill="#9090f8"/>
<rect x="431.41" y="203.52" width="9.45" height="5.70" fill="#b0b0fa"/>
<rect x="440.46" y="203.52" width="18.50" height="5.70" fill="#c0c0fc"/>
<rect x="458.56" y="203.52" width="9.45" height="5.70" fill="#e0e0ff"/>
<rect x="467.62" y="203.52" width="27.56" height="5.70" fill="#f0f0ff"/>
<rect x="494.77" y="203.52" width="45.66" height="5.70" fill="#fcfff0"/>
<rect x="540.03" y="203.52" width="9.45" height="5.70" fill="#f0f0ff"/>
<rect x="549.08" y="203.52" width="9.45" height="5.70" fill="#fcfff0"/>
<rect x="558.14" y="203.52" width="36.61" height="5.70" fill="#fafee0"/>
<rect x="594.34" y="203.52" width="18.50" height="5.70" fill="#f8ffc0"/>
<rect x="612.45" y="203.52" width="9.45" height="5.70" fill="#fafee0"/>
<rect x="395.20" y="208.82" width="9.45" height="5.70" fill="#0000ff"/>
<rect x="404.25" y="208.82" width="9.45" height="5.70" fill="#7070f8"/>
<rect x="413.30" y="208.82" width="18.50" height="5.70" fill="#9090f8"/>
<rect x="431.41" y="208.82" width="9.45" height="5.70" fill="#a0a0f8"/>
<rect x="440.46" y="208.82" width="18.50" height="5.70" fill="#c0c0fc"/>
<rect x="458.56" y="208.82" width="9.45" height="5.70" fill="#d0d0fc"/>
<rect x="467.62" y="208.82" width="9.45" height="5.70" fill="#e0e0ff"/>
<rect x="476.67" y="208.82" width="18.50" height="5.70" fill="#f0f0ff"/>
<rect x="494.77" y="208.82" width="18.50" height="5.70" fill="#fcfff0"/>
<rect x="512.88" y="208.82" width="45.66" height="5.70" fill="#f0f0ff"/>
<rect x="558.14" y="208.82" width="36.61" height="5.70" fill="#fcfff0"/>
<rect x="594.34" y="208.82" width="27.56" height="5.70" fill="#fafee0"/>
<rect x="395.20" y="214.12" width="9.45" height="5.70" fill="#0000ff"/>
<rect x="404.25" y="214.12" width="9.45" height="5.70" fill="#7070f8"/>
<rect x="413.30" y="214.12" width="9.45" height="5.70" fill="#8080f8"/>
<rect x="422.36" y="214.12" width="9.45" height="5.70" fill="#9090f8"/>
<rect x="431.41" y="214.12" width="9.45" height="5.70" fill="#a0a0f8"/>
<rect x="440.46" y="214.12" width="9.45" height="5.70" fill="#b0b0fa"/>
<rect x="449.51" y="214.12" width="9.45" height="5.70" fill="#c0c0fc"/>
<rect x="458.56" y="214.12" width="9.45" height="5.70" fill="#d0d0fc"/>
<rect x="467.62" y="214.12" width="9.45" height="5.70" fill="#e0e0ff"/>
<rect x="476.67" y="214.12" width="9.45" height="5.70" fill="#f0f0ff"/>
<rect x="485.72" y="214.12" width="9.45" height="5.70" fill="#e0e0ff"/>
<rect x="494.77" y="214.12" width="45.66" height="5.70" fill="#f0f0ff"/>
<rect x="540.03" y="214.12" width="9.45" height="5.70" fill="#e0e0ff"/>
<rect x="549.08" y="214.12" width="27.56" height="5.70" fill="#f0f0ff"/>
<rect x="576.24" y="214.12" width="45.66" height="5.70" fill="#fcfff0"/>
<rect x="395.20" y="219.41" width="9.45" height="5.70" fill="#0000ff"/>
<rect x="404.25" y="219.41" width="9.45" height="5.70" fill="#7070f8"/>
<rect x="413.30" y="219.41" width="9.45" height="5.70" fill="#8080f8"/>
<rect x="422.36" y="219.41" width="18.50" height="5.70" fill="#9090f8"/>
<rect x="440.46" y="219.41" width="9.45" height="5.70" fill="#b0b0fa"/>
<rect x="449.51" y="219.41" width="9.45" height="5.70" fill="#c0c0fc"/>
<rect x="458.56" y="219.41" width="9.45" height="5.70" fill="#d0d0fc"/>
<rect x="467.62" y="219.41" width="27.56" height="5.70" fill="#e0e0ff"/>
<rect x="494.77" y="219.41" width="18.50" height="5.70" fill="#f0f0ff"/>
<rect x="512.88" y="219.41" width="54.71" height="5.70" fill="#e0e0ff"/>
<rect x="567.19" y="219.41" width="27.56" height="5.70" fill="#f0f0ff"/>
<rect x="594.34" y="219.41" width="27.56" height="5.70" fill="#fcfff0"/>
<rect x="395.20" y="224.71" width="9.45" height="5.70" fill="#0000ff"/>
<rect x="404.25" y="224.71" width="9.45" height="5.70" fill="#6060f8"/>
<rect x="413.30" y="224.71" width="9.45" height="5.70" fill="#8080f8"/>
<rect x="422.36" y="224.71" width="18.50" height="5.70" fill="#9090f8"/>
<rect x="440.46" y="224.71" width="9.45" height="5.70" fill="#a0a0f8"/>
<rect x="449.51" y="224.71" width="9.45" height="5.70" fill="#b0b0fa"/>
<rect x="458.56" y="224.71" width="9.45" height="5.70" fill="#c0c0fc"/>
<rect x="467.62" y="224.71" width="36.61" height="5.70" fill="#e0e0ff"/>
<rect x="503.82" y="224.71" width="9.45" height="5.70" fill="#f0f0ff"/>
<rect x="512.88" y="224.71" width="27.56" height="5.70" fill="#e0e0ff"/>
<rect x="540.03" y="224.71" width="9.45" height="5.70" fill="#d0d0fc"/>
<rect x="549.08" y="224.71" width="45.66" height="5.70" fill="#e0e0ff"/>
<rect x="594.34" y="224.71" width="27.56" height="5.70" fill="#f0f0ff"/>
<rect x="395.20" y="230.01" width="9.45" height="5.70" fill="#0000ff"/>
<rect x="404.25" y="230.01" width="9.45" height="5.70" fill="#6060f8"/>
<rect x="413.30" y="230.01" width="18.50" height="5.70" fill="#8080f8"/>
<rect x="431.41" y="230.01" width="9.45" height="5.70" fill="#9090f8"/>
<rect x="440.46" y="230.01" width="9.45" height="5.70" fill="#a0a0f8"/>
<rect x="449.51" y="230.01" width="9.45" height="5.70" fill="#b0b0fa"/>
<rect x="458.56" y="230.01" width="9.45" height="5.70" fill="#c0c0fc"/>
<rect x="467.62" y="230.01" width="9.45" height="5.70" fill="#d0d0fc"/>
<rect x="476.67" y="230.01" width="9.45" height="5.70" fill="#e0e0ff"/>
<rect x="485.72" y="230.01" width="9.45" height="5.70" fill="#d0d0fc"/>
<rect x="494.77" y="230.01" width="18.50" height="5.70" fill="#e0e0ff"/>
<rect x="512.88" y="230.01" width="9.45" height="5.70" fill="#d0d0fc"/>
<rect x="521.93" y="230.01" width="9.45" height="5.70" fill="#e0e0ff"/>
<rect x="530.98" y="230.01" width="45.66" height="5.70" fill="#d0d0fc"/>
<rect x="576.24" y="230.01" width="27.56" height="5.70" fill="#e0e0ff"/>
<rect x="603.40" y="230.01" width="9.45" height="5.70" fill="#f0f0ff"/>
<rect x="612.45" y="230.01" width="9.45" height="5.70" fill="#e0e0ff"/>
<rect x="395.20" y="235.31" width="9.45" height="5.70" fill="#0000ff"/>
<rect x="404.25" y="235.31" width="9.45" height="5.70" fill="#6060f8"/>
<rect x="413.30" y="235.31" width="9.45" height="5.70" fill="#7070f8"/>
<rect x="422.36" y="235.31" width="18.50" height="5.70" fill="#8080f8"/>
<rect x="440.46" y="235.31" width="9.45" height="5.70" fill="#9090f8"/>
<rect x="449.51" y="235.31" width="9.45" height="5.70" fill="#a0a0f8"/>
<rect x="458.56" y="235.31" width="9.45" height="5.70" fill="#c0c0fc"/>
<rect x="467.62" y="235.31" width="9.45" height="5.70" fill="#d0d0fc"/>
<rect x="476.67" y="235.31" width="9.45" height="5.70" fill="#e0e0ff"/>
<rect x="485.72" y="235.31" width="9.45" height="5.70" fill="#d0d0fc"/>
<rect x="494.77" y="235.31" width="18.50" height="5.70" fill="#e0e0ff"/>
<rect x="512.88" y="235.31" width="27.56" height="5.70" fill="#d0d0fc"/>
<rect x="540.03" y="235.31" width="9.45" height="5.70" fill="#c0c0fc"/>
<rect x="549.08" y="235.31" width="9.45" height="5.70" fill="#d0d0fc"/>
<rect x="558.14" y="235.31" width="9.45" height="5.70" fill="#c0c0fc"/>
<rect x="567.19" y="235.31" width="27.56" height="5.70" fill="#d0d0fc"/>
<rect x="594.34" y="235.31" width="27.56" height="5.70" fill="#e0e0ff"/>
<rect x="395.20" y="240.60" width="9.45" height="5.70" fill="#0000ff"/>
<rect x="404.25" y="240.60" width="9.45" height="5.70" fill="#6060f8"/>
<rect x="413.30" y="240.60" width="9.45" height="5.70" fill="#7070f8"/>
<rect x="422.36" y="240.60" width="18.50" height="5.70" fill="#8080f8"/>
<rect x="440.46" y="240.60" width="9.45" height="5.70" fill="#9090f8"/>
<rect x="449.51" y="240.60" width="9.45" height="5.70" fill="#a0a0f8"/>
<rect x="458.56" y="240.60" width="9.45" height="5.70" fill="#b0b0fa"/>
<rect x="467.62" y="240.60" width="9.45" height="5.70" fill="#d0d0fc"/>
<rect x="476.67" y="240.60" width="9.45" height="5.70" fill="#e0e0ff"/>
<rect x="485.72" y="240.60" width="9.45" height="5.70" fill="#d0d0fc"/>
<rect x="494.77" y="240.60" width="9.45" height="5.70" fill="#e0e0ff"/>
<rect x="503.82" y="240.60" width="36.61" height="5.70" fill="#d0d0fc"/>
<rect x="540.03" y="240.60" width="9.45" height="5.70" fill="#b0b0fa"/>
<rect x="549.08" y="240.60" width="18.50" height="5.70" fill="#c0c0fc"/>
<rect x="567.19" y="240.60" width="54.71" height="5.70" fill="#d0d0fc"/>
<rect x="395.20" y="245.90" width="9.45" height="5.70" fill="#0000ff"/>
<rect x="404.25" y="245.90" width="9.45" height="5.70" fill="#5050f8"/>
<rect x="413.30" y="245.90" width="9.45" height="5.70" fill="#7070f8"/>
<rect x="422.36" y="245.90" width="18.50" height="5.70" fill="#8080f8"/>
<rect x="440.46" y="245.90" width="18.50" height="5.70" fill="#9090f8"/>
<rect x="458.56" y="245.90" width="9.45" height="5.70" fill="#b0b0fa"/>
<rect x="467.62" y="245.90" width="9.45" height="5.70" fill="#c0c0fc"/>
<rect x="476.67" y="245.90" width="18.50" height="5.70" fill="#d0d0fc"/>
<rect x="494.77" y="245.90" width="9.45" height="5.70" fill="#e0e0ff"/>
<rect x="503.82" y="245.90" width="9.45" height="5.70" fill="#d0d0fc"/>
<rect x="512.88" y="245.90" width="27.56" height="5.70" fill="#c0c0fc"/>
<rect x="540.03" y="245.90" width="9.45" height="5.70" fill="#b0b0fa"/>
<rect x="549.08" y="245.90" width="9.45" height="5.70" fill="#c0c0fc"/>
<rect x="558.14" y="245.90" width="9.45" height="5.70" fill="#b0b0fa"/>
<rect x="567.19" y="245.90" width="54.71" height="5.70" fill="#c0c0fc"/></g>
<path clip-path="url(#clipB)" d="M404.43,31.19 C404.47,33.49 404.56,40.75 404.65,45.00 C404.73,49.26 404.79,53.22 404.94,56.70 C405.09,60.17 405.26,63.04 405.52,65.84 C405.78,68.64 406.07,70.87 406.51,73.49 C406.95,76.11 407.39,78.59 408.15,81.57 C408.91,84.55 409.94,88.02 411.06,91.35 C412.19,94.68 413.45,98.15 414.89,101.56 C416.33,104.96 418.10,108.43 419.70,111.76 C421.31,115.09 422.95,118.21 424.51,121.54 C426.08,124.87 427.14,127.71 429.11,131.74 C431.07,135.78 433.89,141.42 436.29,145.78 C438.69,150.13 440.70,154.03 443.50,157.89 C446.31,161.76 450.27,165.80 453.09,168.95 C455.91,172.10 457.73,174.19 460.42,176.82 C463.10,179.44 466.27,182.27 469.20,184.68 C472.13,187.09 474.82,189.29 477.99,191.27 C481.15,193.26 484.79,195.17 488.19,196.59 C491.59,198.01 495.00,198.86 498.40,199.78 C501.80,200.70 504.95,201.37 508.60,202.12 C512.26,202.86 516.65,203.60 520.30,204.24 C523.96,204.88 527.04,205.38 530.51,205.94 C533.98,206.51 537.50,207.15 541.12,207.64 C544.73,208.14 548.50,208.62 552.20,208.92 C555.90,209.22 557.76,209.36 563.32,209.45 C568.87,209.54 578.11,209.47 585.51,209.45 C592.91,209.43 601.67,209.36 607.71,209.34 C613.75,209.33 619.41,209.34 621.75,209.34" fill="none" stroke="#303030" stroke-width="1.3" stroke-dasharray="5,3.5"/>
<rect x="395.2" y="34.0" width="226.30" height="217.20" fill="none" stroke="#303030" stroke-width="1"/>
<line x1="390.70" y1="249.10" x2="395.20" y2="249.10" stroke="#303030" stroke-width="1"/>
<text x="388.20" y="252.40" font-size="9.2" text-anchor="end">0</text>
<line x1="390.70" y1="206.58" x2="395.20" y2="206.58" stroke="#303030" stroke-width="1"/>
<text x="388.20" y="209.88" font-size="9.2" text-anchor="end">20</text>
<line x1="390.70" y1="164.06" x2="395.20" y2="164.06" stroke="#303030" stroke-width="1"/>
<text x="388.20" y="167.36" font-size="9.2" text-anchor="end">40</text>
<line x1="390.70" y1="121.54" x2="395.20" y2="121.54" stroke="#303030" stroke-width="1"/>
<text x="388.20" y="124.84" font-size="9.2" text-anchor="end">60</text>
<line x1="390.70" y1="79.02" x2="395.20" y2="79.02" stroke="#303030" stroke-width="1"/>
<text x="388.20" y="82.32" font-size="9.2" text-anchor="end">80</text>
<line x1="390.70" y1="36.50" x2="395.20" y2="36.50" stroke="#303030" stroke-width="1"/>
<text x="388.20" y="39.80" font-size="9.2" text-anchor="end">100</text>
<line x1="399.40" y1="251.20" x2="399.40" y2="255.70" stroke="#303030" stroke-width="1"/>
<text x="402.70" y="258.80" font-size="9.1" text-anchor="end" transform="rotate(-90 402.7 258.8)">1000</text>
<line x1="435.85" y1="251.20" x2="435.85" y2="255.70" stroke="#303030" stroke-width="1"/>
<text x="439.15" y="258.80" font-size="9.1" text-anchor="end" transform="rotate(-90 439.15 258.8)">2000</text>
<line x1="472.30" y1="251.20" x2="472.30" y2="255.70" stroke="#303030" stroke-width="1"/>
<text x="475.60" y="258.80" font-size="9.1" text-anchor="end" transform="rotate(-90 475.59999999999997 258.8)">3000</text>
<line x1="508.75" y1="251.20" x2="508.75" y2="255.70" stroke="#303030" stroke-width="1"/>
<text x="512.05" y="258.80" font-size="9.1" text-anchor="end" transform="rotate(-90 512.05 258.8)">4000</text>
<line x1="545.20" y1="251.20" x2="545.20" y2="255.70" stroke="#303030" stroke-width="1"/>
<text x="548.50" y="258.80" font-size="9.1" text-anchor="end" transform="rotate(-90 548.5 258.8)">5000</text>
<line x1="581.65" y1="251.20" x2="581.65" y2="255.70" stroke="#303030" stroke-width="1"/>
<text x="584.95" y="258.80" font-size="9.1" text-anchor="end" transform="rotate(-90 584.9499999999999 258.8)">6000</text>
<line x1="618.10" y1="251.20" x2="618.10" y2="255.70" stroke="#303030" stroke-width="1"/>
<text x="621.40" y="258.80" font-size="9.1" text-anchor="end" transform="rotate(-90 621.4 258.8)">7000</text>
<rect x="632.7" y="245.22" width="15.30" height="7.58" fill="#0000ff"/>
<rect x="632.7" y="237.93" width="15.30" height="7.58" fill="#1010fa"/>
<rect x="632.7" y="230.65" width="15.30" height="7.58" fill="#2828f8"/>
<rect x="632.7" y="223.37" width="15.30" height="7.58" fill="#4040f8"/>
<rect x="632.7" y="216.08" width="15.30" height="7.58" fill="#5050f8"/>
<rect x="632.7" y="208.80" width="15.30" height="7.58" fill="#6060f8"/>
<rect x="632.7" y="201.52" width="15.30" height="7.58" fill="#7070f8"/>
<rect x="632.7" y="194.23" width="15.30" height="7.58" fill="#8080f8"/>
<rect x="632.7" y="186.95" width="15.30" height="7.58" fill="#9090f8"/>
<rect x="632.7" y="179.67" width="15.30" height="7.58" fill="#a0a0f8"/>
<rect x="632.7" y="172.38" width="15.30" height="7.58" fill="#b0b0fa"/>
<rect x="632.7" y="165.10" width="15.30" height="7.58" fill="#c0c0fc"/>
<rect x="632.7" y="157.82" width="15.30" height="7.58" fill="#d0d0fc"/>
<rect x="632.7" y="150.53" width="15.30" height="7.58" fill="#e0e0ff"/>
<rect x="632.7" y="143.25" width="15.30" height="7.58" fill="#f0f0ff"/>
<rect x="632.7" y="135.97" width="15.30" height="7.58" fill="#fcfff0"/>
<rect x="632.7" y="128.68" width="15.30" height="7.58" fill="#fafee0"/>
<rect x="632.7" y="121.40" width="15.30" height="7.58" fill="#f8ffc0"/>
<rect x="632.7" y="114.12" width="15.30" height="7.58" fill="#f4ffa0"/>
<rect x="632.7" y="106.83" width="15.30" height="7.58" fill="#f0ff80"/>
<rect x="632.7" y="99.55" width="15.30" height="7.58" fill="#f0ff60"/>
<rect x="632.7" y="92.27" width="15.30" height="7.58" fill="#f0ff40"/>
<rect x="632.7" y="84.98" width="15.30" height="7.58" fill="#f0ff30"/>
<rect x="632.7" y="77.70" width="15.30" height="7.58" fill="#e8d040"/>
<rect x="632.7" y="70.42" width="15.30" height="7.58" fill="#e8a830"/>
<rect x="632.7" y="63.13" width="15.30" height="7.58" fill="#e88a28"/>
<rect x="632.7" y="55.85" width="15.30" height="7.58" fill="#f06a20"/>
<rect x="632.7" y="48.57" width="15.30" height="7.58" fill="#f05020"/>
<rect x="632.7" y="41.28" width="15.30" height="7.58" fill="#f83c18"/>
<rect x="632.7" y="34.00" width="15.30" height="7.58" fill="#f82010"/>
<rect x="632.7" y="34.0" width="15.30" height="218.50" fill="none" stroke="#606060" stroke-width="0.8"/>
<line x1="648.00" y1="34.00" x2="651.50" y2="34.00" stroke="#303030" stroke-width="0.9"/>
<text x="655.10" y="36.60" font-size="7.2" text-anchor="start">201.0</text>
<line x1="648.00" y1="77.70" x2="651.50" y2="77.70" stroke="#303030" stroke-width="0.9"/>
<text x="655.10" y="80.30" font-size="7.2" text-anchor="start">160.8</text>
<line x1="648.00" y1="121.40" x2="651.50" y2="121.40" stroke="#303030" stroke-width="0.9"/>
<text x="655.10" y="124.00" font-size="7.2" text-anchor="start">120.6</text>
<line x1="648.00" y1="165.10" x2="651.50" y2="165.10" stroke="#303030" stroke-width="0.9"/>
<text x="655.10" y="167.70" font-size="7.2" text-anchor="start">80.4</text>
<line x1="648.00" y1="208.80" x2="651.50" y2="208.80" stroke="#303030" stroke-width="0.9"/>
<text x="655.10" y="211.40" font-size="7.2" text-anchor="start">40.2</text>
<line x1="648.00" y1="252.50" x2="651.50" y2="252.50" stroke="#303030" stroke-width="0.9"/>
<text x="655.10" y="255.10" font-size="7.2" text-anchor="start">0.0</text>
<text x="598.00" y="24.90" font-size="11.1" text-anchor="start">Temperature (<tspan font-size="0.62em" dy="-0.42em">o</tspan><tspan dy="0.26em">C</tspan>)</text>
<text x="508.50" y="293.60" font-size="11.1" text-anchor="middle">Depth (m)</text>
<text x="369.20" y="142.20" font-size="11.2" text-anchor="middle" transform="rotate(-90 369.2 142.2)">Thermal gradient (<tspan font-size="0.62em" dy="-0.42em">o</tspan><tspan dy="0.26em">C</tspan>/Km)</text>
<text x="346.50" y="16.00" font-size="19.5" text-anchor="start" textLength="15.5" lengthAdjust="spacingAndGlyphs">b)</text>
<g shape-rendering="crispEdges"><rect x="43.30" y="324.00" width="18.46" height="5.68" fill="#2400f8"/>
<rect x="61.36" y="324.00" width="18.46" height="5.68" fill="#2a14f4"/>
<rect x="79.43" y="324.00" width="9.43" height="5.68" fill="#3430f4"/>
<rect x="88.46" y="324.00" width="9.43" height="5.68" fill="#3c50f4"/>
<rect x="97.49" y="324.00" width="9.43" height="5.68" fill="#4470f4"/>
<rect x="106.52" y="324.00" width="9.43" height="5.68" fill="#50a8f4"/>
<rect x="115.56" y="324.00" width="9.43" height="5.68" fill="#58b8f4"/>
<rect x="124.59" y="324.00" width="9.43" height="5.68" fill="#60c8f4"/>
<rect x="133.62" y="324.00" width="9.43" height="5.68" fill="#70e4f8"/>
<rect x="142.65" y="324.00" width="9.43" height="5.68" fill="#88f4fc"/>
<rect x="151.68" y="324.00" width="9.43" height="5.68" fill="#a8fce8"/>
<rect x="160.72" y="324.00" width="9.43" height="5.68" fill="#e0fca0"/>
<rect x="169.75" y="324.00" width="9.43" height="5.68" fill="#f0f870"/>
<rect x="178.78" y="324.00" width="9.43" height="5.68" fill="#e8c840"/>
<rect x="187.81" y="324.00" width="9.43" height="5.68" fill="#e8b030"/>
<rect x="196.84" y="324.00" width="9.43" height="5.68" fill="#e89028"/>
<rect x="205.88" y="324.00" width="9.43" height="5.68" fill="#ee7c20"/>
<rect x="214.91" y="324.00" width="9.43" height="5.68" fill="#f85818"/>
<rect x="223.94" y="324.00" width="9.43" height="5.68" fill="#f84818"/>
<rect x="232.97" y="324.00" width="9.43" height="5.68" fill="#f83018"/>
<rect x="242.00" y="324.00" width="9.43" height="5.68" fill="#f02010"/>
<rect x="251.04" y="324.00" width="9.43" height="5.68" fill="#c81e10"/>
<rect x="260.07" y="324.00" width="9.43" height="5.68" fill="#9a1410"/>
<rect x="43.30" y="329.28" width="18.46" height="5.68" fill="#2400f8"/>
<rect x="61.36" y="329.28" width="18.46" height="5.68" fill="#2a14f4"/>
<rect x="79.43" y="329.28" width="9.43" height="5.68" fill="#3430f4"/>
<rect x="88.46" y="329.28" width="9.43" height="5.68" fill="#3c50f4"/>
<rect x="97.49" y="329.28" width="9.43" height="5.68" fill="#4470f4"/>
<rect x="106.52" y="329.28" width="9.43" height="5.68" fill="#4890f4"/>
<rect x="115.56" y="329.28" width="9.43" height="5.68" fill="#58b8f4"/>
<rect x="124.59" y="329.28" width="9.43" height="5.68" fill="#60c8f4"/>
<rect x="133.62" y="329.28" width="9.43" height="5.68" fill="#68d8f8"/>
<rect x="142.65" y="329.28" width="9.43" height="5.68" fill="#88f4fc"/>
<rect x="151.68" y="329.28" width="9.43" height="5.68" fill="#a8fce8"/>
<rect x="160.72" y="329.28" width="9.43" height="5.68" fill="#e0fca0"/>
<rect x="169.75" y="329.28" width="9.43" height="5.68" fill="#f0f870"/>
<rect x="178.78" y="329.28" width="9.43" height="5.68" fill="#e8c840"/>
<rect x="187.81" y="329.28" width="9.43" height="5.68" fill="#e8b030"/>
<rect x="196.84" y="329.28" width="9.43" height="5.68" fill="#e89028"/>
<rect x="205.88" y="329.28" width="9.43" height="5.68" fill="#ee7c20"/>
<rect x="214.91" y="329.28" width="9.43" height="5.68" fill="#f06820"/>
<rect x="223.94" y="329.28" width="9.43" height="5.68" fill="#f84818"/>
<rect x="232.97" y="329.28" width="9.43" height="5.68" fill="#f83018"/>
<rect x="242.00" y="329.28" width="9.43" height="5.68" fill="#f02010"/>
<rect x="251.04" y="329.28" width="9.43" height="5.68" fill="#c81e10"/>
<rect x="260.07" y="329.28" width="9.43" height="5.68" fill="#9a1410"/>
<rect x="43.30" y="334.56" width="27.50" height="5.68" fill="#2400f8"/>
<rect x="70.40" y="334.56" width="9.43" height="5.68" fill="#2a14f4"/>
<rect x="79.43" y="334.56" width="9.43" height="5.68" fill="#3430f4"/>
<rect x="88.46" y="334.56" width="9.43" height="5.68" fill="#3c50f4"/>
<rect x="97.49" y="334.56" width="9.43" height="5.68" fill="#4470f4"/>
<rect x="106.52" y="334.56" width="9.43" height="5.68" fill="#4890f4"/>
<rect x="115.56" y="334.56" width="9.43" height="5.68" fill="#58b8f4"/>
<rect x="124.59" y="334.56" width="9.43" height="5.68" fill="#60c8f4"/>
<rect x="133.62" y="334.56" width="9.43" height="5.68" fill="#68d8f8"/>
<rect x="142.65" y="334.56" width="9.43" height="5.68" fill="#88f4fc"/>
<rect x="151.68" y="334.56" width="9.43" height="5.68" fill="#a8fce8"/>
<rect x="160.72" y="334.56" width="9.43" height="5.68" fill="#c8fcc0"/>
<rect x="169.75" y="334.56" width="9.43" height="5.68" fill="#f0f870"/>
<rect x="178.78" y="334.56" width="9.43" height="5.68" fill="#e8e050"/>
<rect x="187.81" y="334.56" width="9.43" height="5.68" fill="#e8b030"/>
<rect x="196.84" y="334.56" width="9.43" height="5.68" fill="#e8a030"/>
<rect x="205.88" y="334.56" width="9.43" height="5.68" fill="#ee7c20"/>
<rect x="214.91" y="334.56" width="9.43" height="5.68" fill="#f06820"/>
<rect x="223.94" y="334.56" width="9.43" height="5.68" fill="#f85818"/>
<rect x="232.97" y="334.56" width="9.43" height="5.68" fill="#f84818"/>
<rect x="242.00" y="334.56" width="9.43" height="5.68" fill="#f02010"/>
<rect x="251.04" y="334.56" width="9.43" height="5.68" fill="#c81e10"/>
<rect x="260.07" y="334.56" width="9.43" height="5.68" fill="#9a1410"/>
<rect x="43.30" y="339.83" width="27.50" height="5.68" fill="#2400f8"/>
<rect x="70.40" y="339.83" width="9.43" height="5.68" fill="#2a14f4"/>
<rect x="79.43" y="339.83" width="9.43" height="5.68" fill="#3430f4"/>
<rect x="88.46" y="339.83" width="9.43" height="5.68" fill="#3c50f4"/>
<rect x="97.49" y="339.83" width="9.43" height="5.68" fill="#4470f4"/>
<rect x="106.52" y="339.83" width="9.43" height="5.68" fill="#4890f4"/>
<rect x="115.56" y="339.83" width="9.43" height="5.68" fill="#50a8f4"/>
<rect x="124.59" y="339.83" width="9.43" height="5.68" fill="#60c8f4"/>
<rect x="133.62" y="339.83" width="9.43" height="5.68" fill="#68d8f8"/>
<rect x="142.65" y="339.83" width="9.43" height="5.68" fill="#70e4f8"/>
<rect x="151.68" y="339.83" width="9.43" height="5.68" fill="#a8fce8"/>
<rect x="160.72" y="339.83" width="9.43" height="5.68" fill="#c8fcc0"/>
<rect x="169.75" y="339.83" width="9.43" height="5.68" fill="#e0fca0"/>
<rect x="178.78" y="339.83" width="9.43" height="5.68" fill="#e8e050"/>
<rect x="187.81" y="339.83" width="9.43" height="5.68" fill="#e8c840"/>
<rect x="196.84" y="339.83" width="9.43" height="5.68" fill="#e8a030"/>
<rect x="205.88" y="339.83" width="9.43" height="5.68" fill="#e89028"/>
<rect x="214.91" y="339.83" width="9.43" height="5.68" fill="#ee7c20"/>
<rect x="223.94" y="339.83" width="9.43" height="5.68" fill="#f85818"/>
<rect x="232.97" y="339.83" width="9.43" height="5.68" fill="#f84818"/>
<rect x="242.00" y="339.83" width="9.43" height="5.68" fill="#f83018"/>
<rect x="251.04" y="339.83" width="9.43" height="5.68" fill="#f02010"/>
<rect x="260.07" y="339.83" width="9.43" height="5.68" fill="#c81e10"/>
<rect x="43.30" y="345.11" width="27.50" height="5.68" fill="#2400f8"/>
<rect x="70.40" y="345.11" width="9.43" height="5.68" fill="#2a14f4"/>
<rect x="79.43" y="345.11" width="9.43" height="5.68" fill="#3430f4"/>
<rect x="88.46" y="345.11" width="9.43" height="5.68" fill="#3c50f4"/>
<rect x="97.49" y="345.11" width="9.43" height="5.68" fill="#4470f4"/>
<rect x="106.52" y="345.11" width="9.43" height="5.68" fill="#4890f4"/>
<rect x="115.56" y="345.11" width="9.43" height="5.68" fill="#50a8f4"/>
<rect x="124.59" y="345.11" width="9.43" height="5.68" fill="#58b8f4"/>
<rect x="133.62" y="345.11" width="9.43" height="5.68" fill="#68d8f8"/>
<rect x="142.65" y="345.11" width="9.43" height="5.68" fill="#70e4f8"/>
<rect x="151.68" y="345.11" width="9.43" height="5.68" fill="#88f4fc"/>
<rect x="160.72" y="345.11" width="9.43" height="5.68" fill="#c8fcc0"/>
<rect x="169.75" y="345.11" width="9.43" height="5.68" fill="#e0fca0"/>
<rect x="178.78" y="345.11" width="9.43" height="5.68" fill="#f0f870"/>
<rect x="187.81" y="345.11" width="9.43" height="5.68" fill="#e8c840"/>
<rect x="196.84" y="345.11" width="9.43" height="5.68" fill="#e8b030"/>
<rect x="205.88" y="345.11" width="9.43" height="5.68" fill="#e8a030"/>
<rect x="214.91" y="345.11" width="9.43" height="5.68" fill="#ee7c20"/>
<rect x="223.94" y="345.11" width="9.43" height="5.68" fill="#f06820"/>
<rect x="232.97" y="345.11" width="9.43" height="5.68" fill="#f85818"/>
<rect x="242.00" y="345.11" width="9.43" height="5.68" fill="#f84818"/>
<rect x="251.04" y="345.11" width="9.43" height="5.68" fill="#f83018"/>
<rect x="260.07" y="345.11" width="9.43" height="5.68" fill="#f02010"/>
<rect x="43.30" y="350.39" width="27.50" height="5.68" fill="#2400f8"/>
<rect x="70.40" y="350.39" width="9.43" height="5.68" fill="#2a14f4"/>
<rect x="79.43" y="350.39" width="9.43" height="5.68" fill="#3430f4"/>
<rect x="88.46" y="350.39" width="9.43" height="5.68" fill="#3c50f4"/>
<rect x="97.49" y="350.39" width="9.43" height="5.68" fill="#4470f4"/>
<rect x="106.52" y="350.39" width="9.43" height="5.68" fill="#4890f4"/>
<rect x="115.56" y="350.39" width="9.43" height="5.68" fill="#50a8f4"/>
<rect x="124.59" y="350.39" width="9.43" height="5.68" fill="#58b8f4"/>
<rect x="133.62" y="350.39" width="9.43" height="5.68" fill="#60c8f4"/>
<rect x="142.65" y="350.39" width="9.43" height="5.68" fill="#70e4f8"/>
<rect x="151.68" y="350.39" width="9.43" height="5.68" fill="#88f4fc"/>
<rect x="160.72" y="350.39" width="9.43" height="5.68" fill="#a8fce8"/>
<rect x="169.75" y="350.39" width="9.43" height="5.68" fill="#e0fca0"/>
<rect x="178.78" y="350.39" width="9.43" height="5.68" fill="#f0f870"/>
<rect x="187.81" y="350.39" width="9.43" height="5.68" fill="#e8e050"/>
<rect x="196.84" y="350.39" width="9.43" height="5.68" fill="#e8b030"/>
<rect x="205.88" y="350.39" width="9.43" height="5.68" fill="#e8a030"/>
<rect x="214.91" y="350.39" width="9.43" height="5.68" fill="#e89028"/>
<rect x="223.94" y="350.39" width="9.43" height="5.68" fill="#ee7c20"/>
<rect x="232.97" y="350.39" width="9.43" height="5.68" fill="#f06820"/>
<rect x="242.00" y="350.39" width="9.43" height="5.68" fill="#f84818"/>
<rect x="251.04" y="350.39" width="9.43" height="5.68" fill="#f83018"/>
<rect x="260.07" y="350.39" width="9.43" height="5.68" fill="#f02010"/>
<rect x="43.30" y="355.67" width="27.50" height="5.68" fill="#2400f8"/>
<rect x="70.40" y="355.67" width="9.43" height="5.68" fill="#2a14f4"/>
<rect x="79.43" y="355.67" width="9.43" height="5.68" fill="#3430f4"/>
<rect x="88.46" y="355.67" width="9.43" height="5.68" fill="#3c50f4"/>
<rect x="97.49" y="355.67" width="9.43" height="5.68" fill="#4470f4"/>
<rect x="106.52" y="355.67" width="9.43" height="5.68" fill="#4890f4"/>
<rect x="115.56" y="355.67" width="9.43" height="5.68" fill="#50a8f4"/>
<rect x="124.59" y="355.67" width="9.43" height="5.68" fill="#58b8f4"/>
<rect x="133.62" y="355.67" width="9.43" height="5.68" fill="#60c8f4"/>
<rect x="142.65" y="355.67" width="9.43" height="5.68" fill="#68d8f8"/>
<rect x="151.68" y="355.67" width="9.43" height="5.68" fill="#88f4fc"/>
<rect x="160.72" y="355.67" width="9.43" height="5.68" fill="#a8fce8"/>
<rect x="169.75" y="355.67" width="9.43" height="5.68" fill="#c8fcc0"/>
<rect x="178.78" y="355.67" width="9.43" height="5.68" fill="#e0fca0"/>
<rect x="187.81" y="355.67" width="9.43" height="5.68" fill="#e8e050"/>
<rect x="196.84" y="355.67" width="9.43" height="5.68" fill="#e8c840"/>
<rect x="205.88" y="355.67" width="9.43" height="5.68" fill="#e8b030"/>
<rect x="214.91" y="355.67" width="9.43" height="5.68" fill="#e8a030"/>
<rect x="223.94" y="355.67" width="9.43" height="5.68" fill="#ee7c20"/>
<rect x="232.97" y="355.67" width="9.43" height="5.68" fill="#f06820"/>
<rect x="242.00" y="355.67" width="9.43" height="5.68" fill="#f85818"/>
<rect x="251.04" y="355.67" width="9.43" height="5.68" fill="#f84818"/>
<rect x="260.07" y="355.67" width="9.43" height="5.68" fill="#f83018"/>
<rect x="43.30" y="360.95" width="27.50" height="5.68" fill="#2400f8"/>
<rect x="70.40" y="360.95" width="9.43" height="5.68" fill="#2a14f4"/>
<rect x="79.43" y="360.95" width="18.46" height="5.68" fill="#3430f4"/>
<rect x="97.49" y="360.95" width="9.43" height="5.68" fill="#3c50f4"/>
<rect x="106.52" y="360.95" width="9.43" height="5.68" fill="#4470f4"/>
<rect x="115.56" y="360.95" width="9.43" height="5.68" fill="#50a8f4"/>
<rect x="124.59" y="360.95" width="9.43" height="5.68" fill="#58b8f4"/>
<rect x="133.62" y="360.95" width="9.43" height="5.68" fill="#60c8f4"/>
<rect x="142.65" y="360.95" width="9.43" height="5.68" fill="#68d8f8"/>
<rect x="151.68" y="360.95" width="9.43" height="5.68" fill="#70e4f8"/>
<rect x="160.72" y="360.95" width="9.43" height="5.68" fill="#88f4fc"/>
<rect x="169.75" y="360.95" width="9.43" height="5.68" fill="#c8fcc0"/>
<rect x="178.78" y="360.95" width="9.43" height="5.68" fill="#e0fca0"/>
<rect x="187.81" y="360.95" width="9.43" height="5.68" fill="#f0f870"/>
<rect x="196.84" y="360.95" width="9.43" height="5.68" fill="#e8e050"/>
<rect x="205.88" y="360.95" width="9.43" height="5.68" fill="#e8c840"/>
<rect x="214.91" y="360.95" width="9.43" height="5.68" fill="#e8a030"/>
<rect x="223.94" y="360.95" width="9.43" height="5.68" fill="#e89028"/>
<rect x="232.97" y="360.95" width="9.43" height="5.68" fill="#ee7c20"/>
<rect x="242.00" y="360.95" width="9.43" height="5.68" fill="#f06820"/>
<rect x="251.04" y="360.95" width="9.43" height="5.68" fill="#f85818"/>
<rect x="260.07" y="360.95" width="9.43" height="5.68" fill="#f84818"/>
<rect x="43.30" y="366.22" width="27.50" height="5.68" fill="#2400f8"/>
<rect x="70.40" y="366.22" width="18.46" height="5.68" fill="#2a14f4"/>
<rect x="88.46" y="366.22" width="9.43" height="5.68" fill="#3430f4"/>
<rect x="97.49" y="366.22" width="9.43" height="5.68" fill="#3c50f4"/>
<rect x="106.52" y="366.22" width="9.43" height="5.68" fill="#4470f4"/>
<rect x="115.56" y="366.22" width="9.43" height="5.68" fill="#4890f4"/>
<rect x="124.59" y="366.22" width="9.43" height="5.68" fill="#50a8f4"/>
<rect x="133.62" y="366.22" width="9.43" height="5.68" fill="#58b8f4"/>
<rect x="142.65" y="366.22" width="9.43" height="5.68" fill="#68d8f8"/>
<rect x="151.68" y="366.22" width="9.43" height="5.68" fill="#70e4f8"/>
<rect x="160.72" y="366.22" width="9.43" height="5.68" fill="#88f4fc"/>
<rect x="169.75" y="366.22" width="9.43" height="5.68" fill="#a8fce8"/>
<rect x="178.78" y="366.22" width="9.43" height="5.68" fill="#c8fcc0"/>
<rect x="187.81" y="366.22" width="9.43" height="5.68" fill="#e0fca0"/>
<rect x="196.84" y="366.22" width="9.43" height="5.68" fill="#e8e050"/>
<rect x="205.88" y="366.22" width="9.43" height="5.68" fill="#e8c840"/>
<rect x="214.91" y="366.22" width="9.43" height="5.68" fill="#e8b030"/>
<rect x="223.94" y="366.22" width="9.43" height="5.68" fill="#e8a030"/>
<rect x="232.97" y="366.22" width="9.43" height="5.68" fill="#e89028"/>
<rect x="242.00" y="366.22" width="9.43" height="5.68" fill="#ee7c20"/>
<rect x="251.04" y="366.22" width="9.43" height="5.68" fill="#f06820"/>
<rect x="260.07" y="366.22" width="9.43" height="5.68" fill="#f85818"/>
<rect x="43.30" y="371.50" width="36.53" height="5.68" fill="#2400f8"/>
<rect x="79.43" y="371.50" width="9.43" height="5.68" fill="#2a14f4"/>
<rect x="88.46" y="371.50" width="9.43" height="5.68" fill="#3430f4"/>
<rect x="97.49" y="371.50" width="9.43" height="5.68" fill="#3c50f4"/>
<rect x="106.52" y="371.50" width="9.43" height="5.68" fill="#4470f4"/>
<rect x="115.56" y="371.50" width="9.43" height="5.68" fill="#4890f4"/>
<rect x="124.59" y="371.50" width="9.43" height="5.68" fill="#50a8f4"/>
<rect x="133.62" y="371.50" width="9.43" height="5.68" fill="#58b8f4"/>
<rect x="142.65" y="371.50" width="9.43" height="5.68" fill="#60c8f4"/>
<rect x="151.68" y="371.50" width="9.43" height="5.68" fill="#68d8f8"/>
<rect x="160.72" y="371.50" width="9.43" height="5.68" fill="#70e4f8"/>
<rect x="169.75" y="371.50" width="9.43" height="5.68" fill="#88f4fc"/>
<rect x="178.78" y="371.50" width="9.43" height="5.68" fill="#c8fcc0"/>
<rect x="187.81" y="371.50" width="9.43" height="5.68" fill="#e0fca0"/>
<rect x="196.84" y="371.50" width="9.43" height="5.68" fill="#f0f870"/>
<rect x="205.88" y="371.50" width="9.43" height="5.68" fill="#e8e050"/>
<rect x="214.91" y="371.50" width="9.43" height="5.68" fill="#e8c840"/>
<rect x="223.94" y="371.50" width="9.43" height="5.68" fill="#e8b030"/>
<rect x="232.97" y="371.50" width="9.43" height="5.68" fill="#e8a030"/>
<rect x="242.00" y="371.50" width="9.43" height="5.68" fill="#e89028"/>
<rect x="251.04" y="371.50" width="9.43" height="5.68" fill="#ee7c20"/>
<rect x="260.07" y="371.50" width="9.43" height="5.68" fill="#f06820"/>
<rect x="43.30" y="376.78" width="36.53" height="5.68" fill="#2400f8"/>
<rect x="79.43" y="376.78" width="9.43" height="5.68" fill="#2a14f4"/>
<rect x="88.46" y="376.78" width="9.43" height="5.68" fill="#3430f4"/>
<rect x="97.49" y="376.78" width="9.43" height="5.68" fill="#3c50f4"/>
<rect x="106.52" y="376.78" width="9.43" height="5.68" fill="#4470f4"/>
<rect x="115.56" y="376.78" width="9.43" height="5.68" fill="#4890f4"/>
<rect x="124.59" y="376.78" width="9.43" height="5.68" fill="#50a8f4"/>
<rect x="133.62" y="376.78" width="9.43" height="5.68" fill="#58b8f4"/>
<rect x="142.65" y="376.78" width="9.43" height="5.68" fill="#60c8f4"/>
<rect x="151.68" y="376.78" width="9.43" height="5.68" fill="#68d8f8"/>
<rect x="160.72" y="376.78" width="9.43" height="5.68" fill="#70e4f8"/>
<rect x="169.75" y="376.78" width="9.43" height="5.68" fill="#88f4fc"/>
<rect x="178.78" y="376.78" width="9.43" height="5.68" fill="#a8fce8"/>
<rect x="187.81" y="376.78" width="9.43" height="5.68" fill="#c8fcc0"/>
<rect x="196.84" y="376.78" width="9.43" height="5.68" fill="#e0fca0"/>
<rect x="205.88" y="376.78" width="9.43" height="5.68" fill="#f0f870"/>
<rect x="214.91" y="376.78" width="9.43" height="5.68" fill="#e8e050"/>
<rect x="223.94" y="376.78" width="9.43" height="5.68" fill="#e8c840"/>
<rect x="232.97" y="376.78" width="9.43" height="5.68" fill="#e8b030"/>
<rect x="242.00" y="376.78" width="9.43" height="5.68" fill="#e8a030"/>
<rect x="251.04" y="376.78" width="9.43" height="5.68" fill="#e89028"/>
<rect x="260.07" y="376.78" width="9.43" height="5.68" fill="#ee7c20"/>
<rect x="43.30" y="382.06" width="36.53" height="5.68" fill="#2400f8"/>
<rect x="79.43" y="382.06" width="9.43" height="5.68" fill="#2a14f4"/>
<rect x="88.46" y="382.06" width="9.43" height="5.68" fill="#3430f4"/>
<rect x="97.49" y="382.06" width="9.43" height="5.68" fill="#3c50f4"/>
<rect x="106.52" y="382.06" width="9.43" height="5.68" fill="#4470f4"/>
<rect x="115.56" y="382.06" width="9.43" height="5.68" fill="#4890f4"/>
<rect x="124.59" y="382.06" width="18.46" height="5.68" fill="#50a8f4"/>
<rect x="142.65" y="382.06" width="9.43" height="5.68" fill="#58b8f4"/>
<rect x="151.68" y="382.06" width="9.43" height="5.68" fill="#60c8f4"/>
<rect x="160.72" y="382.06" width="9.43" height="5.68" fill="#68d8f8"/>
<rect x="169.75" y="382.06" width="9.43" height="5.68" fill="#70e4f8"/>
<rect x="178.78" y="382.06" width="9.43" height="5.68" fill="#88f4fc"/>
<rect x="187.81" y="382.06" width="9.43" height="5.68" fill="#a8fce8"/>
<rect x="196.84" y="382.06" width="9.43" height="5.68" fill="#c8fcc0"/>
<rect x="205.88" y="382.06" width="9.43" height="5.68" fill="#e0fca0"/>
<rect x="214.91" y="382.06" width="9.43" height="5.68" fill="#e8e050"/>
<rect x="223.94" y="382.06" width="9.43" height="5.68" fill="#e8c840"/>
<rect x="232.97" y="382.06" width="9.43" height="5.68" fill="#e8b030"/>
<rect x="242.00" y="382.06" width="18.46" height="5.68" fill="#e8a030"/>
<rect x="260.07" y="382.06" width="9.43" height="5.68" fill="#e89028"/>
<rect x="43.30" y="387.34" width="36.53" height="5.68" fill="#2400f8"/>
<rect x="79.43" y="387.34" width="9.43" height="5.68" fill="#2a14f4"/>
<rect x="88.46" y="387.34" width="9.43" height="5.68" fill="#3430f4"/>
<rect x="97.49" y="387.34" width="18.46" height="5.68" fill="#3c50f4"/>
<rect x="115.56" y="387.34" width="9.43" height="5.68" fill="#4470f4"/>
<rect x="124.59" y="387.34" width="9.43" height="5.68" fill="#4890f4"/>
<rect x="133.62" y="387.34" width="9.43" height="5.68" fill="#50a8f4"/>
<rect x="142.65" y="387.34" width="9.43" height="5.68" fill="#58b8f4"/>
<rect x="151.68" y="387.34" width="9.43" height="5.68" fill="#60c8f4"/>
<rect x="160.72" y="387.34" width="9.43" height="5.68" fill="#68d8f8"/>
<rect x="169.75" y="387.34" width="9.43" height="5.68" fill="#70e4f8"/>
<rect x="178.78" y="387.34" width="9.43" height="5.68" fill="#88f4fc"/>
<rect x="187.81" y="387.34" width="9.43" height="5.68" fill="#a8fce8"/>
<rect x="196.84" y="387.34" width="9.43" height="5.68" fill="#c8fcc0"/>
<rect x="205.88" y="387.34" width="9.43" height="5.68" fill="#e0fca0"/>
<rect x="214.91" y="387.34" width="9.43" height="5.68" fill="#f0f870"/>
<rect x="223.94" y="387.34" width="9.43" height="5.68" fill="#e8e050"/>
<rect x="232.97" y="387.34" width="9.43" height="5.68" fill="#e8c840"/>
<rect x="242.00" y="387.34" width="9.43" height="5.68" fill="#e8b030"/>
<rect x="251.04" y="387.34" width="18.46" height="5.68" fill="#e8a030"/>
<rect x="43.30" y="392.61" width="36.53" height="5.68" fill="#2400f8"/>
<rect x="79.43" y="392.61" width="9.43" height="5.68" fill="#2a14f4"/>
<rect x="88.46" y="392.61" width="18.46" height="5.68" fill="#3430f4"/>
<rect x="106.52" y="392.61" width="9.43" height="5.68" fill="#3c50f4"/>
<rect x="115.56" y="392.61" width="9.43" height="5.68" fill="#4470f4"/>
<rect x="124.59" y="392.61" width="9.43" height="5.68" fill="#4890f4"/>
<rect x="133.62" y="392.61" width="9.43" height="5.68" fill="#50a8f4"/>
<rect x="142.65" y="392.61" width="9.43" height="5.68" fill="#58b8f4"/>
<rect x="151.68" y="392.61" width="9.43" height="5.68" fill="#60c8f4"/>
<rect x="160.72" y="392.61" width="18.46" height="5.68" fill="#68d8f8"/>
<rect x="178.78" y="392.61" width="9.43" height="5.68" fill="#70e4f8"/>
<rect x="187.81" y="392.61" width="9.43" height="5.68" fill="#88f4fc"/>
<rect x="196.84" y="392.61" width="9.43" height="5.68" fill="#a8fce8"/>
<rect x="205.88" y="392.61" width="9.43" height="5.68" fill="#c8fcc0"/>
<rect x="214.91" y="392.61" width="9.43" height="5.68" fill="#e0fca0"/>
<rect x="223.94" y="392.61" width="9.43" height="5.68" fill="#f0f870"/>
<rect x="232.97" y="392.61" width="9.43" height="5.68" fill="#e8e050"/>
<rect x="242.00" y="392.61" width="9.43" height="5.68" fill="#e8c840"/>
<rect x="251.04" y="392.61" width="9.43" height="5.68" fill="#e8b030"/>
<rect x="260.07" y="392.61" width="9.43" height="5.68" fill="#e8a030"/>
<rect x="43.30" y="397.89" width="36.53" height="5.68" fill="#2400f8"/>
<rect x="79.43" y="397.89" width="18.46" height="5.68" fill="#2a14f4"/>
<rect x="97.49" y="397.89" width="9.43" height="5.68" fill="#3430f4"/>
<rect x="106.52" y="397.89" width="9.43" height="5.68" fill="#3c50f4"/>
<rect x="115.56" y="397.89" width="9.43" height="5.68" fill="#4470f4"/>
<rect x="124.59" y="397.89" width="9.43" height="5.68" fill="#4890f4"/>
<rect x="133.62" y="397.89" width="18.46" height="5.68" fill="#50a8f4"/>
<rect x="151.68" y="397.89" width="9.43" height="5.68" fill="#58b8f4"/>
<rect x="160.72" y="397.89" width="9.43" height="5.68" fill="#60c8f4"/>
<rect x="169.75" y="397.89" width="9.43" height="5.68" fill="#68d8f8"/>
<rect x="178.78" y="397.89" width="9.43" height="5.68" fill="#70e4f8"/>
<rect x="187.81" y="397.89" width="9.43" height="5.68" fill="#88f4fc"/>
<rect x="196.84" y="397.89" width="18.46" height="5.68" fill="#a8fce8"/>
<rect x="214.91" y="397.89" width="9.43" height="5.68" fill="#c8fcc0"/>
<rect x="223.94" y="397.89" width="9.43" height="5.68" fill="#e0fca0"/>
<rect x="232.97" y="397.89" width="9.43" height="5.68" fill="#f0f870"/>
<rect x="242.00" y="397.89" width="9.43" height="5.68" fill="#e8e050"/>
<rect x="251.04" y="397.89" width="9.43" height="5.68" fill="#e8c840"/>
<rect x="260.07" y="397.89" width="9.43" height="5.68" fill="#e8b030"/>
<rect x="43.30" y="403.17" width="36.53" height="5.68" fill="#2400f8"/>
<rect x="79.43" y="403.17" width="18.46" height="5.68" fill="#2a14f4"/>
<rect x="97.49" y="403.17" width="9.43" height="5.68" fill="#3430f4"/>
<rect x="106.52" y="403.17" width="9.43" height="5.68" fill="#3c50f4"/>
<rect x="115.56" y="403.17" width="9.43" height="5.68" fill="#4470f4"/>
<rect x="124.59" y="403.17" width="18.46" height="5.68" fill="#4890f4"/>
<rect x="142.65" y="403.17" width="9.43" height="5.68" fill="#50a8f4"/>
<rect x="151.68" y="403.17" width="9.43" height="5.68" fill="#58b8f4"/>
<rect x="160.72" y="403.17" width="9.43" height="5.68" fill="#60c8f4"/>
<rect x="169.75" y="403.17" width="18.46" height="5.68" fill="#68d8f8"/>
<rect x="187.81" y="403.17" width="9.43" height="5.68" fill="#70e4f8"/>
<rect x="196.84" y="403.17" width="9.43" height="5.68" fill="#88f4fc"/>
<rect x="205.88" y="403.17" width="9.43" height="5.68" fill="#a8fce8"/>
<rect x="214.91" y="403.17" width="18.46" height="5.68" fill="#c8fcc0"/>
<rect x="232.97" y="403.17" width="9.43" height="5.68" fill="#e0fca0"/>
<rect x="242.00" y="403.17" width="9.43" height="5.68" fill="#f0f870"/>
<rect x="251.04" y="403.17" width="9.43" height="5.68" fill="#e8e050"/>
<rect x="260.07" y="403.17" width="9.43" height="5.68" fill="#e8c840"/>
<rect x="43.30" y="408.45" width="45.56" height="5.68" fill="#2400f8"/>
<rect x="88.46" y="408.45" width="9.43" height="5.68" fill="#2a14f4"/>
<rect x="97.49" y="408.45" width="9.43" height="5.68" fill="#3430f4"/>
<rect x="106.52" y="408.45" width="9.43" height="5.68" fill="#3c50f4"/>
<rect x="115.56" y="408.45" width="18.46" height="5.68" fill="#4470f4"/>
<rect x="133.62" y="408.45" width="9.43" height="5.68" fill="#4890f4"/>
<rect x="142.65" y="408.45" width="9.43" height="5.68" fill="#50a8f4"/>
<rect x="151.68" y="408.45" width="18.46" height="5.68" fill="#58b8f4"/>
<rect x="169.75" y="408.45" width="9.43" height="5.68" fill="#60c8f4"/>
<rect x="178.78" y="408.45" width="9.43" height="5.68" fill="#68d8f8"/>
<rect x="187.81" y="408.45" width="18.46" height="5.68" fill="#70e4f8"/>
<rect x="205.88" y="408.45" width="9.43" height="5.68" fill="#88f4fc"/>
<rect x="214.91" y="408.45" width="9.43" height="5.68" fill="#a8fce8"/>
<rect x="223.94" y="408.45" width="18.46" height="5.68" fill="#c8fcc0"/>
<rect x="242.00" y="408.45" width="9.43" height="5.68" fill="#e0fca0"/>
<rect x="251.04" y="408.45" width="9.43" height="5.68" fill="#f0f870"/>
<rect x="260.07" y="408.45" width="9.43" height="5.68" fill="#e8e050"/>
<rect x="43.30" y="413.73" width="45.56" height="5.68" fill="#2400f8"/>
<rect x="88.46" y="413.73" width="9.43" height="5.68" fill="#2a14f4"/>
<rect x="97.49" y="413.73" width="9.43" height="5.68" fill="#3430f4"/>
<rect x="106.52" y="413.73" width="9.43" height="5.68" fill="#3c50f4"/>
<rect x="115.56" y="413.73" width="18.46" height="5.68" fill="#4470f4"/>
<rect x="133.62" y="413.73" width="9.43" height="5.68" fill="#4890f4"/>
<rect x="142.65" y="413.73" width="18.46" height="5.68" fill="#50a8f4"/>
<rect x="160.72" y="413.73" width="9.43" height="5.68" fill="#58b8f4"/>
<rect x="169.75" y="413.73" width="18.46" height="5.68" fill="#60c8f4"/>
<rect x="187.81" y="413.73" width="9.43" height="5.68" fill="#68d8f8"/>
<rect x="196.84" y="413.73" width="18.46" height="5.68" fill="#70e4f8"/>
<rect x="214.91" y="413.73" width="9.43" height="5.68" fill="#88f4fc"/>
<rect x="223.94" y="413.73" width="9.43" height="5.68" fill="#a8fce8"/>
<rect x="232.97" y="413.73" width="18.46" height="5.68" fill="#c8fcc0"/>
<rect x="251.04" y="413.73" width="9.43" height="5.68" fill="#e0fca0"/>
<rect x="260.07" y="413.73" width="9.43" height="5.68" fill="#f0f870"/>
<rect x="43.30" y="419.00" width="45.56" height="5.68" fill="#2400f8"/>
<rect x="88.46" y="419.00" width="9.43" height="5.68" fill="#2a14f4"/>
<rect x="97.49" y="419.00" width="9.43" height="5.68" fill="#3430f4"/>
<rect x="106.52" y="419.00" width="18.46" height="5.68" fill="#3c50f4"/>
<rect x="124.59" y="419.00" width="9.43" height="5.68" fill="#4470f4"/>
<rect x="133.62" y="419.00" width="18.46" height="5.68" fill="#4890f4"/>
<rect x="151.68" y="419.00" width="9.43" height="5.68" fill="#50a8f4"/>
<rect x="160.72" y="419.00" width="18.46" height="5.68" fill="#58b8f4"/>
<rect x="178.78" y="419.00" width="9.43" height="5.68" fill="#60c8f4"/>
<rect x="187.81" y="419.00" width="18.46" height="5.68" fill="#68d8f8"/>
<rect x="205.88" y="419.00" width="9.43" height="5.68" fill="#70e4f8"/>
<rect x="214.91" y="419.00" width="18.46" height="5.68" fill="#88f4fc"/>
<rect x="232.97" y="419.00" width="9.43" height="5.68" fill="#a8fce8"/>
<rect x="242.00" y="419.00" width="18.46" height="5.68" fill="#c8fcc0"/>
<rect x="260.07" y="419.00" width="9.43" height="5.68" fill="#e0fca0"/>
<rect x="43.30" y="424.28" width="45.56" height="5.68" fill="#2400f8"/>
<rect x="88.46" y="424.28" width="9.43" height="5.68" fill="#2a14f4"/>
<rect x="97.49" y="424.28" width="9.43" height="5.68" fill="#3430f4"/>
<rect x="106.52" y="424.28" width="18.46" height="5.68" fill="#3c50f4"/>
<rect x="124.59" y="424.28" width="9.43" height="5.68" fill="#4470f4"/>
<rect x="133.62" y="424.28" width="18.46" height="5.68" fill="#4890f4"/>
<rect x="151.68" y="424.28" width="18.46" height="5.68" fill="#50a8f4"/>
<rect x="169.75" y="424.28" width="9.43" height="5.68" fill="#58b8f4"/>
<rect x="178.78" y="424.28" width="18.46" height="5.68" fill="#60c8f4"/>
<rect x="196.84" y="424.28" width="18.46" height="5.68" fill="#68d8f8"/>
<rect x="214.91" y="424.28" width="9.43" height="5.68" fill="#70e4f8"/>
<rect x="223.94" y="424.28" width="18.46" height="5.68" fill="#88f4fc"/>
<rect x="242.00" y="424.28" width="9.43" height="5.68" fill="#a8fce8"/>
<rect x="251.04" y="424.28" width="18.46" height="5.68" fill="#c8fcc0"/>
<rect x="43.30" y="429.56" width="45.56" height="5.68" fill="#2400f8"/>
<rect x="88.46" y="429.56" width="9.43" height="5.68" fill="#2a14f4"/>
<rect x="97.49" y="429.56" width="18.46" height="5.68" fill="#3430f4"/>
<rect x="115.56" y="429.56" width="9.43" height="5.68" fill="#3c50f4"/>
<rect x="124.59" y="429.56" width="18.46" height="5.68" fill="#4470f4"/>
<rect x="142.65" y="429.56" width="9.43" height="5.68" fill="#4890f4"/>
<rect x="151.68" y="429.56" width="18.46" height="5.68" fill="#50a8f4"/>
<rect x="169.75" y="429.56" width="18.46" height="5.68" fill="#58b8f4"/>
<rect x="187.81" y="429.56" width="18.46" height="5.68" fill="#60c8f4"/>
<rect x="205.88" y="429.56" width="18.46" height="5.68" fill="#68d8f8"/>
<rect x="223.94" y="429.56" width="18.46" height="5.68" fill="#70e4f8"/>
<rect x="242.00" y="429.56" width="9.43" height="5.68" fill="#88f4fc"/>
<rect x="251.04" y="429.56" width="18.46" height="5.68" fill="#a8fce8"/>
<rect x="43.30" y="434.84" width="45.56" height="5.68" fill="#2400f8"/>
<rect x="88.46" y="434.84" width="18.46" height="5.68" fill="#2a14f4"/>
<rect x="106.52" y="434.84" width="9.43" height="5.68" fill="#3430f4"/>
<rect x="115.56" y="434.84" width="9.43" height="5.68" fill="#3c50f4"/>
<rect x="124.59" y="434.84" width="18.46" height="5.68" fill="#4470f4"/>
<rect x="142.65" y="434.84" width="18.46" height="5.68" fill="#4890f4"/>
<rect x="160.72" y="434.84" width="18.46" height="5.68" fill="#50a8f4"/>
<rect x="178.78" y="434.84" width="18.46" height="5.68" fill="#58b8f4"/>
<rect x="196.84" y="434.84" width="18.46" height="5.68" fill="#60c8f4"/>
<rect x="214.91" y="434.84" width="18.46" height="5.68" fill="#68d8f8"/>
<rect x="232.97" y="434.84" width="18.46" height="5.68" fill="#70e4f8"/>
<rect x="251.04" y="434.84" width="9.43" height="5.68" fill="#88f4fc"/>
<rect x="260.07" y="434.84" width="9.43" height="5.68" fill="#a8fce8"/>
<rect x="43.30" y="440.12" width="54.59" height="5.68" fill="#2400f8"/>
<rect x="97.49" y="440.12" width="9.43" height="5.68" fill="#2a14f4"/>
<rect x="106.52" y="440.12" width="9.43" height="5.68" fill="#3430f4"/>
<rect x="115.56" y="440.12" width="18.46" height="5.68" fill="#3c50f4"/>
<rect x="133.62" y="440.12" width="18.46" height="5.68" fill="#4470f4"/>
<rect x="151.68" y="440.12" width="18.46" height="5.68" fill="#4890f4"/>
<rect x="169.75" y="440.12" width="18.46" height="5.68" fill="#50a8f4"/>
<rect x="187.81" y="440.12" width="18.46" height="5.68" fill="#58b8f4"/>
<rect x="205.88" y="440.12" width="18.46" height="5.68" fill="#60c8f4"/>
<rect x="223.94" y="440.12" width="18.46" height="5.68" fill="#68d8f8"/>
<rect x="242.00" y="440.12" width="18.46" height="5.68" fill="#70e4f8"/>
<rect x="260.07" y="440.12" width="9.43" height="5.68" fill="#88f4fc"/>
<rect x="43.30" y="445.40" width="54.59" height="5.68" fill="#2400f8"/>
<rect x="97.49" y="445.40" width="9.43" height="5.68" fill="#2a14f4"/>
<rect x="106.52" y="445.40" width="18.46" height="5.68" fill="#3430f4"/>
<rect x="124.59" y="445.40" width="9.43" height="5.68" fill="#3c50f4"/>
<rect x="133.62" y="445.40" width="18.46" height="5.68" fill="#4470f4"/>
<rect x="151.68" y="445.40" width="27.50" height="5.68" fill="#4890f4"/>
<rect x="178.78" y="445.40" width="18.46" height="5.68" fill="#50a8f4"/>
<rect x="196.84" y="445.40" width="27.50" height="5.68" fill="#58b8f4"/>
<rect x="223.94" y="445.40" width="18.46" height="5.68" fill="#60c8f4"/>
<rect x="242.00" y="445.40" width="18.46" height="5.68" fill="#68d8f8"/>
<rect x="260.07" y="445.40" width="9.43" height="5.68" fill="#70e4f8"/>
<rect x="43.30" y="450.67" width="54.59" height="5.68" fill="#2400f8"/>
<rect x="97.49" y="450.67" width="18.46" height="5.68" fill="#2a14f4"/>
<rect x="115.56" y="450.67" width="9.43" height="5.68" fill="#3430f4"/>
<rect x="124.59" y="450.67" width="18.46" height="5.68" fill="#3c50f4"/>
<rect x="142.65" y="450.67" width="18.46" height="5.68" fill="#4470f4"/>
<rect x="160.72" y="450.67" width="27.50" height="5.68" fill="#4890f4"/>
<rect x="187.81" y="450.67" width="27.50" height="5.68" fill="#50a8f4"/>
<rect x="214.91" y="450.67" width="18.46" height="5.68" fill="#58b8f4"/>
<rect x="232.97" y="450.67" width="18.46" height="5.68" fill="#60c8f4"/>
<rect x="251.04" y="450.67" width="18.46" height="5.68" fill="#68d8f8"/>
<rect x="43.30" y="455.95" width="63.62" height="5.68" fill="#2400f8"/>
<rect x="106.52" y="455.95" width="9.43" height="5.68" fill="#2a14f4"/>
<rect x="115.56" y="455.95" width="18.46" height="5.68" fill="#3430f4"/>
<rect x="133.62" y="455.95" width="18.46" height="5.68" fill="#3c50f4"/>
<rect x="151.68" y="455.95" width="18.46" height="5.68" fill="#4470f4"/>
<rect x="169.75" y="455.95" width="27.50" height="5.68" fill="#4890f4"/>
<rect x="196.84" y="455.95" width="27.50" height="5.68" fill="#50a8f4"/>
<rect x="223.94" y="455.95" width="27.50" height="5.68" fill="#58b8f4"/>
<rect x="251.04" y="455.95" width="18.46" height="5.68" fill="#60c8f4"/>
<rect x="43.30" y="461.23" width="72.66" height="5.68" fill="#2400f8"/>
<rect x="115.56" y="461.23" width="9.43" height="5.68" fill="#2a14f4"/>
<rect x="124.59" y="461.23" width="18.46" height="5.68" fill="#3430f4"/>
<rect x="142.65" y="461.23" width="18.46" height="5.68" fill="#3c50f4"/>
<rect x="160.72" y="461.23" width="27.50" height="5.68" fill="#4470f4"/>
<rect x="187.81" y="461.23" width="36.53" height="5.68" fill="#4890f4"/>
<rect x="223.94" y="461.23" width="18.46" height="5.68" fill="#50a8f4"/>
<rect x="242.00" y="461.23" width="18.46" height="5.68" fill="#58b8f4"/>
<rect x="260.07" y="461.23" width="9.43" height="5.68" fill="#60c8f4"/>
<rect x="43.30" y="466.51" width="72.66" height="5.68" fill="#2400f8"/>
<rect x="115.56" y="466.51" width="18.46" height="5.68" fill="#2a14f4"/>
<rect x="133.62" y="466.51" width="18.46" height="5.68" fill="#3430f4"/>
<rect x="151.68" y="466.51" width="27.50" height="5.68" fill="#3c50f4"/>
<rect x="178.78" y="466.51" width="27.50" height="5.68" fill="#4470f4"/>
<rect x="205.88" y="466.51" width="36.53" height="5.68" fill="#4890f4"/>
<rect x="242.00" y="466.51" width="18.46" height="5.68" fill="#50a8f4"/>
<rect x="260.07" y="466.51" width="9.43" height="5.68" fill="#58b8f4"/>
<rect x="43.30" y="471.79" width="81.69" height="5.68" fill="#2400f8"/>
<rect x="124.59" y="471.79" width="18.46" height="5.68" fill="#2a14f4"/>
<rect x="142.65" y="471.79" width="18.46" height="5.68" fill="#3430f4"/>
<rect x="160.72" y="471.79" width="36.53" height="5.68" fill="#3c50f4"/>
<rect x="196.84" y="471.79" width="36.53" height="5.68" fill="#4470f4"/>
<rect x="232.97" y="471.79" width="27.50" height="5.68" fill="#4890f4"/>
<rect x="260.07" y="471.79" width="9.43" height="5.68" fill="#50a8f4"/>
<rect x="43.30" y="477.06" width="99.75" height="5.68" fill="#2400f8"/>
<rect x="142.65" y="477.06" width="18.46" height="5.68" fill="#2a14f4"/>
<rect x="160.72" y="477.06" width="27.50" height="5.68" fill="#3430f4"/>
<rect x="187.81" y="477.06" width="45.56" height="5.68" fill="#3c50f4"/>
<rect x="232.97" y="477.06" width="27.50" height="5.68" fill="#4470f4"/>
<rect x="260.07" y="477.06" width="9.43" height="5.68" fill="#4890f4"/>
<rect x="43.30" y="482.34" width="108.78" height="5.68" fill="#2400f8"/>
<rect x="151.68" y="482.34" width="36.53" height="5.68" fill="#2a14f4"/>
<rect x="187.81" y="482.34" width="45.56" height="5.68" fill="#3430f4"/>
<rect x="232.97" y="482.34" width="27.50" height="5.68" fill="#3c50f4"/>
<rect x="260.07" y="482.34" width="9.43" height="5.68" fill="#4470f4"/>
<rect x="43.30" y="487.62" width="144.91" height="5.68" fill="#2400f8"/>
<rect x="187.81" y="487.62" width="45.56" height="5.68" fill="#2a14f4"/>
<rect x="232.97" y="487.62" width="27.50" height="5.68" fill="#3430f4"/>
<rect x="260.07" y="487.62" width="9.43" height="5.68" fill="#3c50f4"/>
<rect x="43.30" y="492.90" width="199.10" height="5.68" fill="#2400f8"/>
<rect x="242.00" y="492.90" width="27.50" height="5.68" fill="#2a14f4"/>
<rect x="43.30" y="498.18" width="226.20" height="5.68" fill="#2400f8"/>
<rect x="43.30" y="503.45" width="226.20" height="5.68" fill="#2400f8"/>
<rect x="43.30" y="508.73" width="226.20" height="5.68" fill="#2400f8"/>
<rect x="43.30" y="514.01" width="226.20" height="5.68" fill="#2400f8"/>
<rect x="43.30" y="519.29" width="226.20" height="5.68" fill="#2400f8"/>
<rect x="43.30" y="524.57" width="226.20" height="5.68" fill="#2400f8"/>
<rect x="43.30" y="529.84" width="226.20" height="5.68" fill="#2400f8"/>
<rect x="43.30" y="535.12" width="226.20" height="5.68" fill="#2400f8"/></g>
<path clip-path="url(#clipC)" d="M52.88,321.11 C52.92,323.40 53.01,330.63 53.10,334.86 C53.18,339.09 53.24,343.04 53.39,346.49 C53.53,349.95 53.71,352.80 53.96,355.59 C54.22,358.37 54.51,360.59 54.94,363.20 C55.37,365.81 55.81,368.28 56.56,371.24 C57.32,374.20 58.34,377.65 59.45,380.97 C60.57,384.28 61.82,387.73 63.24,391.12 C64.67,394.50 66.42,397.96 68.01,401.27 C69.60,404.58 71.22,407.69 72.77,411.00 C74.33,414.31 75.38,417.13 77.32,421.15 C79.26,425.17 82.06,430.78 84.43,435.11 C86.81,439.45 88.81,443.32 91.58,447.17 C94.35,451.01 98.28,455.03 101.08,458.16 C103.87,461.30 105.67,463.38 108.33,465.99 C110.99,468.60 114.13,471.42 117.03,473.82 C119.93,476.21 122.60,478.40 125.73,480.37 C128.87,482.35 132.47,484.25 135.84,485.66 C139.21,487.07 142.58,487.92 145.95,488.83 C149.32,489.75 152.44,490.42 156.06,491.16 C159.67,491.90 164.03,492.64 167.64,493.27 C171.26,493.91 174.32,494.40 177.75,494.97 C181.19,495.53 184.68,496.16 188.26,496.66 C191.84,497.15 195.57,497.63 199.23,497.93 C202.90,498.23 204.74,498.37 210.24,498.46 C215.74,498.54 224.90,498.47 232.23,498.46 C239.55,498.44 248.23,498.37 254.21,498.35 C260.19,498.33 265.79,498.35 268.11,498.35" fill="none" stroke="#f0f0f0" stroke-width="1.3" stroke-dasharray="5,3.5"/>
<rect x="43.3" y="324.0" width="225.80" height="216.40" fill="none" stroke="#303030" stroke-width="1"/>
<line x1="38.80" y1="537.90" x2="43.30" y2="537.90" stroke="#303030" stroke-width="1"/>
<text x="36.30" y="541.20" font-size="9.2" text-anchor="end">0</text>
<line x1="38.80" y1="495.60" x2="43.30" y2="495.60" stroke="#303030" stroke-width="1"/>
<text x="36.30" y="498.90" font-size="9.2" text-anchor="end">20</text>
<line x1="38.80" y1="453.30" x2="43.30" y2="453.30" stroke="#303030" stroke-width="1"/>
<text x="36.30" y="456.60" font-size="9.2" text-anchor="end">40</text>
<line x1="38.80" y1="411.00" x2="43.30" y2="411.00" stroke="#303030" stroke-width="1"/>
<text x="36.30" y="414.30" font-size="9.2" text-anchor="end">60</text>
<line x1="38.80" y1="368.70" x2="43.30" y2="368.70" stroke="#303030" stroke-width="1"/>
<text x="36.30" y="372.00" font-size="9.2" text-anchor="end">80</text>
<line x1="38.80" y1="326.40" x2="43.30" y2="326.40" stroke="#303030" stroke-width="1"/>
<text x="36.30" y="329.70" font-size="9.2" text-anchor="end">100</text>
<line x1="47.90" y1="540.40" x2="47.90" y2="544.90" stroke="#303030" stroke-width="1"/>
<text x="51.20" y="548.00" font-size="9.1" text-anchor="end" transform="rotate(-90 51.199999999999996 548.0)">1000</text>
<line x1="84.00" y1="540.40" x2="84.00" y2="544.90" stroke="#303030" stroke-width="1"/>
<text x="87.30" y="548.00" font-size="9.1" text-anchor="end" transform="rotate(-90 87.3 548.0)">2000</text>
<line x1="120.10" y1="540.40" x2="120.10" y2="544.90" stroke="#303030" stroke-width="1"/>
<text x="123.40" y="548.00" font-size="9.1" text-anchor="end" transform="rotate(-90 123.39999999999999 548.0)">3000</text>
<line x1="156.20" y1="540.40" x2="156.20" y2="544.90" stroke="#303030" stroke-width="1"/>
<text x="159.50" y="548.00" font-size="9.1" text-anchor="end" transform="rotate(-90 159.50000000000003 548.0)">4000</text>
<line x1="192.30" y1="540.40" x2="192.30" y2="544.90" stroke="#303030" stroke-width="1"/>
<text x="195.60" y="548.00" font-size="9.1" text-anchor="end" transform="rotate(-90 195.60000000000002 548.0)">5000</text>
<line x1="228.40" y1="540.40" x2="228.40" y2="544.90" stroke="#303030" stroke-width="1"/>
<text x="231.70" y="548.00" font-size="9.1" text-anchor="end" transform="rotate(-90 231.70000000000002 548.0)">6000</text>
<line x1="264.50" y1="540.40" x2="264.50" y2="544.90" stroke="#303030" stroke-width="1"/>
<text x="267.80" y="548.00" font-size="9.1" text-anchor="end" transform="rotate(-90 267.8 548.0)">7000</text>
<rect x="283.0" y="531.55" width="14.80" height="7.45" fill="#2400f8"/>
<rect x="283.0" y="524.40" width="14.80" height="7.45" fill="#2a14f4"/>
<rect x="283.0" y="517.25" width="14.80" height="7.45" fill="#3430f4"/>
<rect x="283.0" y="510.10" width="14.80" height="7.45" fill="#3c50f4"/>
<rect x="283.0" y="502.95" width="14.80" height="7.45" fill="#4470f4"/>
<rect x="283.0" y="495.80" width="14.80" height="7.45" fill="#4890f4"/>
<rect x="283.0" y="488.65" width="14.80" height="7.45" fill="#50a8f4"/>
<rect x="283.0" y="481.50" width="14.80" height="7.45" fill="#58b8f4"/>
<rect x="283.0" y="474.35" width="14.80" height="7.45" fill="#60c8f4"/>
<rect x="283.0" y="467.20" width="14.80" height="7.45" fill="#68d8f8"/>
<rect x="283.0" y="460.05" width="14.80" height="7.45" fill="#70e4f8"/>
<rect x="283.0" y="452.90" width="14.80" height="7.45" fill="#88f4fc"/>
<rect x="283.0" y="445.75" width="14.80" height="7.45" fill="#a8fce8"/>
<rect x="283.0" y="438.60" width="14.80" height="7.45" fill="#c8fcc0"/>
<rect x="283.0" y="431.45" width="14.80" height="7.45" fill="#e0fca0"/>
<rect x="283.0" y="424.30" width="14.80" height="7.45" fill="#f0f870"/>
<rect x="283.0" y="417.15" width="14.80" height="7.45" fill="#e8e050"/>
<rect x="283.0" y="410.00" width="14.80" height="7.45" fill="#e8c840"/>
<rect x="283.0" y="402.85" width="14.80" height="7.45" fill="#e8b030"/>
<rect x="283.0" y="395.70" width="14.80" height="7.45" fill="#e8a030"/>
<rect x="283.0" y="388.55" width="14.80" height="7.45" fill="#e89028"/>
<rect x="283.0" y="381.40" width="14.80" height="7.45" fill="#ee7c20"/>
<rect x="283.0" y="374.25" width="14.80" height="7.45" fill="#f06820"/>
<rect x="283.0" y="367.10" width="14.80" height="7.45" fill="#f85818"/>
<rect x="283.0" y="359.95" width="14.80" height="7.45" fill="#f84818"/>
<rect x="283.0" y="352.80" width="14.80" height="7.45" fill="#f83018"/>
<rect x="283.0" y="345.65" width="14.80" height="7.45" fill="#f02010"/>
<rect x="283.0" y="338.50" width="14.80" height="7.45" fill="#c81e10"/>
<rect x="283.0" y="331.35" width="14.80" height="7.45" fill="#9a1410"/>
<rect x="283.0" y="324.20" width="14.80" height="7.45" fill="#781010"/>
<rect x="283.0" y="324.2" width="14.80" height="214.50" fill="none" stroke="#606060" stroke-width="0.8"/>
<line x1="297.80" y1="324.20" x2="301.30" y2="324.20" stroke="#303030" stroke-width="0.9"/>
<text x="305.00" y="326.80" font-size="7.2" text-anchor="start">20.0</text>
<line x1="297.80" y1="367.10" x2="301.30" y2="367.10" stroke="#303030" stroke-width="0.9"/>
<text x="305.00" y="369.70" font-size="7.2" text-anchor="start">16.0</text>
<line x1="297.80" y1="410.00" x2="301.30" y2="410.00" stroke="#303030" stroke-width="0.9"/>
<text x="305.00" y="412.60" font-size="7.2" text-anchor="start">12.0</text>
<line x1="297.80" y1="452.90" x2="301.30" y2="452.90" stroke="#303030" stroke-width="0.9"/>
<text x="305.00" y="455.50" font-size="7.2" text-anchor="start">8.0</text>
<line x1="297.80" y1="495.80" x2="301.30" y2="495.80" stroke="#303030" stroke-width="0.9"/>
<text x="305.00" y="498.40" font-size="7.2" text-anchor="start">4.0</text>
<line x1="297.80" y1="538.70" x2="301.30" y2="538.70" stroke="#303030" stroke-width="0.9"/>
<text x="305.00" y="541.30" font-size="7.2" text-anchor="start">0.0</text>
<text x="277.60" y="316.60" font-size="11.2" text-anchor="start">MWe</text>
<text x="156.40" y="582.40" font-size="11.1" text-anchor="middle">Depth (m)</text>
<text x="17.20" y="432.00" font-size="11.2" text-anchor="middle" transform="rotate(-90 17.2 432.0)">Thermal gradient (<tspan font-size="0.62em" dy="-0.42em">o</tspan><tspan dy="0.26em">C</tspan>/Km)</text>
<text x="0.80" y="300.80" font-size="19.5" text-anchor="start" textLength="13.6" lengthAdjust="spacingAndGlyphs">c)</text>
<g shape-rendering="crispEdges"><rect x="395.70" y="322.80" width="18.35" height="5.64" fill="#2c0406"/>
<rect x="413.65" y="322.80" width="9.38" height="5.64" fill="#480a0a"/>
<rect x="422.63" y="322.80" width="9.38" height="5.64" fill="#600c0c"/>
<rect x="431.60" y="322.80" width="9.38" height="5.64" fill="#801010"/>
<rect x="440.58" y="322.80" width="9.38" height="5.64" fill="#a01410"/>
<rect x="449.56" y="322.80" width="9.38" height="5.64" fill="#e01e10"/>
<rect x="458.53" y="322.80" width="9.38" height="5.64" fill="#f42010"/>
<rect x="467.51" y="322.80" width="9.38" height="5.64" fill="#f82410"/>
<rect x="476.48" y="322.80" width="9.38" height="5.64" fill="#f82c14"/>
<rect x="485.46" y="322.80" width="9.38" height="5.64" fill="#f83418"/>
<rect x="494.44" y="322.80" width="9.38" height="5.64" fill="#f6501c"/>
<rect x="503.41" y="322.80" width="9.38" height="5.64" fill="#f46020"/>
<rect x="512.39" y="322.80" width="9.38" height="5.64" fill="#f27020"/>
<rect x="521.36" y="322.80" width="9.38" height="5.64" fill="#ee9024"/>
<rect x="530.34" y="322.80" width="9.38" height="5.64" fill="#eca028"/>
<rect x="539.32" y="322.80" width="9.38" height="5.64" fill="#eab02a"/>
<rect x="548.29" y="322.80" width="9.38" height="5.64" fill="#e8c830"/>
<rect x="557.27" y="322.80" width="9.38" height="5.64" fill="#f0f828"/>
<rect x="566.24" y="322.80" width="9.38" height="5.64" fill="#f0fc30"/>
<rect x="575.22" y="322.80" width="9.38" height="5.64" fill="#f0fc40"/>
<rect x="584.20" y="322.80" width="9.38" height="5.64" fill="#f0fc60"/>
<rect x="593.17" y="322.80" width="9.38" height="5.64" fill="#f4fca8"/>
<rect x="602.15" y="322.80" width="9.38" height="5.64" fill="#f8fcc8"/>
<rect x="611.12" y="322.80" width="9.38" height="5.64" fill="#fcfee8"/>
<rect x="395.70" y="328.04" width="18.35" height="5.64" fill="#2c0406"/>
<rect x="413.65" y="328.04" width="9.38" height="5.64" fill="#480a0a"/>
<rect x="422.63" y="328.04" width="9.38" height="5.64" fill="#600c0c"/>
<rect x="431.60" y="328.04" width="9.38" height="5.64" fill="#801010"/>
<rect x="440.58" y="328.04" width="9.38" height="5.64" fill="#a01410"/>
<rect x="449.56" y="328.04" width="9.38" height="5.64" fill="#e01e10"/>
<rect x="458.53" y="328.04" width="9.38" height="5.64" fill="#f42010"/>
<rect x="467.51" y="328.04" width="9.38" height="5.64" fill="#f82410"/>
<rect x="476.48" y="328.04" width="9.38" height="5.64" fill="#f82c14"/>
<rect x="485.46" y="328.04" width="9.38" height="5.64" fill="#f83418"/>
<rect x="494.44" y="328.04" width="9.38" height="5.64" fill="#f6501c"/>
<rect x="503.41" y="328.04" width="9.38" height="5.64" fill="#f46020"/>
<rect x="512.39" y="328.04" width="9.38" height="5.64" fill="#f27020"/>
<rect x="521.36" y="328.04" width="9.38" height="5.64" fill="#f08020"/>
<rect x="530.34" y="328.04" width="9.38" height="5.64" fill="#eca028"/>
<rect x="539.32" y="328.04" width="9.38" height="5.64" fill="#eab02a"/>
<rect x="548.29" y="328.04" width="9.38" height="5.64" fill="#e8c830"/>
<rect x="557.27" y="328.04" width="9.38" height="5.64" fill="#ece040"/>
<rect x="566.24" y="328.04" width="9.38" height="5.64" fill="#f0fc30"/>
<rect x="575.22" y="328.04" width="9.38" height="5.64" fill="#f0fc40"/>
<rect x="584.20" y="328.04" width="9.38" height="5.64" fill="#f0fc60"/>
<rect x="593.17" y="328.04" width="9.38" height="5.64" fill="#f2fc80"/>
<rect x="602.15" y="328.04" width="9.38" height="5.64" fill="#f4fca8"/>
<rect x="611.12" y="328.04" width="9.38" height="5.64" fill="#fcfee8"/>
<rect x="395.70" y="333.28" width="18.35" height="5.64" fill="#2c0406"/>
<rect x="413.65" y="333.28" width="9.38" height="5.64" fill="#480a0a"/>
<rect x="422.63" y="333.28" width="9.38" height="5.64" fill="#600c0c"/>
<rect x="431.60" y="333.28" width="9.38" height="5.64" fill="#801010"/>
<rect x="440.58" y="333.28" width="9.38" height="5.64" fill="#a01410"/>
<rect x="449.56" y="333.28" width="9.38" height="5.64" fill="#e01e10"/>
<rect x="458.53" y="333.28" width="9.38" height="5.64" fill="#f42010"/>
<rect x="467.51" y="333.28" width="9.38" height="5.64" fill="#f82410"/>
<rect x="476.48" y="333.28" width="9.38" height="5.64" fill="#f82c14"/>
<rect x="485.46" y="333.28" width="9.38" height="5.64" fill="#f83418"/>
<rect x="494.44" y="333.28" width="9.38" height="5.64" fill="#f6501c"/>
<rect x="503.41" y="333.28" width="9.38" height="5.64" fill="#f46020"/>
<rect x="512.39" y="333.28" width="9.38" height="5.64" fill="#f27020"/>
<rect x="521.36" y="333.28" width="9.38" height="5.64" fill="#f08020"/>
<rect x="530.34" y="333.28" width="9.38" height="5.64" fill="#ee9024"/>
<rect x="539.32" y="333.28" width="9.38" height="5.64" fill="#eab02a"/>
<rect x="548.29" y="333.28" width="9.38" height="5.64" fill="#e8c830"/>
<rect x="557.27" y="333.28" width="9.38" height="5.64" fill="#ece040"/>
<rect x="566.24" y="333.28" width="9.38" height="5.64" fill="#f0f828"/>
<rect x="575.22" y="333.28" width="9.38" height="5.64" fill="#f0fc40"/>
<rect x="584.20" y="333.28" width="9.38" height="5.64" fill="#f0fc60"/>
<rect x="593.17" y="333.28" width="9.38" height="5.64" fill="#f2fc80"/>
<rect x="602.15" y="333.28" width="9.38" height="5.64" fill="#f4fca8"/>
<rect x="611.12" y="333.28" width="9.38" height="5.64" fill="#f8fcc8"/>
<rect x="395.70" y="338.52" width="18.35" height="5.64" fill="#2c0406"/>
<rect x="413.65" y="338.52" width="9.38" height="5.64" fill="#480a0a"/>
<rect x="422.63" y="338.52" width="9.38" height="5.64" fill="#600c0c"/>
<rect x="431.60" y="338.52" width="9.38" height="5.64" fill="#801010"/>
<rect x="440.58" y="338.52" width="9.38" height="5.64" fill="#a01410"/>
<rect x="449.56" y="338.52" width="9.38" height="5.64" fill="#c01a10"/>
<rect x="458.53" y="338.52" width="9.38" height="5.64" fill="#f42010"/>
<rect x="467.51" y="338.52" width="9.38" height="5.64" fill="#f82410"/>
<rect x="476.48" y="338.52" width="9.38" height="5.64" fill="#f82c14"/>
<rect x="485.46" y="338.52" width="9.38" height="5.64" fill="#f83418"/>
<rect x="494.44" y="338.52" width="9.38" height="5.64" fill="#f84018"/>
<rect x="503.41" y="338.52" width="9.38" height="5.64" fill="#f46020"/>
<rect x="512.39" y="338.52" width="9.38" height="5.64" fill="#f27020"/>
<rect x="521.36" y="338.52" width="9.38" height="5.64" fill="#f08020"/>
<rect x="530.34" y="338.52" width="9.38" height="5.64" fill="#ee9024"/>
<rect x="539.32" y="338.52" width="9.38" height="5.64" fill="#eca028"/>
<rect x="548.29" y="338.52" width="9.38" height="5.64" fill="#e8c830"/>
<rect x="557.27" y="338.52" width="9.38" height="5.64" fill="#ece040"/>
<rect x="566.24" y="338.52" width="9.38" height="5.64" fill="#f0f828"/>
<rect x="575.22" y="338.52" width="9.38" height="5.64" fill="#f0fc30"/>
<rect x="584.20" y="338.52" width="9.38" height="5.64" fill="#f0fc40"/>
<rect x="593.17" y="338.52" width="9.38" height="5.64" fill="#f2fc80"/>
<rect x="602.15" y="338.52" width="9.38" height="5.64" fill="#f4fca8"/>
<rect x="611.12" y="338.52" width="9.38" height="5.64" fill="#f8fcc8"/>
<rect x="395.70" y="343.77" width="18.35" height="5.64" fill="#2c0406"/>
<rect x="413.65" y="343.77" width="9.38" height="5.64" fill="#480a0a"/>
<rect x="422.63" y="343.77" width="9.38" height="5.64" fill="#600c0c"/>
<rect x="431.60" y="343.77" width="9.38" height="5.64" fill="#801010"/>
<rect x="440.58" y="343.77" width="9.38" height="5.64" fill="#a01410"/>
<rect x="449.56" y="343.77" width="9.38" height="5.64" fill="#c01a10"/>
<rect x="458.53" y="343.77" width="9.38" height="5.64" fill="#e01e10"/>
<rect x="467.51" y="343.77" width="9.38" height="5.64" fill="#f82410"/>
<rect x="476.48" y="343.77" width="9.38" height="5.64" fill="#f82c14"/>
<rect x="485.46" y="343.77" width="9.38" height="5.64" fill="#f83418"/>
<rect x="494.44" y="343.77" width="9.38" height="5.64" fill="#f84018"/>
<rect x="503.41" y="343.77" width="9.38" height="5.64" fill="#f6501c"/>
<rect x="512.39" y="343.77" width="9.38" height="5.64" fill="#f46020"/>
<rect x="521.36" y="343.77" width="9.38" height="5.64" fill="#f08020"/>
<rect x="530.34" y="343.77" width="9.38" height="5.64" fill="#ee9024"/>
<rect x="539.32" y="343.77" width="9.38" height="5.64" fill="#eca028"/>
<rect x="548.29" y="343.77" width="9.38" height="5.64" fill="#eab02a"/>
<rect x="557.27" y="343.77" width="9.38" height="5.64" fill="#e8c830"/>
<rect x="566.24" y="343.77" width="9.38" height="5.64" fill="#f0f828"/>
<rect x="575.22" y="343.77" width="9.38" height="5.64" fill="#f0fc30"/>
<rect x="584.20" y="343.77" width="9.38" height="5.64" fill="#f0fc40"/>
<rect x="593.17" y="343.77" width="9.38" height="5.64" fill="#f0fc60"/>
<rect x="602.15" y="343.77" width="9.38" height="5.64" fill="#f2fc80"/>
<rect x="611.12" y="343.77" width="9.38" height="5.64" fill="#f4fca8"/>
<rect x="395.70" y="349.01" width="18.35" height="5.64" fill="#2c0406"/>
<rect x="413.65" y="349.01" width="9.38" height="5.64" fill="#480a0a"/>
<rect x="422.63" y="349.01" width="9.38" height="5.64" fill="#600c0c"/>
<rect x="431.60" y="349.01" width="9.38" height="5.64" fill="#801010"/>
<rect x="440.58" y="349.01" width="9.38" height="5.64" fill="#a01410"/>
<rect x="449.56" y="349.01" width="9.38" height="5.64" fill="#c01a10"/>
<rect x="458.53" y="349.01" width="9.38" height="5.64" fill="#e01e10"/>
<rect x="467.51" y="349.01" width="9.38" height="5.64" fill="#f42010"/>
<rect x="476.48" y="349.01" width="9.38" height="5.64" fill="#f82410"/>
<rect x="485.46" y="349.01" width="9.38" height="5.64" fill="#f83418"/>
<rect x="494.44" y="349.01" width="9.38" height="5.64" fill="#f84018"/>
<rect x="503.41" y="349.01" width="9.38" height="5.64" fill="#f6501c"/>
<rect x="512.39" y="349.01" width="9.38" height="5.64" fill="#f46020"/>
<rect x="521.36" y="349.01" width="9.38" height="5.64" fill="#f27020"/>
<rect x="530.34" y="349.01" width="9.38" height="5.64" fill="#f08020"/>
<rect x="539.32" y="349.01" width="9.38" height="5.64" fill="#eca028"/>
<rect x="548.29" y="349.01" width="9.38" height="5.64" fill="#eab02a"/>
<rect x="557.27" y="349.01" width="9.38" height="5.64" fill="#e8c830"/>
<rect x="566.24" y="349.01" width="9.38" height="5.64" fill="#ece040"/>
<rect x="575.22" y="349.01" width="9.38" height="5.64" fill="#f0f828"/>
<rect x="584.20" y="349.01" width="9.38" height="5.64" fill="#f0fc30"/>
<rect x="593.17" y="349.01" width="9.38" height="5.64" fill="#f0fc40"/>
<rect x="602.15" y="349.01" width="9.38" height="5.64" fill="#f0fc60"/>
<rect x="611.12" y="349.01" width="9.38" height="5.64" fill="#f2fc80"/>
<rect x="395.70" y="354.25" width="27.33" height="5.64" fill="#2c0406"/>
<rect x="422.63" y="354.25" width="9.38" height="5.64" fill="#600c0c"/>
<rect x="431.60" y="354.25" width="9.38" height="5.64" fill="#801010"/>
<rect x="440.58" y="354.25" width="9.38" height="5.64" fill="#a01410"/>
<rect x="449.56" y="354.25" width="9.38" height="5.64" fill="#c01a10"/>
<rect x="458.53" y="354.25" width="9.38" height="5.64" fill="#e01e10"/>
<rect x="467.51" y="354.25" width="9.38" height="5.64" fill="#f42010"/>
<rect x="476.48" y="354.25" width="9.38" height="5.64" fill="#f82410"/>
<rect x="485.46" y="354.25" width="9.38" height="5.64" fill="#f82c14"/>
<rect x="494.44" y="354.25" width="9.38" height="5.64" fill="#f83418"/>
<rect x="503.41" y="354.25" width="9.38" height="5.64" fill="#f6501c"/>
<rect x="512.39" y="354.25" width="9.38" height="5.64" fill="#f46020"/>
<rect x="521.36" y="354.25" width="9.38" height="5.64" fill="#f27020"/>
<rect x="530.34" y="354.25" width="9.38" height="5.64" fill="#f08020"/>
<rect x="539.32" y="354.25" width="9.38" height="5.64" fill="#ee9024"/>
<rect x="548.29" y="354.25" width="9.38" height="5.64" fill="#eca028"/>
<rect x="557.27" y="354.25" width="9.38" height="5.64" fill="#eab02a"/>
<rect x="566.24" y="354.25" width="9.38" height="5.64" fill="#ece040"/>
<rect x="575.22" y="354.25" width="9.38" height="5.64" fill="#f0f828"/>
<rect x="584.20" y="354.25" width="9.38" height="5.64" fill="#f0fc30"/>
<rect x="593.17" y="354.25" width="9.38" height="5.64" fill="#f0fc40"/>
<rect x="602.15" y="354.25" width="9.38" height="5.64" fill="#f0fc60"/>
<rect x="611.12" y="354.25" width="9.38" height="5.64" fill="#f2fc80"/>
<rect x="395.70" y="359.49" width="27.33" height="5.64" fill="#2c0406"/>
<rect x="422.63" y="359.49" width="9.38" height="5.64" fill="#480a0a"/>
<rect x="431.60" y="359.49" width="9.38" height="5.64" fill="#600c0c"/>
<rect x="440.58" y="359.49" width="9.38" height="5.64" fill="#a01410"/>
<rect x="449.56" y="359.49" width="9.38" height="5.64" fill="#c01a10"/>
<rect x="458.53" y="359.49" width="9.38" height="5.64" fill="#e01e10"/>
<rect x="467.51" y="359.49" width="9.38" height="5.64" fill="#f42010"/>
<rect x="476.48" y="359.49" width="9.38" height="5.64" fill="#f82410"/>
<rect x="485.46" y="359.49" width="9.38" height="5.64" fill="#f82c14"/>
<rect x="494.44" y="359.49" width="9.38" height="5.64" fill="#f83418"/>
<rect x="503.41" y="359.49" width="9.38" height="5.64" fill="#f84018"/>
<rect x="512.39" y="359.49" width="9.38" height="5.64" fill="#f6501c"/>
<rect x="521.36" y="359.49" width="9.38" height="5.64" fill="#f46020"/>
<rect x="530.34" y="359.49" width="9.38" height="5.64" fill="#f27020"/>
<rect x="539.32" y="359.49" width="9.38" height="5.64" fill="#ee9024"/>
<rect x="548.29" y="359.49" width="9.38" height="5.64" fill="#eca028"/>
<rect x="557.27" y="359.49" width="9.38" height="5.64" fill="#eab02a"/>
<rect x="566.24" y="359.49" width="9.38" height="5.64" fill="#e8c830"/>
<rect x="575.22" y="359.49" width="9.38" height="5.64" fill="#ece040"/>
<rect x="584.20" y="359.49" width="9.38" height="5.64" fill="#f0f828"/>
<rect x="593.17" y="359.49" width="9.38" height="5.64" fill="#f0fc30"/>
<rect x="602.15" y="359.49" width="9.38" height="5.64" fill="#f0fc40"/>
<rect x="611.12" y="359.49" width="9.38" height="5.64" fill="#f0fc60"/>
<rect x="395.70" y="364.73" width="27.33" height="5.64" fill="#2c0406"/>
<rect x="422.63" y="364.73" width="9.38" height="5.64" fill="#480a0a"/>
<rect x="431.60" y="364.73" width="9.38" height="5.64" fill="#600c0c"/>
<rect x="440.58" y="364.73" width="9.38" height="5.64" fill="#801010"/>
<rect x="449.56" y="364.73" width="9.38" height="5.64" fill="#a01410"/>
<rect x="458.53" y="364.73" width="9.38" height="5.64" fill="#c01a10"/>
<rect x="467.51" y="364.73" width="9.38" height="5.64" fill="#e01e10"/>
<rect x="476.48" y="364.73" width="9.38" height="5.64" fill="#f82410"/>
<rect x="485.46" y="364.73" width="9.38" height="5.64" fill="#f82c14"/>
<rect x="494.44" y="364.73" width="9.38" height="5.64" fill="#f83418"/>
<rect x="503.41" y="364.73" width="9.38" height="5.64" fill="#f84018"/>
<rect x="512.39" y="364.73" width="9.38" height="5.64" fill="#f6501c"/>
<rect x="521.36" y="364.73" width="9.38" height="5.64" fill="#f46020"/>
<rect x="530.34" y="364.73" width="9.38" height="5.64" fill="#f27020"/>
<rect x="539.32" y="364.73" width="9.38" height="5.64" fill="#f08020"/>
<rect x="548.29" y="364.73" width="9.38" height="5.64" fill="#ee9024"/>
<rect x="557.27" y="364.73" width="9.38" height="5.64" fill="#eca028"/>
<rect x="566.24" y="364.73" width="9.38" height="5.64" fill="#eab02a"/>
<rect x="575.22" y="364.73" width="9.38" height="5.64" fill="#e8c830"/>
<rect x="584.20" y="364.73" width="9.38" height="5.64" fill="#ece040"/>
<rect x="593.17" y="364.73" width="9.38" height="5.64" fill="#f0f828"/>
<rect x="602.15" y="364.73" width="9.38" height="5.64" fill="#f0fc30"/>
<rect x="611.12" y="364.73" width="9.38" height="5.64" fill="#f0fc40"/>
<rect x="395.70" y="369.97" width="27.33" height="5.64" fill="#2c0406"/>
<rect x="422.63" y="369.97" width="9.38" height="5.64" fill="#480a0a"/>
<rect x="431.60" y="369.97" width="9.38" height="5.64" fill="#600c0c"/>
<rect x="440.58" y="369.97" width="9.38" height="5.64" fill="#801010"/>
<rect x="449.56" y="369.97" width="9.38" height="5.64" fill="#a01410"/>
<rect x="458.53" y="369.97" width="9.38" height="5.64" fill="#c01a10"/>
<rect x="467.51" y="369.97" width="9.38" height="5.64" fill="#e01e10"/>
<rect x="476.48" y="369.97" width="9.38" height="5.64" fill="#f42010"/>
<rect x="485.46" y="369.97" width="9.38" height="5.64" fill="#f82410"/>
<rect x="494.44" y="369.97" width="9.38" height="5.64" fill="#f82c14"/>
<rect x="503.41" y="369.97" width="9.38" height="5.64" fill="#f83418"/>
<rect x="512.39" y="369.97" width="9.38" height="5.64" fill="#f84018"/>
<rect x="521.36" y="369.97" width="9.38" height="5.64" fill="#f6501c"/>
<rect x="530.34" y="369.97" width="9.38" height="5.64" fill="#f46020"/>
<rect x="539.32" y="369.97" width="9.38" height="5.64" fill="#f27020"/>
<rect x="548.29" y="369.97" width="9.38" height="5.64" fill="#ee9024"/>
<rect x="557.27" y="369.97" width="9.38" height="5.64" fill="#eca028"/>
<rect x="566.24" y="369.97" width="9.38" height="5.64" fill="#eab02a"/>
<rect x="575.22" y="369.97" width="9.38" height="5.64" fill="#e8c830"/>
<rect x="584.20" y="369.97" width="9.38" height="5.64" fill="#ece040"/>
<rect x="593.17" y="369.97" width="18.35" height="5.64" fill="#f0f828"/>
<rect x="611.12" y="369.97" width="9.38" height="5.64" fill="#f0fc30"/>
<rect x="395.70" y="375.21" width="27.33" height="5.64" fill="#2c0406"/>
<rect x="422.63" y="375.21" width="9.38" height="5.64" fill="#480a0a"/>
<rect x="431.60" y="375.21" width="9.38" height="5.64" fill="#600c0c"/>
<rect x="440.58" y="375.21" width="9.38" height="5.64" fill="#801010"/>
<rect x="449.56" y="375.21" width="9.38" height="5.64" fill="#a01410"/>
<rect x="458.53" y="375.21" width="9.38" height="5.64" fill="#c01a10"/>
<rect x="467.51" y="375.21" width="9.38" height="5.64" fill="#e01e10"/>
<rect x="476.48" y="375.21" width="9.38" height="5.64" fill="#f42010"/>
<rect x="485.46" y="375.21" width="9.38" height="5.64" fill="#f82410"/>
<rect x="494.44" y="375.21" width="9.38" height="5.64" fill="#f82c14"/>
<rect x="503.41" y="375.21" width="9.38" height="5.64" fill="#f83418"/>
<rect x="512.39" y="375.21" width="9.38" height="5.64" fill="#f84018"/>
<rect x="521.36" y="375.21" width="9.38" height="5.64" fill="#f6501c"/>
<rect x="530.34" y="375.21" width="9.38" height="5.64" fill="#f46020"/>
<rect x="539.32" y="375.21" width="9.38" height="5.64" fill="#f27020"/>
<rect x="548.29" y="375.21" width="9.38" height="5.64" fill="#f08020"/>
<rect x="557.27" y="375.21" width="9.38" height="5.64" fill="#ee9024"/>
<rect x="566.24" y="375.21" width="9.38" height="5.64" fill="#eca028"/>
<rect x="575.22" y="375.21" width="9.38" height="5.64" fill="#eab02a"/>
<rect x="584.20" y="375.21" width="9.38" height="5.64" fill="#e8c830"/>
<rect x="593.17" y="375.21" width="9.38" height="5.64" fill="#ece040"/>
<rect x="602.15" y="375.21" width="18.35" height="5.64" fill="#f0f828"/>
<rect x="395.70" y="380.46" width="27.33" height="5.64" fill="#2c0406"/>
<rect x="422.63" y="380.46" width="9.38" height="5.64" fill="#480a0a"/>
<rect x="431.60" y="380.46" width="9.38" height="5.64" fill="#600c0c"/>
<rect x="440.58" y="380.46" width="9.38" height="5.64" fill="#801010"/>
<rect x="449.56" y="380.46" width="9.38" height="5.64" fill="#a01410"/>
<rect x="458.53" y="380.46" width="9.38" height="5.64" fill="#c01a10"/>
<rect x="467.51" y="380.46" width="18.35" height="5.64" fill="#e01e10"/>
<rect x="485.46" y="380.46" width="9.38" height="5.64" fill="#f42010"/>
<rect x="494.44" y="380.46" width="9.38" height="5.64" fill="#f82410"/>
<rect x="503.41" y="380.46" width="9.38" height="5.64" fill="#f82c14"/>
<rect x="512.39" y="380.46" width="9.38" height="5.64" fill="#f83418"/>
<rect x="521.36" y="380.46" width="9.38" height="5.64" fill="#f84018"/>
<rect x="530.34" y="380.46" width="9.38" height="5.64" fill="#f6501c"/>
<rect x="539.32" y="380.46" width="9.38" height="5.64" fill="#f46020"/>
<rect x="548.29" y="380.46" width="9.38" height="5.64" fill="#f27020"/>
<rect x="557.27" y="380.46" width="9.38" height="5.64" fill="#f08020"/>
<rect x="566.24" y="380.46" width="9.38" height="5.64" fill="#ee9024"/>
<rect x="575.22" y="380.46" width="9.38" height="5.64" fill="#eca028"/>
<rect x="584.20" y="380.46" width="9.38" height="5.64" fill="#eab02a"/>
<rect x="593.17" y="380.46" width="9.38" height="5.64" fill="#e8c830"/>
<rect x="602.15" y="380.46" width="9.38" height="5.64" fill="#ece040"/>
<rect x="611.12" y="380.46" width="9.38" height="5.64" fill="#f0f828"/>
<rect x="395.70" y="385.70" width="27.33" height="5.64" fill="#2c0406"/>
<rect x="422.63" y="385.70" width="9.38" height="5.64" fill="#480a0a"/>
<rect x="431.60" y="385.70" width="9.38" height="5.64" fill="#600c0c"/>
<rect x="440.58" y="385.70" width="18.35" height="5.64" fill="#801010"/>
<rect x="458.53" y="385.70" width="9.38" height="5.64" fill="#a01410"/>
<rect x="467.51" y="385.70" width="9.38" height="5.64" fill="#c01a10"/>
<rect x="476.48" y="385.70" width="9.38" height="5.64" fill="#e01e10"/>
<rect x="485.46" y="385.70" width="9.38" height="5.64" fill="#f42010"/>
<rect x="494.44" y="385.70" width="9.38" height="5.64" fill="#f82410"/>
<rect x="503.41" y="385.70" width="9.38" height="5.64" fill="#f82c14"/>
<rect x="512.39" y="385.70" width="9.38" height="5.64" fill="#f83418"/>
<rect x="521.36" y="385.70" width="9.38" height="5.64" fill="#f84018"/>
<rect x="530.34" y="385.70" width="9.38" height="5.64" fill="#f6501c"/>
<rect x="539.32" y="385.70" width="9.38" height="5.64" fill="#f46020"/>
<rect x="548.29" y="385.70" width="9.38" height="5.64" fill="#f27020"/>
<rect x="557.27" y="385.70" width="9.38" height="5.64" fill="#f08020"/>
<rect x="566.24" y="385.70" width="18.35" height="5.64" fill="#ee9024"/>
<rect x="584.20" y="385.70" width="9.38" height="5.64" fill="#eca028"/>
<rect x="593.17" y="385.70" width="9.38" height="5.64" fill="#eab02a"/>
<rect x="602.15" y="385.70" width="9.38" height="5.64" fill="#e8c830"/>
<rect x="611.12" y="385.70" width="9.38" height="5.64" fill="#ece040"/>
<rect x="395.70" y="390.94" width="27.33" height="5.64" fill="#2c0406"/>
<rect x="422.63" y="390.94" width="18.35" height="5.64" fill="#480a0a"/>
<rect x="440.58" y="390.94" width="9.38" height="5.64" fill="#600c0c"/>
<rect x="449.56" y="390.94" width="9.38" height="5.64" fill="#801010"/>
<rect x="458.53" y="390.94" width="9.38" height="5.64" fill="#a01410"/>
<rect x="467.51" y="390.94" width="9.38" height="5.64" fill="#c01a10"/>
<rect x="476.48" y="390.94" width="9.38" height="5.64" fill="#e01e10"/>
<rect x="485.46" y="390.94" width="9.38" height="5.64" fill="#f42010"/>
<rect x="494.44" y="390.94" width="9.38" height="5.64" fill="#f82410"/>
<rect x="503.41" y="390.94" width="18.35" height="5.64" fill="#f82c14"/>
<rect x="521.36" y="390.94" width="9.38" height="5.64" fill="#f83418"/>
<rect x="530.34" y="390.94" width="9.38" height="5.64" fill="#f84018"/>
<rect x="539.32" y="390.94" width="9.38" height="5.64" fill="#f6501c"/>
<rect x="548.29" y="390.94" width="9.38" height="5.64" fill="#f46020"/>
<rect x="557.27" y="390.94" width="9.38" height="5.64" fill="#f27020"/>
<rect x="566.24" y="390.94" width="9.38" height="5.64" fill="#f08020"/>
<rect x="575.22" y="390.94" width="9.38" height="5.64" fill="#ee9024"/>
<rect x="584.20" y="390.94" width="18.35" height="5.64" fill="#eca028"/>
<rect x="602.15" y="390.94" width="9.38" height="5.64" fill="#eab02a"/>
<rect x="611.12" y="390.94" width="9.38" height="5.64" fill="#e8c830"/>
<rect x="395.70" y="396.18" width="27.33" height="5.64" fill="#2c0406"/>
<rect x="422.63" y="396.18" width="18.35" height="5.64" fill="#480a0a"/>
<rect x="440.58" y="396.18" width="9.38" height="5.64" fill="#600c0c"/>
<rect x="449.56" y="396.18" width="9.38" height="5.64" fill="#801010"/>
<rect x="458.53" y="396.18" width="9.38" height="5.64" fill="#a01410"/>
<rect x="467.51" y="396.18" width="9.38" height="5.64" fill="#c01a10"/>
<rect x="476.48" y="396.18" width="18.35" height="5.64" fill="#e01e10"/>
<rect x="494.44" y="396.18" width="9.38" height="5.64" fill="#f42010"/>
<rect x="503.41" y="396.18" width="9.38" height="5.64" fill="#f82410"/>
<rect x="512.39" y="396.18" width="9.38" height="5.64" fill="#f82c14"/>
<rect x="521.36" y="396.18" width="9.38" height="5.64" fill="#f83418"/>
<rect x="530.34" y="396.18" width="9.38" height="5.64" fill="#f84018"/>
<rect x="539.32" y="396.18" width="18.35" height="5.64" fill="#f6501c"/>
<rect x="557.27" y="396.18" width="9.38" height="5.64" fill="#f46020"/>
<rect x="566.24" y="396.18" width="9.38" height="5.64" fill="#f27020"/>
<rect x="575.22" y="396.18" width="9.38" height="5.64" fill="#f08020"/>
<rect x="584.20" y="396.18" width="9.38" height="5.64" fill="#ee9024"/>
<rect x="593.17" y="396.18" width="18.35" height="5.64" fill="#eca028"/>
<rect x="611.12" y="396.18" width="9.38" height="5.64" fill="#eab02a"/>
<rect x="395.70" y="401.42" width="36.30" height="5.64" fill="#2c0406"/>
<rect x="431.60" y="401.42" width="9.38" height="5.64" fill="#480a0a"/>
<rect x="440.58" y="401.42" width="9.38" height="5.64" fill="#600c0c"/>
<rect x="449.56" y="401.42" width="9.38" height="5.64" fill="#801010"/>
<rect x="458.53" y="401.42" width="18.35" height="5.64" fill="#a01410"/>
<rect x="476.48" y="401.42" width="9.38" height="5.64" fill="#c01a10"/>
<rect x="485.46" y="401.42" width="9.38" height="5.64" fill="#e01e10"/>
<rect x="494.44" y="401.42" width="9.38" height="5.64" fill="#f42010"/>
<rect x="503.41" y="401.42" width="9.38" height="5.64" fill="#f82410"/>
<rect x="512.39" y="401.42" width="18.35" height="5.64" fill="#f82c14"/>
<rect x="530.34" y="401.42" width="9.38" height="5.64" fill="#f83418"/>
<rect x="539.32" y="401.42" width="9.38" height="5.64" fill="#f84018"/>
<rect x="548.29" y="401.42" width="9.38" height="5.64" fill="#f6501c"/>
<rect x="557.27" y="401.42" width="18.35" height="5.64" fill="#f46020"/>
<rect x="575.22" y="401.42" width="9.38" height="5.64" fill="#f27020"/>
<rect x="584.20" y="401.42" width="9.38" height="5.64" fill="#f08020"/>
<rect x="593.17" y="401.42" width="18.35" height="5.64" fill="#ee9024"/>
<rect x="611.12" y="401.42" width="9.38" height="5.64" fill="#eca028"/>
<rect x="395.70" y="406.66" width="36.30" height="5.64" fill="#2c0406"/>
<rect x="431.60" y="406.66" width="9.38" height="5.64" fill="#480a0a"/>
<rect x="440.58" y="406.66" width="9.38" height="5.64" fill="#600c0c"/>
<rect x="449.56" y="406.66" width="18.35" height="5.64" fill="#801010"/>
<rect x="467.51" y="406.66" width="9.38" height="5.64" fill="#a01410"/>
<rect x="476.48" y="406.66" width="9.38" height="5.64" fill="#c01a10"/>
<rect x="485.46" y="406.66" width="9.38" height="5.64" fill="#e01e10"/>
<rect x="494.44" y="406.66" width="18.35" height="5.64" fill="#f42010"/>
<rect x="512.39" y="406.66" width="9.38" height="5.64" fill="#f82410"/>
<rect x="521.36" y="406.66" width="9.38" height="5.64" fill="#f82c14"/>
<rect x="530.34" y="406.66" width="18.35" height="5.64" fill="#f83418"/>
<rect x="548.29" y="406.66" width="9.38" height="5.64" fill="#f84018"/>
<rect x="557.27" y="406.66" width="9.38" height="5.64" fill="#f6501c"/>
<rect x="566.24" y="406.66" width="9.38" height="5.64" fill="#f46020"/>
<rect x="575.22" y="406.66" width="18.35" height="5.64" fill="#f27020"/>
<rect x="593.17" y="406.66" width="9.38" height="5.64" fill="#f08020"/>
<rect x="602.15" y="406.66" width="18.35" height="5.64" fill="#ee9024"/>
<rect x="395.70" y="411.90" width="36.30" height="5.64" fill="#2c0406"/>
<rect x="431.60" y="411.90" width="9.38" height="5.64" fill="#480a0a"/>
<rect x="440.58" y="411.90" width="18.35" height="5.64" fill="#600c0c"/>
<rect x="458.53" y="411.90" width="9.38" height="5.64" fill="#801010"/>
<rect x="467.51" y="411.90" width="9.38" height="5.64" fill="#a01410"/>
<rect x="476.48" y="411.90" width="18.35" height="5.64" fill="#c01a10"/>
<rect x="494.44" y="411.90" width="9.38" height="5.64" fill="#e01e10"/>
<rect x="503.41" y="411.90" width="9.38" height="5.64" fill="#f42010"/>
<rect x="512.39" y="411.90" width="18.35" height="5.64" fill="#f82410"/>
<rect x="530.34" y="411.90" width="9.38" height="5.64" fill="#f82c14"/>
<rect x="539.32" y="411.90" width="9.38" height="5.64" fill="#f83418"/>
<rect x="548.29" y="411.90" width="18.35" height="5.64" fill="#f84018"/>
<rect x="566.24" y="411.90" width="9.38" height="5.64" fill="#f6501c"/>
<rect x="575.22" y="411.90" width="18.35" height="5.64" fill="#f46020"/>
<rect x="593.17" y="411.90" width="9.38" height="5.64" fill="#f27020"/>
<rect x="602.15" y="411.90" width="18.35" height="5.64" fill="#f08020"/>
<rect x="395.70" y="417.15" width="36.30" height="5.64" fill="#2c0406"/>
<rect x="431.60" y="417.15" width="9.38" height="5.64" fill="#480a0a"/>
<rect x="440.58" y="417.15" width="18.35" height="5.64" fill="#600c0c"/>
<rect x="458.53" y="417.15" width="9.38" height="5.64" fill="#801010"/>
<rect x="467.51" y="417.15" width="18.35" height="5.64" fill="#a01410"/>
<rect x="485.46" y="417.15" width="9.38" height="5.64" fill="#c01a10"/>
<rect x="494.44" y="417.15" width="18.35" height="5.64" fill="#e01e10"/>
<rect x="512.39" y="417.15" width="9.38" height="5.64" fill="#f42010"/>
<rect x="521.36" y="417.15" width="9.38" height="5.64" fill="#f82410"/>
<rect x="530.34" y="417.15" width="18.35" height="5.64" fill="#f82c14"/>
<rect x="548.29" y="417.15" width="9.38" height="5.64" fill="#f83418"/>
<rect x="557.27" y="417.15" width="18.35" height="5.64" fill="#f84018"/>
<rect x="575.22" y="417.15" width="9.38" height="5.64" fill="#f6501c"/>
<rect x="584.20" y="417.15" width="18.35" height="5.64" fill="#f46020"/>
<rect x="602.15" y="417.15" width="18.35" height="5.64" fill="#f27020"/>
<rect x="395.70" y="422.39" width="36.30" height="5.64" fill="#2c0406"/>
<rect x="431.60" y="422.39" width="9.38" height="5.64" fill="#480a0a"/>
<rect x="440.58" y="422.39" width="18.35" height="5.64" fill="#600c0c"/>
<rect x="458.53" y="422.39" width="18.35" height="5.64" fill="#801010"/>
<rect x="476.48" y="422.39" width="9.38" height="5.64" fill="#a01410"/>
<rect x="485.46" y="422.39" width="18.35" height="5.64" fill="#c01a10"/>
<rect x="503.41" y="422.39" width="9.38" height="5.64" fill="#e01e10"/>
<rect x="512.39" y="422.39" width="18.35" height="5.64" fill="#f42010"/>
<rect x="530.34" y="422.39" width="9.38" height="5.64" fill="#f82410"/>
<rect x="539.32" y="422.39" width="18.35" height="5.64" fill="#f82c14"/>
<rect x="557.27" y="422.39" width="9.38" height="5.64" fill="#f83418"/>
<rect x="566.24" y="422.39" width="18.35" height="5.64" fill="#f84018"/>
<rect x="584.20" y="422.39" width="9.38" height="5.64" fill="#f6501c"/>
<rect x="593.17" y="422.39" width="18.35" height="5.64" fill="#f46020"/>
<rect x="611.12" y="422.39" width="9.38" height="5.64" fill="#f27020"/>
<rect x="395.70" y="427.63" width="36.30" height="5.64" fill="#2c0406"/>
<rect x="431.60" y="427.63" width="18.35" height="5.64" fill="#480a0a"/>
<rect x="449.56" y="427.63" width="9.38" height="5.64" fill="#600c0c"/>
<rect x="458.53" y="427.63" width="18.35" height="5.64" fill="#801010"/>
<rect x="476.48" y="427.63" width="18.35" height="5.64" fill="#a01410"/>
<rect x="494.44" y="427.63" width="9.38" height="5.64" fill="#c01a10"/>
<rect x="503.41" y="427.63" width="18.35" height="5.64" fill="#e01e10"/>
<rect x="521.36" y="427.63" width="9.38" height="5.64" fill="#f42010"/>
<rect x="530.34" y="427.63" width="18.35" height="5.64" fill="#f82410"/>
<rect x="548.29" y="427.63" width="9.38" height="5.64" fill="#f82c14"/>
<rect x="557.27" y="427.63" width="18.35" height="5.64" fill="#f83418"/>
<rect x="575.22" y="427.63" width="18.35" height="5.64" fill="#f84018"/>
<rect x="593.17" y="427.63" width="18.35" height="5.64" fill="#f6501c"/>
<rect x="611.12" y="427.63" width="9.38" height="5.64" fill="#f46020"/>
<rect x="395.70" y="432.87" width="45.28" height="5.64" fill="#2c0406"/>
<rect x="440.58" y="432.87" width="9.38" height="5.64" fill="#480a0a"/>
<rect x="449.56" y="432.87" width="18.35" height="5.64" fill="#600c0c"/>
<rect x="467.51" y="432.87" width="9.38" height="5.64" fill="#801010"/>
<rect x="476.48" y="432.87" width="18.35" height="5.64" fill="#a01410"/>
<rect x="494.44" y="432.87" width="18.35" height="5.64" fill="#c01a10"/>
<rect x="512.39" y="432.87" width="9.38" height="5.64" fill="#e01e10"/>
<rect x="521.36" y="432.87" width="18.35" height="5.64" fill="#f42010"/>
<rect x="539.32" y="432.87" width="18.35" height="5.64" fill="#f82410"/>
<rect x="557.27" y="432.87" width="18.35" height="5.64" fill="#f82c14"/>
<rect x="575.22" y="432.87" width="18.35" height="5.64" fill="#f83418"/>
<rect x="593.17" y="432.87" width="18.35" height="5.64" fill="#f84018"/>
<rect x="611.12" y="432.87" width="9.38" height="5.64" fill="#f6501c"/>
<rect x="395.70" y="438.11" width="45.28" height="5.64" fill="#2c0406"/>
<rect x="440.58" y="438.11" width="9.38" height="5.64" fill="#480a0a"/>
<rect x="449.56" y="438.11" width="18.35" height="5.64" fill="#600c0c"/>
<rect x="467.51" y="438.11" width="18.35" height="5.64" fill="#801010"/>
<rect x="485.46" y="438.11" width="18.35" height="5.64" fill="#a01410"/>
<rect x="503.41" y="438.11" width="18.35" height="5.64" fill="#c01a10"/>
<rect x="521.36" y="438.11" width="9.38" height="5.64" fill="#e01e10"/>
<rect x="530.34" y="438.11" width="18.35" height="5.64" fill="#f42010"/>
<rect x="548.29" y="438.11" width="18.35" height="5.64" fill="#f82410"/>
<rect x="566.24" y="438.11" width="18.35" height="5.64" fill="#f82c14"/>
<rect x="584.20" y="438.11" width="18.35" height="5.64" fill="#f83418"/>
<rect x="602.15" y="438.11" width="18.35" height="5.64" fill="#f84018"/>
<rect x="395.70" y="443.35" width="45.28" height="5.64" fill="#2c0406"/>
<rect x="440.58" y="443.35" width="18.35" height="5.64" fill="#480a0a"/>
<rect x="458.53" y="443.35" width="18.35" height="5.64" fill="#600c0c"/>
<rect x="476.48" y="443.35" width="18.35" height="5.64" fill="#801010"/>
<rect x="494.44" y="443.35" width="9.38" height="5.64" fill="#a01410"/>
<rect x="503.41" y="443.35" width="18.35" height="5.64" fill="#c01a10"/>
<rect x="521.36" y="443.35" width="18.35" height="5.64" fill="#e01e10"/>
<rect x="539.32" y="443.35" width="18.35" height="5.64" fill="#f42010"/>
<rect x="557.27" y="443.35" width="18.35" height="5.64" fill="#f82410"/>
<rect x="575.22" y="443.35" width="27.33" height="5.64" fill="#f82c14"/>
<rect x="602.15" y="443.35" width="18.35" height="5.64" fill="#f83418"/>
<rect x="395.70" y="448.60" width="54.26" height="5.64" fill="#2c0406"/>
<rect x="449.56" y="448.60" width="9.38" height="5.64" fill="#480a0a"/>
<rect x="458.53" y="448.60" width="18.35" height="5.64" fill="#600c0c"/>
<rect x="476.48" y="448.60" width="18.35" height="5.64" fill="#801010"/>
<rect x="494.44" y="448.60" width="18.35" height="5.64" fill="#a01410"/>
<rect x="512.39" y="448.60" width="18.35" height="5.64" fill="#c01a10"/>
<rect x="530.34" y="448.60" width="27.33" height="5.64" fill="#e01e10"/>
<rect x="557.27" y="448.60" width="18.35" height="5.64" fill="#f42010"/>
<rect x="575.22" y="448.60" width="18.35" height="5.64" fill="#f82410"/>
<rect x="593.17" y="448.60" width="27.33" height="5.64" fill="#f82c14"/>
<rect x="395.70" y="453.84" width="54.26" height="5.64" fill="#2c0406"/>
<rect x="449.56" y="453.84" width="18.35" height="5.64" fill="#480a0a"/>
<rect x="467.51" y="453.84" width="18.35" height="5.64" fill="#600c0c"/>
<rect x="485.46" y="453.84" width="18.35" height="5.64" fill="#801010"/>
<rect x="503.41" y="453.84" width="27.33" height="5.64" fill="#a01410"/>
<rect x="530.34" y="453.84" width="18.35" height="5.64" fill="#c01a10"/>
<rect x="548.29" y="453.84" width="18.35" height="5.64" fill="#e01e10"/>
<rect x="566.24" y="453.84" width="27.33" height="5.64" fill="#f42010"/>
<rect x="593.17" y="453.84" width="27.33" height="5.64" fill="#f82410"/>
<rect x="395.70" y="459.08" width="63.23" height="5.64" fill="#2c0406"/>
<rect x="458.53" y="459.08" width="18.35" height="5.64" fill="#480a0a"/>
<rect x="476.48" y="459.08" width="18.35" height="5.64" fill="#600c0c"/>
<rect x="494.44" y="459.08" width="18.35" height="5.64" fill="#801010"/>
<rect x="512.39" y="459.08" width="27.33" height="5.64" fill="#a01410"/>
<rect x="539.32" y="459.08" width="18.35" height="5.64" fill="#c01a10"/>
<rect x="557.27" y="459.08" width="27.33" height="5.64" fill="#e01e10"/>
<rect x="584.20" y="459.08" width="36.30" height="5.64" fill="#f42010"/>
<rect x="395.70" y="464.32" width="72.21" height="5.64" fill="#2c0406"/>
<rect x="467.51" y="464.32" width="18.35" height="5.64" fill="#480a0a"/>
<rect x="485.46" y="464.32" width="18.35" height="5.64" fill="#600c0c"/>
<rect x="503.41" y="464.32" width="27.33" height="5.64" fill="#801010"/>
<rect x="530.34" y="464.32" width="27.33" height="5.64" fill="#a01410"/>
<rect x="557.27" y="464.32" width="27.33" height="5.64" fill="#c01a10"/>
<rect x="584.20" y="464.32" width="36.30" height="5.64" fill="#e01e10"/>
<rect x="395.70" y="469.56" width="72.21" height="5.64" fill="#2c0406"/>
<rect x="467.51" y="469.56" width="27.33" height="5.64" fill="#480a0a"/>
<rect x="494.44" y="469.56" width="27.33" height="5.64" fill="#600c0c"/>
<rect x="521.36" y="469.56" width="27.33" height="5.64" fill="#801010"/>
<rect x="548.29" y="469.56" width="27.33" height="5.64" fill="#a01410"/>
<rect x="575.22" y="469.56" width="45.28" height="5.64" fill="#c01a10"/>
<rect x="395.70" y="474.80" width="90.16" height="5.64" fill="#2c0406"/>
<rect x="485.46" y="474.80" width="27.33" height="5.64" fill="#480a0a"/>
<rect x="512.39" y="474.80" width="27.33" height="5.64" fill="#600c0c"/>
<rect x="539.32" y="474.80" width="36.30" height="5.64" fill="#801010"/>
<rect x="575.22" y="474.80" width="45.28" height="5.64" fill="#a01410"/>
<rect x="395.70" y="480.04" width="117.09" height="5.64" fill="#2c0406"/>
<rect x="512.39" y="480.04" width="27.33" height="5.64" fill="#480a0a"/>
<rect x="539.32" y="480.04" width="36.30" height="5.64" fill="#600c0c"/>
<rect x="575.22" y="480.04" width="45.28" height="5.64" fill="#801010"/>
<rect x="395.70" y="485.29" width="144.02" height="5.64" fill="#2c0406"/>
<rect x="539.32" y="485.29" width="36.30" height="5.64" fill="#480a0a"/>
<rect x="575.22" y="485.29" width="45.28" height="5.64" fill="#600c0c"/>
<rect x="395.70" y="490.53" width="188.90" height="5.64" fill="#2c0406"/>
<rect x="584.20" y="490.53" width="36.30" height="5.64" fill="#480a0a"/>
<rect x="395.70" y="495.77" width="224.80" height="5.64" fill="#2c0406"/>
<rect x="395.70" y="501.01" width="224.80" height="5.64" fill="#2c0406"/>
<rect x="395.70" y="506.25" width="224.80" height="5.64" fill="#2c0406"/>
<rect x="395.70" y="511.49" width="224.80" height="5.64" fill="#2c0406"/>
<rect x="395.70" y="516.73" width="224.80" height="5.64" fill="#2c0406"/>
<rect x="395.70" y="521.98" width="224.80" height="5.64" fill="#2c0406"/>
<rect x="395.70" y="527.22" width="224.80" height="5.64" fill="#2c0406"/>
<rect x="395.70" y="532.46" width="224.80" height="5.64" fill="#2c0406"/></g>
<path clip-path="url(#clipD)" d="M405.44,319.95 C405.48,322.22 405.57,329.40 405.66,333.60 C405.74,337.80 405.80,341.72 405.94,345.15 C406.08,348.58 406.26,351.42 406.51,354.18 C406.77,356.94 407.05,359.15 407.48,361.74 C407.91,364.33 408.35,366.78 409.09,369.72 C409.84,372.66 410.85,376.09 411.96,379.38 C413.06,382.67 414.30,386.10 415.71,389.46 C417.13,392.82 418.87,396.25 420.44,399.54 C422.02,402.83 423.63,405.91 425.17,409.20 C426.71,412.49 427.75,415.29 429.68,419.28 C431.60,423.27 434.37,428.83 436.73,433.14 C439.09,437.44 441.07,441.30 443.82,445.11 C446.57,448.93 450.46,452.91 453.23,456.03 C456.00,459.14 457.79,461.21 460.43,463.80 C463.07,466.39 466.18,469.19 469.06,471.57 C471.93,473.95 474.58,476.12 477.68,478.08 C480.79,480.04 484.37,481.93 487.71,483.33 C491.05,484.73 494.39,485.57 497.73,486.48 C501.07,487.39 504.17,488.06 507.76,488.79 C511.34,489.53 515.66,490.26 519.25,490.89 C522.83,491.52 525.87,492.01 529.27,492.57 C532.68,493.13 536.14,493.76 539.69,494.25 C543.24,494.74 546.94,495.21 550.57,495.51 C554.21,495.81 556.04,495.95 561.49,496.03 C566.95,496.12 576.03,496.05 583.29,496.03 C590.56,496.02 599.17,495.95 605.10,495.93 C611.03,495.91 616.58,495.93 618.88,495.93" fill="none" stroke="#f0f0f0" stroke-width="1.3" stroke-dasharray="5,3.5"/>
<rect x="395.7" y="322.8" width="224.40" height="214.90" fill="none" stroke="#303030" stroke-width="1"/>
<line x1="391.20" y1="535.20" x2="395.70" y2="535.20" stroke="#303030" stroke-width="1"/>
<text x="388.70" y="538.50" font-size="9.2" text-anchor="end">0</text>
<line x1="391.20" y1="493.20" x2="395.70" y2="493.20" stroke="#303030" stroke-width="1"/>
<text x="388.70" y="496.50" font-size="9.2" text-anchor="end">20</text>
<line x1="391.20" y1="451.20" x2="395.70" y2="451.20" stroke="#303030" stroke-width="1"/>
<text x="388.70" y="454.50" font-size="9.2" text-anchor="end">40</text>
<line x1="391.20" y1="409.20" x2="395.70" y2="409.20" stroke="#303030" stroke-width="1"/>
<text x="388.70" y="412.50" font-size="9.2" text-anchor="end">60</text>
<line x1="391.20" y1="367.20" x2="395.70" y2="367.20" stroke="#303030" stroke-width="1"/>
<text x="388.70" y="370.50" font-size="9.2" text-anchor="end">80</text>
<line x1="391.20" y1="325.20" x2="395.70" y2="325.20" stroke="#303030" stroke-width="1"/>
<text x="388.70" y="328.50" font-size="9.2" text-anchor="end">100</text>
<line x1="400.50" y1="537.70" x2="400.50" y2="542.20" stroke="#303030" stroke-width="1"/>
<text x="403.80" y="545.30" font-size="9.1" text-anchor="end" transform="rotate(-90 403.8 545.3000000000001)">1000</text>
<line x1="436.30" y1="537.70" x2="436.30" y2="542.20" stroke="#303030" stroke-width="1"/>
<text x="439.60" y="545.30" font-size="9.1" text-anchor="end" transform="rotate(-90 439.6 545.3000000000001)">2000</text>
<line x1="472.10" y1="537.70" x2="472.10" y2="542.20" stroke="#303030" stroke-width="1"/>
<text x="475.40" y="545.30" font-size="9.1" text-anchor="end" transform="rotate(-90 475.40000000000003 545.3000000000001)">3000</text>
<line x1="507.90" y1="537.70" x2="507.90" y2="542.20" stroke="#303030" stroke-width="1"/>
<text x="511.20" y="545.30" font-size="9.1" text-anchor="end" transform="rotate(-90 511.2 545.3000000000001)">4000</text>
<line x1="543.70" y1="537.70" x2="543.70" y2="542.20" stroke="#303030" stroke-width="1"/>
<text x="547.00" y="545.30" font-size="9.1" text-anchor="end" transform="rotate(-90 547.0 545.3000000000001)">5000</text>
<line x1="579.50" y1="537.70" x2="579.50" y2="542.20" stroke="#303030" stroke-width="1"/>
<text x="582.80" y="545.30" font-size="9.1" text-anchor="end" transform="rotate(-90 582.8 545.3000000000001)">6000</text>
<line x1="615.30" y1="537.70" x2="615.30" y2="542.20" stroke="#303030" stroke-width="1"/>
<text x="618.60" y="545.30" font-size="9.1" text-anchor="end" transform="rotate(-90 618.5999999999999 545.3000000000001)">7000</text>
<rect x="629.4" y="530.43" width="15.80" height="7.47" fill="#2c0406"/>
<rect x="629.4" y="523.26" width="15.80" height="7.47" fill="#480a0a"/>
<rect x="629.4" y="516.09" width="15.80" height="7.47" fill="#600c0c"/>
<rect x="629.4" y="508.92" width="15.80" height="7.47" fill="#801010"/>
<rect x="629.4" y="501.75" width="15.80" height="7.47" fill="#a01410"/>
<rect x="629.4" y="494.58" width="15.80" height="7.47" fill="#c01a10"/>
<rect x="629.4" y="487.41" width="15.80" height="7.47" fill="#e01e10"/>
<rect x="629.4" y="480.24" width="15.80" height="7.47" fill="#f42010"/>
<rect x="629.4" y="473.07" width="15.80" height="7.47" fill="#f82410"/>
<rect x="629.4" y="465.90" width="15.80" height="7.47" fill="#f82c14"/>
<rect x="629.4" y="458.73" width="15.80" height="7.47" fill="#f83418"/>
<rect x="629.4" y="451.56" width="15.80" height="7.47" fill="#f84018"/>
<rect x="629.4" y="444.39" width="15.80" height="7.47" fill="#f6501c"/>
<rect x="629.4" y="437.22" width="15.80" height="7.47" fill="#f46020"/>
<rect x="629.4" y="430.05" width="15.80" height="7.47" fill="#f27020"/>
<rect x="629.4" y="422.88" width="15.80" height="7.47" fill="#f08020"/>
<rect x="629.4" y="415.71" width="15.80" height="7.47" fill="#ee9024"/>
<rect x="629.4" y="408.54" width="15.80" height="7.47" fill="#eca028"/>
<rect x="629.4" y="401.37" width="15.80" height="7.47" fill="#eab02a"/>
<rect x="629.4" y="394.20" width="15.80" height="7.47" fill="#e8c830"/>
<rect x="629.4" y="387.03" width="15.80" height="7.47" fill="#ece040"/>
<rect x="629.4" y="379.86" width="15.80" height="7.47" fill="#f0f828"/>
<rect x="629.4" y="372.69" width="15.80" height="7.47" fill="#f0fc30"/>
<rect x="629.4" y="365.52" width="15.80" height="7.47" fill="#f0fc40"/>
<rect x="629.4" y="358.35" width="15.80" height="7.47" fill="#f0fc60"/>
<rect x="629.4" y="351.18" width="15.80" height="7.47" fill="#f2fc80"/>
<rect x="629.4" y="344.01" width="15.80" height="7.47" fill="#f4fca8"/>
<rect x="629.4" y="336.84" width="15.80" height="7.47" fill="#f8fcc8"/>
<rect x="629.4" y="329.67" width="15.80" height="7.47" fill="#fcfee8"/>
<rect x="629.4" y="322.50" width="15.80" height="7.47" fill="#fffffc"/>
<rect x="629.4" y="322.5" width="15.80" height="215.10" fill="none" stroke="#606060" stroke-width="0.8"/>
<line x1="645.20" y1="322.50" x2="648.70" y2="322.50" stroke="#303030" stroke-width="0.9"/>
<text x="651.20" y="325.10" font-size="7.2" text-anchor="start">132.5</text>
<line x1="645.20" y1="365.52" x2="648.70" y2="365.52" stroke="#303030" stroke-width="0.9"/>
<text x="651.20" y="368.12" font-size="7.2" text-anchor="start">106.0</text>
<line x1="645.20" y1="408.54" x2="648.70" y2="408.54" stroke="#303030" stroke-width="0.9"/>
<text x="651.20" y="411.14" font-size="7.2" text-anchor="start">79.5</text>
<line x1="645.20" y1="451.56" x2="648.70" y2="451.56" stroke="#303030" stroke-width="0.9"/>
<text x="651.20" y="454.16" font-size="7.2" text-anchor="start">53.0</text>
<line x1="645.20" y1="494.58" x2="648.70" y2="494.58" stroke="#303030" stroke-width="0.9"/>
<text x="651.20" y="497.18" font-size="7.2" text-anchor="start">26.5</text>
<line x1="645.20" y1="537.60" x2="648.70" y2="537.60" stroke="#303030" stroke-width="0.9"/>
<text x="651.20" y="540.20" font-size="7.2" text-anchor="start">0.0</text>
<text x="622.50" y="314.50" font-size="11.2" text-anchor="start">MWth</text>
<text x="508.00" y="578.90" font-size="11.1" text-anchor="middle">Depth (m)</text>
<text x="370.00" y="427.00" font-size="10.8" text-anchor="middle" transform="rotate(-90 370.0 427.0)">Thermal gradient (<tspan font-size="0.62em" dy="-0.42em">o</tspan><tspan dy="0.26em">C</tspan>/Km)</text>
<text x="343.60" y="300.30" font-size="19.5" text-anchor="start" textLength="16.6" lengthAdjust="spacingAndGlyphs">d)</text>
</svg>
</body></html>
